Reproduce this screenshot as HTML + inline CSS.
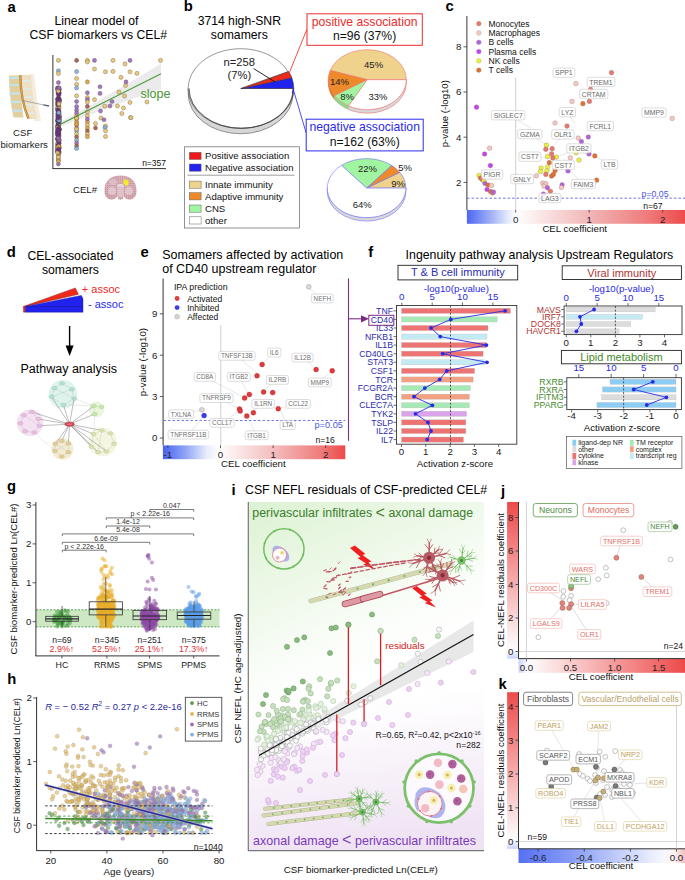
<!DOCTYPE html>
<html><head><meta charset="utf-8"><style>
html,body{margin:0;padding:0;background:#fff;}
svg{display:block;font-family:"Liberation Sans", sans-serif;}
</style></head><body>
<svg width="685" height="880" viewBox="0 0 685 880">
<defs>
<pattern id="brainpat" width="2.1" height="2.1" patternUnits="userSpaceOnUse"><rect width="2.1" height="2.1" fill="#dbb4bd"/><circle cx="0.6" cy="0.6" r="0.6" fill="#b77d8a"/></pattern>
<linearGradient id="cbar" x1="0" y1="0" x2="1" y2="0">
 <stop offset="0" stop-color="#4d66f2"/><stop offset="0.1" stop-color="#98aaf6"/><stop offset="0.19" stop-color="#e6ebfc"/><stop offset="0.23" stop-color="#ffffff"/><stop offset="0.28" stop-color="#fdf3f3"/><stop offset="0.55" stop-color="#f2b8b8"/><stop offset="0.8" stop-color="#ef8282"/><stop offset="1" stop-color="#ee4c4c"/>
</linearGradient>
<linearGradient id="cbarE" x1="0" y1="0" x2="1" y2="0">
 <stop offset="0" stop-color="#4a62f0"/><stop offset="0.12" stop-color="#8ea2f5"/><stop offset="0.24" stop-color="#e8ecfc"/><stop offset="0.31" stop-color="#ffffff"/><stop offset="0.36" stop-color="#fdf2f2"/><stop offset="0.62" stop-color="#f3baba"/><stop offset="0.85" stop-color="#ef8080"/><stop offset="1" stop-color="#ee4a4a"/>
</linearGradient>
<linearGradient id="cbarJx" x1="0" y1="0" x2="1" y2="0">
 <stop offset="0" stop-color="#c8d2fa"/><stop offset="0.05" stop-color="#fafaff"/><stop offset="0.1" stop-color="#fdf6f6"/><stop offset="1" stop-color="#ee4a4a"/>
</linearGradient>
<linearGradient id="cbarJy" x1="0" y1="1" x2="0" y2="0">
 <stop offset="0" stop-color="#c8d2fa"/><stop offset="0.05" stop-color="#fafaff"/><stop offset="0.1" stop-color="#fdf6f6"/><stop offset="1" stop-color="#ee4a4a"/>
</linearGradient>
<linearGradient id="cbarKx" x1="0" y1="0" x2="1" y2="0">
 <stop offset="0" stop-color="#5670f4"/><stop offset="0.3" stop-color="#8499f6"/><stop offset="0.6" stop-color="#c2cdfa"/><stop offset="0.86" stop-color="#f4f6fe"/><stop offset="0.93" stop-color="#fdf5f5"/><stop offset="1" stop-color="#f4c0c0"/>
</linearGradient>
<linearGradient id="cbarKy" x1="0" y1="1" x2="0" y2="0">
 <stop offset="0" stop-color="#c8d2fa"/><stop offset="0.05" stop-color="#fafaff"/><stop offset="0.1" stop-color="#fdf6f6"/><stop offset="1" stop-color="#ee4a4a"/>
</linearGradient>
<linearGradient id="igreen" x1="0" y1="0" x2="0.55" y2="1">
 <stop offset="0" stop-color="#dcf2d2"/><stop offset="0.55" stop-color="#f4fbf1"/><stop offset="1" stop-color="#ffffff" stop-opacity="0"/>
</linearGradient>
<linearGradient id="ipurp" x1="0.5" y1="1" x2="0.3" y2="0">
 <stop offset="0" stop-color="#efe2f3"/><stop offset="0.6" stop-color="#faf5fb"/><stop offset="1" stop-color="#ffffff" stop-opacity="0"/>
</linearGradient>
</defs>
<text x="7.6" y="11.5" font-size="14.8" font-weight="bold">a</text>
<text x="96.5" y="25" font-size="12.2" text-anchor="middle">Linear model of</text>
<text x="98.2" y="39" font-size="12.2" text-anchor="middle">CSF biomarkers vs CEL#</text>
<g><path d="M30 74 L34 74 Q36 98 41 121 L34 121 Q30 98 30 74 Z" fill="#f4ecdd"/><path d="M20 75 L31 75 Q32 97 37 119 L27 119 Q23 97 20 75 Z" fill="#ede0c4"/><path d="M9 75.5 L19.5 75.5 Q20 96 23.5 117.5 L13.5 117.5 Q9 96 9 75.5 Z" fill="#e2cf9f"/><path d="M9.5 78 h10 M9 85.1 h10.5 M9.3 93.5 h11 M10.3 102 h11 M12.3 110.8 h10.5" stroke="#bfe5f2" stroke-width="1.9"/><path d="M23 81 h7 M23.5 89 h7.5 M24.5 97 h7.5 M25.5 105 h7.5 M27 113 h7" stroke="#dceef4" stroke-width="1.6"/><path d="M20.3 75 Q20.5 100 28.5 118.5" fill="none" stroke="#b88333" stroke-width="2.4"/><path d="M20.3 75 Q20.5 100 28.5 118.5" fill="none" stroke="#d9a553" stroke-width="1.1"/><path d="M21.7 100.3 L44 105" stroke="#8c9096" stroke-width="0.7"/><path d="M43.4 104.8 L49 106" stroke="#5f646a" stroke-width="1.3"/></g>
<text x="22.7" y="135.6" font-size="9.6" fill="#222" text-anchor="middle">CSF</text>
<text x="24.2" y="147.5" font-size="9.6" fill="#222" text-anchor="middle">biomarkers</text>
<text x="73" y="192.7" font-size="9.6" fill="#222">CEL#</text>
<g><path d="M104.5 191 C104 181 111 175.5 120.5 175.5 C130 175.5 137 181 136.5 191 C136.5 197 133 200 128.5 199.5 C125.5 199 124 197 123.5 195.5 L123 199 Q120.5 200.5 118 199 L117.5 195.5 C117 197 115.5 199 112.5 199.5 C108 200 104.5 197 104.5 191 Z" fill="url(#brainpat)"/><ellipse cx="112" cy="191" rx="4" ry="4" fill="#e6cdd2" opacity="0.8"/><ellipse cx="129" cy="191" rx="4" ry="4" fill="#e6cdd2" opacity="0.8"/><ellipse cx="113" cy="182" rx="4" ry="3" fill="#e6cdd2" opacity="0.6"/><path d="M117 185 Q120.5 183 124 185 L123.5 196 Q120.5 198 117.5 196 Z" fill="#e4c8ce" opacity="0.8"/><path d="M118 185.5 q2.5 -1.5 5 0" stroke="#fff" stroke-width="0.8" fill="none"/><path d="M123.6 178 l1.2 2.2 l1.3 -1.6 l0.6 2.1 l2.1 -1 l-0.6 2.3 l1.4 1 l-1.8 0.8 l0.6 2.4 l-1.8 -1.2 l-1.2 1.2 l-0.8 -2.2 l-1.6 0.2 l0.9 -1.8 l-1.2 -1.5 l1.4 -0.2 z" fill="#f2f020"/></g>
<path d="M59 122.5 Q110 95 161 63.5 L161 89 Q110 106 59 127.5 Z" fill="#e9e9e9" opacity="0.9"/>
<line x1="52.9" y1="55" x2="52.9" y2="168.6" stroke="#333" stroke-width="1"/>
<line x1="52.4" y1="168.6" x2="166" y2="168.6" stroke="#333" stroke-width="1"/>
<circle cx="58.4" cy="60.4" r="2.05" fill="#eac56f" stroke="#5a4a3a" stroke-width="0.35" fill-opacity="0.92"/>
<circle cx="58.4" cy="70.8" r="2.05" fill="#7fb3e6" stroke="#5a4a3a" stroke-width="0.35" fill-opacity="0.92"/>
<circle cx="58.4" cy="73.5" r="2.05" fill="#eac56f" stroke="#5a4a3a" stroke-width="0.35" fill-opacity="0.92"/>
<circle cx="58.4" cy="82.6" r="2.05" fill="#9a6cc0" stroke="#5a4a3a" stroke-width="0.35" fill-opacity="0.92"/>
<circle cx="58.4" cy="164" r="2.05" fill="#9a6cc0" stroke="#5a4a3a" stroke-width="0.35" fill-opacity="0.92"/>
<circle cx="58.4" cy="160" r="2.05" fill="#7fb3e6" stroke="#5a4a3a" stroke-width="0.35" fill-opacity="0.92"/>
<circle cx="58.4" cy="158" r="2.05" fill="#eac56f" stroke="#5a4a3a" stroke-width="0.35" fill-opacity="0.92"/>
<circle cx="58.4" cy="155" r="2.05" fill="#e3a23a" stroke="#5a4a3a" stroke-width="0.35" fill-opacity="0.92"/>
<circle cx="58.4" cy="157" r="2.05" fill="#eac56f" stroke="#5a4a3a" stroke-width="0.35" fill-opacity="0.92"/>
<circle cx="58.4" cy="161" r="2.05" fill="#e3a23a" stroke="#5a4a3a" stroke-width="0.35" fill-opacity="0.92"/>
<circle cx="58.4" cy="153.5" r="2.05" fill="#eac56f" stroke="#5a4a3a" stroke-width="0.35" fill-opacity="0.92"/>
<circle cx="59.2" cy="116.9" r="2.05" fill="#66308c" stroke="#5a4a3a" stroke-width="0.35" fill-opacity="0.92"/>
<circle cx="58.6" cy="117.7" r="2.05" fill="#66308c" stroke="#5a4a3a" stroke-width="0.35" fill-opacity="0.92"/>
<circle cx="58.7" cy="99.2" r="2.05" fill="#66308c" stroke="#5a4a3a" stroke-width="0.35" fill-opacity="0.92"/>
<circle cx="58" cy="139.3" r="2.05" fill="#66308c" stroke="#5a4a3a" stroke-width="0.35" fill-opacity="0.92"/>
<circle cx="58.8" cy="93" r="2.05" fill="#9a6cc0" stroke="#5a4a3a" stroke-width="0.35" fill-opacity="0.92"/>
<circle cx="59.3" cy="89.8" r="2.05" fill="#7fb3e6" stroke="#5a4a3a" stroke-width="0.35" fill-opacity="0.92"/>
<circle cx="57.7" cy="130.2" r="2.05" fill="#66308c" stroke="#5a4a3a" stroke-width="0.35" fill-opacity="0.92"/>
<circle cx="57.5" cy="88" r="2.05" fill="#66308c" stroke="#5a4a3a" stroke-width="0.35" fill-opacity="0.92"/>
<circle cx="57.5" cy="99.6" r="2.05" fill="#66308c" stroke="#5a4a3a" stroke-width="0.35" fill-opacity="0.92"/>
<circle cx="59.1" cy="117.6" r="2.05" fill="#66308c" stroke="#5a4a3a" stroke-width="0.35" fill-opacity="0.92"/>
<circle cx="58.4" cy="121.3" r="2.05" fill="#66308c" stroke="#5a4a3a" stroke-width="0.35" fill-opacity="0.92"/>
<circle cx="58" cy="130.7" r="2.05" fill="#66308c" stroke="#5a4a3a" stroke-width="0.35" fill-opacity="0.92"/>
<circle cx="59.1" cy="152.8" r="2.05" fill="#7fb3e6" stroke="#5a4a3a" stroke-width="0.35" fill-opacity="0.92"/>
<circle cx="57.9" cy="133.7" r="2.05" fill="#66308c" stroke="#5a4a3a" stroke-width="0.35" fill-opacity="0.92"/>
<circle cx="58.9" cy="106.1" r="2.05" fill="#66308c" stroke="#5a4a3a" stroke-width="0.35" fill-opacity="0.92"/>
<circle cx="58.2" cy="113.4" r="2.05" fill="#e3a23a" stroke="#5a4a3a" stroke-width="0.35" fill-opacity="0.92"/>
<circle cx="57.4" cy="150.2" r="2.05" fill="#e3a23a" stroke="#5a4a3a" stroke-width="0.35" fill-opacity="0.92"/>
<circle cx="58.3" cy="100.8" r="2.05" fill="#eac56f" stroke="#5a4a3a" stroke-width="0.35" fill-opacity="0.92"/>
<circle cx="57.5" cy="151.7" r="2.05" fill="#66308c" stroke="#5a4a3a" stroke-width="0.35" fill-opacity="0.92"/>
<circle cx="57.9" cy="128.5" r="2.05" fill="#9a6cc0" stroke="#5a4a3a" stroke-width="0.35" fill-opacity="0.92"/>
<circle cx="59.3" cy="92.8" r="2.05" fill="#66308c" stroke="#5a4a3a" stroke-width="0.35" fill-opacity="0.92"/>
<circle cx="57.9" cy="137" r="2.05" fill="#66308c" stroke="#5a4a3a" stroke-width="0.35" fill-opacity="0.92"/>
<circle cx="59" cy="93.7" r="2.05" fill="#66308c" stroke="#5a4a3a" stroke-width="0.35" fill-opacity="0.92"/>
<circle cx="58.3" cy="98.7" r="2.05" fill="#66308c" stroke="#5a4a3a" stroke-width="0.35" fill-opacity="0.92"/>
<circle cx="57.7" cy="99.6" r="2.05" fill="#9a6cc0" stroke="#5a4a3a" stroke-width="0.35" fill-opacity="0.92"/>
<circle cx="58.2" cy="129.5" r="2.05" fill="#66308c" stroke="#5a4a3a" stroke-width="0.35" fill-opacity="0.92"/>
<circle cx="59.3" cy="101" r="2.05" fill="#66308c" stroke="#5a4a3a" stroke-width="0.35" fill-opacity="0.92"/>
<circle cx="59.2" cy="140" r="2.05" fill="#66308c" stroke="#5a4a3a" stroke-width="0.35" fill-opacity="0.92"/>
<circle cx="59.1" cy="100.9" r="2.05" fill="#66308c" stroke="#5a4a3a" stroke-width="0.35" fill-opacity="0.92"/>
<circle cx="59.4" cy="129.4" r="2.05" fill="#66308c" stroke="#5a4a3a" stroke-width="0.35" fill-opacity="0.92"/>
<circle cx="58.9" cy="101.1" r="2.05" fill="#66308c" stroke="#5a4a3a" stroke-width="0.35" fill-opacity="0.92"/>
<circle cx="57.5" cy="108.7" r="2.05" fill="#66308c" stroke="#5a4a3a" stroke-width="0.35" fill-opacity="0.92"/>
<circle cx="57.9" cy="92.9" r="2.05" fill="#66308c" stroke="#5a4a3a" stroke-width="0.35" fill-opacity="0.92"/>
<circle cx="58.3" cy="126.7" r="2.05" fill="#66308c" stroke="#5a4a3a" stroke-width="0.35" fill-opacity="0.92"/>
<circle cx="58.5" cy="150.3" r="2.05" fill="#66308c" stroke="#5a4a3a" stroke-width="0.35" fill-opacity="0.92"/>
<circle cx="57.7" cy="144.2" r="2.05" fill="#66308c" stroke="#5a4a3a" stroke-width="0.35" fill-opacity="0.92"/>
<circle cx="57.9" cy="147" r="2.05" fill="#9a6cc0" stroke="#5a4a3a" stroke-width="0.35" fill-opacity="0.92"/>
<circle cx="59.3" cy="99.5" r="2.05" fill="#9a6cc0" stroke="#5a4a3a" stroke-width="0.35" fill-opacity="0.92"/>
<circle cx="59.2" cy="100" r="2.05" fill="#eac56f" stroke="#5a4a3a" stroke-width="0.35" fill-opacity="0.92"/>
<circle cx="57.6" cy="126.8" r="2.05" fill="#66308c" stroke="#5a4a3a" stroke-width="0.35" fill-opacity="0.92"/>
<circle cx="57.9" cy="89.6" r="2.05" fill="#eac56f" stroke="#5a4a3a" stroke-width="0.35" fill-opacity="0.92"/>
<circle cx="59" cy="133.5" r="2.05" fill="#66308c" stroke="#5a4a3a" stroke-width="0.35" fill-opacity="0.92"/>
<circle cx="57.8" cy="126.4" r="2.05" fill="#66308c" stroke="#5a4a3a" stroke-width="0.35" fill-opacity="0.92"/>
<circle cx="57.9" cy="134.5" r="2.05" fill="#66308c" stroke="#5a4a3a" stroke-width="0.35" fill-opacity="0.92"/>
<circle cx="58.6" cy="123.9" r="2.05" fill="#e3a23a" stroke="#5a4a3a" stroke-width="0.35" fill-opacity="0.92"/>
<circle cx="57.8" cy="105.5" r="2.05" fill="#eac56f" stroke="#5a4a3a" stroke-width="0.35" fill-opacity="0.92"/>
<circle cx="58.3" cy="88.1" r="2.05" fill="#66308c" stroke="#5a4a3a" stroke-width="0.35" fill-opacity="0.92"/>
<circle cx="58.1" cy="91" r="2.05" fill="#66308c" stroke="#5a4a3a" stroke-width="0.35" fill-opacity="0.92"/>
<circle cx="58.1" cy="124.8" r="2.05" fill="#66308c" stroke="#5a4a3a" stroke-width="0.35" fill-opacity="0.92"/>
<circle cx="58.7" cy="145.8" r="2.05" fill="#7fb3e6" stroke="#5a4a3a" stroke-width="0.35" fill-opacity="0.92"/>
<circle cx="57.7" cy="132.6" r="2.05" fill="#66308c" stroke="#5a4a3a" stroke-width="0.35" fill-opacity="0.92"/>
<circle cx="59.2" cy="89.3" r="2.05" fill="#66308c" stroke="#5a4a3a" stroke-width="0.35" fill-opacity="0.92"/>
<circle cx="57.4" cy="133.3" r="2.05" fill="#eac56f" stroke="#5a4a3a" stroke-width="0.35" fill-opacity="0.92"/>
<circle cx="58.9" cy="129" r="2.05" fill="#66308c" stroke="#5a4a3a" stroke-width="0.35" fill-opacity="0.92"/>
<circle cx="57.6" cy="108" r="2.05" fill="#7fb3e6" stroke="#5a4a3a" stroke-width="0.35" fill-opacity="0.92"/>
<circle cx="59.2" cy="123" r="2.05" fill="#9a6cc0" stroke="#5a4a3a" stroke-width="0.35" fill-opacity="0.92"/>
<circle cx="59" cy="135.6" r="2.05" fill="#9a6cc0" stroke="#5a4a3a" stroke-width="0.35" fill-opacity="0.92"/>
<circle cx="58.8" cy="147.4" r="2.05" fill="#66308c" stroke="#5a4a3a" stroke-width="0.35" fill-opacity="0.92"/>
<circle cx="58.2" cy="146.5" r="2.05" fill="#e3a23a" stroke="#5a4a3a" stroke-width="0.35" fill-opacity="0.92"/>
<circle cx="58.5" cy="139.2" r="2.05" fill="#e3a23a" stroke="#5a4a3a" stroke-width="0.35" fill-opacity="0.92"/>
<circle cx="58.6" cy="128.2" r="2.05" fill="#66308c" stroke="#5a4a3a" stroke-width="0.35" fill-opacity="0.92"/>
<circle cx="58.7" cy="127.2" r="2.05" fill="#66308c" stroke="#5a4a3a" stroke-width="0.35" fill-opacity="0.92"/>
<circle cx="58.9" cy="152.6" r="2.05" fill="#e3a23a" stroke="#5a4a3a" stroke-width="0.35" fill-opacity="0.92"/>
<circle cx="58.6" cy="112.6" r="2.05" fill="#9a6cc0" stroke="#5a4a3a" stroke-width="0.35" fill-opacity="0.92"/>
<circle cx="57.6" cy="116.1" r="2.05" fill="#9a6cc0" stroke="#5a4a3a" stroke-width="0.35" fill-opacity="0.92"/>
<circle cx="58.6" cy="136.5" r="2.05" fill="#66308c" stroke="#5a4a3a" stroke-width="0.35" fill-opacity="0.92"/>
<circle cx="58.8" cy="118.7" r="2.05" fill="#66308c" stroke="#5a4a3a" stroke-width="0.35" fill-opacity="0.92"/>
<circle cx="59.2" cy="119.8" r="2.05" fill="#66308c" stroke="#5a4a3a" stroke-width="0.35" fill-opacity="0.92"/>
<circle cx="58" cy="103.9" r="2.05" fill="#66308c" stroke="#5a4a3a" stroke-width="0.35" fill-opacity="0.92"/>
<circle cx="57.7" cy="131.8" r="2.05" fill="#66308c" stroke="#5a4a3a" stroke-width="0.35" fill-opacity="0.92"/>
<circle cx="58.3" cy="146.8" r="2.05" fill="#66308c" stroke="#5a4a3a" stroke-width="0.35" fill-opacity="0.92"/>
<circle cx="58.7" cy="145.9" r="2.05" fill="#66308c" stroke="#5a4a3a" stroke-width="0.35" fill-opacity="0.92"/>
<circle cx="59" cy="100.1" r="2.05" fill="#66308c" stroke="#5a4a3a" stroke-width="0.35" fill-opacity="0.92"/>
<circle cx="58.2" cy="147.3" r="2.05" fill="#e3a23a" stroke="#5a4a3a" stroke-width="0.35" fill-opacity="0.92"/>
<circle cx="57.7" cy="125.5" r="2.05" fill="#66308c" stroke="#5a4a3a" stroke-width="0.35" fill-opacity="0.92"/>
<circle cx="59.1" cy="119.8" r="2.05" fill="#9a6cc0" stroke="#5a4a3a" stroke-width="0.35" fill-opacity="0.92"/>
<circle cx="58" cy="133.9" r="2.05" fill="#eac56f" stroke="#5a4a3a" stroke-width="0.35" fill-opacity="0.92"/>
<circle cx="58" cy="98.2" r="2.05" fill="#66308c" stroke="#5a4a3a" stroke-width="0.35" fill-opacity="0.92"/>
<circle cx="58.7" cy="101.1" r="2.05" fill="#66308c" stroke="#5a4a3a" stroke-width="0.35" fill-opacity="0.92"/>
<circle cx="59.1" cy="119.6" r="2.05" fill="#66308c" stroke="#5a4a3a" stroke-width="0.35" fill-opacity="0.92"/>
<circle cx="57.5" cy="151.8" r="2.05" fill="#66308c" stroke="#5a4a3a" stroke-width="0.35" fill-opacity="0.92"/>
<circle cx="57.5" cy="89.1" r="2.05" fill="#e3a23a" stroke="#5a4a3a" stroke-width="0.35" fill-opacity="0.92"/>
<circle cx="58" cy="133.8" r="2.05" fill="#66308c" stroke="#5a4a3a" stroke-width="0.35" fill-opacity="0.92"/>
<circle cx="57.7" cy="139.2" r="2.05" fill="#66308c" stroke="#5a4a3a" stroke-width="0.35" fill-opacity="0.92"/>
<circle cx="59.1" cy="117" r="2.05" fill="#66308c" stroke="#5a4a3a" stroke-width="0.35" fill-opacity="0.92"/>
<circle cx="57.5" cy="102.7" r="2.05" fill="#66308c" stroke="#5a4a3a" stroke-width="0.35" fill-opacity="0.92"/>
<circle cx="58.7" cy="128.5" r="2.05" fill="#66308c" stroke="#5a4a3a" stroke-width="0.35" fill-opacity="0.92"/>
<circle cx="59.3" cy="130.2" r="2.05" fill="#9a6cc0" stroke="#5a4a3a" stroke-width="0.35" fill-opacity="0.92"/>
<circle cx="58.4" cy="132.2" r="2.05" fill="#66308c" stroke="#5a4a3a" stroke-width="0.35" fill-opacity="0.92"/>
<circle cx="58.3" cy="98.8" r="2.05" fill="#66308c" stroke="#5a4a3a" stroke-width="0.35" fill-opacity="0.92"/>
<circle cx="57.9" cy="134.1" r="2.05" fill="#66308c" stroke="#5a4a3a" stroke-width="0.35" fill-opacity="0.92"/>
<circle cx="58.4" cy="109.8" r="2.05" fill="#66308c" stroke="#5a4a3a" stroke-width="0.35" fill-opacity="0.92"/>
<circle cx="58.2" cy="127.6" r="2.05" fill="#9a6cc0" stroke="#5a4a3a" stroke-width="0.35" fill-opacity="0.92"/>
<circle cx="57.6" cy="139.3" r="2.05" fill="#e3a23a" stroke="#5a4a3a" stroke-width="0.35" fill-opacity="0.92"/>
<circle cx="57.7" cy="148.6" r="2.05" fill="#9a6cc0" stroke="#5a4a3a" stroke-width="0.35" fill-opacity="0.92"/>
<circle cx="59.2" cy="116.9" r="2.05" fill="#66308c" stroke="#5a4a3a" stroke-width="0.35" fill-opacity="0.92"/>
<circle cx="59.2" cy="111.9" r="2.05" fill="#66308c" stroke="#5a4a3a" stroke-width="0.35" fill-opacity="0.92"/>
<circle cx="58.3" cy="139.6" r="2.05" fill="#eac56f" stroke="#5a4a3a" stroke-width="0.35" fill-opacity="0.92"/>
<circle cx="58.8" cy="130" r="2.05" fill="#66308c" stroke="#5a4a3a" stroke-width="0.35" fill-opacity="0.92"/>
<circle cx="58.8" cy="141" r="2.05" fill="#66308c" stroke="#5a4a3a" stroke-width="0.35" fill-opacity="0.92"/>
<circle cx="59.4" cy="101.1" r="2.05" fill="#e3a23a" stroke="#5a4a3a" stroke-width="0.35" fill-opacity="0.92"/>
<circle cx="59" cy="151.5" r="2.05" fill="#66308c" stroke="#5a4a3a" stroke-width="0.35" fill-opacity="0.92"/>
<circle cx="59.1" cy="108.1" r="2.05" fill="#e3a23a" stroke="#5a4a3a" stroke-width="0.35" fill-opacity="0.92"/>
<circle cx="58.3" cy="110" r="2.05" fill="#66308c" stroke="#5a4a3a" stroke-width="0.35" fill-opacity="0.92"/>
<circle cx="58.4" cy="123.3" r="2.05" fill="#9a6cc0" stroke="#5a4a3a" stroke-width="0.35" fill-opacity="0.92"/>
<circle cx="57.5" cy="88.9" r="2.05" fill="#9a6cc0" stroke="#5a4a3a" stroke-width="0.35" fill-opacity="0.92"/>
<circle cx="58.1" cy="139.8" r="2.05" fill="#66308c" stroke="#5a4a3a" stroke-width="0.35" fill-opacity="0.92"/>
<circle cx="57.7" cy="139" r="2.05" fill="#66308c" stroke="#5a4a3a" stroke-width="0.35" fill-opacity="0.92"/>
<circle cx="59.1" cy="121.1" r="2.05" fill="#9a6cc0" stroke="#5a4a3a" stroke-width="0.35" fill-opacity="0.92"/>
<circle cx="58.4" cy="132.5" r="2.05" fill="#eac56f" stroke="#5a4a3a" stroke-width="0.35" fill-opacity="0.92"/>
<circle cx="57.8" cy="149.6" r="2.05" fill="#66308c" stroke="#5a4a3a" stroke-width="0.35" fill-opacity="0.92"/>
<circle cx="58.9" cy="121.8" r="2.05" fill="#66308c" stroke="#5a4a3a" stroke-width="0.35" fill-opacity="0.92"/>
<circle cx="59.1" cy="129.2" r="2.05" fill="#66308c" stroke="#5a4a3a" stroke-width="0.35" fill-opacity="0.92"/>
<circle cx="58.2" cy="124" r="2.05" fill="#66308c" stroke="#5a4a3a" stroke-width="0.35" fill-opacity="0.92"/>
<circle cx="57.8" cy="142.8" r="2.05" fill="#e3a23a" stroke="#5a4a3a" stroke-width="0.35" fill-opacity="0.92"/>
<circle cx="58.4" cy="143.2" r="2.05" fill="#eac56f" stroke="#5a4a3a" stroke-width="0.35" fill-opacity="0.92"/>
<circle cx="58.5" cy="124.8" r="2.05" fill="#66308c" stroke="#5a4a3a" stroke-width="0.35" fill-opacity="0.92"/>
<circle cx="57.5" cy="120.2" r="2.05" fill="#66308c" stroke="#5a4a3a" stroke-width="0.35" fill-opacity="0.92"/>
<circle cx="58.2" cy="151" r="2.05" fill="#66308c" stroke="#5a4a3a" stroke-width="0.35" fill-opacity="0.92"/>
<circle cx="58.4" cy="139.9" r="2.05" fill="#66308c" stroke="#5a4a3a" stroke-width="0.35" fill-opacity="0.92"/>
<circle cx="58.5" cy="132.6" r="2.05" fill="#66308c" stroke="#5a4a3a" stroke-width="0.35" fill-opacity="0.92"/>
<circle cx="59.2" cy="114.3" r="2.05" fill="#eac56f" stroke="#5a4a3a" stroke-width="0.35" fill-opacity="0.92"/>
<circle cx="57.7" cy="104.8" r="2.05" fill="#66308c" stroke="#5a4a3a" stroke-width="0.35" fill-opacity="0.92"/>
<circle cx="59.2" cy="115.6" r="2.05" fill="#9a6cc0" stroke="#5a4a3a" stroke-width="0.35" fill-opacity="0.92"/>
<circle cx="57.8" cy="118.5" r="2.05" fill="#66308c" stroke="#5a4a3a" stroke-width="0.35" fill-opacity="0.92"/>
<circle cx="57.7" cy="127.8" r="2.05" fill="#eac56f" stroke="#5a4a3a" stroke-width="0.35" fill-opacity="0.92"/>
<circle cx="57.8" cy="138.4" r="2.05" fill="#66308c" stroke="#5a4a3a" stroke-width="0.35" fill-opacity="0.92"/>
<circle cx="58" cy="102" r="2.05" fill="#66308c" stroke="#5a4a3a" stroke-width="0.35" fill-opacity="0.92"/>
<circle cx="57.6" cy="110.5" r="2.05" fill="#66308c" stroke="#5a4a3a" stroke-width="0.35" fill-opacity="0.92"/>
<circle cx="58.4" cy="135.2" r="2.05" fill="#66308c" stroke="#5a4a3a" stroke-width="0.35" fill-opacity="0.92"/>
<circle cx="58.5" cy="103.5" r="2.05" fill="#66308c" stroke="#5a4a3a" stroke-width="0.35" fill-opacity="0.92"/>
<circle cx="58.2" cy="115.8" r="2.05" fill="#66308c" stroke="#5a4a3a" stroke-width="0.35" fill-opacity="0.92"/>
<circle cx="57.8" cy="121.9" r="2.05" fill="#66308c" stroke="#5a4a3a" stroke-width="0.35" fill-opacity="0.92"/>
<circle cx="58.5" cy="128.7" r="2.05" fill="#66308c" stroke="#5a4a3a" stroke-width="0.35" fill-opacity="0.92"/>
<circle cx="59.1" cy="143.2" r="2.05" fill="#66308c" stroke="#5a4a3a" stroke-width="0.35" fill-opacity="0.92"/>
<circle cx="59" cy="102.4" r="2.05" fill="#9a6cc0" stroke="#5a4a3a" stroke-width="0.35" fill-opacity="0.92"/>
<circle cx="58" cy="146.6" r="2.05" fill="#66308c" stroke="#5a4a3a" stroke-width="0.35" fill-opacity="0.92"/>
<circle cx="59.4" cy="147.9" r="2.05" fill="#66308c" stroke="#5a4a3a" stroke-width="0.35" fill-opacity="0.92"/>
<circle cx="57.9" cy="145.6" r="2.05" fill="#66308c" stroke="#5a4a3a" stroke-width="0.35" fill-opacity="0.92"/>
<circle cx="57.6" cy="135" r="2.05" fill="#66308c" stroke="#5a4a3a" stroke-width="0.35" fill-opacity="0.92"/>
<circle cx="59" cy="141.9" r="2.05" fill="#66308c" stroke="#5a4a3a" stroke-width="0.35" fill-opacity="0.92"/>
<circle cx="58.8" cy="95.3" r="2.05" fill="#66308c" stroke="#5a4a3a" stroke-width="0.35" fill-opacity="0.92"/>
<circle cx="58.8" cy="88.2" r="2.05" fill="#66308c" stroke="#5a4a3a" stroke-width="0.35" fill-opacity="0.92"/>
<circle cx="57.6" cy="147.2" r="2.05" fill="#eac56f" stroke="#5a4a3a" stroke-width="0.35" fill-opacity="0.92"/>
<circle cx="58.4" cy="120.4" r="2.05" fill="#9a6cc0" stroke="#5a4a3a" stroke-width="0.35" fill-opacity="0.92"/>
<circle cx="57.5" cy="132.3" r="2.05" fill="#66308c" stroke="#5a4a3a" stroke-width="0.35" fill-opacity="0.92"/>
<circle cx="58.5" cy="94" r="2.05" fill="#66308c" stroke="#5a4a3a" stroke-width="0.35" fill-opacity="0.92"/>
<circle cx="57.7" cy="121" r="2.05" fill="#66308c" stroke="#5a4a3a" stroke-width="0.35" fill-opacity="0.92"/>
<circle cx="59.1" cy="99.2" r="2.05" fill="#66308c" stroke="#5a4a3a" stroke-width="0.35" fill-opacity="0.92"/>
<circle cx="57.6" cy="152.4" r="2.05" fill="#eac56f" stroke="#5a4a3a" stroke-width="0.35" fill-opacity="0.92"/>
<circle cx="58.3" cy="91.1" r="2.05" fill="#eac56f" stroke="#5a4a3a" stroke-width="0.35" fill-opacity="0.92"/>
<circle cx="58.3" cy="137.5" r="2.05" fill="#66308c" stroke="#5a4a3a" stroke-width="0.35" fill-opacity="0.92"/>
<circle cx="58.6" cy="121" r="2.05" fill="#66308c" stroke="#5a4a3a" stroke-width="0.35" fill-opacity="0.92"/>
<circle cx="59.1" cy="87.9" r="2.05" fill="#9a6cc0" stroke="#5a4a3a" stroke-width="0.35" fill-opacity="0.92"/>
<circle cx="58.9" cy="99" r="2.05" fill="#66308c" stroke="#5a4a3a" stroke-width="0.35" fill-opacity="0.92"/>
<circle cx="57.7" cy="113.7" r="2.05" fill="#66308c" stroke="#5a4a3a" stroke-width="0.35" fill-opacity="0.92"/>
<circle cx="59.2" cy="120.8" r="2.05" fill="#66308c" stroke="#5a4a3a" stroke-width="0.35" fill-opacity="0.92"/>
<circle cx="59.1" cy="139.9" r="2.05" fill="#9a6cc0" stroke="#5a4a3a" stroke-width="0.35" fill-opacity="0.92"/>
<circle cx="58.6" cy="128.5" r="2.05" fill="#66308c" stroke="#5a4a3a" stroke-width="0.35" fill-opacity="0.92"/>
<circle cx="59" cy="120.3" r="2.05" fill="#7fb3e6" stroke="#5a4a3a" stroke-width="0.35" fill-opacity="0.92"/>
<circle cx="58.9" cy="104" r="2.05" fill="#eac56f" stroke="#5a4a3a" stroke-width="0.35" fill-opacity="0.92"/>
<circle cx="58.2" cy="138.3" r="2.05" fill="#9a6cc0" stroke="#5a4a3a" stroke-width="0.35" fill-opacity="0.92"/>
<circle cx="58.8" cy="146.2" r="2.05" fill="#e3a23a" stroke="#5a4a3a" stroke-width="0.35" fill-opacity="0.92"/>
<circle cx="58.2" cy="137.6" r="2.05" fill="#9a6cc0" stroke="#5a4a3a" stroke-width="0.35" fill-opacity="0.92"/>
<circle cx="58.1" cy="134.7" r="2.05" fill="#66308c" stroke="#5a4a3a" stroke-width="0.35" fill-opacity="0.92"/>
<circle cx="58.1" cy="117.9" r="2.05" fill="#66308c" stroke="#5a4a3a" stroke-width="0.35" fill-opacity="0.92"/>
<circle cx="57.9" cy="129.2" r="2.05" fill="#66308c" stroke="#5a4a3a" stroke-width="0.35" fill-opacity="0.92"/>
<circle cx="58.1" cy="149.3" r="2.05" fill="#66308c" stroke="#5a4a3a" stroke-width="0.35" fill-opacity="0.92"/>
<circle cx="58.5" cy="130.5" r="2.05" fill="#66308c" stroke="#5a4a3a" stroke-width="0.35" fill-opacity="0.92"/>
<circle cx="58.7" cy="112.7" r="2.05" fill="#7fb3e6" stroke="#5a4a3a" stroke-width="0.35" fill-opacity="0.92"/>
<circle cx="76.6" cy="60.4" r="2.05" fill="#a8594a" stroke="#5a4a3a" stroke-width="0.35" fill-opacity="0.92"/>
<circle cx="76.6" cy="71.6" r="2.05" fill="#7fb3e6" stroke="#5a4a3a" stroke-width="0.35" fill-opacity="0.92"/>
<circle cx="76.6" cy="78.5" r="2.05" fill="#eac56f" stroke="#5a4a3a" stroke-width="0.35" fill-opacity="0.92"/>
<circle cx="76.6" cy="84.2" r="2.05" fill="#eac56f" stroke="#5a4a3a" stroke-width="0.35" fill-opacity="0.92"/>
<circle cx="76.6" cy="88" r="2.05" fill="#7fb3e6" stroke="#5a4a3a" stroke-width="0.35" fill-opacity="0.92"/>
<circle cx="76.6" cy="95.8" r="2.05" fill="#eac56f" stroke="#5a4a3a" stroke-width="0.35" fill-opacity="0.92"/>
<circle cx="76.6" cy="101.6" r="2.05" fill="#9a6cc0" stroke="#5a4a3a" stroke-width="0.35" fill-opacity="0.92"/>
<circle cx="76.6" cy="106.6" r="2.05" fill="#9a6cc0" stroke="#5a4a3a" stroke-width="0.35" fill-opacity="0.92"/>
<circle cx="76.6" cy="110" r="2.05" fill="#9a6cc0" stroke="#5a4a3a" stroke-width="0.35" fill-opacity="0.92"/>
<circle cx="76.6" cy="113" r="2.05" fill="#9a6cc0" stroke="#5a4a3a" stroke-width="0.35" fill-opacity="0.92"/>
<circle cx="76.6" cy="116" r="2.05" fill="#e3a23a" stroke="#5a4a3a" stroke-width="0.35" fill-opacity="0.92"/>
<circle cx="76.6" cy="119" r="2.05" fill="#eac56f" stroke="#5a4a3a" stroke-width="0.35" fill-opacity="0.92"/>
<circle cx="76.6" cy="122" r="2.05" fill="#e3a23a" stroke="#5a4a3a" stroke-width="0.35" fill-opacity="0.92"/>
<circle cx="76.6" cy="125" r="2.05" fill="#eac56f" stroke="#5a4a3a" stroke-width="0.35" fill-opacity="0.92"/>
<circle cx="76.6" cy="128" r="2.05" fill="#9a6cc0" stroke="#5a4a3a" stroke-width="0.35" fill-opacity="0.92"/>
<circle cx="76.6" cy="131" r="2.05" fill="#7fb3e6" stroke="#5a4a3a" stroke-width="0.35" fill-opacity="0.92"/>
<circle cx="76.6" cy="134" r="2.05" fill="#eac56f" stroke="#5a4a3a" stroke-width="0.35" fill-opacity="0.92"/>
<circle cx="76.6" cy="137" r="2.05" fill="#a8594a" stroke="#5a4a3a" stroke-width="0.35" fill-opacity="0.92"/>
<circle cx="76.6" cy="140" r="2.05" fill="#7fb3e6" stroke="#5a4a3a" stroke-width="0.35" fill-opacity="0.92"/>
<circle cx="76.6" cy="143" r="2.05" fill="#9a6cc0" stroke="#5a4a3a" stroke-width="0.35" fill-opacity="0.92"/>
<circle cx="76.6" cy="146" r="2.05" fill="#a8594a" stroke="#5a4a3a" stroke-width="0.35" fill-opacity="0.92"/>
<circle cx="76.6" cy="148.5" r="2.05" fill="#7fb3e6" stroke="#5a4a3a" stroke-width="0.35" fill-opacity="0.92"/>
<circle cx="76.6" cy="118" r="2.05" fill="#eac56f" stroke="#5a4a3a" stroke-width="0.35" fill-opacity="0.92"/>
<circle cx="76.6" cy="124" r="2.05" fill="#e3a23a" stroke="#5a4a3a" stroke-width="0.35" fill-opacity="0.92"/>
<circle cx="76.6" cy="129" r="2.05" fill="#eac56f" stroke="#5a4a3a" stroke-width="0.35" fill-opacity="0.92"/>
<circle cx="87.4" cy="60.4" r="2.05" fill="#eac56f" stroke="#5a4a3a" stroke-width="0.35" fill-opacity="0.92"/>
<circle cx="87.4" cy="62" r="2.05" fill="#eac56f" stroke="#5a4a3a" stroke-width="0.35" fill-opacity="0.92"/>
<circle cx="87.4" cy="81.9" r="2.05" fill="#e3a23a" stroke="#5a4a3a" stroke-width="0.35" fill-opacity="0.92"/>
<circle cx="87.4" cy="92.7" r="2.05" fill="#9a6cc0" stroke="#5a4a3a" stroke-width="0.35" fill-opacity="0.92"/>
<circle cx="87.4" cy="97.5" r="2.05" fill="#eac56f" stroke="#5a4a3a" stroke-width="0.35" fill-opacity="0.92"/>
<circle cx="87.4" cy="99.5" r="2.05" fill="#9a6cc0" stroke="#5a4a3a" stroke-width="0.35" fill-opacity="0.92"/>
<circle cx="87.4" cy="106.4" r="2.05" fill="#a8594a" stroke="#5a4a3a" stroke-width="0.35" fill-opacity="0.92"/>
<circle cx="87.4" cy="111.7" r="2.05" fill="#eac56f" stroke="#5a4a3a" stroke-width="0.35" fill-opacity="0.92"/>
<circle cx="87.4" cy="116" r="2.05" fill="#eac56f" stroke="#5a4a3a" stroke-width="0.35" fill-opacity="0.92"/>
<circle cx="87.4" cy="122" r="2.05" fill="#e3a23a" stroke="#5a4a3a" stroke-width="0.35" fill-opacity="0.92"/>
<circle cx="87.4" cy="125" r="2.05" fill="#eac56f" stroke="#5a4a3a" stroke-width="0.35" fill-opacity="0.92"/>
<circle cx="87.4" cy="128" r="2.05" fill="#e3a23a" stroke="#5a4a3a" stroke-width="0.35" fill-opacity="0.92"/>
<circle cx="87.4" cy="131" r="2.05" fill="#a8594a" stroke="#5a4a3a" stroke-width="0.35" fill-opacity="0.92"/>
<circle cx="87.4" cy="134" r="2.05" fill="#eac56f" stroke="#5a4a3a" stroke-width="0.35" fill-opacity="0.92"/>
<circle cx="87.4" cy="136.7" r="2.05" fill="#e3a23a" stroke="#5a4a3a" stroke-width="0.35" fill-opacity="0.92"/>
<circle cx="87.4" cy="102" r="2.05" fill="#eac56f" stroke="#5a4a3a" stroke-width="0.35" fill-opacity="0.92"/>
<circle cx="87.4" cy="119" r="2.05" fill="#9a6cc0" stroke="#5a4a3a" stroke-width="0.35" fill-opacity="0.92"/>
<circle cx="94.5" cy="60.4" r="2.05" fill="#9a6cc0" stroke="#5a4a3a" stroke-width="0.35" fill-opacity="0.92"/>
<circle cx="94.5" cy="69" r="2.05" fill="#eac56f" stroke="#5a4a3a" stroke-width="0.35" fill-opacity="0.92"/>
<circle cx="94.5" cy="99.6" r="2.05" fill="#eac56f" stroke="#5a4a3a" stroke-width="0.35" fill-opacity="0.92"/>
<circle cx="95.5" cy="123.5" r="2.05" fill="#eac56f" stroke="#5a4a3a" stroke-width="0.35" fill-opacity="0.92"/>
<circle cx="95.5" cy="128" r="2.05" fill="#a8594a" stroke="#5a4a3a" stroke-width="0.35" fill-opacity="0.92"/>
<circle cx="100" cy="86.8" r="2.05" fill="#9a6cc0" stroke="#5a4a3a" stroke-width="0.35" fill-opacity="0.92"/>
<circle cx="100" cy="93.4" r="2.05" fill="#9a6cc0" stroke="#5a4a3a" stroke-width="0.35" fill-opacity="0.92"/>
<circle cx="100.5" cy="111" r="2.05" fill="#9a6cc0" stroke="#5a4a3a" stroke-width="0.35" fill-opacity="0.92"/>
<circle cx="101" cy="118" r="2.05" fill="#eac56f" stroke="#5a4a3a" stroke-width="0.35" fill-opacity="0.92"/>
<circle cx="104.8" cy="106.2" r="2.05" fill="#eac56f" stroke="#5a4a3a" stroke-width="0.35" fill-opacity="0.92"/>
<circle cx="105.4" cy="71.8" r="2.05" fill="#eac56f" stroke="#5a4a3a" stroke-width="0.35" fill-opacity="0.92"/>
<circle cx="105.5" cy="126" r="2.05" fill="#eac56f" stroke="#5a4a3a" stroke-width="0.35" fill-opacity="0.92"/>
<circle cx="105" cy="127.6" r="2.05" fill="#7fb3e6" stroke="#5a4a3a" stroke-width="0.35" fill-opacity="0.92"/>
<circle cx="105.5" cy="130.8" r="2.05" fill="#eac56f" stroke="#5a4a3a" stroke-width="0.35" fill-opacity="0.92"/>
<circle cx="105.5" cy="136.5" r="2.05" fill="#eac56f" stroke="#5a4a3a" stroke-width="0.35" fill-opacity="0.92"/>
<circle cx="104" cy="119.7" r="2.05" fill="#9a6cc0" stroke="#5a4a3a" stroke-width="0.35" fill-opacity="0.92"/>
<circle cx="110" cy="106" r="2.05" fill="#9a6cc0" stroke="#5a4a3a" stroke-width="0.35" fill-opacity="0.92"/>
<circle cx="113" cy="60.4" r="2.05" fill="#eac56f" stroke="#5a4a3a" stroke-width="0.35" fill-opacity="0.92"/>
<circle cx="113" cy="71.4" r="2.05" fill="#eac56f" stroke="#5a4a3a" stroke-width="0.35" fill-opacity="0.92"/>
<circle cx="117.5" cy="106" r="2.05" fill="#eac56f" stroke="#5a4a3a" stroke-width="0.35" fill-opacity="0.92"/>
<circle cx="121" cy="77.4" r="2.05" fill="#eac56f" stroke="#5a4a3a" stroke-width="0.35" fill-opacity="0.92"/>
<circle cx="121.8" cy="113.5" r="2.05" fill="#eac56f" stroke="#5a4a3a" stroke-width="0.35" fill-opacity="0.92"/>
<circle cx="125" cy="63.9" r="2.05" fill="#eac56f" stroke="#5a4a3a" stroke-width="0.35" fill-opacity="0.92"/>
<circle cx="125.5" cy="85.5" r="2.05" fill="#eac56f" stroke="#5a4a3a" stroke-width="0.35" fill-opacity="0.92"/>
<circle cx="126" cy="81.9" r="2.05" fill="#9a6cc0" stroke="#5a4a3a" stroke-width="0.35" fill-opacity="0.92"/>
<circle cx="130" cy="60.4" r="2.05" fill="#9a6cc0" stroke="#5a4a3a" stroke-width="0.35" fill-opacity="0.92"/>
<circle cx="130" cy="71.8" r="2.05" fill="#eac56f" stroke="#5a4a3a" stroke-width="0.35" fill-opacity="0.92"/>
<circle cx="130" cy="102.5" r="2.05" fill="#eac56f" stroke="#5a4a3a" stroke-width="0.35" fill-opacity="0.92"/>
<circle cx="137" cy="73.4" r="2.05" fill="#eac56f" stroke="#5a4a3a" stroke-width="0.35" fill-opacity="0.92"/>
<circle cx="130.5" cy="117.5" r="2.05" fill="#eac56f" stroke="#5a4a3a" stroke-width="0.35" fill-opacity="0.92"/>
<circle cx="131" cy="117.7" r="2.05" fill="#eac56f" stroke="#5a4a3a" stroke-width="0.35" fill-opacity="0.92"/>
<circle cx="147" cy="102" r="2.05" fill="#eac56f" stroke="#5a4a3a" stroke-width="0.35" fill-opacity="0.92"/>
<circle cx="160.5" cy="60.4" r="2.05" fill="#eac56f" stroke="#5a4a3a" stroke-width="0.35" fill-opacity="0.92"/>
<circle cx="124.5" cy="96" r="2.05" fill="#eac56f" stroke="#5a4a3a" stroke-width="0.35" fill-opacity="0.92"/>
<circle cx="119" cy="92" r="2.05" fill="#eac56f" stroke="#5a4a3a" stroke-width="0.35" fill-opacity="0.92"/>
<circle cx="112" cy="101.5" r="2.05" fill="#9a6cc0" stroke="#5a4a3a" stroke-width="0.35" fill-opacity="0.92"/>
<circle cx="123.5" cy="108" r="2.05" fill="#eac56f" stroke="#5a4a3a" stroke-width="0.35" fill-opacity="0.92"/>
<line x1="59" y1="125" x2="161" y2="73.7" stroke="#4d9a3c" stroke-width="1.1"/>
<text x="140.5" y="98" font-size="12.5" fill="#4a9233">slope</text>
<text x="166" y="166" font-size="8.5" fill="#111" text-anchor="end">n=357</text>
<text x="183.8" y="11" font-size="14.8" font-weight="bold">b</text>
<text x="239.3" y="24.7" font-size="12.2" text-anchor="middle">3714 high-SNR</text>
<text x="239.3" y="38.9" font-size="12.2" text-anchor="middle">somamers</text>
<path d="M188.2 88.5 L188.2 94.0 A52.4 39.8 0 0 0 293.0 94.0 L293.0 88.5 A52.4 39.8 0 0 1 188.2 88.5 Z" fill="#d6d6d6" stroke="#555" stroke-width="0.6"/>
<path d="M240.60 88.50 L288.01 71.55 A52.4 39.8 0 1 0 293.00 88.50 Z" fill="#ffffff" stroke="#555" stroke-width="0.6"/>
<g transform="translate(0.8 0)">
<path d="M188.2 88.5 L188.2 88.5 A52.4 39.8 0 0 0 293.0 88.5 L293.0 88.5 A52.4 39.8 0 0 1 188.2 88.5 Z" fill="#2222ee" stroke="#333" stroke-width="0.5"/>
<path d="M240.60 88.50 L293.00 88.50 A52.4 39.8 0 0 0 291.05 77.73 Z" fill="#2222ee" stroke="#333" stroke-width="0.5"/>
<path d="M240.60 88.50 L291.05 77.73 A52.4 39.8 0 0 0 288.01 71.55 Z" fill="#ee2a1a" stroke="#333" stroke-width="0.5"/>
</g>
<path d="M293 88.5 L293 94 L291.8 93.5 Z" fill="#2222ee"/>
<text x="239.3" y="66.2" font-size="11.2" fill="#222" text-anchor="middle">n=258</text>
<text x="239.3" y="78.8" font-size="11.2" fill="#222" text-anchor="middle">(7%)</text>
<line x1="253.6" y1="68.6" x2="275" y2="81.9" stroke="#111" stroke-width="0.9"/>
<line x1="289.5" y1="72.3" x2="307" y2="29" stroke="#ee2222" stroke-width="0.8"/>
<line x1="293" y1="88.5" x2="306.2" y2="133" stroke="#2222ee" stroke-width="0.8"/>
<rect x="307" y="13.8" width="115.3" height="31.5" fill="#fff" stroke="#ee2a2a" stroke-width="1"/>
<text x="364.6" y="25.6" font-size="12.2" fill="#ee2a2a" text-anchor="middle">positive association</text>
<text x="364.6" y="40.2" font-size="12.2" fill="#111" text-anchor="middle">n=96 (37%)</text>
<rect x="306.2" y="119.2" width="117" height="31.7" fill="#fff" stroke="#2a2aee" stroke-width="1"/>
<text x="364.7" y="130.6" font-size="12.2" fill="#2a2aee" text-anchor="middle">negative association</text>
<text x="364.7" y="145.8" font-size="12.2" fill="#111" text-anchor="middle">n=162 (63%)</text>
<path d="M328.3 79.7 L328.3 83.2 A39 30 0 0 0 406.3 83.2 L406.3 79.7 A39 30 0 0 1 328.3 79.7 Z" fill="#d8d8d8" stroke="#f07070" stroke-width="0.6"/>
<path d="M328.30 79.70 L328.32 80.76 L328.40 81.82 L328.52 82.87 L328.69 83.93 L328.91 84.97 L329.17 86.01 L329.49 87.05 L329.85 88.07 L330.26 89.08 L330.71 90.08 L331.21 91.07 L331.76 92.05 L332.34 93.00 L332.98 93.95 L333.65 94.87 L334.37 95.77 L334.37 99.27 L333.65 98.37 L332.98 97.45 L332.34 96.50 L331.76 95.55 L331.21 94.57 L330.71 93.58 L330.26 92.58 L329.85 91.57 L329.49 90.55 L329.17 89.51 L328.91 88.47 L328.69 87.43 L328.52 86.37 L328.40 85.32 L328.32 84.26 L328.30 83.20 Z" fill="#d87a22"/>
<path d="M334.37 95.77 L335.04 96.56 L335.75 97.33 L336.48 98.09 L337.25 98.82 L338.05 99.54 L338.87 100.24 L339.72 100.91 L340.60 101.57 L341.51 102.20 L342.44 102.82 L343.40 103.40 L344.38 103.97 L345.38 104.51 L346.40 105.03 L347.45 105.52 L348.51 105.99 L348.51 109.49 L347.45 109.02 L346.40 108.53 L345.38 108.01 L344.38 107.47 L343.40 106.90 L342.44 106.32 L341.51 105.70 L340.60 105.07 L339.72 104.41 L338.87 103.74 L338.05 103.04 L337.25 102.32 L336.48 101.59 L335.75 100.83 L335.04 100.06 L334.37 99.27 Z" fill="#8cd88a"/>
<path d="M367.30 79.70 L406.30 79.70 A39 30 0 0 0 330.21 70.43 Z" fill="#efd38d" stroke="#f07070" stroke-width="0.6"/>
<path d="M367.30 79.70 L330.21 70.43 A39 30 0 0 0 334.37 95.77 Z" fill="#ee8a2a" stroke="#f07070" stroke-width="0.6"/>
<path d="M367.30 79.70 L334.37 95.77 A39 30 0 0 0 348.51 105.99 Z" fill="#a2f5a0" stroke="#f07070" stroke-width="0.6"/>
<path d="M367.30 79.70 L348.51 105.99 A39 30 0 0 0 406.30 79.70 Z" fill="#ffffff" stroke="#f07070" stroke-width="0.6"/>
<text x="373.6" y="68.2" font-size="9.5" fill="#222" text-anchor="middle">45%</text>
<text x="339.4" y="84.8" font-size="9.5" fill="#222" text-anchor="middle">14%</text>
<text x="347.2" y="99.6" font-size="9.5" fill="#222" text-anchor="middle">8%</text>
<text x="378" y="99.6" font-size="9.5" fill="#222" text-anchor="middle">33%</text>
<path d="M327.3 188.1 L327.3 191.6 A39.3 29.5 0 0 0 405.90000000000003 191.6 L405.90000000000003 188.1 A39.3 29.5 0 0 1 327.3 188.1 Z" fill="#d8d8d8" stroke="#7070f0" stroke-width="0.6"/>
<path d="M366.60 188.10 L405.90 188.10 A39.3 29.5 0 0 0 399.78 172.29 Z" fill="#efd38d" stroke="#7070f0" stroke-width="0.6"/>
<path d="M366.60 188.10 L399.78 172.29 A39.3 29.5 0 0 0 391.65 165.37 Z" fill="#ee8a2a" stroke="#7070f0" stroke-width="0.6"/>
<path d="M366.60 188.10 L391.65 165.37 A39.3 29.5 0 0 0 341.55 165.37 Z" fill="#a2f5a0" stroke="#7070f0" stroke-width="0.6"/>
<path d="M366.60 188.10 L341.55 165.37 A39.3 29.5 0 1 0 405.90 188.10 Z" fill="#ffffff" stroke="#7070f0" stroke-width="0.6"/>
<text x="367.4" y="171.5" font-size="9.5" fill="#222" text-anchor="middle">22%</text>
<text x="405" y="171.2" font-size="9.5" fill="#222" text-anchor="middle">5%</text>
<text x="398.2" y="187" font-size="9.5" fill="#222" text-anchor="middle">9%</text>
<text x="362.3" y="207.7" font-size="9.5" fill="#222" text-anchor="middle">64%</text>
<rect x="184.4" y="146.8" width="115.2" height="81.2" fill="#fff" stroke="#777" stroke-width="0.8"/>
<rect x="189.3" y="152.3" width="11.8" height="7.2" fill="#ee1a1a" stroke="#666" stroke-width="0.5"/>
<text x="205" y="159.3" font-size="9.6" fill="#111">Positive association</text>
<rect x="189.3" y="164" width="11.8" height="7.2" fill="#2222ee" stroke="#666" stroke-width="0.5"/>
<text x="205" y="171" font-size="9.6" fill="#111">Negative association</text>
<rect x="189.3" y="181.1" width="11.8" height="7.2" fill="#efd38d" stroke="#666" stroke-width="0.5"/>
<text x="205" y="188.1" font-size="9.6" fill="#111">Innate immunity</text>
<rect x="189.3" y="192.7" width="11.8" height="7.2" fill="#ee8a2a" stroke="#666" stroke-width="0.5"/>
<text x="205" y="199.7" font-size="9.6" fill="#111">Adaptive immunity</text>
<rect x="189.3" y="205" width="11.8" height="7.2" fill="#a2f5a0" stroke="#666" stroke-width="0.5"/>
<text x="205" y="212" font-size="9.6" fill="#111">CNS</text>
<rect x="189.3" y="216.8" width="11.8" height="7.2" fill="#ffffff" stroke="#666" stroke-width="0.5"/>
<text x="205" y="223.8" font-size="9.6" fill="#111">other</text>
<line x1="187.4" y1="175.2" x2="294.6" y2="175.2" stroke="#777" stroke-width="0.7"/>
<text x="445.6" y="11.2" font-size="14.8" font-weight="bold">c</text>
<line x1="466.9" y1="16" x2="466.9" y2="210" stroke="#333" stroke-width="1"/>
<line x1="463.5" y1="182.4" x2="466.9" y2="182.4" stroke="#333" stroke-width="0.8"/>
<text x="461.3" y="185.8" font-size="9.7" fill="#222" text-anchor="end">2</text>
<line x1="463.5" y1="137.2" x2="466.9" y2="137.2" stroke="#333" stroke-width="0.8"/>
<text x="461.3" y="140.6" font-size="9.7" fill="#222" text-anchor="end">4</text>
<line x1="463.5" y1="92" x2="466.9" y2="92" stroke="#333" stroke-width="0.8"/>
<text x="461.3" y="95.4" font-size="9.7" fill="#222" text-anchor="end">6</text>
<line x1="463.5" y1="46.8" x2="466.9" y2="46.8" stroke="#333" stroke-width="0.8"/>
<text x="461.3" y="50.2" font-size="9.7" fill="#222" text-anchor="end">8</text>
<text x="447.6" y="113.7" font-size="9.6" fill="#111" text-anchor="middle" transform="rotate(-90 447.6 113.7)">p-value (-log10)</text>
<line x1="515.7" y1="77.4" x2="515.7" y2="213" stroke="#cfcfcf" stroke-width="1"/>
<rect x="466.9" y="210" width="218.1" height="13.8" fill="url(#cbar)"/>
<line x1="515.7" y1="210" x2="515.7" y2="212.5" stroke="#333" stroke-width="0.8"/>
<text x="515.7" y="222.8" font-size="9.7" fill="#222" text-anchor="middle">0</text>
<line x1="589.2" y1="210" x2="589.2" y2="212.5" stroke="#333" stroke-width="0.8"/>
<text x="589.2" y="222.8" font-size="9.7" fill="#222" text-anchor="middle">1</text>
<line x1="662.7" y1="210" x2="662.7" y2="212.5" stroke="#333" stroke-width="0.8"/>
<text x="662.7" y="222.8" font-size="9.7" fill="#222" text-anchor="middle">2</text>
<text x="574.7" y="232.2" font-size="9.7" fill="#111" text-anchor="middle">CEL coefficient</text>
<line x1="467" y1="198.2" x2="685" y2="198.2" stroke="#4a55e0" stroke-width="0.8" stroke-dasharray="2.5,2"/>
<text x="641.5" y="196.6" font-size="8.8" fill="#4a55e0">p=0.05</text>
<text x="643.2" y="209" font-size="8.6" fill="#111">n=67</text>
<circle cx="478.8" cy="23.7" r="2.4" fill="#e8776c" stroke="#999" stroke-width="0.3"/>
<text x="488.5" y="26.8" font-size="8.5" fill="#111">Monocytes</text>
<circle cx="478.8" cy="33" r="2.4" fill="#f3c8c2" stroke="#999" stroke-width="0.3"/>
<text x="488.5" y="36.1" font-size="8.5" fill="#111">Macrophages</text>
<circle cx="478.8" cy="42.3" r="2.4" fill="#b163dc" stroke="#999" stroke-width="0.3"/>
<text x="488.5" y="45.4" font-size="8.5" fill="#111">B cells</text>
<circle cx="478.8" cy="51.6" r="2.4" fill="#c344ee" stroke="#999" stroke-width="0.3"/>
<text x="488.5" y="54.7" font-size="8.5" fill="#111">Plasma cells</text>
<circle cx="478.8" cy="60.9" r="2.4" fill="#e9f23a" stroke="#999" stroke-width="0.3"/>
<text x="488.5" y="64" font-size="8.5" fill="#111">NK cells</text>
<circle cx="478.8" cy="70.2" r="2.4" fill="#e0702e" stroke="#999" stroke-width="0.3"/>
<text x="488.5" y="73.3" font-size="8.5" fill="#111">T cells</text>
<line x1="508.2" y1="115.3" x2="531" y2="128" stroke="#d0d0d0" stroke-width="0.5"/>
<line x1="529.9" y1="134.2" x2="545" y2="144" stroke="#d0d0d0" stroke-width="0.5"/>
<line x1="563" y1="134.4" x2="552" y2="148" stroke="#d0d0d0" stroke-width="0.5"/>
<line x1="579" y1="148.5" x2="556" y2="157" stroke="#d0d0d0" stroke-width="0.5"/>
<line x1="563.3" y1="165" x2="556" y2="168" stroke="#d0d0d0" stroke-width="0.5"/>
<line x1="529.9" y1="156.7" x2="546" y2="158" stroke="#d0d0d0" stroke-width="0.5"/>
<line x1="522.1" y1="179.1" x2="536" y2="176" stroke="#d0d0d0" stroke-width="0.5"/>
<line x1="583.4" y1="184.1" x2="570" y2="171" stroke="#d0d0d0" stroke-width="0.5"/>
<line x1="549.9" y1="198.1" x2="551" y2="191" stroke="#d0d0d0" stroke-width="0.5"/>
<line x1="609.6" y1="164.4" x2="595" y2="156" stroke="#d0d0d0" stroke-width="0.5"/>
<line x1="492" y1="174.5" x2="486" y2="170" stroke="#d0d0d0" stroke-width="0.5"/>
<line x1="567.4" y1="112.2" x2="575" y2="124" stroke="#d0d0d0" stroke-width="0.5"/>
<circle cx="611.5" cy="72.7" r="2.35" fill="#e8776c" stroke="#8a6a6a" stroke-width="0.3"/>
<circle cx="575.9" cy="83.6" r="2.35" fill="#f3c8c2" stroke="#8a6a6a" stroke-width="0.3"/>
<circle cx="590.6" cy="89.4" r="2.35" fill="#e8776c" stroke="#8a6a6a" stroke-width="0.3"/>
<circle cx="589.4" cy="101.4" r="2.35" fill="#e8776c" stroke="#8a6a6a" stroke-width="0.3"/>
<circle cx="582.9" cy="103.7" r="2.35" fill="#e0702e" stroke="#8a6a6a" stroke-width="0.3"/>
<circle cx="572" cy="101.4" r="2.35" fill="#f3c8c2" stroke="#8a6a6a" stroke-width="0.3"/>
<circle cx="672.2" cy="118.4" r="2.35" fill="#f3c8c2" stroke="#8a6a6a" stroke-width="0.3"/>
<circle cx="555" cy="123" r="2.35" fill="#f3c8c2" stroke="#8a6a6a" stroke-width="0.3"/>
<circle cx="567" cy="126.1" r="2.35" fill="#e8776c" stroke="#8a6a6a" stroke-width="0.3"/>
<circle cx="588.3" cy="137" r="2.35" fill="#b163dc" stroke="#8a6a6a" stroke-width="0.3"/>
<circle cx="578.2" cy="138.1" r="2.35" fill="#f3c8c2" stroke="#8a6a6a" stroke-width="0.3"/>
<circle cx="476.5" cy="107.2" r="2.35" fill="#c344ee" stroke="#8a6a6a" stroke-width="0.3"/>
<circle cx="489.6" cy="148.2" r="2.35" fill="#f3c8c2" stroke="#8a6a6a" stroke-width="0.3"/>
<circle cx="484.6" cy="154" r="2.35" fill="#c344ee" stroke="#8a6a6a" stroke-width="0.3"/>
<circle cx="490.4" cy="165.6" r="2.35" fill="#c344ee" stroke="#8a6a6a" stroke-width="0.3"/>
<circle cx="581.4" cy="141.7" r="2.35" fill="#b163dc" stroke="#8a6a6a" stroke-width="0.3"/>
<circle cx="546.4" cy="145.2" r="2.35" fill="#e9f23a" stroke="#8a6a6a" stroke-width="0.3"/>
<circle cx="545.8" cy="149.3" r="2.35" fill="#e8776c" stroke="#8a6a6a" stroke-width="0.3"/>
<circle cx="552.2" cy="148.7" r="2.35" fill="#e8776c" stroke="#8a6a6a" stroke-width="0.3"/>
<circle cx="551.6" cy="153.9" r="2.35" fill="#e8776c" stroke="#8a6a6a" stroke-width="0.3"/>
<circle cx="547.5" cy="156.6" r="2.35" fill="#e9f23a" stroke="#8a6a6a" stroke-width="0.3"/>
<circle cx="556.3" cy="157.1" r="2.35" fill="#e9f23a" stroke="#8a6a6a" stroke-width="0.3"/>
<circle cx="552.8" cy="158" r="2.35" fill="#e8776c" stroke="#8a6a6a" stroke-width="0.3"/>
<circle cx="576.1" cy="152.8" r="2.35" fill="#e9f23a" stroke="#8a6a6a" stroke-width="0.3"/>
<circle cx="589" cy="153.9" r="2.35" fill="#b163dc" stroke="#8a6a6a" stroke-width="0.3"/>
<circle cx="594.8" cy="155.9" r="2.35" fill="#e0702e" stroke="#8a6a6a" stroke-width="0.3"/>
<circle cx="570.3" cy="157.8" r="2.35" fill="#f3c8c2" stroke="#8a6a6a" stroke-width="0.3"/>
<circle cx="579" cy="160.1" r="2.35" fill="#e9f23a" stroke="#8a6a6a" stroke-width="0.3"/>
<circle cx="549.3" cy="162.7" r="2.35" fill="#e0702e" stroke="#8a6a6a" stroke-width="0.3"/>
<circle cx="541.1" cy="168" r="2.35" fill="#e9f23a" stroke="#8a6a6a" stroke-width="0.3"/>
<circle cx="547.5" cy="167.1" r="2.35" fill="#e9f23a" stroke="#8a6a6a" stroke-width="0.3"/>
<circle cx="540.5" cy="171.5" r="2.35" fill="#e9f23a" stroke="#8a6a6a" stroke-width="0.3"/>
<circle cx="546.9" cy="170.9" r="2.35" fill="#e9f23a" stroke="#8a6a6a" stroke-width="0.3"/>
<circle cx="555.1" cy="170.6" r="2.35" fill="#e0702e" stroke="#8a6a6a" stroke-width="0.3"/>
<circle cx="568" cy="170.9" r="2.35" fill="#b163dc" stroke="#8a6a6a" stroke-width="0.3"/>
<circle cx="545.8" cy="174.4" r="2.35" fill="#e8776c" stroke="#8a6a6a" stroke-width="0.3"/>
<circle cx="551.6" cy="176.1" r="2.35" fill="#e0702e" stroke="#8a6a6a" stroke-width="0.3"/>
<circle cx="553.4" cy="174.4" r="2.35" fill="#e0702e" stroke="#8a6a6a" stroke-width="0.3"/>
<circle cx="536.4" cy="175.8" r="2.35" fill="#f3c8c2" stroke="#8a6a6a" stroke-width="0.3"/>
<circle cx="542.8" cy="183.1" r="2.35" fill="#f3c8c2" stroke="#8a6a6a" stroke-width="0.3"/>
<circle cx="545.8" cy="183.7" r="2.35" fill="#f3c8c2" stroke="#8a6a6a" stroke-width="0.3"/>
<circle cx="544" cy="186.1" r="2.35" fill="#f3c8c2" stroke="#8a6a6a" stroke-width="0.3"/>
<circle cx="547.5" cy="187.8" r="2.35" fill="#b163dc" stroke="#8a6a6a" stroke-width="0.3"/>
<circle cx="550.4" cy="191.3" r="2.35" fill="#e8776c" stroke="#8a6a6a" stroke-width="0.3"/>
<circle cx="562.1" cy="184.9" r="2.35" fill="#b163dc" stroke="#8a6a6a" stroke-width="0.3"/>
<circle cx="561.5" cy="187.5" r="2.35" fill="#f3c8c2" stroke="#8a6a6a" stroke-width="0.3"/>
<circle cx="596.6" cy="180.2" r="2.35" fill="#e0702e" stroke="#8a6a6a" stroke-width="0.3"/>
<circle cx="543.4" cy="194" r="2.35" fill="#b163dc" stroke="#8a6a6a" stroke-width="0.3"/>
<circle cx="479" cy="175.5" r="2.35" fill="#e9f23a" stroke="#8a6a6a" stroke-width="0.3"/>
<circle cx="480.5" cy="178" r="2.35" fill="#e0702e" stroke="#8a6a6a" stroke-width="0.3"/>
<circle cx="482" cy="179.5" r="2.35" fill="#e8776c" stroke="#8a6a6a" stroke-width="0.3"/>
<circle cx="484" cy="181" r="2.35" fill="#e9f23a" stroke="#8a6a6a" stroke-width="0.3"/>
<circle cx="485" cy="183.5" r="2.35" fill="#b163dc" stroke="#8a6a6a" stroke-width="0.3"/>
<circle cx="488" cy="185" r="2.35" fill="#e0702e" stroke="#8a6a6a" stroke-width="0.3"/>
<circle cx="491.5" cy="185.5" r="2.35" fill="#f3c8c2" stroke="#8a6a6a" stroke-width="0.3"/>
<circle cx="487" cy="189.5" r="2.35" fill="#c344ee" stroke="#8a6a6a" stroke-width="0.3"/>
<circle cx="490.5" cy="191.5" r="2.35" fill="#e0702e" stroke="#8a6a6a" stroke-width="0.3"/>
<circle cx="492.5" cy="193" r="2.35" fill="#e8776c" stroke="#8a6a6a" stroke-width="0.3"/>
<circle cx="493.5" cy="192" r="2.35" fill="#b163dc" stroke="#8a6a6a" stroke-width="0.3"/>
<rect x="552.9" y="68" width="22" height="9.3" fill="#fff" stroke="#c4c4c4" stroke-width="0.6" rx="2" fill-opacity="0.8"/>
<text x="563.9" y="75.2" font-size="6.9" fill="#6a6a6a" text-anchor="middle">SPP1</text>
<rect x="587.1" y="77.3" width="27.8" height="9.3" fill="#fff" stroke="#c4c4c4" stroke-width="0.6" rx="2" fill-opacity="0.8"/>
<text x="601" y="84.5" font-size="6.9" fill="#6a6a6a" text-anchor="middle">TREM1</text>
<rect x="579.6" y="89.3" width="28.3" height="9.3" fill="#fff" stroke="#c4c4c4" stroke-width="0.6" rx="2" fill-opacity="0.8"/>
<text x="593.7" y="96.5" font-size="6.9" fill="#6a6a6a" text-anchor="middle">CRTAM</text>
<rect x="641.8" y="107.9" width="24.3" height="9.3" fill="#fff" stroke="#c4c4c4" stroke-width="0.6" rx="2" fill-opacity="0.8"/>
<text x="654" y="115.1" font-size="6.9" fill="#6a6a6a" text-anchor="middle">MMP9</text>
<rect x="491.4" y="110.6" width="33.5" height="9.3" fill="#fff" stroke="#c4c4c4" stroke-width="0.6" rx="2" fill-opacity="0.8"/>
<text x="508.2" y="117.8" font-size="6.9" fill="#6a6a6a" text-anchor="middle">SIGLEC7</text>
<rect x="559.1" y="107.5" width="16.5" height="9.3" fill="#fff" stroke="#c4c4c4" stroke-width="0.6" rx="2" fill-opacity="0.8"/>
<text x="567.4" y="114.7" font-size="6.9" fill="#6a6a6a" text-anchor="middle">LYZ</text>
<rect x="587.2" y="121.4" width="26.3" height="9.3" fill="#fff" stroke="#c4c4c4" stroke-width="0.6" rx="2" fill-opacity="0.8"/>
<text x="600.3" y="128.6" font-size="6.9" fill="#6a6a6a" text-anchor="middle">FCRL1</text>
<rect x="517.7" y="129.5" width="24.3" height="9.3" fill="#fff" stroke="#c4c4c4" stroke-width="0.6" rx="2" fill-opacity="0.8"/>
<text x="529.9" y="136.7" font-size="6.9" fill="#6a6a6a" text-anchor="middle">GZMA</text>
<rect x="551.7" y="129.8" width="22.4" height="9.3" fill="#fff" stroke="#c4c4c4" stroke-width="0.6" rx="2" fill-opacity="0.8"/>
<text x="562.9" y="136.9" font-size="6.9" fill="#6a6a6a" text-anchor="middle">OLR1</text>
<rect x="566.8" y="143.8" width="24.3" height="9.3" fill="#fff" stroke="#c4c4c4" stroke-width="0.6" rx="2" fill-opacity="0.8"/>
<text x="579" y="151" font-size="6.9" fill="#6a6a6a" text-anchor="middle">ITGB2</text>
<rect x="518.9" y="152" width="22" height="9.3" fill="#fff" stroke="#c4c4c4" stroke-width="0.6" rx="2" fill-opacity="0.8"/>
<text x="529.9" y="159.2" font-size="6.9" fill="#6a6a6a" text-anchor="middle">CST7</text>
<rect x="552.3" y="160.3" width="22" height="9.3" fill="#fff" stroke="#c4c4c4" stroke-width="0.6" rx="2" fill-opacity="0.8"/>
<text x="563.3" y="167.5" font-size="6.9" fill="#6a6a6a" text-anchor="middle">CST7</text>
<rect x="601.3" y="159.8" width="16.5" height="9.3" fill="#fff" stroke="#c4c4c4" stroke-width="0.6" rx="2" fill-opacity="0.8"/>
<text x="609.6" y="166.9" font-size="6.9" fill="#6a6a6a" text-anchor="middle">LTB</text>
<rect x="481.4" y="169.8" width="21.3" height="9.3" fill="#fff" stroke="#c4c4c4" stroke-width="0.6" rx="2" fill-opacity="0.8"/>
<text x="492" y="177" font-size="6.9" fill="#6a6a6a" text-anchor="middle">PIGR</text>
<rect x="510.8" y="174.4" width="22.7" height="9.3" fill="#fff" stroke="#c4c4c4" stroke-width="0.6" rx="2" fill-opacity="0.8"/>
<text x="522.1" y="181.6" font-size="6.9" fill="#6a6a6a" text-anchor="middle">GNLY</text>
<rect x="571.2" y="179.4" width="24.3" height="9.3" fill="#fff" stroke="#c4c4c4" stroke-width="0.6" rx="2" fill-opacity="0.8"/>
<text x="583.4" y="186.6" font-size="6.9" fill="#6a6a6a" text-anchor="middle">FAIM3</text>
<rect x="538.9" y="193.4" width="22" height="9.3" fill="#fff" stroke="#c4c4c4" stroke-width="0.6" rx="2" fill-opacity="0.8"/>
<text x="549.9" y="200.6" font-size="6.9" fill="#6a6a6a" text-anchor="middle">LAG3</text>
<text x="6.8" y="257.4" font-size="14.8" font-weight="bold">d</text>
<text x="70.4" y="259.5" font-size="12.2" text-anchor="middle">CEL-associated</text>
<text x="70.4" y="273.8" font-size="12.2" text-anchor="middle">somamers</text>
<path d="M23.4 306.4 L75.4 287.9 L78.5 294.3 L25.4 306.4 Z" fill="#ee2a1a" stroke="#7a1a1a" stroke-width="0.4"/>
<path d="M23.4 306.4 L25.4 306.4 L25.4 312.2 L23.4 312.2 Z" fill="#ee2a1a" stroke="#7a1a1a" stroke-width="0.3"/>
<path d="M25.4 306.4 L81.3 295.4 Q83 297.5 83 300.1 L83 312.2 L25.4 312.2 Z" fill="#2222ee" stroke="#14147a" stroke-width="0.4"/>
<line x1="25.4" y1="306.6" x2="83" y2="306.6" stroke="#1a1a9a" stroke-width="0.6"/>
<text x="81.8" y="292.6" font-size="11" fill="#ee2a2a">+ assoc</text>
<text x="88" y="308.3" font-size="11" fill="#2a2aee">- assoc</text>
<line x1="69.6" y1="326" x2="69.6" y2="348" stroke="#000" stroke-width="1.4"/>
<path d="M65.6 345.5 L73.6 345.5 L69.6 356 Z" fill="#000"/>
<text x="68.8" y="373.3" font-size="12.5" text-anchor="middle">Pathway analysis</text>
<circle cx="62.9" cy="394.3" r="14.3" fill="#def3ec"/>
<circle cx="96.5" cy="409.4" r="7.8" fill="#e9f5dd"/>
<circle cx="30.1" cy="422.8" r="13.4" fill="#f4e1f1"/>
<circle cx="62.4" cy="448.9" r="10.9" fill="#f3ecd5"/>
<circle cx="102.7" cy="441.8" r="14.3" fill="#f4f6e1"/>
<line x1="62" y1="383.4" x2="54.5" y2="388.1" stroke="#8e8e8e" stroke-width="0.35" stroke-dasharray="0.9,0.7"/>
<line x1="62" y1="383.4" x2="71.8" y2="389.3" stroke="#8e8e8e" stroke-width="0.35" stroke-dasharray="0.9,0.7"/>
<line x1="54.5" y1="388.1" x2="51.6" y2="396.8" stroke="#8e8e8e" stroke-width="0.35" stroke-dasharray="0.9,0.7"/>
<line x1="71.8" y1="389.3" x2="74.1" y2="398.5" stroke="#8e8e8e" stroke-width="0.35" stroke-dasharray="0.9,0.7"/>
<line x1="54.5" y1="388.1" x2="74.1" y2="398.5" stroke="#8e8e8e" stroke-width="0.35" stroke-dasharray="0.9,0.7"/>
<line x1="51.6" y1="396.8" x2="63.4" y2="404.9" stroke="#8e8e8e" stroke-width="0.35" stroke-dasharray="0.9,0.7"/>
<line x1="74.1" y1="398.5" x2="63.4" y2="404.9" stroke="#8e8e8e" stroke-width="0.35" stroke-dasharray="0.9,0.7"/>
<line x1="71.8" y1="389.3" x2="51.6" y2="396.8" stroke="#8e8e8e" stroke-width="0.35" stroke-dasharray="0.9,0.7"/>
<line x1="93.9" y1="406" x2="101.5" y2="406.9" stroke="#8e8e8e" stroke-width="0.35" stroke-dasharray="0.9,0.7"/>
<line x1="93.9" y1="406" x2="94.8" y2="414" stroke="#8e8e8e" stroke-width="0.35" stroke-dasharray="0.9,0.7"/>
<line x1="31.8" y1="411.9" x2="23.8" y2="415.3" stroke="#8e8e8e" stroke-width="0.35" stroke-dasharray="0.9,0.7"/>
<line x1="31.8" y1="411.9" x2="38.2" y2="419" stroke="#8e8e8e" stroke-width="0.35" stroke-dasharray="0.9,0.7"/>
<line x1="23.8" y1="415.3" x2="20.4" y2="423.3" stroke="#8e8e8e" stroke-width="0.35" stroke-dasharray="0.9,0.7"/>
<line x1="38.2" y1="419" x2="39.4" y2="425.7" stroke="#8e8e8e" stroke-width="0.35" stroke-dasharray="0.9,0.7"/>
<line x1="20.4" y1="423.3" x2="25.1" y2="431.2" stroke="#8e8e8e" stroke-width="0.35" stroke-dasharray="0.9,0.7"/>
<line x1="25.1" y1="431.2" x2="34.3" y2="432.4" stroke="#8e8e8e" stroke-width="0.35" stroke-dasharray="0.9,0.7"/>
<line x1="39.4" y1="425.7" x2="34.3" y2="432.4" stroke="#8e8e8e" stroke-width="0.35" stroke-dasharray="0.9,0.7"/>
<line x1="23.8" y1="415.3" x2="39.4" y2="425.7" stroke="#8e8e8e" stroke-width="0.35" stroke-dasharray="0.9,0.7"/>
<line x1="55.3" y1="443.8" x2="61.7" y2="441" stroke="#8e8e8e" stroke-width="0.35" stroke-dasharray="0.9,0.7"/>
<line x1="61.7" y1="441" x2="68.4" y2="443.5" stroke="#8e8e8e" stroke-width="0.35" stroke-dasharray="0.9,0.7"/>
<line x1="55.3" y1="443.8" x2="55" y2="450.9" stroke="#8e8e8e" stroke-width="0.35" stroke-dasharray="0.9,0.7"/>
<line x1="68.4" y1="443.5" x2="68.4" y2="452.2" stroke="#8e8e8e" stroke-width="0.35" stroke-dasharray="0.9,0.7"/>
<line x1="55" y1="450.9" x2="61.7" y2="456.4" stroke="#8e8e8e" stroke-width="0.35" stroke-dasharray="0.9,0.7"/>
<line x1="68.4" y1="452.2" x2="61.7" y2="456.4" stroke="#8e8e8e" stroke-width="0.35" stroke-dasharray="0.9,0.7"/>
<line x1="55.3" y1="443.8" x2="68.4" y2="452.2" stroke="#8e8e8e" stroke-width="0.35" stroke-dasharray="0.9,0.7"/>
<line x1="68.4" y1="443.5" x2="55" y2="450.9" stroke="#8e8e8e" stroke-width="0.35" stroke-dasharray="0.9,0.7"/>
<line x1="102" y1="430.4" x2="93.6" y2="434.1" stroke="#8e8e8e" stroke-width="0.35" stroke-dasharray="0.9,0.7"/>
<line x1="102" y1="430.4" x2="110.4" y2="433.4" stroke="#8e8e8e" stroke-width="0.35" stroke-dasharray="0.9,0.7"/>
<line x1="110.4" y1="433.4" x2="114.1" y2="443.8" stroke="#8e8e8e" stroke-width="0.35" stroke-dasharray="0.9,0.7"/>
<line x1="93.6" y1="434.1" x2="91.4" y2="446.8" stroke="#8e8e8e" stroke-width="0.35" stroke-dasharray="0.9,0.7"/>
<line x1="91.4" y1="446.8" x2="98.1" y2="452.2" stroke="#8e8e8e" stroke-width="0.35" stroke-dasharray="0.9,0.7"/>
<line x1="98.1" y1="452.2" x2="106.5" y2="451.4" stroke="#8e8e8e" stroke-width="0.35" stroke-dasharray="0.9,0.7"/>
<line x1="114.1" y1="443.8" x2="106.5" y2="451.4" stroke="#8e8e8e" stroke-width="0.35" stroke-dasharray="0.9,0.7"/>
<line x1="93.6" y1="434.1" x2="106.5" y2="451.4" stroke="#8e8e8e" stroke-width="0.35" stroke-dasharray="0.9,0.7"/>
<line x1="102" y1="430.4" x2="98.1" y2="452.2" stroke="#8e8e8e" stroke-width="0.35" stroke-dasharray="0.9,0.7"/>
<line x1="74.1" y1="398.5" x2="93.9" y2="406" stroke="#9a9a9a" stroke-width="0.35" stroke-dasharray="0.9,0.7"/>
<line x1="63.4" y1="404.9" x2="93.9" y2="406" stroke="#9a9a9a" stroke-width="0.35" stroke-dasharray="0.9,0.7"/>
<line x1="94.8" y1="414" x2="93.6" y2="434.1" stroke="#9a9a9a" stroke-width="0.35" stroke-dasharray="0.9,0.7"/>
<line x1="34.3" y1="432.4" x2="55" y2="450.9" stroke="#9a9a9a" stroke-width="0.35" stroke-dasharray="0.9,0.7"/>
<line x1="69.6" y1="424.2" x2="51.6" y2="396.8" stroke="#6e6e6e" stroke-width="0.45"/>
<line x1="69.6" y1="424.2" x2="63.4" y2="404.9" stroke="#6e6e6e" stroke-width="0.45"/>
<line x1="69.6" y1="424.2" x2="74.1" y2="398.5" stroke="#6e6e6e" stroke-width="0.45"/>
<line x1="69.6" y1="424.2" x2="93.9" y2="406" stroke="#6e6e6e" stroke-width="0.45"/>
<line x1="69.6" y1="424.2" x2="94.8" y2="414" stroke="#6e6e6e" stroke-width="0.45"/>
<line x1="69.6" y1="424.2" x2="31.8" y2="411.9" stroke="#6e6e6e" stroke-width="0.45"/>
<line x1="69.6" y1="424.2" x2="38.2" y2="419" stroke="#6e6e6e" stroke-width="0.45"/>
<line x1="69.6" y1="424.2" x2="39.4" y2="425.7" stroke="#6e6e6e" stroke-width="0.45"/>
<line x1="69.6" y1="424.2" x2="55.3" y2="443.8" stroke="#6e6e6e" stroke-width="0.45"/>
<line x1="69.6" y1="424.2" x2="61.7" y2="441" stroke="#6e6e6e" stroke-width="0.45"/>
<line x1="69.6" y1="424.2" x2="68.4" y2="443.5" stroke="#6e6e6e" stroke-width="0.45"/>
<line x1="69.6" y1="424.2" x2="93.6" y2="434.1" stroke="#6e6e6e" stroke-width="0.45"/>
<line x1="69.6" y1="424.2" x2="91.4" y2="446.8" stroke="#6e6e6e" stroke-width="0.45"/>
<line x1="69.6" y1="424.2" x2="98.1" y2="452.2" stroke="#6e6e6e" stroke-width="0.45"/>
<line x1="69.6" y1="424.2" x2="106.5" y2="451.4" stroke="#6e6e6e" stroke-width="0.45"/>
<line x1="69.6" y1="424.2" x2="102" y2="430.4" stroke="#6e6e6e" stroke-width="0.45"/>
<ellipse cx="62.0" cy="383.4" rx="2.5" ry="1.7" fill="#bfe6d8" stroke="#86c2ad" stroke-width="0.5"/>
<line x1="60.7" y1="383.4" x2="63.3" y2="383.4" stroke="#86c2ad" stroke-width="0.35"/>
<ellipse cx="54.5" cy="388.1" rx="2.5" ry="1.7" fill="#bfe6d8" stroke="#86c2ad" stroke-width="0.5"/>
<line x1="53.2" y1="388.1" x2="55.8" y2="388.1" stroke="#86c2ad" stroke-width="0.35"/>
<ellipse cx="71.8" cy="389.3" rx="2.5" ry="1.7" fill="#bfe6d8" stroke="#86c2ad" stroke-width="0.5"/>
<line x1="70.5" y1="389.3" x2="73.1" y2="389.3" stroke="#86c2ad" stroke-width="0.35"/>
<ellipse cx="51.6" cy="396.8" rx="2.5" ry="1.7" fill="#bfe6d8" stroke="#86c2ad" stroke-width="0.5"/>
<line x1="50.3" y1="396.8" x2="52.9" y2="396.8" stroke="#86c2ad" stroke-width="0.35"/>
<ellipse cx="74.1" cy="398.5" rx="2.5" ry="1.7" fill="#bfe6d8" stroke="#86c2ad" stroke-width="0.5"/>
<line x1="72.8" y1="398.5" x2="75.4" y2="398.5" stroke="#86c2ad" stroke-width="0.35"/>
<ellipse cx="63.4" cy="404.9" rx="2.5" ry="1.7" fill="#bfe6d8" stroke="#86c2ad" stroke-width="0.5"/>
<line x1="62.1" y1="404.9" x2="64.7" y2="404.9" stroke="#86c2ad" stroke-width="0.35"/>
<ellipse cx="93.9" cy="406.0" rx="2.5" ry="1.7" fill="#d2ebbf" stroke="#9ccb80" stroke-width="0.5"/>
<line x1="92.6" y1="406" x2="95.2" y2="406" stroke="#9ccb80" stroke-width="0.35"/>
<ellipse cx="101.5" cy="406.9" rx="2.5" ry="1.7" fill="#d2ebbf" stroke="#9ccb80" stroke-width="0.5"/>
<line x1="100.2" y1="406.9" x2="102.8" y2="406.9" stroke="#9ccb80" stroke-width="0.35"/>
<ellipse cx="94.8" cy="414.0" rx="2.5" ry="1.7" fill="#d2ebbf" stroke="#9ccb80" stroke-width="0.5"/>
<line x1="93.5" y1="414" x2="96.1" y2="414" stroke="#9ccb80" stroke-width="0.35"/>
<ellipse cx="31.8" cy="411.9" rx="2.5" ry="1.7" fill="#ecc9e6" stroke="#c996c0" stroke-width="0.5"/>
<line x1="30.5" y1="411.9" x2="33.1" y2="411.9" stroke="#c996c0" stroke-width="0.35"/>
<ellipse cx="23.8" cy="415.3" rx="2.5" ry="1.7" fill="#ecc9e6" stroke="#c996c0" stroke-width="0.5"/>
<line x1="22.5" y1="415.3" x2="25.1" y2="415.3" stroke="#c996c0" stroke-width="0.35"/>
<ellipse cx="38.2" cy="419.0" rx="2.5" ry="1.7" fill="#ecc9e6" stroke="#c996c0" stroke-width="0.5"/>
<line x1="36.9" y1="419" x2="39.5" y2="419" stroke="#c996c0" stroke-width="0.35"/>
<ellipse cx="20.4" cy="423.3" rx="2.5" ry="1.7" fill="#ecc9e6" stroke="#c996c0" stroke-width="0.5"/>
<line x1="19.1" y1="423.3" x2="21.7" y2="423.3" stroke="#c996c0" stroke-width="0.35"/>
<ellipse cx="39.4" cy="425.7" rx="2.5" ry="1.7" fill="#ecc9e6" stroke="#c996c0" stroke-width="0.5"/>
<line x1="38.1" y1="425.7" x2="40.7" y2="425.7" stroke="#c996c0" stroke-width="0.35"/>
<ellipse cx="25.1" cy="431.2" rx="2.5" ry="1.7" fill="#ecc9e6" stroke="#c996c0" stroke-width="0.5"/>
<line x1="23.8" y1="431.2" x2="26.4" y2="431.2" stroke="#c996c0" stroke-width="0.35"/>
<ellipse cx="34.3" cy="432.4" rx="2.5" ry="1.7" fill="#ecc9e6" stroke="#c996c0" stroke-width="0.5"/>
<line x1="33" y1="432.4" x2="35.6" y2="432.4" stroke="#c996c0" stroke-width="0.35"/>
<ellipse cx="55.3" cy="443.8" rx="2.5" ry="1.7" fill="#e6d7a8" stroke="#c4ad6a" stroke-width="0.5"/>
<line x1="54" y1="443.8" x2="56.6" y2="443.8" stroke="#c4ad6a" stroke-width="0.35"/>
<ellipse cx="61.7" cy="441.0" rx="2.5" ry="1.7" fill="#e6d7a8" stroke="#c4ad6a" stroke-width="0.5"/>
<line x1="60.4" y1="441" x2="63" y2="441" stroke="#c4ad6a" stroke-width="0.35"/>
<ellipse cx="68.4" cy="443.5" rx="2.5" ry="1.7" fill="#e6d7a8" stroke="#c4ad6a" stroke-width="0.5"/>
<line x1="67.1" y1="443.5" x2="69.7" y2="443.5" stroke="#c4ad6a" stroke-width="0.35"/>
<ellipse cx="55.0" cy="450.9" rx="2.5" ry="1.7" fill="#e6d7a8" stroke="#c4ad6a" stroke-width="0.5"/>
<line x1="53.7" y1="450.9" x2="56.3" y2="450.9" stroke="#c4ad6a" stroke-width="0.35"/>
<ellipse cx="68.4" cy="452.2" rx="2.5" ry="1.7" fill="#e6d7a8" stroke="#c4ad6a" stroke-width="0.5"/>
<line x1="67.1" y1="452.2" x2="69.7" y2="452.2" stroke="#c4ad6a" stroke-width="0.35"/>
<ellipse cx="61.7" cy="456.4" rx="2.5" ry="1.7" fill="#e6d7a8" stroke="#c4ad6a" stroke-width="0.5"/>
<line x1="60.4" y1="456.4" x2="63" y2="456.4" stroke="#c4ad6a" stroke-width="0.35"/>
<ellipse cx="102.0" cy="430.4" rx="2.5" ry="1.7" fill="#e3e8bd" stroke="#b9c07e" stroke-width="0.5"/>
<line x1="100.7" y1="430.4" x2="103.3" y2="430.4" stroke="#b9c07e" stroke-width="0.35"/>
<ellipse cx="93.6" cy="434.1" rx="2.5" ry="1.7" fill="#e3e8bd" stroke="#b9c07e" stroke-width="0.5"/>
<line x1="92.3" y1="434.1" x2="94.9" y2="434.1" stroke="#b9c07e" stroke-width="0.35"/>
<ellipse cx="110.4" cy="433.4" rx="2.5" ry="1.7" fill="#e3e8bd" stroke="#b9c07e" stroke-width="0.5"/>
<line x1="109.1" y1="433.4" x2="111.7" y2="433.4" stroke="#b9c07e" stroke-width="0.35"/>
<ellipse cx="114.1" cy="443.8" rx="2.5" ry="1.7" fill="#e3e8bd" stroke="#b9c07e" stroke-width="0.5"/>
<line x1="112.8" y1="443.8" x2="115.4" y2="443.8" stroke="#b9c07e" stroke-width="0.35"/>
<ellipse cx="91.4" cy="446.8" rx="2.5" ry="1.7" fill="#e3e8bd" stroke="#b9c07e" stroke-width="0.5"/>
<line x1="90.1" y1="446.8" x2="92.7" y2="446.8" stroke="#b9c07e" stroke-width="0.35"/>
<ellipse cx="98.1" cy="452.2" rx="2.5" ry="1.7" fill="#e3e8bd" stroke="#b9c07e" stroke-width="0.5"/>
<line x1="96.8" y1="452.2" x2="99.4" y2="452.2" stroke="#b9c07e" stroke-width="0.35"/>
<ellipse cx="106.5" cy="451.4" rx="2.5" ry="1.7" fill="#e3e8bd" stroke="#b9c07e" stroke-width="0.5"/>
<line x1="105.2" y1="451.4" x2="107.8" y2="451.4" stroke="#b9c07e" stroke-width="0.35"/>
<ellipse cx="69.6" cy="424.2" rx="4.7" ry="2.1" fill="#d24a58" stroke="#b03040" stroke-width="0.4"/>
<line x1="67.1" y1="424.2" x2="72.1" y2="424.2" stroke="#f3c0c6" stroke-width="0.5"/>
<text x="140.6" y="257.4" font-size="14.8" font-weight="bold">e</text>
<text x="162.2" y="258.7" font-size="12.5">Somamers affected by activation</text>
<text x="162.2" y="272.5" font-size="12.5">of CD40 upstream regulator</text>
<line x1="163.1" y1="278.5" x2="163.1" y2="445.4" stroke="#333" stroke-width="1"/>
<line x1="159.8" y1="438" x2="163.1" y2="438" stroke="#333" stroke-width="0.8"/>
<text x="157.4" y="441.4" font-size="9.7" fill="#222" text-anchor="end">0</text>
<line x1="159.8" y1="396.6" x2="163.1" y2="396.6" stroke="#333" stroke-width="0.8"/>
<text x="157.4" y="400" font-size="9.7" fill="#222" text-anchor="end">3</text>
<line x1="159.8" y1="355.2" x2="163.1" y2="355.2" stroke="#333" stroke-width="0.8"/>
<text x="157.4" y="358.6" font-size="9.7" fill="#222" text-anchor="end">6</text>
<line x1="159.8" y1="313.8" x2="163.1" y2="313.8" stroke="#333" stroke-width="0.8"/>
<text x="157.4" y="317.2" font-size="9.7" fill="#222" text-anchor="end">9</text>
<text x="145.6" y="362" font-size="9.75" fill="#111" text-anchor="middle" transform="rotate(-90 145.6 362)">p-value (-log10)</text>
<line x1="220.8" y1="325" x2="220.8" y2="446" stroke="#cfcfcf" stroke-width="1"/>
<rect x="162.9" y="445.4" width="182.4" height="13.8" fill="url(#cbarE)"/>
<line x1="167.9" y1="445.4" x2="167.9" y2="448" stroke="#333" stroke-width="0.8"/>
<text x="167.9" y="457.8" font-size="9.7" fill="#222" text-anchor="middle">-1</text>
<line x1="220.5" y1="445.4" x2="220.5" y2="448" stroke="#333" stroke-width="0.8"/>
<text x="220.5" y="457.8" font-size="9.7" fill="#222" text-anchor="middle">0</text>
<line x1="273.1" y1="445.4" x2="273.1" y2="448" stroke="#333" stroke-width="0.8"/>
<text x="273.1" y="457.8" font-size="9.7" fill="#222" text-anchor="middle">1</text>
<line x1="325.7" y1="445.4" x2="325.7" y2="448" stroke="#333" stroke-width="0.8"/>
<text x="325.7" y="457.8" font-size="9.7" fill="#222" text-anchor="middle">2</text>
<text x="253.3" y="467.4" font-size="9.7" fill="#111" text-anchor="middle">CEL coefficient</text>
<line x1="163.5" y1="420.5" x2="345" y2="420.5" stroke="#4a55e0" stroke-width="0.8" stroke-dasharray="2.5,2"/>
<text x="314.5" y="428.2" font-size="9.2" fill="#4a55e0">p=0.05</text>
<text x="315.5" y="443" font-size="8.6" fill="#111">n=16</text>
<text x="173.9" y="289.5" font-size="8.8" fill="#111">IPA prediction</text>
<circle cx="177.1" cy="298.5" r="2.4" fill="#e23b3b"/>
<text x="187.2" y="301.6" font-size="8.5" fill="#111">Activated</text>
<circle cx="177.1" cy="307.6" r="2.4" fill="#3b3bee"/>
<text x="187.2" y="310.7" font-size="8.5" fill="#111">Inhibited</text>
<circle cx="177.1" cy="316.7" r="2.4" fill="#d4d4d4" stroke="#999" stroke-width="0.4"/>
<text x="187.2" y="319.8" font-size="8.5" fill="#111">Affected</text>
<line x1="322.3" y1="298.5" x2="310" y2="289" stroke="#d0d0d0" stroke-width="0.5"/>
<line x1="274.2" y1="352.5" x2="263" y2="363" stroke="#d0d0d0" stroke-width="0.5"/>
<line x1="236.9" y1="355.8" x2="257" y2="373" stroke="#d0d0d0" stroke-width="0.5"/>
<line x1="302.6" y1="357.6" x2="315" y2="368" stroke="#d0d0d0" stroke-width="0.5"/>
<line x1="204.8" y1="376.9" x2="243" y2="397" stroke="#d0d0d0" stroke-width="0.5"/>
<line x1="238.8" y1="376.9" x2="248" y2="393" stroke="#d0d0d0" stroke-width="0.5"/>
<line x1="277.4" y1="379.9" x2="264" y2="390" stroke="#d0d0d0" stroke-width="0.5"/>
<line x1="216.5" y1="398.1" x2="238" y2="408" stroke="#d0d0d0" stroke-width="0.5"/>
<line x1="263.2" y1="403.9" x2="253" y2="411" stroke="#d0d0d0" stroke-width="0.5"/>
<line x1="298.2" y1="403.9" x2="280" y2="408" stroke="#d0d0d0" stroke-width="0.5"/>
<line x1="181.1" y1="414.2" x2="201" y2="410" stroke="#d0d0d0" stroke-width="0.5"/>
<line x1="222" y1="422.9" x2="239" y2="411" stroke="#d0d0d0" stroke-width="0.5"/>
<line x1="287.7" y1="425.1" x2="280" y2="410" stroke="#d0d0d0" stroke-width="0.5"/>
<line x1="188.4" y1="434.6" x2="203" y2="417" stroke="#d0d0d0" stroke-width="0.5"/>
<line x1="256.6" y1="435.3" x2="247" y2="417" stroke="#d0d0d0" stroke-width="0.5"/>
<line x1="319.8" y1="382.4" x2="330" y2="372" stroke="#d0d0d0" stroke-width="0.5"/>
<circle cx="262.1" cy="364.5" r="2.5" fill="#e03a3a" stroke="#a02a2a" stroke-width="0.3"/>
<circle cx="316.1" cy="369.6" r="2.5" fill="#e03a3a" stroke="#a02a2a" stroke-width="0.3"/>
<circle cx="332.2" cy="370.7" r="2.5" fill="#e03a3a" stroke="#a02a2a" stroke-width="0.3"/>
<circle cx="257" cy="375.8" r="2.5" fill="#e03a3a" stroke="#a02a2a" stroke-width="0.3"/>
<circle cx="263.6" cy="391.9" r="2.5" fill="#e03a3a" stroke="#a02a2a" stroke-width="0.3"/>
<circle cx="272.7" cy="392.6" r="2.5" fill="#e03a3a" stroke="#a02a2a" stroke-width="0.3"/>
<circle cx="249.3" cy="394.5" r="2.5" fill="#e03a3a" stroke="#a02a2a" stroke-width="0.3"/>
<circle cx="244.6" cy="398.1" r="2.5" fill="#e03a3a" stroke="#a02a2a" stroke-width="0.3"/>
<circle cx="278.2" cy="408.7" r="2.5" fill="#e03a3a" stroke="#a02a2a" stroke-width="0.3"/>
<circle cx="239.5" cy="409.1" r="2.5" fill="#e03a3a" stroke="#a02a2a" stroke-width="0.3"/>
<circle cx="240.2" cy="410.9" r="2.5" fill="#e03a3a" stroke="#a02a2a" stroke-width="0.3"/>
<circle cx="253.4" cy="412.7" r="2.5" fill="#e03a3a" stroke="#a02a2a" stroke-width="0.3"/>
<circle cx="246.8" cy="416" r="2.5" fill="#e03a3a" stroke="#a02a2a" stroke-width="0.3"/>
<circle cx="308.8" cy="286.8" r="2.4" fill="#d8d8d8" stroke="#888" stroke-width="0.4"/>
<circle cx="201.9" cy="409.8" r="2.4" fill="#d8d8d8" stroke="#888" stroke-width="0.4"/>
<circle cx="204.1" cy="415.6" r="2.5" fill="#3a3aee" stroke="#2a2aa0" stroke-width="0.3"/>
<rect x="311.4" y="294.1" width="21.8" height="8.8" fill="#fff" stroke="#c4c4c4" stroke-width="0.6" rx="2" fill-opacity="0.8"/>
<text x="322.3" y="300.8" font-size="6.4" fill="#707070" text-anchor="middle">NEFH</text>
<rect x="267.6" y="348.1" width="13.3" height="8.8" fill="#fff" stroke="#c4c4c4" stroke-width="0.6" rx="2" fill-opacity="0.8"/>
<text x="274.2" y="354.8" font-size="6.4" fill="#707070" text-anchor="middle">IL6</text>
<rect x="218.7" y="351.4" width="36.4" height="8.8" fill="#fff" stroke="#c4c4c4" stroke-width="0.6" rx="2" fill-opacity="0.8"/>
<text x="236.9" y="358.1" font-size="6.4" fill="#707070" text-anchor="middle">TNFSF13B</text>
<rect x="292" y="353.2" width="21.1" height="8.8" fill="#fff" stroke="#c4c4c4" stroke-width="0.6" rx="2" fill-opacity="0.8"/>
<text x="302.6" y="359.9" font-size="6.4" fill="#707070" text-anchor="middle">IL12B</text>
<rect x="308.4" y="378" width="22.9" height="8.8" fill="#fff" stroke="#c4c4c4" stroke-width="0.6" rx="2" fill-opacity="0.8"/>
<text x="319.8" y="384.7" font-size="6.4" fill="#707070" text-anchor="middle">MMP9</text>
<rect x="194.1" y="372.5" width="21.5" height="8.8" fill="#fff" stroke="#c4c4c4" stroke-width="0.6" rx="2" fill-opacity="0.8"/>
<text x="204.8" y="379.2" font-size="6.4" fill="#707070" text-anchor="middle">CD8A</text>
<rect x="227.4" y="372.5" width="22.9" height="8.8" fill="#fff" stroke="#c4c4c4" stroke-width="0.6" rx="2" fill-opacity="0.8"/>
<text x="238.8" y="379.2" font-size="6.4" fill="#707070" text-anchor="middle">ITGB2</text>
<rect x="266.3" y="375.5" width="22.2" height="8.8" fill="#fff" stroke="#c4c4c4" stroke-width="0.6" rx="2" fill-opacity="0.8"/>
<text x="277.4" y="382.2" font-size="6.4" fill="#707070" text-anchor="middle">IL2RB</text>
<rect x="199.9" y="393.7" width="33.2" height="8.8" fill="#fff" stroke="#c4c4c4" stroke-width="0.6" rx="2" fill-opacity="0.8"/>
<text x="216.5" y="400.4" font-size="6.4" fill="#707070" text-anchor="middle">TNFRSF9</text>
<rect x="251.9" y="399.5" width="22.5" height="8.8" fill="#fff" stroke="#c4c4c4" stroke-width="0.6" rx="2" fill-opacity="0.8"/>
<text x="263.2" y="406.2" font-size="6.4" fill="#707070" text-anchor="middle">IL1RN</text>
<rect x="286" y="399.5" width="24.3" height="8.8" fill="#fff" stroke="#c4c4c4" stroke-width="0.6" rx="2" fill-opacity="0.8"/>
<text x="298.2" y="406.2" font-size="6.4" fill="#707070" text-anchor="middle">CCL22</text>
<rect x="168.6" y="409.8" width="25" height="8.8" fill="#fff" stroke="#c4c4c4" stroke-width="0.6" rx="2" fill-opacity="0.8"/>
<text x="181.1" y="416.5" font-size="6.4" fill="#707070" text-anchor="middle">TXLNA</text>
<rect x="209.8" y="418.5" width="24.3" height="8.8" fill="#fff" stroke="#c4c4c4" stroke-width="0.6" rx="2" fill-opacity="0.8"/>
<text x="222" y="425.2" font-size="6.4" fill="#707070" text-anchor="middle">CCL17</text>
<rect x="280.1" y="420.7" width="15.2" height="8.8" fill="#fff" stroke="#c4c4c4" stroke-width="0.6" rx="2" fill-opacity="0.8"/>
<text x="287.7" y="427.4" font-size="6.4" fill="#707070" text-anchor="middle">LTA</text>
<rect x="168.1" y="430.2" width="40.6" height="8.8" fill="#fff" stroke="#c4c4c4" stroke-width="0.6" rx="2" fill-opacity="0.8"/>
<text x="188.4" y="436.9" font-size="6.4" fill="#707070" text-anchor="middle">TNFRSF11B</text>
<rect x="245.2" y="430.9" width="22.9" height="8.8" fill="#fff" stroke="#c4c4c4" stroke-width="0.6" rx="2" fill-opacity="0.8"/>
<text x="256.6" y="437.6" font-size="6.4" fill="#707070" text-anchor="middle">ITGB1</text>
<line x1="348.5" y1="278.4" x2="348.5" y2="440.8" stroke="#7c2c84" stroke-width="1.1"/>
<line x1="348.5" y1="318.8" x2="362" y2="318.8" stroke="#7c2c84" stroke-width="1.1"/>
<path d="M361 315.2 L369 318.8 L361 322.4 Z" fill="#7c2c84"/>
<text x="368.2" y="257.3" font-size="14.8" font-weight="bold">f</text>
<text x="405.6" y="259.4" font-size="12.35">Ingenuity pathway analysis Upstream Regulators</text>
<rect x="398" y="265.3" width="119.7" height="14.6" fill="#fff" stroke="#222" stroke-width="0.9"/>
<text x="457.9" y="276.3" font-size="11" fill="#2b2bb0" text-anchor="middle">T &amp; B cell immunity</text>
<text x="456.4" y="291.5" font-size="9.7" fill="#2a2ae6" text-anchor="middle">-log10(p-value)</text>
<text x="401.8" y="300.3" font-size="9.7" fill="#2a2ae6" text-anchor="middle">0</text>
<line x1="401.8" y1="302.5" x2="401.8" y2="305.5" stroke="#333" stroke-width="0.7"/>
<text x="432.2" y="300.3" font-size="9.7" fill="#2a2ae6" text-anchor="middle">5</text>
<line x1="432.2" y1="302.5" x2="432.2" y2="305.5" stroke="#333" stroke-width="0.7"/>
<text x="462.5" y="300.3" font-size="9.7" fill="#2a2ae6" text-anchor="middle">10</text>
<line x1="462.5" y1="302.5" x2="462.5" y2="305.5" stroke="#333" stroke-width="0.7"/>
<text x="492.9" y="300.3" font-size="9.7" fill="#2a2ae6" text-anchor="middle">15</text>
<line x1="492.9" y1="302.5" x2="492.9" y2="305.5" stroke="#333" stroke-width="0.7"/>
<rect x="396.5" y="305.5" width="120.3" height="138.7" fill="none" stroke="#333" stroke-width="0.9"/>
<rect x="401.5" y="308.2" width="108.9" height="5.2" fill="#ee7474" stroke="#bbb" stroke-width="0.3"/>
<line x1="393.5" y1="310.8" x2="396.5" y2="310.8" stroke="#333" stroke-width="0.7"/>
<text x="393" y="313.9" font-size="8.7" fill="#2b2bb0" text-anchor="end">TNF</text>
<rect x="401.5" y="316.8" width="95.7" height="5.2" fill="#a7e9b5" stroke="#bbb" stroke-width="0.3"/>
<line x1="393.5" y1="319.4" x2="396.5" y2="319.4" stroke="#333" stroke-width="0.7"/>
<text x="393" y="322.5" font-size="8.7" fill="#2b2bb0" text-anchor="end">CD40</text>
<rect x="401.5" y="325.4" width="86.5" height="5.2" fill="#ee7474" stroke="#bbb" stroke-width="0.3"/>
<line x1="393.5" y1="328" x2="396.5" y2="328" stroke="#333" stroke-width="0.7"/>
<text x="393" y="331.1" font-size="8.7" fill="#2b2bb0" text-anchor="end">IL33</text>
<rect x="401.5" y="334" width="85.5" height="5.2" fill="#c4eaf3" stroke="#bbb" stroke-width="0.3"/>
<line x1="393.5" y1="336.6" x2="396.5" y2="336.6" stroke="#333" stroke-width="0.7"/>
<text x="393" y="339.7" font-size="8.7" fill="#2b2bb0" text-anchor="end">NFKB1</text>
<rect x="401.5" y="342.5" width="84.8" height="5.2" fill="#ee7474" stroke="#bbb" stroke-width="0.3"/>
<line x1="393.5" y1="345.1" x2="396.5" y2="345.1" stroke="#333" stroke-width="0.7"/>
<text x="393" y="348.2" font-size="8.7" fill="#2b2bb0" text-anchor="end">IL1B</text>
<rect x="401.5" y="351.1" width="81.6" height="5.2" fill="#ee7474" stroke="#bbb" stroke-width="0.3"/>
<line x1="393.5" y1="353.7" x2="396.5" y2="353.7" stroke="#333" stroke-width="0.7"/>
<text x="393" y="356.8" font-size="8.7" fill="#2b2bb0" text-anchor="end">CD40LG</text>
<rect x="401.5" y="359.7" width="82.6" height="5.2" fill="#c4eaf3" stroke="#bbb" stroke-width="0.3"/>
<line x1="393.5" y1="362.3" x2="396.5" y2="362.3" stroke="#333" stroke-width="0.7"/>
<text x="393" y="365.4" font-size="8.7" fill="#2b2bb0" text-anchor="end">STAT3</text>
<rect x="401.5" y="368.3" width="73.1" height="5.2" fill="#ee7474" stroke="#bbb" stroke-width="0.3"/>
<line x1="393.5" y1="370.9" x2="396.5" y2="370.9" stroke="#333" stroke-width="0.7"/>
<text x="393" y="374" font-size="8.7" fill="#2b2bb0" text-anchor="end">CSF1</text>
<rect x="401.5" y="376.9" width="71.7" height="5.2" fill="#f2a283" stroke="#bbb" stroke-width="0.3"/>
<line x1="393.5" y1="379.5" x2="396.5" y2="379.5" stroke="#333" stroke-width="0.7"/>
<text x="393" y="382.6" font-size="8.7" fill="#2b2bb0" text-anchor="end">TCR</text>
<rect x="401.5" y="385.5" width="69" height="5.2" fill="#a7e9b5" stroke="#bbb" stroke-width="0.3"/>
<line x1="393.5" y1="388.1" x2="396.5" y2="388.1" stroke="#333" stroke-width="0.7"/>
<text x="393" y="391.2" font-size="8.7" fill="#2b2bb0" text-anchor="end">FCGR2A</text>
<rect x="401.5" y="394.1" width="68" height="5.2" fill="#f2a283" stroke="#bbb" stroke-width="0.3"/>
<line x1="393.5" y1="396.7" x2="396.5" y2="396.7" stroke="#333" stroke-width="0.7"/>
<text x="393" y="399.8" font-size="8.7" fill="#2b2bb0" text-anchor="end">BCR</text>
<rect x="401.5" y="402.7" width="67.8" height="5.2" fill="#a7e9b5" stroke="#bbb" stroke-width="0.3"/>
<line x1="393.5" y1="405.3" x2="396.5" y2="405.3" stroke="#333" stroke-width="0.7"/>
<text x="393" y="408.4" font-size="8.7" fill="#2b2bb0" text-anchor="end">CLEC7A</text>
<rect x="401.5" y="411.2" width="65.1" height="5.2" fill="#dba4ea" stroke="#bbb" stroke-width="0.3"/>
<line x1="393.5" y1="413.8" x2="396.5" y2="413.8" stroke="#333" stroke-width="0.7"/>
<text x="393" y="416.9" font-size="8.7" fill="#2b2bb0" text-anchor="end">TYK2</text>
<rect x="401.5" y="419.8" width="64.4" height="5.2" fill="#ee7474" stroke="#bbb" stroke-width="0.3"/>
<line x1="393.5" y1="422.4" x2="396.5" y2="422.4" stroke="#333" stroke-width="0.7"/>
<text x="393" y="425.5" font-size="8.7" fill="#2b2bb0" text-anchor="end">TSLP</text>
<rect x="401.5" y="428.4" width="64.4" height="5.2" fill="#ee7474" stroke="#bbb" stroke-width="0.3"/>
<line x1="393.5" y1="431" x2="396.5" y2="431" stroke="#333" stroke-width="0.7"/>
<text x="393" y="434.1" font-size="8.7" fill="#2b2bb0" text-anchor="end">IL22</text>
<rect x="401.5" y="437" width="62" height="5.2" fill="#ee7474" stroke="#bbb" stroke-width="0.3"/>
<line x1="393.5" y1="439.6" x2="396.5" y2="439.6" stroke="#333" stroke-width="0.7"/>
<text x="393" y="442.7" font-size="8.7" fill="#2b2bb0" text-anchor="end">IL7</text>
<line x1="450.5" y1="305.5" x2="450.5" y2="444.2" stroke="#333" stroke-width="0.8" stroke-dasharray="2,1.6"/>
<path d="M505.1 310.8 L450.8 319.4 L431.0 328.0 L440.3 336.6 L486.4 345.1 L442.6 353.7 L487.0 362.3 L446.7 370.9 L439.7 379.5 L424.8 388.1 L414.0 396.7 L432.4 405.3 L415.5 413.8 L428.0 422.4 L431.0 431.0 L427.2 439.6" fill="none" stroke="#2a2ae6" stroke-width="0.9"/>
<circle cx="505.1" cy="310.8" r="1.9" fill="#2a2ae6"/>
<circle cx="450.8" cy="319.4" r="1.9" fill="#2a2ae6"/>
<circle cx="431" cy="328" r="1.9" fill="#2a2ae6"/>
<circle cx="440.3" cy="336.6" r="1.9" fill="#2a2ae6"/>
<circle cx="486.4" cy="345.1" r="1.9" fill="#2a2ae6"/>
<circle cx="442.6" cy="353.7" r="1.9" fill="#2a2ae6"/>
<circle cx="487" cy="362.3" r="1.9" fill="#2a2ae6"/>
<circle cx="446.7" cy="370.9" r="1.9" fill="#2a2ae6"/>
<circle cx="439.7" cy="379.5" r="1.9" fill="#2a2ae6"/>
<circle cx="424.8" cy="388.1" r="1.9" fill="#2a2ae6"/>
<circle cx="414" cy="396.7" r="1.9" fill="#2a2ae6"/>
<circle cx="432.4" cy="405.3" r="1.9" fill="#2a2ae6"/>
<circle cx="415.5" cy="413.8" r="1.9" fill="#2a2ae6"/>
<circle cx="428" cy="422.4" r="1.9" fill="#2a2ae6"/>
<circle cx="431" cy="431" r="1.9" fill="#2a2ae6"/>
<circle cx="427.2" cy="439.6" r="1.9" fill="#2a2ae6"/>
<line x1="401.5" y1="444.2" x2="401.5" y2="447" stroke="#333" stroke-width="0.7"/>
<text x="401.5" y="455.2" font-size="9.7" fill="#222" text-anchor="middle">0</text>
<line x1="425.8" y1="444.2" x2="425.8" y2="447" stroke="#333" stroke-width="0.7"/>
<text x="425.8" y="455.2" font-size="9.7" fill="#222" text-anchor="middle">1</text>
<line x1="450.1" y1="444.2" x2="450.1" y2="447" stroke="#333" stroke-width="0.7"/>
<text x="450.1" y="455.2" font-size="9.7" fill="#222" text-anchor="middle">2</text>
<line x1="474.4" y1="444.2" x2="474.4" y2="447" stroke="#333" stroke-width="0.7"/>
<text x="474.4" y="455.2" font-size="9.7" fill="#222" text-anchor="middle">3</text>
<line x1="498.7" y1="444.2" x2="498.7" y2="447" stroke="#333" stroke-width="0.7"/>
<text x="498.7" y="455.2" font-size="9.7" fill="#222" text-anchor="middle">4</text>
<text x="454.9" y="467.4" font-size="9.7" fill="#111" text-anchor="middle">Activation z-score</text>
<rect x="368.8" y="315.3" width="25" height="10" fill="none" stroke="#7c2c84" stroke-width="1"/>
<rect x="562.2" y="265.8" width="119.2" height="13.7" fill="#fff" stroke="#222" stroke-width="0.9"/>
<text x="621.8" y="276.6" font-size="11" fill="#b03434" text-anchor="middle">Viral immunity</text>
<text x="621.4" y="291.5" font-size="9.7" fill="#2a2ae6" text-anchor="middle">-log10(p-value)</text>
<text x="566.3" y="300.5" font-size="9.7" fill="#2a2ae6" text-anchor="middle">0</text>
<line x1="566.3" y1="303" x2="566.3" y2="306" stroke="#333" stroke-width="0.7"/>
<text x="597.1" y="300.5" font-size="9.7" fill="#2a2ae6" text-anchor="middle">5</text>
<line x1="597.1" y1="303" x2="597.1" y2="306" stroke="#333" stroke-width="0.7"/>
<text x="628" y="300.5" font-size="9.7" fill="#2a2ae6" text-anchor="middle">10</text>
<line x1="628" y1="303" x2="628" y2="306" stroke="#333" stroke-width="0.7"/>
<text x="658.8" y="300.5" font-size="9.7" fill="#2a2ae6" text-anchor="middle">15</text>
<line x1="658.8" y1="303" x2="658.8" y2="306" stroke="#333" stroke-width="0.7"/>
<rect x="564.1" y="306" width="117.9" height="28.6" fill="none" stroke="#333" stroke-width="0.9"/>
<rect x="566.3" y="307.1" width="88.9" height="4.8" fill="#dcdcdc" stroke="#bbb" stroke-width="0.3"/>
<line x1="561.2" y1="309.5" x2="564.1" y2="309.5" stroke="#333" stroke-width="0.7"/>
<text x="560.8" y="312.5" font-size="8.7" fill="#b03434" text-anchor="end">MAVS</text>
<rect x="566.3" y="314.4" width="76.1" height="4.8" fill="#c4eaf3" stroke="#bbb" stroke-width="0.3"/>
<line x1="561.2" y1="316.8" x2="564.1" y2="316.8" stroke="#333" stroke-width="0.7"/>
<text x="560.8" y="319.8" font-size="8.7" fill="#b03434" text-anchor="end">IRF7</text>
<rect x="566.3" y="321.6" width="64.6" height="4.8" fill="#dcdcdc" stroke="#bbb" stroke-width="0.3"/>
<line x1="561.2" y1="324" x2="564.1" y2="324" stroke="#333" stroke-width="0.7"/>
<text x="560.8" y="327" font-size="8.7" fill="#b03434" text-anchor="end">DOCK8</text>
<rect x="566.3" y="328.9" width="52.8" height="4.8" fill="#dcdcdc" stroke="#bbb" stroke-width="0.3"/>
<line x1="561.2" y1="331.3" x2="564.1" y2="331.3" stroke="#333" stroke-width="0.7"/>
<text x="560.8" y="334.3" font-size="8.7" fill="#b03434" text-anchor="end">HAVCR1</text>
<line x1="615.4" y1="306" x2="615.4" y2="334.6" stroke="#333" stroke-width="0.8" stroke-dasharray="2,1.6"/>
<path d="M594.1 309.5 L580.0 316.8 L581.3 324.0 L576.4 331.3" fill="none" stroke="#2a2ae6" stroke-width="0.9"/>
<circle cx="594.1" cy="309.5" r="1.9" fill="#2a2ae6"/>
<circle cx="580" cy="316.8" r="1.9" fill="#2a2ae6"/>
<circle cx="581.3" cy="324" r="1.9" fill="#2a2ae6"/>
<circle cx="576.4" cy="331.3" r="1.9" fill="#2a2ae6"/>
<line x1="566.3" y1="334.6" x2="566.3" y2="337.4" stroke="#333" stroke-width="0.7"/>
<text x="566.3" y="346" font-size="9.7" fill="#222" text-anchor="middle">0</text>
<line x1="590.8" y1="334.6" x2="590.8" y2="337.4" stroke="#333" stroke-width="0.7"/>
<text x="590.8" y="346" font-size="9.7" fill="#222" text-anchor="middle">1</text>
<line x1="615.4" y1="334.6" x2="615.4" y2="337.4" stroke="#333" stroke-width="0.7"/>
<text x="615.4" y="346" font-size="9.7" fill="#222" text-anchor="middle">2</text>
<line x1="639.9" y1="334.6" x2="639.9" y2="337.4" stroke="#333" stroke-width="0.7"/>
<text x="639.9" y="346" font-size="9.7" fill="#222" text-anchor="middle">3</text>
<line x1="664.5" y1="334.6" x2="664.5" y2="337.4" stroke="#333" stroke-width="0.7"/>
<text x="664.5" y="346" font-size="9.7" fill="#222" text-anchor="middle">4</text>
<rect x="561.4" y="350.4" width="120" height="13.4" fill="#fff" stroke="#222" stroke-width="0.9"/>
<text x="621.4" y="361.1" font-size="11" fill="#3f8a2a" text-anchor="middle">Lipid metabolism</text>
<text x="676" y="371.4" font-size="9.7" fill="#2a2ae6" text-anchor="middle">0</text>
<line x1="676" y1="374" x2="676" y2="377.7" stroke="#333" stroke-width="0.7"/>
<text x="643.6" y="371.4" font-size="9.7" fill="#2a2ae6" text-anchor="middle">5</text>
<line x1="643.6" y1="374" x2="643.6" y2="377.7" stroke="#333" stroke-width="0.7"/>
<text x="611.2" y="371.4" font-size="9.7" fill="#2a2ae6" text-anchor="middle">10</text>
<line x1="611.2" y1="374" x2="611.2" y2="377.7" stroke="#333" stroke-width="0.7"/>
<text x="578.8" y="371.4" font-size="9.7" fill="#2a2ae6" text-anchor="middle">15</text>
<line x1="578.8" y1="374" x2="578.8" y2="377.7" stroke="#333" stroke-width="0.7"/>
<rect x="566.8" y="377.7" width="114.6" height="31.9" fill="none" stroke="#333" stroke-width="0.9"/>
<rect x="610" y="379.2" width="66" height="5.2" fill="#8ecdf3" stroke="#bbb" stroke-width="0.3"/>
<line x1="563.9" y1="381.8" x2="566.8" y2="381.8" stroke="#333" stroke-width="0.7"/>
<text x="563.5" y="384.8" font-size="8.7" fill="#3f8a2a" text-anchor="end">RXRB</text>
<rect x="602.4" y="386.9" width="73.6" height="5.2" fill="#8ecdf3" stroke="#bbb" stroke-width="0.3"/>
<line x1="563.9" y1="389.5" x2="566.8" y2="389.5" stroke="#333" stroke-width="0.7"/>
<text x="563.5" y="392.5" font-size="8.7" fill="#3f8a2a" text-anchor="end">RXRA</text>
<rect x="601.6" y="394.7" width="74.4" height="5.2" fill="#dcdcdc" stroke="#bbb" stroke-width="0.3"/>
<line x1="563.9" y1="397.3" x2="566.8" y2="397.3" stroke="#333" stroke-width="0.7"/>
<text x="563.5" y="400.3" font-size="8.7" fill="#3f8a2a" text-anchor="end">IFITM3</text>
<rect x="596.9" y="402.4" width="79.1" height="5.2" fill="#8ecdf3" stroke="#bbb" stroke-width="0.3"/>
<line x1="563.9" y1="405" x2="566.8" y2="405" stroke="#333" stroke-width="0.7"/>
<text x="563.5" y="408" font-size="8.7" fill="#3f8a2a" text-anchor="end">PPARG</text>
<line x1="623.6" y1="377.7" x2="623.6" y2="409.6" stroke="#333" stroke-width="0.8" stroke-dasharray="2,1.6"/>
<path d="M652.8 381.8 L633.7 389.5 L666.4 397.3 L646.8 405.0" fill="none" stroke="#2a2ae6" stroke-width="0.9"/>
<circle cx="652.8" cy="381.8" r="1.9" fill="#2a2ae6"/>
<circle cx="633.7" cy="389.5" r="1.9" fill="#2a2ae6"/>
<circle cx="666.4" cy="397.3" r="1.9" fill="#2a2ae6"/>
<circle cx="646.8" cy="405" r="1.9" fill="#2a2ae6"/>
<line x1="571.6" y1="409.6" x2="571.6" y2="412.4" stroke="#333" stroke-width="0.7"/>
<text x="571.6" y="419.4" font-size="9.7" fill="#222" text-anchor="middle">-4</text>
<line x1="597.7" y1="409.6" x2="597.7" y2="412.4" stroke="#333" stroke-width="0.7"/>
<text x="597.7" y="419.4" font-size="9.7" fill="#222" text-anchor="middle">-3</text>
<line x1="623.8" y1="409.6" x2="623.8" y2="412.4" stroke="#333" stroke-width="0.7"/>
<text x="623.8" y="419.4" font-size="9.7" fill="#222" text-anchor="middle">-2</text>
<line x1="649.9" y1="409.6" x2="649.9" y2="412.4" stroke="#333" stroke-width="0.7"/>
<text x="649.9" y="419.4" font-size="9.7" fill="#222" text-anchor="middle">-1</text>
<line x1="676" y1="409.6" x2="676" y2="412.4" stroke="#333" stroke-width="0.7"/>
<text x="676" y="419.4" font-size="9.7" fill="#222" text-anchor="middle">0</text>
<text x="622" y="431.3" font-size="9.7" fill="#111" text-anchor="middle">Activation z-score</text>
<rect x="566.4" y="436.4" width="115.5" height="32" fill="#fff" stroke="#555" stroke-width="0.7"/>
<rect x="572.4" y="439.8" width="3.8" height="6" fill="#8ecdf3"/>
<text x="578.2" y="445.2" font-size="7" fill="#222">ligand-dep NR</text>
<rect x="572.4" y="446.2" width="3.8" height="6" fill="#dcdcdc"/>
<text x="578.2" y="451.6" font-size="7" fill="#222">other</text>
<rect x="572.4" y="453" width="3.8" height="6" fill="#ee7474"/>
<text x="578.2" y="458.4" font-size="7" fill="#222">cytokine</text>
<rect x="572.4" y="459.3" width="3.8" height="6" fill="#dba4ea"/>
<text x="578.2" y="464.7" font-size="7" fill="#222">kinase</text>
<rect x="629.9" y="439.8" width="3.8" height="6" fill="#a7e9b5"/>
<text x="635.7" y="445.2" font-size="7" fill="#222">TM receptor</text>
<rect x="629.9" y="446.2" width="3.8" height="6" fill="#f2a283"/>
<text x="635.7" y="451.6" font-size="7" fill="#222">complex</text>
<rect x="629.9" y="453" width="3.8" height="6" fill="#c4eaf3"/>
<text x="635.7" y="458.4" font-size="7" fill="#222">transcript reg</text>
<text x="7" y="490.6" font-size="14.8" font-weight="bold">g</text>
<rect x="36" y="609.8" width="183.5" height="17.1" fill="#cde8c2"/>
<line x1="36" y1="609.8" x2="219.5" y2="609.8" stroke="#3a8a3a" stroke-width="0.8" stroke-dasharray="2,1.5"/>
<line x1="36" y1="626.9" x2="219.5" y2="626.9" stroke="#3a8a3a" stroke-width="0.8" stroke-dasharray="2,1.5"/>
<line x1="35.9" y1="502" x2="35.9" y2="656" stroke="#333" stroke-width="1"/>
<line x1="35.4" y1="655.9" x2="219.5" y2="655.9" stroke="#333" stroke-width="1"/>
<line x1="32.5" y1="621.7" x2="35.9" y2="621.7" stroke="#333" stroke-width="0.8"/>
<text x="31.3" y="625.1" font-size="9.7" fill="#222" text-anchor="end">0</text>
<line x1="32.5" y1="582.8" x2="35.9" y2="582.8" stroke="#333" stroke-width="0.8"/>
<text x="31.3" y="586.2" font-size="9.7" fill="#222" text-anchor="end">1</text>
<line x1="32.5" y1="543.9" x2="35.9" y2="543.9" stroke="#333" stroke-width="0.8"/>
<text x="31.3" y="547.3" font-size="9.7" fill="#222" text-anchor="end">2</text>
<line x1="32.5" y1="505" x2="35.9" y2="505" stroke="#333" stroke-width="0.8"/>
<text x="31.3" y="508.4" font-size="9.7" fill="#222" text-anchor="end">3</text>
<text x="16.7" y="579" font-size="9.6" fill="#111" text-anchor="middle" transform="rotate(-90 16.7 579)">CSF biomarker-predicted Ln(CEL#)</text>
<circle cx="67.5" cy="623.1" r="2.0" fill="#3f9a3a" fill-opacity="0.5"/>
<circle cx="70" cy="623" r="2.0" fill="#3f9a3a" fill-opacity="0.5"/>
<circle cx="54.5" cy="619.5" r="2.0" fill="#3f9a3a" fill-opacity="0.5"/>
<circle cx="62.1" cy="626.4" r="2.0" fill="#3f9a3a" fill-opacity="0.5"/>
<circle cx="67.3" cy="614.2" r="2.0" fill="#3f9a3a" fill-opacity="0.5"/>
<circle cx="55.9" cy="620.7" r="2.0" fill="#3f9a3a" fill-opacity="0.5"/>
<circle cx="63.2" cy="621.6" r="2.0" fill="#3f9a3a" fill-opacity="0.5"/>
<circle cx="63.8" cy="618.5" r="2.0" fill="#3f9a3a" fill-opacity="0.5"/>
<circle cx="58.8" cy="616.5" r="2.0" fill="#3f9a3a" fill-opacity="0.5"/>
<circle cx="69.6" cy="618.8" r="2.0" fill="#3f9a3a" fill-opacity="0.5"/>
<circle cx="67.6" cy="618.8" r="2.0" fill="#3f9a3a" fill-opacity="0.5"/>
<circle cx="56.4" cy="621" r="2.0" fill="#3f9a3a" fill-opacity="0.5"/>
<circle cx="54" cy="620.3" r="2.0" fill="#3f9a3a" fill-opacity="0.5"/>
<circle cx="68.8" cy="620.2" r="2.0" fill="#3f9a3a" fill-opacity="0.5"/>
<circle cx="70.7" cy="618.4" r="2.0" fill="#3f9a3a" fill-opacity="0.5"/>
<circle cx="68.8" cy="616.6" r="2.0" fill="#3f9a3a" fill-opacity="0.5"/>
<circle cx="63.2" cy="621.2" r="2.0" fill="#3f9a3a" fill-opacity="0.5"/>
<circle cx="64.6" cy="610.3" r="2.0" fill="#3f9a3a" fill-opacity="0.5"/>
<circle cx="65.7" cy="616.6" r="2.0" fill="#3f9a3a" fill-opacity="0.5"/>
<circle cx="68.1" cy="611" r="2.0" fill="#3f9a3a" fill-opacity="0.5"/>
<circle cx="60.1" cy="616.7" r="2.0" fill="#3f9a3a" fill-opacity="0.5"/>
<circle cx="56.8" cy="620.8" r="2.0" fill="#3f9a3a" fill-opacity="0.5"/>
<circle cx="59.1" cy="618.2" r="2.0" fill="#3f9a3a" fill-opacity="0.5"/>
<circle cx="64.3" cy="618" r="2.0" fill="#3f9a3a" fill-opacity="0.5"/>
<circle cx="60.6" cy="613.7" r="2.0" fill="#3f9a3a" fill-opacity="0.5"/>
<circle cx="59.3" cy="618.9" r="2.0" fill="#3f9a3a" fill-opacity="0.5"/>
<circle cx="59.4" cy="617.3" r="2.0" fill="#3f9a3a" fill-opacity="0.5"/>
<circle cx="62.2" cy="622.6" r="2.0" fill="#3f9a3a" fill-opacity="0.5"/>
<circle cx="70.6" cy="619.3" r="2.0" fill="#3f9a3a" fill-opacity="0.5"/>
<circle cx="54.4" cy="620.1" r="2.0" fill="#3f9a3a" fill-opacity="0.5"/>
<circle cx="54.3" cy="619" r="2.0" fill="#3f9a3a" fill-opacity="0.5"/>
<circle cx="66" cy="625.7" r="2.0" fill="#3f9a3a" fill-opacity="0.5"/>
<circle cx="54.2" cy="622" r="2.0" fill="#3f9a3a" fill-opacity="0.5"/>
<circle cx="54.8" cy="615.5" r="2.0" fill="#3f9a3a" fill-opacity="0.5"/>
<circle cx="57.3" cy="615.3" r="2.0" fill="#3f9a3a" fill-opacity="0.5"/>
<circle cx="65.6" cy="611.1" r="2.0" fill="#3f9a3a" fill-opacity="0.5"/>
<circle cx="60.6" cy="611.4" r="2.0" fill="#3f9a3a" fill-opacity="0.5"/>
<circle cx="60" cy="622.6" r="2.0" fill="#3f9a3a" fill-opacity="0.5"/>
<circle cx="57.8" cy="625" r="2.0" fill="#3f9a3a" fill-opacity="0.5"/>
<circle cx="66.7" cy="619.9" r="2.0" fill="#3f9a3a" fill-opacity="0.5"/>
<circle cx="54.6" cy="616.9" r="2.0" fill="#3f9a3a" fill-opacity="0.5"/>
<circle cx="67.8" cy="625.6" r="2.0" fill="#3f9a3a" fill-opacity="0.5"/>
<circle cx="64.4" cy="616.3" r="2.0" fill="#3f9a3a" fill-opacity="0.5"/>
<circle cx="69.6" cy="617.2" r="2.0" fill="#3f9a3a" fill-opacity="0.5"/>
<circle cx="63" cy="623.2" r="2.0" fill="#3f9a3a" fill-opacity="0.5"/>
<circle cx="60.2" cy="612.3" r="2.0" fill="#3f9a3a" fill-opacity="0.5"/>
<circle cx="55.3" cy="619.9" r="2.0" fill="#3f9a3a" fill-opacity="0.5"/>
<circle cx="56.5" cy="617" r="2.0" fill="#3f9a3a" fill-opacity="0.5"/>
<circle cx="58.4" cy="623.4" r="2.0" fill="#3f9a3a" fill-opacity="0.5"/>
<circle cx="57.1" cy="626.4" r="2.0" fill="#3f9a3a" fill-opacity="0.5"/>
<circle cx="61.4" cy="614.7" r="2.0" fill="#3f9a3a" fill-opacity="0.5"/>
<circle cx="58" cy="619.3" r="2.0" fill="#3f9a3a" fill-opacity="0.5"/>
<circle cx="62" cy="624.4" r="2.0" fill="#3f9a3a" fill-opacity="0.5"/>
<circle cx="61.2" cy="622.6" r="2.0" fill="#3f9a3a" fill-opacity="0.5"/>
<circle cx="56.9" cy="611.7" r="2.0" fill="#3f9a3a" fill-opacity="0.5"/>
<circle cx="62.4" cy="616.3" r="2.0" fill="#3f9a3a" fill-opacity="0.5"/>
<circle cx="66.4" cy="618" r="2.0" fill="#3f9a3a" fill-opacity="0.5"/>
<circle cx="70.1" cy="620.6" r="2.0" fill="#3f9a3a" fill-opacity="0.5"/>
<circle cx="57.8" cy="623.2" r="2.0" fill="#3f9a3a" fill-opacity="0.5"/>
<circle cx="61.7" cy="623.5" r="2.0" fill="#3f9a3a" fill-opacity="0.5"/>
<circle cx="59" cy="615" r="2.0" fill="#3f9a3a" fill-opacity="0.5"/>
<circle cx="61.9" cy="613.5" r="2.0" fill="#3f9a3a" fill-opacity="0.5"/>
<circle cx="105.6" cy="590.6" r="2.0" fill="#e8ad2a" fill-opacity="0.5"/>
<circle cx="110.1" cy="608.9" r="2.0" fill="#e8ad2a" fill-opacity="0.5"/>
<circle cx="100.2" cy="616.5" r="2.0" fill="#e8ad2a" fill-opacity="0.5"/>
<circle cx="114.5" cy="607.8" r="2.0" fill="#e8ad2a" fill-opacity="0.5"/>
<circle cx="104.3" cy="596.2" r="2.0" fill="#e8ad2a" fill-opacity="0.5"/>
<circle cx="102.3" cy="612.1" r="2.0" fill="#e8ad2a" fill-opacity="0.5"/>
<circle cx="111.1" cy="605.1" r="2.0" fill="#e8ad2a" fill-opacity="0.5"/>
<circle cx="108.5" cy="626.4" r="2.0" fill="#e8ad2a" fill-opacity="0.5"/>
<circle cx="109.7" cy="617" r="2.0" fill="#e8ad2a" fill-opacity="0.5"/>
<circle cx="106" cy="622.4" r="2.0" fill="#e8ad2a" fill-opacity="0.5"/>
<circle cx="113.8" cy="607.1" r="2.0" fill="#e8ad2a" fill-opacity="0.5"/>
<circle cx="107.2" cy="623.1" r="2.0" fill="#e8ad2a" fill-opacity="0.5"/>
<circle cx="108.3" cy="597.1" r="2.0" fill="#e8ad2a" fill-opacity="0.5"/>
<circle cx="111.6" cy="608" r="2.0" fill="#e8ad2a" fill-opacity="0.5"/>
<circle cx="108.6" cy="618.9" r="2.0" fill="#e8ad2a" fill-opacity="0.5"/>
<circle cx="110.1" cy="622.2" r="2.0" fill="#e8ad2a" fill-opacity="0.5"/>
<circle cx="109.4" cy="619.4" r="2.0" fill="#e8ad2a" fill-opacity="0.5"/>
<circle cx="111.7" cy="594.3" r="2.0" fill="#e8ad2a" fill-opacity="0.5"/>
<circle cx="110.2" cy="620.3" r="2.0" fill="#e8ad2a" fill-opacity="0.5"/>
<circle cx="105.8" cy="610.2" r="2.0" fill="#e8ad2a" fill-opacity="0.5"/>
<circle cx="100.6" cy="614.2" r="2.0" fill="#e8ad2a" fill-opacity="0.5"/>
<circle cx="107.2" cy="622.8" r="2.0" fill="#e8ad2a" fill-opacity="0.5"/>
<circle cx="110.9" cy="613.8" r="2.0" fill="#e8ad2a" fill-opacity="0.5"/>
<circle cx="109.9" cy="617.3" r="2.0" fill="#e8ad2a" fill-opacity="0.5"/>
<circle cx="108.8" cy="603.4" r="2.0" fill="#e8ad2a" fill-opacity="0.5"/>
<circle cx="109.4" cy="607.9" r="2.0" fill="#e8ad2a" fill-opacity="0.5"/>
<circle cx="101.5" cy="610.7" r="2.0" fill="#e8ad2a" fill-opacity="0.5"/>
<circle cx="104" cy="589.5" r="2.0" fill="#e8ad2a" fill-opacity="0.5"/>
<circle cx="104.8" cy="577.3" r="2.0" fill="#e8ad2a" fill-opacity="0.5"/>
<circle cx="107.7" cy="603.3" r="2.0" fill="#e8ad2a" fill-opacity="0.5"/>
<circle cx="103.5" cy="579.5" r="2.0" fill="#e8ad2a" fill-opacity="0.5"/>
<circle cx="101.6" cy="588.7" r="2.0" fill="#e8ad2a" fill-opacity="0.5"/>
<circle cx="101.3" cy="571.8" r="2.0" fill="#e8ad2a" fill-opacity="0.5"/>
<circle cx="103.5" cy="616.7" r="2.0" fill="#e8ad2a" fill-opacity="0.5"/>
<circle cx="105.2" cy="626.4" r="2.0" fill="#e8ad2a" fill-opacity="0.5"/>
<circle cx="107.9" cy="620.3" r="2.0" fill="#e8ad2a" fill-opacity="0.5"/>
<circle cx="107.3" cy="612.4" r="2.0" fill="#e8ad2a" fill-opacity="0.5"/>
<circle cx="114.2" cy="605.1" r="2.0" fill="#e8ad2a" fill-opacity="0.5"/>
<circle cx="97.7" cy="615.6" r="2.0" fill="#e8ad2a" fill-opacity="0.5"/>
<circle cx="107.3" cy="614.3" r="2.0" fill="#e8ad2a" fill-opacity="0.5"/>
<circle cx="112.9" cy="612.7" r="2.0" fill="#e8ad2a" fill-opacity="0.5"/>
<circle cx="105" cy="612.3" r="2.0" fill="#e8ad2a" fill-opacity="0.5"/>
<circle cx="104.2" cy="607.7" r="2.0" fill="#e8ad2a" fill-opacity="0.5"/>
<circle cx="113.2" cy="601.2" r="2.0" fill="#e8ad2a" fill-opacity="0.5"/>
<circle cx="106.1" cy="614.8" r="2.0" fill="#e8ad2a" fill-opacity="0.5"/>
<circle cx="103.1" cy="613" r="2.0" fill="#e8ad2a" fill-opacity="0.5"/>
<circle cx="105.8" cy="598.1" r="2.0" fill="#e8ad2a" fill-opacity="0.5"/>
<circle cx="108.3" cy="609.9" r="2.0" fill="#e8ad2a" fill-opacity="0.5"/>
<circle cx="111.8" cy="616.2" r="2.0" fill="#e8ad2a" fill-opacity="0.5"/>
<circle cx="103.5" cy="574.8" r="2.0" fill="#e8ad2a" fill-opacity="0.5"/>
<circle cx="103.4" cy="593.9" r="2.0" fill="#e8ad2a" fill-opacity="0.5"/>
<circle cx="114.5" cy="615.3" r="2.0" fill="#e8ad2a" fill-opacity="0.5"/>
<circle cx="108.7" cy="612.3" r="2.0" fill="#e8ad2a" fill-opacity="0.5"/>
<circle cx="109.1" cy="596.6" r="2.0" fill="#e8ad2a" fill-opacity="0.5"/>
<circle cx="106.6" cy="597.2" r="2.0" fill="#e8ad2a" fill-opacity="0.5"/>
<circle cx="102.7" cy="598.2" r="2.0" fill="#e8ad2a" fill-opacity="0.5"/>
<circle cx="110.4" cy="619.1" r="2.0" fill="#e8ad2a" fill-opacity="0.5"/>
<circle cx="98.3" cy="610.8" r="2.0" fill="#e8ad2a" fill-opacity="0.5"/>
<circle cx="112.8" cy="609" r="2.0" fill="#e8ad2a" fill-opacity="0.5"/>
<circle cx="97.9" cy="598.6" r="2.0" fill="#e8ad2a" fill-opacity="0.5"/>
<circle cx="109.7" cy="607.1" r="2.0" fill="#e8ad2a" fill-opacity="0.5"/>
<circle cx="105.9" cy="618.6" r="2.0" fill="#e8ad2a" fill-opacity="0.5"/>
<circle cx="112.2" cy="601" r="2.0" fill="#e8ad2a" fill-opacity="0.5"/>
<circle cx="102.7" cy="613.7" r="2.0" fill="#e8ad2a" fill-opacity="0.5"/>
<circle cx="109.5" cy="607.2" r="2.0" fill="#e8ad2a" fill-opacity="0.5"/>
<circle cx="102.6" cy="611.9" r="2.0" fill="#e8ad2a" fill-opacity="0.5"/>
<circle cx="105.8" cy="604.9" r="2.0" fill="#e8ad2a" fill-opacity="0.5"/>
<circle cx="106.2" cy="626.4" r="2.0" fill="#e8ad2a" fill-opacity="0.5"/>
<circle cx="111.5" cy="611.5" r="2.0" fill="#e8ad2a" fill-opacity="0.5"/>
<circle cx="110" cy="586" r="2.0" fill="#e8ad2a" fill-opacity="0.5"/>
<circle cx="111.9" cy="567.8" r="2.0" fill="#e8ad2a" fill-opacity="0.5"/>
<circle cx="108.6" cy="622.2" r="2.0" fill="#e8ad2a" fill-opacity="0.5"/>
<circle cx="107.9" cy="591.8" r="2.0" fill="#e8ad2a" fill-opacity="0.5"/>
<circle cx="109.8" cy="603.4" r="2.0" fill="#e8ad2a" fill-opacity="0.5"/>
<circle cx="100.2" cy="603.7" r="2.0" fill="#e8ad2a" fill-opacity="0.5"/>
<circle cx="104.7" cy="603" r="2.0" fill="#e8ad2a" fill-opacity="0.5"/>
<circle cx="104.8" cy="590.5" r="2.0" fill="#e8ad2a" fill-opacity="0.5"/>
<circle cx="98.7" cy="597.8" r="2.0" fill="#e8ad2a" fill-opacity="0.5"/>
<circle cx="101.8" cy="622.6" r="2.0" fill="#e8ad2a" fill-opacity="0.5"/>
<circle cx="103" cy="615.9" r="2.0" fill="#e8ad2a" fill-opacity="0.5"/>
<circle cx="104.1" cy="617.6" r="2.0" fill="#e8ad2a" fill-opacity="0.5"/>
<circle cx="102" cy="568.7" r="2.0" fill="#e8ad2a" fill-opacity="0.5"/>
<circle cx="107.1" cy="616.4" r="2.0" fill="#e8ad2a" fill-opacity="0.5"/>
<circle cx="102.2" cy="617" r="2.0" fill="#e8ad2a" fill-opacity="0.5"/>
<circle cx="106.5" cy="615.6" r="2.0" fill="#e8ad2a" fill-opacity="0.5"/>
<circle cx="101.7" cy="611.1" r="2.0" fill="#e8ad2a" fill-opacity="0.5"/>
<circle cx="109.8" cy="619.4" r="2.0" fill="#e8ad2a" fill-opacity="0.5"/>
<circle cx="99.1" cy="597.8" r="2.0" fill="#e8ad2a" fill-opacity="0.5"/>
<circle cx="107.8" cy="610.9" r="2.0" fill="#e8ad2a" fill-opacity="0.5"/>
<circle cx="112.6" cy="612.4" r="2.0" fill="#e8ad2a" fill-opacity="0.5"/>
<circle cx="98.2" cy="617.1" r="2.0" fill="#e8ad2a" fill-opacity="0.5"/>
<circle cx="98.6" cy="607.9" r="2.0" fill="#e8ad2a" fill-opacity="0.5"/>
<circle cx="102.9" cy="595.4" r="2.0" fill="#e8ad2a" fill-opacity="0.5"/>
<circle cx="111.9" cy="590.2" r="2.0" fill="#e8ad2a" fill-opacity="0.5"/>
<circle cx="108.3" cy="617.7" r="2.0" fill="#e8ad2a" fill-opacity="0.5"/>
<circle cx="103" cy="623.8" r="2.0" fill="#e8ad2a" fill-opacity="0.5"/>
<circle cx="104.3" cy="615.3" r="2.0" fill="#e8ad2a" fill-opacity="0.5"/>
<circle cx="111.8" cy="597.7" r="2.0" fill="#e8ad2a" fill-opacity="0.5"/>
<circle cx="112.2" cy="619" r="2.0" fill="#e8ad2a" fill-opacity="0.5"/>
<circle cx="107.3" cy="622.4" r="2.0" fill="#e8ad2a" fill-opacity="0.5"/>
<circle cx="101.4" cy="622.6" r="2.0" fill="#e8ad2a" fill-opacity="0.5"/>
<circle cx="100.7" cy="587" r="2.0" fill="#e8ad2a" fill-opacity="0.5"/>
<circle cx="97.7" cy="600.7" r="2.0" fill="#e8ad2a" fill-opacity="0.5"/>
<circle cx="112.8" cy="615.7" r="2.0" fill="#e8ad2a" fill-opacity="0.5"/>
<circle cx="99.4" cy="616.1" r="2.0" fill="#e8ad2a" fill-opacity="0.5"/>
<circle cx="100.4" cy="615.6" r="2.0" fill="#e8ad2a" fill-opacity="0.5"/>
<circle cx="100.3" cy="615.4" r="2.0" fill="#e8ad2a" fill-opacity="0.5"/>
<circle cx="102.4" cy="602.3" r="2.0" fill="#e8ad2a" fill-opacity="0.5"/>
<circle cx="105.9" cy="604.8" r="2.0" fill="#e8ad2a" fill-opacity="0.5"/>
<circle cx="104.6" cy="560.3" r="2.0" fill="#e8ad2a" fill-opacity="0.5"/>
<circle cx="105.9" cy="595.7" r="2.0" fill="#e8ad2a" fill-opacity="0.5"/>
<circle cx="99.7" cy="614.3" r="2.0" fill="#e8ad2a" fill-opacity="0.5"/>
<circle cx="110.1" cy="612.7" r="2.0" fill="#e8ad2a" fill-opacity="0.5"/>
<circle cx="101.1" cy="615.6" r="2.0" fill="#e8ad2a" fill-opacity="0.5"/>
<circle cx="104.5" cy="602.2" r="2.0" fill="#e8ad2a" fill-opacity="0.5"/>
<circle cx="103.9" cy="607.8" r="2.0" fill="#e8ad2a" fill-opacity="0.5"/>
<circle cx="110.1" cy="612.8" r="2.0" fill="#e8ad2a" fill-opacity="0.5"/>
<circle cx="100.5" cy="599.2" r="2.0" fill="#e8ad2a" fill-opacity="0.5"/>
<circle cx="108.7" cy="608" r="2.0" fill="#e8ad2a" fill-opacity="0.5"/>
<circle cx="111.9" cy="594.9" r="2.0" fill="#e8ad2a" fill-opacity="0.5"/>
<circle cx="104.7" cy="605.6" r="2.0" fill="#e8ad2a" fill-opacity="0.5"/>
<circle cx="112.1" cy="574.2" r="2.0" fill="#e8ad2a" fill-opacity="0.5"/>
<circle cx="98.9" cy="617.5" r="2.0" fill="#e8ad2a" fill-opacity="0.5"/>
<circle cx="106" cy="609.9" r="2.0" fill="#e8ad2a" fill-opacity="0.5"/>
<circle cx="98.6" cy="606" r="2.0" fill="#e8ad2a" fill-opacity="0.5"/>
<circle cx="98.7" cy="610.1" r="2.0" fill="#e8ad2a" fill-opacity="0.5"/>
<circle cx="98.6" cy="609.2" r="2.0" fill="#e8ad2a" fill-opacity="0.5"/>
<circle cx="102.4" cy="558.6" r="2.0" fill="#e8ad2a" fill-opacity="0.5"/>
<circle cx="99.1" cy="618.3" r="2.0" fill="#e8ad2a" fill-opacity="0.5"/>
<circle cx="99.5" cy="609.4" r="2.0" fill="#e8ad2a" fill-opacity="0.5"/>
<circle cx="110.5" cy="626.4" r="2.0" fill="#e8ad2a" fill-opacity="0.5"/>
<circle cx="98" cy="614.3" r="2.0" fill="#e8ad2a" fill-opacity="0.5"/>
<circle cx="104.1" cy="619.3" r="2.0" fill="#e8ad2a" fill-opacity="0.5"/>
<circle cx="110" cy="611.5" r="2.0" fill="#e8ad2a" fill-opacity="0.5"/>
<circle cx="111.7" cy="602" r="2.0" fill="#e8ad2a" fill-opacity="0.5"/>
<circle cx="99.7" cy="613" r="2.0" fill="#e8ad2a" fill-opacity="0.5"/>
<circle cx="111.6" cy="610.4" r="2.0" fill="#e8ad2a" fill-opacity="0.5"/>
<circle cx="99.9" cy="605.2" r="2.0" fill="#e8ad2a" fill-opacity="0.5"/>
<circle cx="105" cy="602.8" r="2.0" fill="#e8ad2a" fill-opacity="0.5"/>
<circle cx="101.9" cy="605.4" r="2.0" fill="#e8ad2a" fill-opacity="0.5"/>
<circle cx="103.6" cy="587.1" r="2.0" fill="#e8ad2a" fill-opacity="0.5"/>
<circle cx="99.4" cy="603.4" r="2.0" fill="#e8ad2a" fill-opacity="0.5"/>
<circle cx="107.2" cy="616" r="2.0" fill="#e8ad2a" fill-opacity="0.5"/>
<circle cx="108.8" cy="605" r="2.0" fill="#e8ad2a" fill-opacity="0.5"/>
<circle cx="111.6" cy="608.1" r="2.0" fill="#e8ad2a" fill-opacity="0.5"/>
<circle cx="111.7" cy="621" r="2.0" fill="#e8ad2a" fill-opacity="0.5"/>
<circle cx="111.5" cy="610.9" r="2.0" fill="#e8ad2a" fill-opacity="0.5"/>
<circle cx="101.8" cy="623.2" r="2.0" fill="#e8ad2a" fill-opacity="0.5"/>
<circle cx="109.2" cy="603.7" r="2.0" fill="#e8ad2a" fill-opacity="0.5"/>
<circle cx="98.8" cy="606.6" r="2.0" fill="#e8ad2a" fill-opacity="0.5"/>
<circle cx="101.8" cy="592.6" r="2.0" fill="#e8ad2a" fill-opacity="0.5"/>
<circle cx="110.5" cy="620.7" r="2.0" fill="#e8ad2a" fill-opacity="0.5"/>
<circle cx="105.3" cy="596.7" r="2.0" fill="#e8ad2a" fill-opacity="0.5"/>
<circle cx="103.3" cy="612.9" r="2.0" fill="#e8ad2a" fill-opacity="0.5"/>
<circle cx="108.9" cy="596.5" r="2.0" fill="#e8ad2a" fill-opacity="0.5"/>
<circle cx="106.7" cy="607.9" r="2.0" fill="#e8ad2a" fill-opacity="0.5"/>
<circle cx="113.7" cy="601.9" r="2.0" fill="#e8ad2a" fill-opacity="0.5"/>
<circle cx="101.6" cy="595.9" r="2.0" fill="#e8ad2a" fill-opacity="0.5"/>
<circle cx="105.1" cy="617.3" r="2.0" fill="#e8ad2a" fill-opacity="0.5"/>
<circle cx="109.4" cy="589.9" r="2.0" fill="#e8ad2a" fill-opacity="0.5"/>
<circle cx="107.8" cy="598.3" r="2.0" fill="#e8ad2a" fill-opacity="0.5"/>
<circle cx="111.5" cy="613.3" r="2.0" fill="#e8ad2a" fill-opacity="0.5"/>
<circle cx="98.3" cy="611.5" r="2.0" fill="#e8ad2a" fill-opacity="0.5"/>
<circle cx="105.9" cy="607.4" r="2.0" fill="#e8ad2a" fill-opacity="0.5"/>
<circle cx="102.4" cy="602" r="2.0" fill="#e8ad2a" fill-opacity="0.5"/>
<circle cx="107.3" cy="615.2" r="2.0" fill="#e8ad2a" fill-opacity="0.5"/>
<circle cx="103.7" cy="618.6" r="2.0" fill="#e8ad2a" fill-opacity="0.5"/>
<circle cx="112" cy="596.7" r="2.0" fill="#e8ad2a" fill-opacity="0.5"/>
<circle cx="104.5" cy="599.1" r="2.0" fill="#e8ad2a" fill-opacity="0.5"/>
<circle cx="110.2" cy="624.2" r="2.0" fill="#e8ad2a" fill-opacity="0.5"/>
<circle cx="99.4" cy="611.4" r="2.0" fill="#e8ad2a" fill-opacity="0.5"/>
<circle cx="113" cy="608.7" r="2.0" fill="#e8ad2a" fill-opacity="0.5"/>
<circle cx="109.3" cy="603.6" r="2.0" fill="#e8ad2a" fill-opacity="0.5"/>
<circle cx="107.7" cy="593" r="2.0" fill="#e8ad2a" fill-opacity="0.5"/>
<circle cx="107.2" cy="575.6" r="2.0" fill="#e8ad2a" fill-opacity="0.5"/>
<circle cx="104.3" cy="617.5" r="2.0" fill="#e8ad2a" fill-opacity="0.5"/>
<circle cx="104.2" cy="609.8" r="2.0" fill="#e8ad2a" fill-opacity="0.5"/>
<circle cx="109.7" cy="606.9" r="2.0" fill="#e8ad2a" fill-opacity="0.5"/>
<circle cx="111.3" cy="626.4" r="2.0" fill="#e8ad2a" fill-opacity="0.5"/>
<circle cx="108.2" cy="593.1" r="2.0" fill="#e8ad2a" fill-opacity="0.5"/>
<circle cx="107.3" cy="625.1" r="2.0" fill="#e8ad2a" fill-opacity="0.5"/>
<circle cx="106.6" cy="612.7" r="2.0" fill="#e8ad2a" fill-opacity="0.5"/>
<circle cx="103.7" cy="609.7" r="2.0" fill="#e8ad2a" fill-opacity="0.5"/>
<circle cx="110.6" cy="605.2" r="2.0" fill="#e8ad2a" fill-opacity="0.5"/>
<circle cx="102.4" cy="610.6" r="2.0" fill="#e8ad2a" fill-opacity="0.5"/>
<circle cx="98.9" cy="616.7" r="2.0" fill="#e8ad2a" fill-opacity="0.5"/>
<circle cx="113" cy="608.6" r="2.0" fill="#e8ad2a" fill-opacity="0.5"/>
<circle cx="110.3" cy="622.8" r="2.0" fill="#e8ad2a" fill-opacity="0.5"/>
<circle cx="106.5" cy="609.8" r="2.0" fill="#e8ad2a" fill-opacity="0.5"/>
<circle cx="103.1" cy="621.7" r="2.0" fill="#e8ad2a" fill-opacity="0.5"/>
<circle cx="100.2" cy="597.3" r="2.0" fill="#e8ad2a" fill-opacity="0.5"/>
<circle cx="100.7" cy="610.7" r="2.0" fill="#e8ad2a" fill-opacity="0.5"/>
<circle cx="107.6" cy="620.3" r="2.0" fill="#e8ad2a" fill-opacity="0.5"/>
<circle cx="101.5" cy="625.3" r="2.0" fill="#e8ad2a" fill-opacity="0.5"/>
<circle cx="104.1" cy="613.3" r="2.0" fill="#e8ad2a" fill-opacity="0.5"/>
<circle cx="101.3" cy="619.9" r="2.0" fill="#e8ad2a" fill-opacity="0.5"/>
<circle cx="113" cy="611.4" r="2.0" fill="#e8ad2a" fill-opacity="0.5"/>
<circle cx="108.5" cy="601.9" r="2.0" fill="#e8ad2a" fill-opacity="0.5"/>
<circle cx="110.2" cy="573.6" r="2.0" fill="#e8ad2a" fill-opacity="0.5"/>
<circle cx="110.1" cy="615.5" r="2.0" fill="#e8ad2a" fill-opacity="0.5"/>
<circle cx="113.1" cy="617.4" r="2.0" fill="#e8ad2a" fill-opacity="0.5"/>
<circle cx="102.5" cy="604" r="2.0" fill="#e8ad2a" fill-opacity="0.5"/>
<circle cx="100.6" cy="626.4" r="2.0" fill="#e8ad2a" fill-opacity="0.5"/>
<circle cx="107" cy="623.8" r="2.0" fill="#e8ad2a" fill-opacity="0.5"/>
<circle cx="107.8" cy="613.6" r="2.0" fill="#e8ad2a" fill-opacity="0.5"/>
<circle cx="109.4" cy="612.5" r="2.0" fill="#e8ad2a" fill-opacity="0.5"/>
<circle cx="111.9" cy="609.3" r="2.0" fill="#e8ad2a" fill-opacity="0.5"/>
<circle cx="103.1" cy="612.2" r="2.0" fill="#e8ad2a" fill-opacity="0.5"/>
<circle cx="101.6" cy="600.9" r="2.0" fill="#e8ad2a" fill-opacity="0.5"/>
<circle cx="112" cy="619.7" r="2.0" fill="#e8ad2a" fill-opacity="0.5"/>
<circle cx="100.4" cy="613.1" r="2.0" fill="#e8ad2a" fill-opacity="0.5"/>
<circle cx="100.3" cy="608.2" r="2.0" fill="#e8ad2a" fill-opacity="0.5"/>
<circle cx="110.2" cy="612.1" r="2.0" fill="#e8ad2a" fill-opacity="0.5"/>
<circle cx="111.4" cy="611.8" r="2.0" fill="#e8ad2a" fill-opacity="0.5"/>
<circle cx="108.3" cy="613.7" r="2.0" fill="#e8ad2a" fill-opacity="0.5"/>
<circle cx="101.4" cy="626.4" r="2.0" fill="#e8ad2a" fill-opacity="0.5"/>
<circle cx="104.1" cy="606.1" r="2.0" fill="#e8ad2a" fill-opacity="0.5"/>
<circle cx="109.3" cy="606.8" r="2.0" fill="#e8ad2a" fill-opacity="0.5"/>
<circle cx="106.9" cy="609" r="2.0" fill="#e8ad2a" fill-opacity="0.5"/>
<circle cx="99.7" cy="612.8" r="2.0" fill="#e8ad2a" fill-opacity="0.5"/>
<circle cx="106.1" cy="616.3" r="2.0" fill="#e8ad2a" fill-opacity="0.5"/>
<circle cx="113.8" cy="614" r="2.0" fill="#e8ad2a" fill-opacity="0.5"/>
<circle cx="103.8" cy="594.7" r="2.0" fill="#e8ad2a" fill-opacity="0.5"/>
<circle cx="105.8" cy="602" r="2.0" fill="#e8ad2a" fill-opacity="0.5"/>
<circle cx="104.2" cy="618.2" r="2.0" fill="#e8ad2a" fill-opacity="0.5"/>
<circle cx="106.2" cy="596.8" r="2.0" fill="#e8ad2a" fill-opacity="0.5"/>
<circle cx="102.7" cy="614.3" r="2.0" fill="#e8ad2a" fill-opacity="0.5"/>
<circle cx="110.4" cy="624.4" r="2.0" fill="#e8ad2a" fill-opacity="0.5"/>
<circle cx="101.7" cy="611.8" r="2.0" fill="#e8ad2a" fill-opacity="0.5"/>
<circle cx="98.9" cy="609.2" r="2.0" fill="#e8ad2a" fill-opacity="0.5"/>
<circle cx="114.4" cy="609.4" r="2.0" fill="#e8ad2a" fill-opacity="0.5"/>
<circle cx="104.3" cy="604.7" r="2.0" fill="#e8ad2a" fill-opacity="0.5"/>
<circle cx="111.5" cy="605.1" r="2.0" fill="#e8ad2a" fill-opacity="0.5"/>
<circle cx="104.5" cy="566.2" r="2.0" fill="#e8ad2a" fill-opacity="0.5"/>
<circle cx="104.2" cy="601.8" r="2.0" fill="#e8ad2a" fill-opacity="0.5"/>
<circle cx="98.6" cy="608.1" r="2.0" fill="#e8ad2a" fill-opacity="0.5"/>
<circle cx="105.7" cy="603.9" r="2.0" fill="#e8ad2a" fill-opacity="0.5"/>
<circle cx="103.5" cy="584.1" r="2.0" fill="#e8ad2a" fill-opacity="0.5"/>
<circle cx="100.8" cy="595.2" r="2.0" fill="#e8ad2a" fill-opacity="0.5"/>
<circle cx="110.9" cy="612.9" r="2.0" fill="#e8ad2a" fill-opacity="0.5"/>
<circle cx="107.9" cy="620.4" r="2.0" fill="#e8ad2a" fill-opacity="0.5"/>
<circle cx="98.3" cy="603.9" r="2.0" fill="#e8ad2a" fill-opacity="0.5"/>
<circle cx="110.7" cy="593" r="2.0" fill="#e8ad2a" fill-opacity="0.5"/>
<circle cx="113.3" cy="606.5" r="2.0" fill="#e8ad2a" fill-opacity="0.5"/>
<circle cx="110.9" cy="626.4" r="2.0" fill="#e8ad2a" fill-opacity="0.5"/>
<circle cx="109.6" cy="584.8" r="2.0" fill="#e8ad2a" fill-opacity="0.5"/>
<circle cx="102.8" cy="626.4" r="2.0" fill="#e8ad2a" fill-opacity="0.5"/>
<circle cx="103.5" cy="597.1" r="2.0" fill="#e8ad2a" fill-opacity="0.5"/>
<circle cx="99.8" cy="616.4" r="2.0" fill="#e8ad2a" fill-opacity="0.5"/>
<circle cx="105.5" cy="607.4" r="2.0" fill="#e8ad2a" fill-opacity="0.5"/>
<circle cx="112.8" cy="600.7" r="2.0" fill="#e8ad2a" fill-opacity="0.5"/>
<circle cx="98" cy="604.8" r="2.0" fill="#e8ad2a" fill-opacity="0.5"/>
<circle cx="101.8" cy="597.6" r="2.0" fill="#e8ad2a" fill-opacity="0.5"/>
<circle cx="111.2" cy="626.4" r="2.0" fill="#e8ad2a" fill-opacity="0.5"/>
<circle cx="105" cy="606.7" r="2.0" fill="#e8ad2a" fill-opacity="0.5"/>
<circle cx="110.5" cy="609.8" r="2.0" fill="#e8ad2a" fill-opacity="0.5"/>
<circle cx="106.4" cy="620.1" r="2.0" fill="#e8ad2a" fill-opacity="0.5"/>
<circle cx="108.6" cy="597.3" r="2.0" fill="#e8ad2a" fill-opacity="0.5"/>
<circle cx="104.1" cy="605" r="2.0" fill="#e8ad2a" fill-opacity="0.5"/>
<circle cx="105.8" cy="606.4" r="2.0" fill="#e8ad2a" fill-opacity="0.5"/>
<circle cx="107" cy="626.4" r="2.0" fill="#e8ad2a" fill-opacity="0.5"/>
<circle cx="106.7" cy="620.8" r="2.0" fill="#e8ad2a" fill-opacity="0.5"/>
<circle cx="109.7" cy="609.4" r="2.0" fill="#e8ad2a" fill-opacity="0.5"/>
<circle cx="105.2" cy="566" r="2.0" fill="#e8ad2a" fill-opacity="0.5"/>
<circle cx="100.9" cy="621.7" r="2.0" fill="#e8ad2a" fill-opacity="0.5"/>
<circle cx="98.4" cy="609.2" r="2.0" fill="#e8ad2a" fill-opacity="0.5"/>
<circle cx="105.6" cy="583.5" r="2.0" fill="#e8ad2a" fill-opacity="0.5"/>
<circle cx="113.4" cy="603.2" r="2.0" fill="#e8ad2a" fill-opacity="0.5"/>
<circle cx="113.6" cy="616.7" r="2.0" fill="#e8ad2a" fill-opacity="0.5"/>
<circle cx="114.5" cy="600.5" r="2.0" fill="#e8ad2a" fill-opacity="0.5"/>
<circle cx="99" cy="610.7" r="2.0" fill="#e8ad2a" fill-opacity="0.5"/>
<circle cx="110.2" cy="603.5" r="2.0" fill="#e8ad2a" fill-opacity="0.5"/>
<circle cx="102.8" cy="618" r="2.0" fill="#e8ad2a" fill-opacity="0.5"/>
<circle cx="111.8" cy="610.5" r="2.0" fill="#e8ad2a" fill-opacity="0.5"/>
<circle cx="107.3" cy="603.2" r="2.0" fill="#e8ad2a" fill-opacity="0.5"/>
<circle cx="105.4" cy="602.2" r="2.0" fill="#e8ad2a" fill-opacity="0.5"/>
<circle cx="100.1" cy="605.1" r="2.0" fill="#e8ad2a" fill-opacity="0.5"/>
<circle cx="102.2" cy="607.4" r="2.0" fill="#e8ad2a" fill-opacity="0.5"/>
<circle cx="102.2" cy="611.5" r="2.0" fill="#e8ad2a" fill-opacity="0.5"/>
<circle cx="107.7" cy="592.7" r="2.0" fill="#e8ad2a" fill-opacity="0.5"/>
<circle cx="102.2" cy="618.9" r="2.0" fill="#e8ad2a" fill-opacity="0.5"/>
<circle cx="105.2" cy="600.4" r="2.0" fill="#e8ad2a" fill-opacity="0.5"/>
<circle cx="98.6" cy="604.2" r="2.0" fill="#e8ad2a" fill-opacity="0.5"/>
<circle cx="107.2" cy="612.4" r="2.0" fill="#e8ad2a" fill-opacity="0.5"/>
<circle cx="106.1" cy="606.1" r="2.0" fill="#e8ad2a" fill-opacity="0.5"/>
<circle cx="98.4" cy="608.7" r="2.0" fill="#e8ad2a" fill-opacity="0.5"/>
<circle cx="108.1" cy="612.8" r="2.0" fill="#e8ad2a" fill-opacity="0.5"/>
<circle cx="101.5" cy="611.3" r="2.0" fill="#e8ad2a" fill-opacity="0.5"/>
<circle cx="101.3" cy="569.2" r="2.0" fill="#e8ad2a" fill-opacity="0.5"/>
<circle cx="108" cy="577.5" r="2.0" fill="#e8ad2a" fill-opacity="0.5"/>
<circle cx="110.3" cy="570.7" r="2.0" fill="#e8ad2a" fill-opacity="0.5"/>
<circle cx="110.5" cy="618.2" r="2.0" fill="#e8ad2a" fill-opacity="0.5"/>
<circle cx="106.4" cy="566.5" r="2.0" fill="#e8ad2a" fill-opacity="0.5"/>
<circle cx="105.6" cy="601" r="2.0" fill="#e8ad2a" fill-opacity="0.5"/>
<circle cx="113.8" cy="605.2" r="2.0" fill="#e8ad2a" fill-opacity="0.5"/>
<circle cx="99.2" cy="603.5" r="2.0" fill="#e8ad2a" fill-opacity="0.5"/>
<circle cx="108.3" cy="611.1" r="2.0" fill="#e8ad2a" fill-opacity="0.5"/>
<circle cx="100.7" cy="605.8" r="2.0" fill="#e8ad2a" fill-opacity="0.5"/>
<circle cx="105.3" cy="601.9" r="2.0" fill="#e8ad2a" fill-opacity="0.5"/>
<circle cx="113.2" cy="600.6" r="2.0" fill="#e8ad2a" fill-opacity="0.5"/>
<circle cx="150.6" cy="612.9" r="2.0" fill="#8d4aa6" fill-opacity="0.5"/>
<circle cx="150.9" cy="611.9" r="2.0" fill="#8d4aa6" fill-opacity="0.5"/>
<circle cx="155.7" cy="620.1" r="2.0" fill="#8d4aa6" fill-opacity="0.5"/>
<circle cx="143.3" cy="622.5" r="2.0" fill="#8d4aa6" fill-opacity="0.5"/>
<circle cx="146" cy="616.6" r="2.0" fill="#8d4aa6" fill-opacity="0.5"/>
<circle cx="152.4" cy="609.7" r="2.0" fill="#8d4aa6" fill-opacity="0.5"/>
<circle cx="147.2" cy="612.9" r="2.0" fill="#8d4aa6" fill-opacity="0.5"/>
<circle cx="152.2" cy="617.2" r="2.0" fill="#8d4aa6" fill-opacity="0.5"/>
<circle cx="148.6" cy="555" r="2.0" fill="#8d4aa6" fill-opacity="0.5"/>
<circle cx="153.8" cy="623.9" r="2.0" fill="#8d4aa6" fill-opacity="0.5"/>
<circle cx="143.1" cy="616.7" r="2.0" fill="#8d4aa6" fill-opacity="0.5"/>
<circle cx="153.7" cy="609.1" r="2.0" fill="#8d4aa6" fill-opacity="0.5"/>
<circle cx="147.6" cy="628.2" r="2.0" fill="#8d4aa6" fill-opacity="0.5"/>
<circle cx="157.5" cy="608.7" r="2.0" fill="#8d4aa6" fill-opacity="0.5"/>
<circle cx="143.3" cy="612.5" r="2.0" fill="#8d4aa6" fill-opacity="0.5"/>
<circle cx="146.7" cy="630.7" r="2.0" fill="#8d4aa6" fill-opacity="0.5"/>
<circle cx="145.3" cy="607.3" r="2.0" fill="#8d4aa6" fill-opacity="0.5"/>
<circle cx="157.4" cy="614.7" r="2.0" fill="#8d4aa6" fill-opacity="0.5"/>
<circle cx="154.6" cy="608.9" r="2.0" fill="#8d4aa6" fill-opacity="0.5"/>
<circle cx="150.6" cy="618.9" r="2.0" fill="#8d4aa6" fill-opacity="0.5"/>
<circle cx="149.2" cy="598.4" r="2.0" fill="#8d4aa6" fill-opacity="0.5"/>
<circle cx="150.6" cy="605.9" r="2.0" fill="#8d4aa6" fill-opacity="0.5"/>
<circle cx="150.2" cy="609" r="2.0" fill="#8d4aa6" fill-opacity="0.5"/>
<circle cx="148" cy="617.5" r="2.0" fill="#8d4aa6" fill-opacity="0.5"/>
<circle cx="153.7" cy="626.7" r="2.0" fill="#8d4aa6" fill-opacity="0.5"/>
<circle cx="145.7" cy="627.9" r="2.0" fill="#8d4aa6" fill-opacity="0.5"/>
<circle cx="149.3" cy="600.6" r="2.0" fill="#8d4aa6" fill-opacity="0.5"/>
<circle cx="151.3" cy="610.8" r="2.0" fill="#8d4aa6" fill-opacity="0.5"/>
<circle cx="145.9" cy="622" r="2.0" fill="#8d4aa6" fill-opacity="0.5"/>
<circle cx="154.4" cy="616.3" r="2.0" fill="#8d4aa6" fill-opacity="0.5"/>
<circle cx="153.3" cy="619.2" r="2.0" fill="#8d4aa6" fill-opacity="0.5"/>
<circle cx="143.2" cy="618.6" r="2.0" fill="#8d4aa6" fill-opacity="0.5"/>
<circle cx="143" cy="612.5" r="2.0" fill="#8d4aa6" fill-opacity="0.5"/>
<circle cx="152" cy="616.3" r="2.0" fill="#8d4aa6" fill-opacity="0.5"/>
<circle cx="143.3" cy="613.6" r="2.0" fill="#8d4aa6" fill-opacity="0.5"/>
<circle cx="145.8" cy="619.5" r="2.0" fill="#8d4aa6" fill-opacity="0.5"/>
<circle cx="143.6" cy="617.7" r="2.0" fill="#8d4aa6" fill-opacity="0.5"/>
<circle cx="147.2" cy="614.4" r="2.0" fill="#8d4aa6" fill-opacity="0.5"/>
<circle cx="156.4" cy="624.6" r="2.0" fill="#8d4aa6" fill-opacity="0.5"/>
<circle cx="146.3" cy="621.7" r="2.0" fill="#8d4aa6" fill-opacity="0.5"/>
<circle cx="148.6" cy="623.5" r="2.0" fill="#8d4aa6" fill-opacity="0.5"/>
<circle cx="155.7" cy="603.9" r="2.0" fill="#8d4aa6" fill-opacity="0.5"/>
<circle cx="153.9" cy="609.2" r="2.0" fill="#8d4aa6" fill-opacity="0.5"/>
<circle cx="147.7" cy="556.4" r="2.0" fill="#8d4aa6" fill-opacity="0.5"/>
<circle cx="155.7" cy="610" r="2.0" fill="#8d4aa6" fill-opacity="0.5"/>
<circle cx="147.3" cy="624.5" r="2.0" fill="#8d4aa6" fill-opacity="0.5"/>
<circle cx="151.9" cy="617.2" r="2.0" fill="#8d4aa6" fill-opacity="0.5"/>
<circle cx="144.2" cy="624.5" r="2.0" fill="#8d4aa6" fill-opacity="0.5"/>
<circle cx="154.6" cy="616.6" r="2.0" fill="#8d4aa6" fill-opacity="0.5"/>
<circle cx="142.2" cy="616.2" r="2.0" fill="#8d4aa6" fill-opacity="0.5"/>
<circle cx="144.9" cy="624.1" r="2.0" fill="#8d4aa6" fill-opacity="0.5"/>
<circle cx="156" cy="618" r="2.0" fill="#8d4aa6" fill-opacity="0.5"/>
<circle cx="148" cy="615.3" r="2.0" fill="#8d4aa6" fill-opacity="0.5"/>
<circle cx="146.7" cy="603.1" r="2.0" fill="#8d4aa6" fill-opacity="0.5"/>
<circle cx="151.4" cy="616.4" r="2.0" fill="#8d4aa6" fill-opacity="0.5"/>
<circle cx="150.1" cy="615.3" r="2.0" fill="#8d4aa6" fill-opacity="0.5"/>
<circle cx="147.8" cy="621.7" r="2.0" fill="#8d4aa6" fill-opacity="0.5"/>
<circle cx="154.4" cy="613.9" r="2.0" fill="#8d4aa6" fill-opacity="0.5"/>
<circle cx="147.1" cy="626.3" r="2.0" fill="#8d4aa6" fill-opacity="0.5"/>
<circle cx="144" cy="612.6" r="2.0" fill="#8d4aa6" fill-opacity="0.5"/>
<circle cx="143.3" cy="615.1" r="2.0" fill="#8d4aa6" fill-opacity="0.5"/>
<circle cx="149" cy="615.8" r="2.0" fill="#8d4aa6" fill-opacity="0.5"/>
<circle cx="141.9" cy="613.7" r="2.0" fill="#8d4aa6" fill-opacity="0.5"/>
<circle cx="154.5" cy="623.8" r="2.0" fill="#8d4aa6" fill-opacity="0.5"/>
<circle cx="152.6" cy="625.7" r="2.0" fill="#8d4aa6" fill-opacity="0.5"/>
<circle cx="151.4" cy="625.6" r="2.0" fill="#8d4aa6" fill-opacity="0.5"/>
<circle cx="146.4" cy="601.8" r="2.0" fill="#8d4aa6" fill-opacity="0.5"/>
<circle cx="147.3" cy="614.4" r="2.0" fill="#8d4aa6" fill-opacity="0.5"/>
<circle cx="145.2" cy="610.8" r="2.0" fill="#8d4aa6" fill-opacity="0.5"/>
<circle cx="147.6" cy="581.4" r="2.0" fill="#8d4aa6" fill-opacity="0.5"/>
<circle cx="157.7" cy="617.2" r="2.0" fill="#8d4aa6" fill-opacity="0.5"/>
<circle cx="153.2" cy="623.1" r="2.0" fill="#8d4aa6" fill-opacity="0.5"/>
<circle cx="148.4" cy="614.8" r="2.0" fill="#8d4aa6" fill-opacity="0.5"/>
<circle cx="153.2" cy="580.1" r="2.0" fill="#8d4aa6" fill-opacity="0.5"/>
<circle cx="154.5" cy="621.1" r="2.0" fill="#8d4aa6" fill-opacity="0.5"/>
<circle cx="155" cy="629.3" r="2.0" fill="#8d4aa6" fill-opacity="0.5"/>
<circle cx="152.7" cy="614.3" r="2.0" fill="#8d4aa6" fill-opacity="0.5"/>
<circle cx="153.6" cy="623.3" r="2.0" fill="#8d4aa6" fill-opacity="0.5"/>
<circle cx="145.8" cy="620.5" r="2.0" fill="#8d4aa6" fill-opacity="0.5"/>
<circle cx="154.6" cy="614.7" r="2.0" fill="#8d4aa6" fill-opacity="0.5"/>
<circle cx="147.7" cy="613.2" r="2.0" fill="#8d4aa6" fill-opacity="0.5"/>
<circle cx="151.8" cy="608.2" r="2.0" fill="#8d4aa6" fill-opacity="0.5"/>
<circle cx="141.6" cy="618.8" r="2.0" fill="#8d4aa6" fill-opacity="0.5"/>
<circle cx="148.7" cy="613.3" r="2.0" fill="#8d4aa6" fill-opacity="0.5"/>
<circle cx="157.8" cy="615.6" r="2.0" fill="#8d4aa6" fill-opacity="0.5"/>
<circle cx="147" cy="615.8" r="2.0" fill="#8d4aa6" fill-opacity="0.5"/>
<circle cx="141.6" cy="613.7" r="2.0" fill="#8d4aa6" fill-opacity="0.5"/>
<circle cx="151.7" cy="617.6" r="2.0" fill="#8d4aa6" fill-opacity="0.5"/>
<circle cx="149.2" cy="615.9" r="2.0" fill="#8d4aa6" fill-opacity="0.5"/>
<circle cx="151.8" cy="624.2" r="2.0" fill="#8d4aa6" fill-opacity="0.5"/>
<circle cx="149" cy="620.4" r="2.0" fill="#8d4aa6" fill-opacity="0.5"/>
<circle cx="145.4" cy="617.2" r="2.0" fill="#8d4aa6" fill-opacity="0.5"/>
<circle cx="150.6" cy="619.8" r="2.0" fill="#8d4aa6" fill-opacity="0.5"/>
<circle cx="152" cy="603.9" r="2.0" fill="#8d4aa6" fill-opacity="0.5"/>
<circle cx="148.4" cy="618.8" r="2.0" fill="#8d4aa6" fill-opacity="0.5"/>
<circle cx="156.1" cy="618" r="2.0" fill="#8d4aa6" fill-opacity="0.5"/>
<circle cx="143.6" cy="615.2" r="2.0" fill="#8d4aa6" fill-opacity="0.5"/>
<circle cx="142.9" cy="622.2" r="2.0" fill="#8d4aa6" fill-opacity="0.5"/>
<circle cx="144.5" cy="626.1" r="2.0" fill="#8d4aa6" fill-opacity="0.5"/>
<circle cx="149.6" cy="628.3" r="2.0" fill="#8d4aa6" fill-opacity="0.5"/>
<circle cx="149.1" cy="620" r="2.0" fill="#8d4aa6" fill-opacity="0.5"/>
<circle cx="153" cy="614.9" r="2.0" fill="#8d4aa6" fill-opacity="0.5"/>
<circle cx="146.6" cy="616" r="2.0" fill="#8d4aa6" fill-opacity="0.5"/>
<circle cx="146.5" cy="610.5" r="2.0" fill="#8d4aa6" fill-opacity="0.5"/>
<circle cx="143" cy="610.9" r="2.0" fill="#8d4aa6" fill-opacity="0.5"/>
<circle cx="145.1" cy="612.6" r="2.0" fill="#8d4aa6" fill-opacity="0.5"/>
<circle cx="156.2" cy="619.5" r="2.0" fill="#8d4aa6" fill-opacity="0.5"/>
<circle cx="153.2" cy="623.3" r="2.0" fill="#8d4aa6" fill-opacity="0.5"/>
<circle cx="146.7" cy="629.8" r="2.0" fill="#8d4aa6" fill-opacity="0.5"/>
<circle cx="146" cy="612.1" r="2.0" fill="#8d4aa6" fill-opacity="0.5"/>
<circle cx="150.1" cy="612.6" r="2.0" fill="#8d4aa6" fill-opacity="0.5"/>
<circle cx="151.2" cy="623.7" r="2.0" fill="#8d4aa6" fill-opacity="0.5"/>
<circle cx="148.9" cy="626" r="2.0" fill="#8d4aa6" fill-opacity="0.5"/>
<circle cx="143.7" cy="613.2" r="2.0" fill="#8d4aa6" fill-opacity="0.5"/>
<circle cx="148.4" cy="629.6" r="2.0" fill="#8d4aa6" fill-opacity="0.5"/>
<circle cx="151.5" cy="610.9" r="2.0" fill="#8d4aa6" fill-opacity="0.5"/>
<circle cx="142.2" cy="612.8" r="2.0" fill="#8d4aa6" fill-opacity="0.5"/>
<circle cx="154.3" cy="609.5" r="2.0" fill="#8d4aa6" fill-opacity="0.5"/>
<circle cx="152.2" cy="614.1" r="2.0" fill="#8d4aa6" fill-opacity="0.5"/>
<circle cx="152.7" cy="617.7" r="2.0" fill="#8d4aa6" fill-opacity="0.5"/>
<circle cx="147.1" cy="608.7" r="2.0" fill="#8d4aa6" fill-opacity="0.5"/>
<circle cx="150.2" cy="614.6" r="2.0" fill="#8d4aa6" fill-opacity="0.5"/>
<circle cx="155.9" cy="608.1" r="2.0" fill="#8d4aa6" fill-opacity="0.5"/>
<circle cx="149.7" cy="627" r="2.0" fill="#8d4aa6" fill-opacity="0.5"/>
<circle cx="156.5" cy="620.4" r="2.0" fill="#8d4aa6" fill-opacity="0.5"/>
<circle cx="153.4" cy="607.4" r="2.0" fill="#8d4aa6" fill-opacity="0.5"/>
<circle cx="154.3" cy="600.7" r="2.0" fill="#8d4aa6" fill-opacity="0.5"/>
<circle cx="143.7" cy="622.1" r="2.0" fill="#8d4aa6" fill-opacity="0.5"/>
<circle cx="146.2" cy="616.4" r="2.0" fill="#8d4aa6" fill-opacity="0.5"/>
<circle cx="148.9" cy="627.5" r="2.0" fill="#8d4aa6" fill-opacity="0.5"/>
<circle cx="152" cy="609.8" r="2.0" fill="#8d4aa6" fill-opacity="0.5"/>
<circle cx="151.9" cy="619.2" r="2.0" fill="#8d4aa6" fill-opacity="0.5"/>
<circle cx="151.9" cy="562.5" r="2.0" fill="#8d4aa6" fill-opacity="0.5"/>
<circle cx="150" cy="614.6" r="2.0" fill="#8d4aa6" fill-opacity="0.5"/>
<circle cx="154.7" cy="623.5" r="2.0" fill="#8d4aa6" fill-opacity="0.5"/>
<circle cx="147.3" cy="620.3" r="2.0" fill="#8d4aa6" fill-opacity="0.5"/>
<circle cx="142.3" cy="619.4" r="2.0" fill="#8d4aa6" fill-opacity="0.5"/>
<circle cx="146.1" cy="618.9" r="2.0" fill="#8d4aa6" fill-opacity="0.5"/>
<circle cx="158.3" cy="618.4" r="2.0" fill="#8d4aa6" fill-opacity="0.5"/>
<circle cx="145.3" cy="616.6" r="2.0" fill="#8d4aa6" fill-opacity="0.5"/>
<circle cx="144.8" cy="618" r="2.0" fill="#8d4aa6" fill-opacity="0.5"/>
<circle cx="146.8" cy="615.8" r="2.0" fill="#8d4aa6" fill-opacity="0.5"/>
<circle cx="158.4" cy="616.2" r="2.0" fill="#8d4aa6" fill-opacity="0.5"/>
<circle cx="157.1" cy="613.7" r="2.0" fill="#8d4aa6" fill-opacity="0.5"/>
<circle cx="144.4" cy="610" r="2.0" fill="#8d4aa6" fill-opacity="0.5"/>
<circle cx="144.8" cy="626.8" r="2.0" fill="#8d4aa6" fill-opacity="0.5"/>
<circle cx="141.7" cy="611.2" r="2.0" fill="#8d4aa6" fill-opacity="0.5"/>
<circle cx="154.2" cy="606.3" r="2.0" fill="#8d4aa6" fill-opacity="0.5"/>
<circle cx="157" cy="609.5" r="2.0" fill="#8d4aa6" fill-opacity="0.5"/>
<circle cx="148.6" cy="625.4" r="2.0" fill="#8d4aa6" fill-opacity="0.5"/>
<circle cx="149.5" cy="589.6" r="2.0" fill="#8d4aa6" fill-opacity="0.5"/>
<circle cx="142.9" cy="618.8" r="2.0" fill="#8d4aa6" fill-opacity="0.5"/>
<circle cx="149.8" cy="616.1" r="2.0" fill="#8d4aa6" fill-opacity="0.5"/>
<circle cx="154.2" cy="609.5" r="2.0" fill="#8d4aa6" fill-opacity="0.5"/>
<circle cx="146.9" cy="621.4" r="2.0" fill="#8d4aa6" fill-opacity="0.5"/>
<circle cx="156" cy="619.6" r="2.0" fill="#8d4aa6" fill-opacity="0.5"/>
<circle cx="141.7" cy="614.8" r="2.0" fill="#8d4aa6" fill-opacity="0.5"/>
<circle cx="145.4" cy="621.9" r="2.0" fill="#8d4aa6" fill-opacity="0.5"/>
<circle cx="145" cy="610.3" r="2.0" fill="#8d4aa6" fill-opacity="0.5"/>
<circle cx="151.4" cy="616" r="2.0" fill="#8d4aa6" fill-opacity="0.5"/>
<circle cx="157.2" cy="618.5" r="2.0" fill="#8d4aa6" fill-opacity="0.5"/>
<circle cx="151.1" cy="605.1" r="2.0" fill="#8d4aa6" fill-opacity="0.5"/>
<circle cx="156.3" cy="619.4" r="2.0" fill="#8d4aa6" fill-opacity="0.5"/>
<circle cx="152.3" cy="627.2" r="2.0" fill="#8d4aa6" fill-opacity="0.5"/>
<circle cx="150.8" cy="612.3" r="2.0" fill="#8d4aa6" fill-opacity="0.5"/>
<circle cx="154.1" cy="614.1" r="2.0" fill="#8d4aa6" fill-opacity="0.5"/>
<circle cx="155.8" cy="620.8" r="2.0" fill="#8d4aa6" fill-opacity="0.5"/>
<circle cx="151" cy="609.7" r="2.0" fill="#8d4aa6" fill-opacity="0.5"/>
<circle cx="146.2" cy="624.3" r="2.0" fill="#8d4aa6" fill-opacity="0.5"/>
<circle cx="151.7" cy="622.5" r="2.0" fill="#8d4aa6" fill-opacity="0.5"/>
<circle cx="151" cy="618.6" r="2.0" fill="#8d4aa6" fill-opacity="0.5"/>
<circle cx="143.2" cy="619.2" r="2.0" fill="#8d4aa6" fill-opacity="0.5"/>
<circle cx="146.5" cy="615" r="2.0" fill="#8d4aa6" fill-opacity="0.5"/>
<circle cx="145.9" cy="589.1" r="2.0" fill="#8d4aa6" fill-opacity="0.5"/>
<circle cx="148.2" cy="628.7" r="2.0" fill="#8d4aa6" fill-opacity="0.5"/>
<circle cx="151.5" cy="607.2" r="2.0" fill="#8d4aa6" fill-opacity="0.5"/>
<circle cx="156.7" cy="611.3" r="2.0" fill="#8d4aa6" fill-opacity="0.5"/>
<circle cx="145.9" cy="615.6" r="2.0" fill="#8d4aa6" fill-opacity="0.5"/>
<circle cx="152.8" cy="624.3" r="2.0" fill="#8d4aa6" fill-opacity="0.5"/>
<circle cx="149.6" cy="615.3" r="2.0" fill="#8d4aa6" fill-opacity="0.5"/>
<circle cx="151.4" cy="627.9" r="2.0" fill="#8d4aa6" fill-opacity="0.5"/>
<circle cx="151.9" cy="577.7" r="2.0" fill="#8d4aa6" fill-opacity="0.5"/>
<circle cx="152" cy="621.4" r="2.0" fill="#8d4aa6" fill-opacity="0.5"/>
<circle cx="152" cy="607" r="2.0" fill="#8d4aa6" fill-opacity="0.5"/>
<circle cx="152.5" cy="606.5" r="2.0" fill="#8d4aa6" fill-opacity="0.5"/>
<circle cx="151.9" cy="621.2" r="2.0" fill="#8d4aa6" fill-opacity="0.5"/>
<circle cx="145.4" cy="618.1" r="2.0" fill="#8d4aa6" fill-opacity="0.5"/>
<circle cx="150.4" cy="618" r="2.0" fill="#8d4aa6" fill-opacity="0.5"/>
<circle cx="157.5" cy="618.3" r="2.0" fill="#8d4aa6" fill-opacity="0.5"/>
<circle cx="150.8" cy="628" r="2.0" fill="#8d4aa6" fill-opacity="0.5"/>
<circle cx="157.8" cy="610.1" r="2.0" fill="#8d4aa6" fill-opacity="0.5"/>
<circle cx="154.7" cy="616.6" r="2.0" fill="#8d4aa6" fill-opacity="0.5"/>
<circle cx="156.1" cy="621.3" r="2.0" fill="#8d4aa6" fill-opacity="0.5"/>
<circle cx="149.8" cy="623.4" r="2.0" fill="#8d4aa6" fill-opacity="0.5"/>
<circle cx="155.1" cy="624.4" r="2.0" fill="#8d4aa6" fill-opacity="0.5"/>
<circle cx="142.6" cy="623.5" r="2.0" fill="#8d4aa6" fill-opacity="0.5"/>
<circle cx="153.1" cy="630.1" r="2.0" fill="#8d4aa6" fill-opacity="0.5"/>
<circle cx="154.6" cy="609.3" r="2.0" fill="#8d4aa6" fill-opacity="0.5"/>
<circle cx="154.4" cy="626.4" r="2.0" fill="#8d4aa6" fill-opacity="0.5"/>
<circle cx="158" cy="618.3" r="2.0" fill="#8d4aa6" fill-opacity="0.5"/>
<circle cx="151.1" cy="624.4" r="2.0" fill="#8d4aa6" fill-opacity="0.5"/>
<circle cx="147.8" cy="555.6" r="2.0" fill="#8d4aa6" fill-opacity="0.5"/>
<circle cx="157.3" cy="618.3" r="2.0" fill="#8d4aa6" fill-opacity="0.5"/>
<circle cx="146.6" cy="616.2" r="2.0" fill="#8d4aa6" fill-opacity="0.5"/>
<circle cx="151.2" cy="614.3" r="2.0" fill="#8d4aa6" fill-opacity="0.5"/>
<circle cx="149.6" cy="621.1" r="2.0" fill="#8d4aa6" fill-opacity="0.5"/>
<circle cx="141.5" cy="618.8" r="2.0" fill="#8d4aa6" fill-opacity="0.5"/>
<circle cx="144" cy="611.5" r="2.0" fill="#8d4aa6" fill-opacity="0.5"/>
<circle cx="147.5" cy="621" r="2.0" fill="#8d4aa6" fill-opacity="0.5"/>
<circle cx="147.5" cy="605.3" r="2.0" fill="#8d4aa6" fill-opacity="0.5"/>
<circle cx="150.4" cy="621.8" r="2.0" fill="#8d4aa6" fill-opacity="0.5"/>
<circle cx="143.9" cy="622" r="2.0" fill="#8d4aa6" fill-opacity="0.5"/>
<circle cx="154.5" cy="615.5" r="2.0" fill="#8d4aa6" fill-opacity="0.5"/>
<circle cx="156.4" cy="619.5" r="2.0" fill="#8d4aa6" fill-opacity="0.5"/>
<circle cx="149.1" cy="558.7" r="2.0" fill="#8d4aa6" fill-opacity="0.5"/>
<circle cx="155.9" cy="589.6" r="2.0" fill="#8d4aa6" fill-opacity="0.5"/>
<circle cx="141.6" cy="618.7" r="2.0" fill="#8d4aa6" fill-opacity="0.5"/>
<circle cx="149.6" cy="627.4" r="2.0" fill="#8d4aa6" fill-opacity="0.5"/>
<circle cx="155.8" cy="603.4" r="2.0" fill="#8d4aa6" fill-opacity="0.5"/>
<circle cx="146.7" cy="624.5" r="2.0" fill="#8d4aa6" fill-opacity="0.5"/>
<circle cx="193" cy="610.5" r="2.0" fill="#5b9ee8" fill-opacity="0.5"/>
<circle cx="201.4" cy="612.8" r="2.0" fill="#5b9ee8" fill-opacity="0.5"/>
<circle cx="189.5" cy="620.8" r="2.0" fill="#5b9ee8" fill-opacity="0.5"/>
<circle cx="187.1" cy="615.1" r="2.0" fill="#5b9ee8" fill-opacity="0.5"/>
<circle cx="194.2" cy="614.4" r="2.0" fill="#5b9ee8" fill-opacity="0.5"/>
<circle cx="195.9" cy="596" r="2.0" fill="#5b9ee8" fill-opacity="0.5"/>
<circle cx="185.8" cy="621.4" r="2.0" fill="#5b9ee8" fill-opacity="0.5"/>
<circle cx="192.2" cy="616.6" r="2.0" fill="#5b9ee8" fill-opacity="0.5"/>
<circle cx="190.6" cy="607.1" r="2.0" fill="#5b9ee8" fill-opacity="0.5"/>
<circle cx="193.7" cy="615.3" r="2.0" fill="#5b9ee8" fill-opacity="0.5"/>
<circle cx="186.5" cy="613" r="2.0" fill="#5b9ee8" fill-opacity="0.5"/>
<circle cx="198.5" cy="604.8" r="2.0" fill="#5b9ee8" fill-opacity="0.5"/>
<circle cx="186.1" cy="620.1" r="2.0" fill="#5b9ee8" fill-opacity="0.5"/>
<circle cx="201.2" cy="618.1" r="2.0" fill="#5b9ee8" fill-opacity="0.5"/>
<circle cx="199.5" cy="616.8" r="2.0" fill="#5b9ee8" fill-opacity="0.5"/>
<circle cx="188.9" cy="617.5" r="2.0" fill="#5b9ee8" fill-opacity="0.5"/>
<circle cx="188.4" cy="615.7" r="2.0" fill="#5b9ee8" fill-opacity="0.5"/>
<circle cx="200.5" cy="613.8" r="2.0" fill="#5b9ee8" fill-opacity="0.5"/>
<circle cx="187.6" cy="610.4" r="2.0" fill="#5b9ee8" fill-opacity="0.5"/>
<circle cx="200" cy="619.8" r="2.0" fill="#5b9ee8" fill-opacity="0.5"/>
<circle cx="199.6" cy="625.6" r="2.0" fill="#5b9ee8" fill-opacity="0.5"/>
<circle cx="201" cy="614.5" r="2.0" fill="#5b9ee8" fill-opacity="0.5"/>
<circle cx="188.7" cy="608.8" r="2.0" fill="#5b9ee8" fill-opacity="0.5"/>
<circle cx="195.7" cy="625.6" r="2.0" fill="#5b9ee8" fill-opacity="0.5"/>
<circle cx="192" cy="608.5" r="2.0" fill="#5b9ee8" fill-opacity="0.5"/>
<circle cx="188.2" cy="620.7" r="2.0" fill="#5b9ee8" fill-opacity="0.5"/>
<circle cx="189.8" cy="614.8" r="2.0" fill="#5b9ee8" fill-opacity="0.5"/>
<circle cx="201.4" cy="608.9" r="2.0" fill="#5b9ee8" fill-opacity="0.5"/>
<circle cx="188.2" cy="623.9" r="2.0" fill="#5b9ee8" fill-opacity="0.5"/>
<circle cx="186.9" cy="621.4" r="2.0" fill="#5b9ee8" fill-opacity="0.5"/>
<circle cx="195.8" cy="612.7" r="2.0" fill="#5b9ee8" fill-opacity="0.5"/>
<circle cx="196.5" cy="606.8" r="2.0" fill="#5b9ee8" fill-opacity="0.5"/>
<circle cx="187.2" cy="619.3" r="2.0" fill="#5b9ee8" fill-opacity="0.5"/>
<circle cx="201.5" cy="614.2" r="2.0" fill="#5b9ee8" fill-opacity="0.5"/>
<circle cx="190" cy="610.7" r="2.0" fill="#5b9ee8" fill-opacity="0.5"/>
<circle cx="193.7" cy="617.5" r="2.0" fill="#5b9ee8" fill-opacity="0.5"/>
<circle cx="186.1" cy="610.1" r="2.0" fill="#5b9ee8" fill-opacity="0.5"/>
<circle cx="190.5" cy="605.2" r="2.0" fill="#5b9ee8" fill-opacity="0.5"/>
<circle cx="190.4" cy="619.4" r="2.0" fill="#5b9ee8" fill-opacity="0.5"/>
<circle cx="193.9" cy="620.1" r="2.0" fill="#5b9ee8" fill-opacity="0.5"/>
<circle cx="199.2" cy="624.7" r="2.0" fill="#5b9ee8" fill-opacity="0.5"/>
<circle cx="198.8" cy="615.2" r="2.0" fill="#5b9ee8" fill-opacity="0.5"/>
<circle cx="197.3" cy="608.5" r="2.0" fill="#5b9ee8" fill-opacity="0.5"/>
<circle cx="188.6" cy="619.3" r="2.0" fill="#5b9ee8" fill-opacity="0.5"/>
<circle cx="191.7" cy="591.6" r="2.0" fill="#5b9ee8" fill-opacity="0.5"/>
<circle cx="185.7" cy="614.2" r="2.0" fill="#5b9ee8" fill-opacity="0.5"/>
<circle cx="193" cy="607.2" r="2.0" fill="#5b9ee8" fill-opacity="0.5"/>
<circle cx="200.7" cy="614.6" r="2.0" fill="#5b9ee8" fill-opacity="0.5"/>
<circle cx="188.4" cy="617.1" r="2.0" fill="#5b9ee8" fill-opacity="0.5"/>
<circle cx="196.2" cy="619.8" r="2.0" fill="#5b9ee8" fill-opacity="0.5"/>
<circle cx="197.4" cy="618.7" r="2.0" fill="#5b9ee8" fill-opacity="0.5"/>
<circle cx="197.8" cy="604" r="2.0" fill="#5b9ee8" fill-opacity="0.5"/>
<circle cx="190.8" cy="617.7" r="2.0" fill="#5b9ee8" fill-opacity="0.5"/>
<circle cx="191.8" cy="608" r="2.0" fill="#5b9ee8" fill-opacity="0.5"/>
<circle cx="194.5" cy="607.4" r="2.0" fill="#5b9ee8" fill-opacity="0.5"/>
<circle cx="189.8" cy="617" r="2.0" fill="#5b9ee8" fill-opacity="0.5"/>
<circle cx="195.5" cy="613.4" r="2.0" fill="#5b9ee8" fill-opacity="0.5"/>
<circle cx="195.9" cy="614.6" r="2.0" fill="#5b9ee8" fill-opacity="0.5"/>
<circle cx="192.9" cy="605.5" r="2.0" fill="#5b9ee8" fill-opacity="0.5"/>
<circle cx="192.3" cy="625.6" r="2.0" fill="#5b9ee8" fill-opacity="0.5"/>
<circle cx="201.5" cy="615.4" r="2.0" fill="#5b9ee8" fill-opacity="0.5"/>
<circle cx="196.8" cy="623.5" r="2.0" fill="#5b9ee8" fill-opacity="0.5"/>
<circle cx="189.2" cy="623.3" r="2.0" fill="#5b9ee8" fill-opacity="0.5"/>
<circle cx="197.7" cy="618.1" r="2.0" fill="#5b9ee8" fill-opacity="0.5"/>
<circle cx="198" cy="617.7" r="2.0" fill="#5b9ee8" fill-opacity="0.5"/>
<circle cx="191.9" cy="613.4" r="2.0" fill="#5b9ee8" fill-opacity="0.5"/>
<circle cx="196.7" cy="609.2" r="2.0" fill="#5b9ee8" fill-opacity="0.5"/>
<circle cx="191.1" cy="608.6" r="2.0" fill="#5b9ee8" fill-opacity="0.5"/>
<circle cx="194.9" cy="608.1" r="2.0" fill="#5b9ee8" fill-opacity="0.5"/>
<circle cx="189.2" cy="615.8" r="2.0" fill="#5b9ee8" fill-opacity="0.5"/>
<circle cx="190.4" cy="616.6" r="2.0" fill="#5b9ee8" fill-opacity="0.5"/>
<circle cx="194.6" cy="622.1" r="2.0" fill="#5b9ee8" fill-opacity="0.5"/>
<circle cx="193.8" cy="625.6" r="2.0" fill="#5b9ee8" fill-opacity="0.5"/>
<circle cx="195.3" cy="623.9" r="2.0" fill="#5b9ee8" fill-opacity="0.5"/>
<circle cx="191.9" cy="619.7" r="2.0" fill="#5b9ee8" fill-opacity="0.5"/>
<circle cx="188.2" cy="613.4" r="2.0" fill="#5b9ee8" fill-opacity="0.5"/>
<circle cx="193.6" cy="621.5" r="2.0" fill="#5b9ee8" fill-opacity="0.5"/>
<circle cx="190.9" cy="609" r="2.0" fill="#5b9ee8" fill-opacity="0.5"/>
<circle cx="192.5" cy="621.6" r="2.0" fill="#5b9ee8" fill-opacity="0.5"/>
<circle cx="188.1" cy="608" r="2.0" fill="#5b9ee8" fill-opacity="0.5"/>
<circle cx="190.1" cy="625.6" r="2.0" fill="#5b9ee8" fill-opacity="0.5"/>
<circle cx="194.4" cy="618.5" r="2.0" fill="#5b9ee8" fill-opacity="0.5"/>
<circle cx="196.2" cy="611.1" r="2.0" fill="#5b9ee8" fill-opacity="0.5"/>
<circle cx="191.1" cy="617.9" r="2.0" fill="#5b9ee8" fill-opacity="0.5"/>
<circle cx="186.5" cy="618.2" r="2.0" fill="#5b9ee8" fill-opacity="0.5"/>
<circle cx="187.8" cy="613.9" r="2.0" fill="#5b9ee8" fill-opacity="0.5"/>
<circle cx="198.1" cy="610.7" r="2.0" fill="#5b9ee8" fill-opacity="0.5"/>
<circle cx="190.7" cy="602.6" r="2.0" fill="#5b9ee8" fill-opacity="0.5"/>
<circle cx="198.7" cy="625.6" r="2.0" fill="#5b9ee8" fill-opacity="0.5"/>
<circle cx="196" cy="603.6" r="2.0" fill="#5b9ee8" fill-opacity="0.5"/>
<circle cx="195.4" cy="616.8" r="2.0" fill="#5b9ee8" fill-opacity="0.5"/>
<circle cx="195.1" cy="606.5" r="2.0" fill="#5b9ee8" fill-opacity="0.5"/>
<circle cx="190.2" cy="608.4" r="2.0" fill="#5b9ee8" fill-opacity="0.5"/>
<circle cx="186.1" cy="618" r="2.0" fill="#5b9ee8" fill-opacity="0.5"/>
<circle cx="193.7" cy="610.2" r="2.0" fill="#5b9ee8" fill-opacity="0.5"/>
<circle cx="194.8" cy="615.8" r="2.0" fill="#5b9ee8" fill-opacity="0.5"/>
<circle cx="194.3" cy="618.2" r="2.0" fill="#5b9ee8" fill-opacity="0.5"/>
<circle cx="195.1" cy="620.4" r="2.0" fill="#5b9ee8" fill-opacity="0.5"/>
<circle cx="186.9" cy="620.7" r="2.0" fill="#5b9ee8" fill-opacity="0.5"/>
<circle cx="200" cy="621.6" r="2.0" fill="#5b9ee8" fill-opacity="0.5"/>
<circle cx="195.7" cy="615.5" r="2.0" fill="#5b9ee8" fill-opacity="0.5"/>
<circle cx="197.2" cy="616.5" r="2.0" fill="#5b9ee8" fill-opacity="0.5"/>
<circle cx="197.4" cy="617.9" r="2.0" fill="#5b9ee8" fill-opacity="0.5"/>
<circle cx="189.9" cy="613.9" r="2.0" fill="#5b9ee8" fill-opacity="0.5"/>
<circle cx="190.3" cy="624.9" r="2.0" fill="#5b9ee8" fill-opacity="0.5"/>
<circle cx="199.5" cy="605.6" r="2.0" fill="#5b9ee8" fill-opacity="0.5"/>
<circle cx="191.9" cy="614.1" r="2.0" fill="#5b9ee8" fill-opacity="0.5"/>
<circle cx="196.9" cy="612.4" r="2.0" fill="#5b9ee8" fill-opacity="0.5"/>
<circle cx="189.1" cy="617" r="2.0" fill="#5b9ee8" fill-opacity="0.5"/>
<circle cx="192.9" cy="608.1" r="2.0" fill="#5b9ee8" fill-opacity="0.5"/>
<circle cx="189.8" cy="613.3" r="2.0" fill="#5b9ee8" fill-opacity="0.5"/>
<circle cx="187.1" cy="617.9" r="2.0" fill="#5b9ee8" fill-opacity="0.5"/>
<circle cx="199.5" cy="622.5" r="2.0" fill="#5b9ee8" fill-opacity="0.5"/>
<circle cx="196.1" cy="600.9" r="2.0" fill="#5b9ee8" fill-opacity="0.5"/>
<circle cx="189.5" cy="613.4" r="2.0" fill="#5b9ee8" fill-opacity="0.5"/>
<circle cx="188.1" cy="610.2" r="2.0" fill="#5b9ee8" fill-opacity="0.5"/>
<circle cx="189.6" cy="618.9" r="2.0" fill="#5b9ee8" fill-opacity="0.5"/>
<circle cx="187.2" cy="622.3" r="2.0" fill="#5b9ee8" fill-opacity="0.5"/>
<circle cx="189.6" cy="618" r="2.0" fill="#5b9ee8" fill-opacity="0.5"/>
<circle cx="189.8" cy="615" r="2.0" fill="#5b9ee8" fill-opacity="0.5"/>
<circle cx="190.5" cy="607.2" r="2.0" fill="#5b9ee8" fill-opacity="0.5"/>
<circle cx="193.5" cy="625.6" r="2.0" fill="#5b9ee8" fill-opacity="0.5"/>
<circle cx="189.7" cy="611" r="2.0" fill="#5b9ee8" fill-opacity="0.5"/>
<circle cx="191.6" cy="620.2" r="2.0" fill="#5b9ee8" fill-opacity="0.5"/>
<circle cx="185.8" cy="609" r="2.0" fill="#5b9ee8" fill-opacity="0.5"/>
<circle cx="192.4" cy="622" r="2.0" fill="#5b9ee8" fill-opacity="0.5"/>
<circle cx="198.5" cy="595" r="2.0" fill="#5b9ee8" fill-opacity="0.5"/>
<circle cx="197" cy="610.3" r="2.0" fill="#5b9ee8" fill-opacity="0.5"/>
<circle cx="198.7" cy="618.9" r="2.0" fill="#5b9ee8" fill-opacity="0.5"/>
<circle cx="193.7" cy="623.2" r="2.0" fill="#5b9ee8" fill-opacity="0.5"/>
<circle cx="190.5" cy="609" r="2.0" fill="#5b9ee8" fill-opacity="0.5"/>
<circle cx="193.6" cy="618.6" r="2.0" fill="#5b9ee8" fill-opacity="0.5"/>
<circle cx="199.2" cy="593.8" r="2.0" fill="#5b9ee8" fill-opacity="0.5"/>
<circle cx="188.7" cy="624" r="2.0" fill="#5b9ee8" fill-opacity="0.5"/>
<circle cx="189.7" cy="621.7" r="2.0" fill="#5b9ee8" fill-opacity="0.5"/>
<circle cx="190.8" cy="606.6" r="2.0" fill="#5b9ee8" fill-opacity="0.5"/>
<circle cx="188.6" cy="613.6" r="2.0" fill="#5b9ee8" fill-opacity="0.5"/>
<circle cx="195.8" cy="613.5" r="2.0" fill="#5b9ee8" fill-opacity="0.5"/>
<circle cx="198.3" cy="608.3" r="2.0" fill="#5b9ee8" fill-opacity="0.5"/>
<circle cx="196.6" cy="607.8" r="2.0" fill="#5b9ee8" fill-opacity="0.5"/>
<circle cx="192" cy="616.5" r="2.0" fill="#5b9ee8" fill-opacity="0.5"/>
<circle cx="192.7" cy="609.8" r="2.0" fill="#5b9ee8" fill-opacity="0.5"/>
<circle cx="188.9" cy="613.4" r="2.0" fill="#5b9ee8" fill-opacity="0.5"/>
<circle cx="197.3" cy="623.7" r="2.0" fill="#5b9ee8" fill-opacity="0.5"/>
<circle cx="193.1" cy="615.4" r="2.0" fill="#5b9ee8" fill-opacity="0.5"/>
<circle cx="201" cy="611.5" r="2.0" fill="#5b9ee8" fill-opacity="0.5"/>
<circle cx="193.9" cy="619.5" r="2.0" fill="#5b9ee8" fill-opacity="0.5"/>
<circle cx="192" cy="618.8" r="2.0" fill="#5b9ee8" fill-opacity="0.5"/>
<circle cx="198.6" cy="608" r="2.0" fill="#5b9ee8" fill-opacity="0.5"/>
<circle cx="191.8" cy="612.5" r="2.0" fill="#5b9ee8" fill-opacity="0.5"/>
<circle cx="194.5" cy="622.8" r="2.0" fill="#5b9ee8" fill-opacity="0.5"/>
<circle cx="188.7" cy="618.6" r="2.0" fill="#5b9ee8" fill-opacity="0.5"/>
<circle cx="191.7" cy="625.6" r="2.0" fill="#5b9ee8" fill-opacity="0.5"/>
<circle cx="196" cy="612" r="2.0" fill="#5b9ee8" fill-opacity="0.5"/>
<circle cx="192.2" cy="620.5" r="2.0" fill="#5b9ee8" fill-opacity="0.5"/>
<circle cx="200.2" cy="617.5" r="2.0" fill="#5b9ee8" fill-opacity="0.5"/>
<circle cx="196.6" cy="620.9" r="2.0" fill="#5b9ee8" fill-opacity="0.5"/>
<circle cx="189.5" cy="610.7" r="2.0" fill="#5b9ee8" fill-opacity="0.5"/>
<circle cx="189.7" cy="613" r="2.0" fill="#5b9ee8" fill-opacity="0.5"/>
<circle cx="193" cy="617.4" r="2.0" fill="#5b9ee8" fill-opacity="0.5"/>
<circle cx="186" cy="615.6" r="2.0" fill="#5b9ee8" fill-opacity="0.5"/>
<circle cx="197.9" cy="612.2" r="2.0" fill="#5b9ee8" fill-opacity="0.5"/>
<circle cx="202" cy="618.5" r="2.0" fill="#5b9ee8" fill-opacity="0.5"/>
<circle cx="197.3" cy="613.1" r="2.0" fill="#5b9ee8" fill-opacity="0.5"/>
<circle cx="198.5" cy="625.6" r="2.0" fill="#5b9ee8" fill-opacity="0.5"/>
<circle cx="189.4" cy="603.5" r="2.0" fill="#5b9ee8" fill-opacity="0.5"/>
<circle cx="188.9" cy="624.4" r="2.0" fill="#5b9ee8" fill-opacity="0.5"/>
<circle cx="201" cy="612.6" r="2.0" fill="#5b9ee8" fill-opacity="0.5"/>
<circle cx="202.1" cy="617.1" r="2.0" fill="#5b9ee8" fill-opacity="0.5"/>
<circle cx="197.5" cy="617.6" r="2.0" fill="#5b9ee8" fill-opacity="0.5"/>
<circle cx="193.8" cy="623.5" r="2.0" fill="#5b9ee8" fill-opacity="0.5"/>
<circle cx="187.8" cy="612.8" r="2.0" fill="#5b9ee8" fill-opacity="0.5"/>
<circle cx="189.6" cy="607.1" r="2.0" fill="#5b9ee8" fill-opacity="0.5"/>
<circle cx="196.9" cy="618.6" r="2.0" fill="#5b9ee8" fill-opacity="0.5"/>
<circle cx="198.3" cy="621.7" r="2.0" fill="#5b9ee8" fill-opacity="0.5"/>
<circle cx="197.6" cy="613" r="2.0" fill="#5b9ee8" fill-opacity="0.5"/>
<circle cx="193.2" cy="622" r="2.0" fill="#5b9ee8" fill-opacity="0.5"/>
<circle cx="193.3" cy="613" r="2.0" fill="#5b9ee8" fill-opacity="0.5"/>
<circle cx="195.8" cy="605.7" r="2.0" fill="#5b9ee8" fill-opacity="0.5"/>
<circle cx="191.2" cy="618.3" r="2.0" fill="#5b9ee8" fill-opacity="0.5"/>
<circle cx="195.3" cy="605.2" r="2.0" fill="#5b9ee8" fill-opacity="0.5"/>
<circle cx="193.4" cy="624.8" r="2.0" fill="#5b9ee8" fill-opacity="0.5"/>
<circle cx="198.5" cy="625.6" r="2.0" fill="#5b9ee8" fill-opacity="0.5"/>
<circle cx="198.8" cy="619.3" r="2.0" fill="#5b9ee8" fill-opacity="0.5"/>
<circle cx="195.1" cy="618.7" r="2.0" fill="#5b9ee8" fill-opacity="0.5"/>
<circle cx="200.5" cy="613.5" r="2.0" fill="#5b9ee8" fill-opacity="0.5"/>
<circle cx="191.7" cy="624.6" r="2.0" fill="#5b9ee8" fill-opacity="0.5"/>
<circle cx="194.6" cy="615.4" r="2.0" fill="#5b9ee8" fill-opacity="0.5"/>
<circle cx="197.2" cy="617.5" r="2.0" fill="#5b9ee8" fill-opacity="0.5"/>
<circle cx="196" cy="608.8" r="2.0" fill="#5b9ee8" fill-opacity="0.5"/>
<circle cx="191.7" cy="620.1" r="2.0" fill="#5b9ee8" fill-opacity="0.5"/>
<circle cx="191.9" cy="619.6" r="2.0" fill="#5b9ee8" fill-opacity="0.5"/>
<circle cx="190.9" cy="613.7" r="2.0" fill="#5b9ee8" fill-opacity="0.5"/>
<circle cx="200.2" cy="620.2" r="2.0" fill="#5b9ee8" fill-opacity="0.5"/>
<circle cx="200.3" cy="609.8" r="2.0" fill="#5b9ee8" fill-opacity="0.5"/>
<circle cx="189.5" cy="616" r="2.0" fill="#5b9ee8" fill-opacity="0.5"/>
<circle cx="188.9" cy="618.2" r="2.0" fill="#5b9ee8" fill-opacity="0.5"/>
<circle cx="187.3" cy="609.4" r="2.0" fill="#5b9ee8" fill-opacity="0.5"/>
<circle cx="200.9" cy="611" r="2.0" fill="#5b9ee8" fill-opacity="0.5"/>
<circle cx="196.7" cy="609.6" r="2.0" fill="#5b9ee8" fill-opacity="0.5"/>
<circle cx="200.1" cy="617.4" r="2.0" fill="#5b9ee8" fill-opacity="0.5"/>
<circle cx="196.1" cy="606.1" r="2.0" fill="#5b9ee8" fill-opacity="0.5"/>
<circle cx="191.1" cy="615.8" r="2.0" fill="#5b9ee8" fill-opacity="0.5"/>
<circle cx="192.2" cy="625" r="2.0" fill="#5b9ee8" fill-opacity="0.5"/>
<circle cx="190.6" cy="614.3" r="2.0" fill="#5b9ee8" fill-opacity="0.5"/>
<circle cx="200.1" cy="616.3" r="2.0" fill="#5b9ee8" fill-opacity="0.5"/>
<circle cx="196.5" cy="597" r="2.0" fill="#5b9ee8" fill-opacity="0.5"/>
<circle cx="196.3" cy="613.5" r="2.0" fill="#5b9ee8" fill-opacity="0.5"/>
<circle cx="186" cy="621.4" r="2.0" fill="#5b9ee8" fill-opacity="0.5"/>
<circle cx="197.8" cy="616.3" r="2.0" fill="#5b9ee8" fill-opacity="0.5"/>
<circle cx="193.9" cy="612.7" r="2.0" fill="#5b9ee8" fill-opacity="0.5"/>
<circle cx="198.1" cy="613.6" r="2.0" fill="#5b9ee8" fill-opacity="0.5"/>
<circle cx="187.7" cy="609.2" r="2.0" fill="#5b9ee8" fill-opacity="0.5"/>
<circle cx="197.6" cy="607.3" r="2.0" fill="#5b9ee8" fill-opacity="0.5"/>
<circle cx="190.3" cy="617.7" r="2.0" fill="#5b9ee8" fill-opacity="0.5"/>
<circle cx="202.2" cy="610.4" r="2.0" fill="#5b9ee8" fill-opacity="0.5"/>
<circle cx="199.8" cy="606.3" r="2.0" fill="#5b9ee8" fill-opacity="0.5"/>
<circle cx="190.2" cy="605.7" r="2.0" fill="#5b9ee8" fill-opacity="0.5"/>
<circle cx="195" cy="619.2" r="2.0" fill="#5b9ee8" fill-opacity="0.5"/>
<circle cx="193.7" cy="614.5" r="2.0" fill="#5b9ee8" fill-opacity="0.5"/>
<circle cx="190.5" cy="625.6" r="2.0" fill="#5b9ee8" fill-opacity="0.5"/>
<circle cx="195.3" cy="615.7" r="2.0" fill="#5b9ee8" fill-opacity="0.5"/>
<circle cx="195.7" cy="612.1" r="2.0" fill="#5b9ee8" fill-opacity="0.5"/>
<circle cx="194.2" cy="625.6" r="2.0" fill="#5b9ee8" fill-opacity="0.5"/>
<circle cx="194.3" cy="614.9" r="2.0" fill="#5b9ee8" fill-opacity="0.5"/>
<circle cx="196.2" cy="610.8" r="2.0" fill="#5b9ee8" fill-opacity="0.5"/>
<circle cx="193.3" cy="607.7" r="2.0" fill="#5b9ee8" fill-opacity="0.5"/>
<circle cx="195.8" cy="616.2" r="2.0" fill="#5b9ee8" fill-opacity="0.5"/>
<circle cx="197.2" cy="625.6" r="2.0" fill="#5b9ee8" fill-opacity="0.5"/>
<circle cx="197.5" cy="614.9" r="2.0" fill="#5b9ee8" fill-opacity="0.5"/>
<circle cx="188.8" cy="613.7" r="2.0" fill="#5b9ee8" fill-opacity="0.5"/>
<circle cx="189.2" cy="609.5" r="2.0" fill="#5b9ee8" fill-opacity="0.5"/>
<circle cx="185.7" cy="611.5" r="2.0" fill="#5b9ee8" fill-opacity="0.5"/>
<circle cx="195.5" cy="625.6" r="2.0" fill="#5b9ee8" fill-opacity="0.5"/>
<circle cx="188.1" cy="617.2" r="2.0" fill="#5b9ee8" fill-opacity="0.5"/>
<circle cx="198.6" cy="621.2" r="2.0" fill="#5b9ee8" fill-opacity="0.5"/>
<circle cx="185.3" cy="614.3" r="2.0" fill="#5b9ee8" fill-opacity="0.5"/>
<circle cx="192.7" cy="623.2" r="2.0" fill="#5b9ee8" fill-opacity="0.5"/>
<circle cx="196.9" cy="613.8" r="2.0" fill="#5b9ee8" fill-opacity="0.5"/>
<circle cx="197" cy="614.9" r="2.0" fill="#5b9ee8" fill-opacity="0.5"/>
<circle cx="192" cy="610.2" r="2.0" fill="#5b9ee8" fill-opacity="0.5"/>
<circle cx="201.5" cy="621.9" r="2.0" fill="#5b9ee8" fill-opacity="0.5"/>
<circle cx="191.1" cy="609.6" r="2.0" fill="#5b9ee8" fill-opacity="0.5"/>
<circle cx="191.1" cy="607.1" r="2.0" fill="#5b9ee8" fill-opacity="0.5"/>
<circle cx="186.3" cy="616.1" r="2.0" fill="#5b9ee8" fill-opacity="0.5"/>
<circle cx="199.3" cy="623.3" r="2.0" fill="#5b9ee8" fill-opacity="0.5"/>
<circle cx="187.3" cy="615.5" r="2.0" fill="#5b9ee8" fill-opacity="0.5"/>
<circle cx="191.2" cy="620.7" r="2.0" fill="#5b9ee8" fill-opacity="0.5"/>
<circle cx="192.7" cy="620.6" r="2.0" fill="#5b9ee8" fill-opacity="0.5"/>
<circle cx="188.3" cy="615" r="2.0" fill="#5b9ee8" fill-opacity="0.5"/>
<circle cx="188.5" cy="587.1" r="2.0" fill="#5b9ee8" fill-opacity="0.5"/>
<circle cx="192.4" cy="613.2" r="2.0" fill="#5b9ee8" fill-opacity="0.5"/>
<circle cx="186.2" cy="611.4" r="2.0" fill="#5b9ee8" fill-opacity="0.5"/>
<circle cx="185.4" cy="611.6" r="2.0" fill="#5b9ee8" fill-opacity="0.5"/>
<circle cx="188.3" cy="618.6" r="2.0" fill="#5b9ee8" fill-opacity="0.5"/>
<circle cx="199.2" cy="607.1" r="2.0" fill="#5b9ee8" fill-opacity="0.5"/>
<circle cx="200" cy="617" r="2.0" fill="#5b9ee8" fill-opacity="0.5"/>
<circle cx="196.6" cy="613.2" r="2.0" fill="#5b9ee8" fill-opacity="0.5"/>
<circle cx="193.6" cy="608.3" r="2.0" fill="#5b9ee8" fill-opacity="0.5"/>
<circle cx="193.4" cy="619" r="2.0" fill="#5b9ee8" fill-opacity="0.5"/>
<circle cx="193.9" cy="625.6" r="2.0" fill="#5b9ee8" fill-opacity="0.5"/>
<circle cx="193.9" cy="625.6" r="2.0" fill="#5b9ee8" fill-opacity="0.5"/>
<circle cx="188.9" cy="612.8" r="2.0" fill="#5b9ee8" fill-opacity="0.5"/>
<circle cx="193.6" cy="607.7" r="2.0" fill="#5b9ee8" fill-opacity="0.5"/>
<circle cx="194" cy="610.5" r="2.0" fill="#5b9ee8" fill-opacity="0.5"/>
<circle cx="193.1" cy="614.8" r="2.0" fill="#5b9ee8" fill-opacity="0.5"/>
<circle cx="195.2" cy="618.1" r="2.0" fill="#5b9ee8" fill-opacity="0.5"/>
<circle cx="196.9" cy="622.4" r="2.0" fill="#5b9ee8" fill-opacity="0.5"/>
<circle cx="195.5" cy="624" r="2.0" fill="#5b9ee8" fill-opacity="0.5"/>
<circle cx="193.5" cy="611.7" r="2.0" fill="#5b9ee8" fill-opacity="0.5"/>
<circle cx="193.1" cy="616.9" r="2.0" fill="#5b9ee8" fill-opacity="0.5"/>
<circle cx="199.1" cy="615.8" r="2.0" fill="#5b9ee8" fill-opacity="0.5"/>
<circle cx="188.6" cy="610" r="2.0" fill="#5b9ee8" fill-opacity="0.5"/>
<circle cx="189.5" cy="624.6" r="2.0" fill="#5b9ee8" fill-opacity="0.5"/>
<circle cx="187.7" cy="614.9" r="2.0" fill="#5b9ee8" fill-opacity="0.5"/>
<circle cx="188.9" cy="619.5" r="2.0" fill="#5b9ee8" fill-opacity="0.5"/>
<circle cx="186" cy="615.2" r="2.0" fill="#5b9ee8" fill-opacity="0.5"/>
<circle cx="194.2" cy="608.1" r="2.0" fill="#5b9ee8" fill-opacity="0.5"/>
<circle cx="199.3" cy="622.5" r="2.0" fill="#5b9ee8" fill-opacity="0.5"/>
<circle cx="190.9" cy="618.2" r="2.0" fill="#5b9ee8" fill-opacity="0.5"/>
<circle cx="193.6" cy="592.3" r="2.0" fill="#5b9ee8" fill-opacity="0.5"/>
<circle cx="199.5" cy="614.2" r="2.0" fill="#5b9ee8" fill-opacity="0.5"/>
<circle cx="197.6" cy="616.8" r="2.0" fill="#5b9ee8" fill-opacity="0.5"/>
<circle cx="190.4" cy="624.8" r="2.0" fill="#5b9ee8" fill-opacity="0.5"/>
<circle cx="188.7" cy="611.4" r="2.0" fill="#5b9ee8" fill-opacity="0.5"/>
<circle cx="193.4" cy="620.7" r="2.0" fill="#5b9ee8" fill-opacity="0.5"/>
<circle cx="195.2" cy="616.4" r="2.0" fill="#5b9ee8" fill-opacity="0.5"/>
<circle cx="190.7" cy="625.6" r="2.0" fill="#5b9ee8" fill-opacity="0.5"/>
<circle cx="185.9" cy="611.9" r="2.0" fill="#5b9ee8" fill-opacity="0.5"/>
<circle cx="188.8" cy="625.6" r="2.0" fill="#5b9ee8" fill-opacity="0.5"/>
<circle cx="198.5" cy="620.8" r="2.0" fill="#5b9ee8" fill-opacity="0.5"/>
<circle cx="201" cy="613.9" r="2.0" fill="#5b9ee8" fill-opacity="0.5"/>
<circle cx="198.4" cy="613.9" r="2.0" fill="#5b9ee8" fill-opacity="0.5"/>
<circle cx="188.5" cy="610.5" r="2.0" fill="#5b9ee8" fill-opacity="0.5"/>
<circle cx="196.4" cy="621.6" r="2.0" fill="#5b9ee8" fill-opacity="0.5"/>
<circle cx="199.5" cy="610.9" r="2.0" fill="#5b9ee8" fill-opacity="0.5"/>
<circle cx="197.6" cy="622.1" r="2.0" fill="#5b9ee8" fill-opacity="0.5"/>
<circle cx="188.5" cy="612.9" r="2.0" fill="#5b9ee8" fill-opacity="0.5"/>
<circle cx="189.6" cy="616.4" r="2.0" fill="#5b9ee8" fill-opacity="0.5"/>
<circle cx="196.3" cy="620.7" r="2.0" fill="#5b9ee8" fill-opacity="0.5"/>
<line x1="62.1" y1="606" x2="62.1" y2="616.3" stroke="#333" stroke-width="0.7"/>
<line x1="62.1" y1="621.2" x2="62.1" y2="627" stroke="#333" stroke-width="0.7"/>
<rect x="45.7" y="616.3" width="32.7" height="4.9" fill="none" stroke="#333" stroke-width="0.8"/>
<line x1="45.7" y1="618.9" x2="78.4" y2="618.9" stroke="#222" stroke-width="1.2"/>
<line x1="105.8" y1="577" x2="105.8" y2="601.8" stroke="#333" stroke-width="0.7"/>
<line x1="105.8" y1="614.9" x2="105.8" y2="627" stroke="#333" stroke-width="0.7"/>
<rect x="89.2" y="601.8" width="33.3" height="13.1" fill="none" stroke="#333" stroke-width="0.8"/>
<line x1="89.2" y1="609.2" x2="122.5" y2="609.2" stroke="#222" stroke-width="1.2"/>
<line x1="149.8" y1="596" x2="149.8" y2="610.3" stroke="#333" stroke-width="0.7"/>
<line x1="149.8" y1="619.7" x2="149.8" y2="631" stroke="#333" stroke-width="0.7"/>
<rect x="133" y="610.3" width="33.6" height="9.4" fill="none" stroke="#333" stroke-width="0.8"/>
<line x1="133" y1="616" x2="166.6" y2="616" stroke="#222" stroke-width="1.2"/>
<line x1="194" y1="601" x2="194" y2="612" stroke="#333" stroke-width="0.7"/>
<line x1="194" y1="619.2" x2="194" y2="627" stroke="#333" stroke-width="0.7"/>
<rect x="177.2" y="612" width="33.6" height="7.2" fill="none" stroke="#333" stroke-width="0.8"/>
<line x1="177.2" y1="615.5" x2="210.8" y2="615.5" stroke="#222" stroke-width="1.2"/>
<text x="61.9" y="642.5" font-size="8.6" fill="#222" text-anchor="middle">n=69</text>
<text x="61.9" y="651.9" font-size="8.9" fill="#e03030" text-anchor="middle">2.9%↑</text>
<line x1="61.9" y1="655.9" x2="61.9" y2="658.5" stroke="#333" stroke-width="0.8"/>
<text x="61.9" y="668.1" font-size="8.8" fill="#222" text-anchor="middle">HC</text>
<text x="106.9" y="642.5" font-size="8.6" fill="#222" text-anchor="middle">n=345</text>
<text x="106.9" y="651.9" font-size="8.9" fill="#e03030" text-anchor="middle">52.5%↑</text>
<line x1="106.9" y1="655.9" x2="106.9" y2="658.5" stroke="#333" stroke-width="0.8"/>
<text x="106.9" y="668.1" font-size="8.8" fill="#222" text-anchor="middle">RRMS</text>
<text x="149.6" y="642.5" font-size="8.6" fill="#222" text-anchor="middle">n=251</text>
<text x="149.6" y="651.9" font-size="8.9" fill="#e03030" text-anchor="middle">25.1%↑</text>
<line x1="149.6" y1="655.9" x2="149.6" y2="658.5" stroke="#333" stroke-width="0.8"/>
<text x="149.6" y="668.1" font-size="8.8" fill="#222" text-anchor="middle">SPMS</text>
<text x="193.7" y="642.5" font-size="8.6" fill="#222" text-anchor="middle">n=375</text>
<text x="193.7" y="651.9" font-size="8.9" fill="#e03030" text-anchor="middle">17.3%↑</text>
<line x1="193.7" y1="655.9" x2="193.7" y2="658.5" stroke="#333" stroke-width="0.8"/>
<text x="193.7" y="668.1" font-size="8.8" fill="#222" text-anchor="middle">PPMS</text>
<path d="M149.8 511.7 L149.8 509.5 L193.7 509.5 L193.7 511.7" fill="none" stroke="#444" stroke-width="0.7"/>
<text x="171.7" y="507.9" font-size="7" fill="#333" text-anchor="middle">0.047</text>
<path d="M106.2 520.1 L106.2 517.9 L193.7 517.9 L193.7 520.1" fill="none" stroke="#444" stroke-width="0.7"/>
<text x="150.2" y="516.3" font-size="7" fill="#333" text-anchor="middle">p &lt; 2.22e-16</text>
<path d="M106.2 528.2 L106.2 526 L149.8 526 L149.8 528.2" fill="none" stroke="#444" stroke-width="0.7"/>
<text x="128" y="524.4" font-size="7" fill="#333" text-anchor="middle">1.4e-12</text>
<path d="M62.3 536.1 L62.3 533.9 L193.7 533.9 L193.7 536.1" fill="none" stroke="#444" stroke-width="0.7"/>
<text x="128" y="532.3" font-size="7" fill="#333" text-anchor="middle">5.4e-08</text>
<path d="M62.3 544.5 L62.3 542.3 L149.8 542.3 L149.8 544.5" fill="none" stroke="#444" stroke-width="0.7"/>
<text x="106" y="540.7" font-size="7" fill="#333" text-anchor="middle">6.6e-09</text>
<path d="M62.3 552.4000000000001 L62.3 550.2 L106.2 550.2 L106.2 552.4000000000001" fill="none" stroke="#444" stroke-width="0.7"/>
<text x="84.2" y="548.6" font-size="7" fill="#333" text-anchor="middle">p &lt; 2.22e-16</text>
<text x="7.2" y="684.2" font-size="14.8" font-weight="bold">h</text>
<line x1="36.6" y1="697" x2="36.6" y2="850.6" stroke="#333" stroke-width="1"/>
<line x1="36.1" y1="850.6" x2="222.7" y2="850.6" stroke="#333" stroke-width="1"/>
<line x1="33.2" y1="825.2" x2="36.6" y2="825.2" stroke="#333" stroke-width="0.8"/>
<text x="32" y="828.6" font-size="9.7" fill="#222" text-anchor="end">0</text>
<line x1="33.2" y1="761.6" x2="36.6" y2="761.6" stroke="#333" stroke-width="0.8"/>
<text x="32" y="765" font-size="9.7" fill="#222" text-anchor="end">1</text>
<line x1="33.2" y1="698" x2="36.6" y2="698" stroke="#333" stroke-width="0.8"/>
<text x="32" y="701.4" font-size="9.7" fill="#222" text-anchor="end">2</text>
<line x1="50.8" y1="850.6" x2="50.8" y2="853.5" stroke="#333" stroke-width="0.8"/>
<text x="50.8" y="863.8" font-size="9.7" fill="#222" text-anchor="middle">20</text>
<line x1="106.9" y1="850.6" x2="106.9" y2="853.5" stroke="#333" stroke-width="0.8"/>
<text x="106.9" y="863.8" font-size="9.7" fill="#222" text-anchor="middle">40</text>
<line x1="163" y1="850.6" x2="163" y2="853.5" stroke="#333" stroke-width="0.8"/>
<text x="163" y="863.8" font-size="9.7" fill="#222" text-anchor="middle">60</text>
<line x1="219.1" y1="850.6" x2="219.1" y2="853.5" stroke="#333" stroke-width="0.8"/>
<text x="219.1" y="863.8" font-size="9.7" fill="#222" text-anchor="middle">80</text>
<text x="128.9" y="875" font-size="9.8" fill="#111" text-anchor="middle">Age (years)</text>
<text x="20.4" y="765.8" font-size="8.6" fill="#111" text-anchor="middle" transform="rotate(-90 20.4 765.8)">CSF biomarker-predicted Ln(CEL#)</text>
<circle cx="120.4" cy="824.6" r="1.95" fill="#4f9d45" stroke="#8a8a8a" stroke-width="0.25" fill-opacity="0.62"/>
<circle cx="190.7" cy="818.1" r="1.95" fill="#7fb2ea" stroke="#8a8a8a" stroke-width="0.25" fill-opacity="0.62"/>
<circle cx="120.3" cy="815.3" r="1.95" fill="#e3b551" stroke="#8a8a8a" stroke-width="0.25" fill-opacity="0.62"/>
<circle cx="126.8" cy="804.2" r="1.95" fill="#e3b551" stroke="#8a8a8a" stroke-width="0.25" fill-opacity="0.62"/>
<circle cx="156.5" cy="821.7" r="1.95" fill="#7fb2ea" stroke="#8a8a8a" stroke-width="0.25" fill-opacity="0.62"/>
<circle cx="108.1" cy="816.7" r="1.95" fill="#a070b8" stroke="#8a8a8a" stroke-width="0.25" fill-opacity="0.62"/>
<circle cx="118.5" cy="769.6" r="1.95" fill="#e3b551" stroke="#8a8a8a" stroke-width="0.25" fill-opacity="0.62"/>
<circle cx="57.2" cy="736.2" r="1.95" fill="#e3b551" stroke="#8a8a8a" stroke-width="0.25" fill-opacity="0.62"/>
<circle cx="144.6" cy="829.1" r="1.95" fill="#a070b8" stroke="#8a8a8a" stroke-width="0.25" fill-opacity="0.62"/>
<circle cx="119.7" cy="811.2" r="1.95" fill="#7fb2ea" stroke="#8a8a8a" stroke-width="0.25" fill-opacity="0.62"/>
<circle cx="202" cy="808.1" r="1.95" fill="#a070b8" stroke="#8a8a8a" stroke-width="0.25" fill-opacity="0.62"/>
<circle cx="125.8" cy="818.6" r="1.95" fill="#a070b8" stroke="#8a8a8a" stroke-width="0.25" fill-opacity="0.62"/>
<circle cx="86.8" cy="795.8" r="1.95" fill="#a070b8" stroke="#8a8a8a" stroke-width="0.25" fill-opacity="0.62"/>
<circle cx="141.6" cy="820.4" r="1.95" fill="#7fb2ea" stroke="#8a8a8a" stroke-width="0.25" fill-opacity="0.62"/>
<circle cx="73.2" cy="794.7" r="1.95" fill="#e3b551" stroke="#8a8a8a" stroke-width="0.25" fill-opacity="0.62"/>
<circle cx="127.1" cy="806.9" r="1.95" fill="#e3b551" stroke="#8a8a8a" stroke-width="0.25" fill-opacity="0.62"/>
<circle cx="106" cy="814.6" r="1.95" fill="#7fb2ea" stroke="#8a8a8a" stroke-width="0.25" fill-opacity="0.62"/>
<circle cx="193.1" cy="832.8" r="1.95" fill="#7fb2ea" stroke="#8a8a8a" stroke-width="0.25" fill-opacity="0.62"/>
<circle cx="158.1" cy="798.4" r="1.95" fill="#e3b551" stroke="#8a8a8a" stroke-width="0.25" fill-opacity="0.62"/>
<circle cx="177.1" cy="818.3" r="1.95" fill="#a070b8" stroke="#8a8a8a" stroke-width="0.25" fill-opacity="0.62"/>
<circle cx="127.6" cy="811" r="1.95" fill="#7fb2ea" stroke="#8a8a8a" stroke-width="0.25" fill-opacity="0.62"/>
<circle cx="96.1" cy="826.1" r="1.95" fill="#e3b551" stroke="#8a8a8a" stroke-width="0.25" fill-opacity="0.62"/>
<circle cx="139.4" cy="832.8" r="1.95" fill="#7fb2ea" stroke="#8a8a8a" stroke-width="0.25" fill-opacity="0.62"/>
<circle cx="138.7" cy="808.1" r="1.95" fill="#a070b8" stroke="#8a8a8a" stroke-width="0.25" fill-opacity="0.62"/>
<circle cx="180.1" cy="813.2" r="1.95" fill="#7fb2ea" stroke="#8a8a8a" stroke-width="0.25" fill-opacity="0.62"/>
<circle cx="85.5" cy="818.7" r="1.95" fill="#4f9d45" stroke="#8a8a8a" stroke-width="0.25" fill-opacity="0.62"/>
<circle cx="53" cy="796.3" r="1.95" fill="#e3b551" stroke="#8a8a8a" stroke-width="0.25" fill-opacity="0.62"/>
<circle cx="83.4" cy="775.1" r="1.95" fill="#e3b551" stroke="#8a8a8a" stroke-width="0.25" fill-opacity="0.62"/>
<circle cx="118.2" cy="793.2" r="1.95" fill="#a070b8" stroke="#8a8a8a" stroke-width="0.25" fill-opacity="0.62"/>
<circle cx="170.1" cy="808.9" r="1.95" fill="#a070b8" stroke="#8a8a8a" stroke-width="0.25" fill-opacity="0.62"/>
<circle cx="179.3" cy="819" r="1.95" fill="#7fb2ea" stroke="#8a8a8a" stroke-width="0.25" fill-opacity="0.62"/>
<circle cx="122" cy="795.3" r="1.95" fill="#e3b551" stroke="#8a8a8a" stroke-width="0.25" fill-opacity="0.62"/>
<circle cx="148.4" cy="800.7" r="1.95" fill="#a070b8" stroke="#8a8a8a" stroke-width="0.25" fill-opacity="0.62"/>
<circle cx="97.8" cy="799.9" r="1.95" fill="#e3b551" stroke="#8a8a8a" stroke-width="0.25" fill-opacity="0.62"/>
<circle cx="130.1" cy="807.2" r="1.95" fill="#a070b8" stroke="#8a8a8a" stroke-width="0.25" fill-opacity="0.62"/>
<circle cx="168.5" cy="820.1" r="1.95" fill="#a070b8" stroke="#8a8a8a" stroke-width="0.25" fill-opacity="0.62"/>
<circle cx="159.6" cy="822.4" r="1.95" fill="#7fb2ea" stroke="#8a8a8a" stroke-width="0.25" fill-opacity="0.62"/>
<circle cx="136.9" cy="784.2" r="1.95" fill="#a070b8" stroke="#8a8a8a" stroke-width="0.25" fill-opacity="0.62"/>
<circle cx="72" cy="801.4" r="1.95" fill="#e3b551" stroke="#8a8a8a" stroke-width="0.25" fill-opacity="0.62"/>
<circle cx="174.4" cy="802.3" r="1.95" fill="#7fb2ea" stroke="#8a8a8a" stroke-width="0.25" fill-opacity="0.62"/>
<circle cx="115.7" cy="804" r="1.95" fill="#a070b8" stroke="#8a8a8a" stroke-width="0.25" fill-opacity="0.62"/>
<circle cx="167.6" cy="821.3" r="1.95" fill="#a070b8" stroke="#8a8a8a" stroke-width="0.25" fill-opacity="0.62"/>
<circle cx="157.4" cy="806.8" r="1.95" fill="#a070b8" stroke="#8a8a8a" stroke-width="0.25" fill-opacity="0.62"/>
<circle cx="103.7" cy="775.5" r="1.95" fill="#e3b551" stroke="#8a8a8a" stroke-width="0.25" fill-opacity="0.62"/>
<circle cx="193.4" cy="814" r="1.95" fill="#e3b551" stroke="#8a8a8a" stroke-width="0.25" fill-opacity="0.62"/>
<circle cx="154.9" cy="811" r="1.95" fill="#7fb2ea" stroke="#8a8a8a" stroke-width="0.25" fill-opacity="0.62"/>
<circle cx="137.3" cy="825.6" r="1.95" fill="#7fb2ea" stroke="#8a8a8a" stroke-width="0.25" fill-opacity="0.62"/>
<circle cx="185.4" cy="823.4" r="1.95" fill="#a070b8" stroke="#8a8a8a" stroke-width="0.25" fill-opacity="0.62"/>
<circle cx="110.2" cy="771.9" r="1.95" fill="#e3b551" stroke="#8a8a8a" stroke-width="0.25" fill-opacity="0.62"/>
<circle cx="173" cy="820" r="1.95" fill="#a070b8" stroke="#8a8a8a" stroke-width="0.25" fill-opacity="0.62"/>
<circle cx="158.6" cy="809.1" r="1.95" fill="#7fb2ea" stroke="#8a8a8a" stroke-width="0.25" fill-opacity="0.62"/>
<circle cx="136.5" cy="802.5" r="1.95" fill="#a070b8" stroke="#8a8a8a" stroke-width="0.25" fill-opacity="0.62"/>
<circle cx="103.1" cy="806.7" r="1.95" fill="#e3b551" stroke="#8a8a8a" stroke-width="0.25" fill-opacity="0.62"/>
<circle cx="128.9" cy="802.6" r="1.95" fill="#7fb2ea" stroke="#8a8a8a" stroke-width="0.25" fill-opacity="0.62"/>
<circle cx="151" cy="806.2" r="1.95" fill="#a070b8" stroke="#8a8a8a" stroke-width="0.25" fill-opacity="0.62"/>
<circle cx="133" cy="816.8" r="1.95" fill="#7fb2ea" stroke="#8a8a8a" stroke-width="0.25" fill-opacity="0.62"/>
<circle cx="126.2" cy="815.5" r="1.95" fill="#e3b551" stroke="#8a8a8a" stroke-width="0.25" fill-opacity="0.62"/>
<circle cx="120.5" cy="832.8" r="1.95" fill="#7fb2ea" stroke="#8a8a8a" stroke-width="0.25" fill-opacity="0.62"/>
<circle cx="178.1" cy="808" r="1.95" fill="#7fb2ea" stroke="#8a8a8a" stroke-width="0.25" fill-opacity="0.62"/>
<circle cx="78.1" cy="756" r="1.95" fill="#e3b551" stroke="#8a8a8a" stroke-width="0.25" fill-opacity="0.62"/>
<circle cx="155" cy="822.8" r="1.95" fill="#7fb2ea" stroke="#8a8a8a" stroke-width="0.25" fill-opacity="0.62"/>
<circle cx="194.3" cy="815" r="1.95" fill="#7fb2ea" stroke="#8a8a8a" stroke-width="0.25" fill-opacity="0.62"/>
<circle cx="188.8" cy="827.2" r="1.95" fill="#7fb2ea" stroke="#8a8a8a" stroke-width="0.25" fill-opacity="0.62"/>
<circle cx="160" cy="807.7" r="1.95" fill="#a070b8" stroke="#8a8a8a" stroke-width="0.25" fill-opacity="0.62"/>
<circle cx="175.8" cy="828.3" r="1.95" fill="#a070b8" stroke="#8a8a8a" stroke-width="0.25" fill-opacity="0.62"/>
<circle cx="99.5" cy="797.6" r="1.95" fill="#e3b551" stroke="#8a8a8a" stroke-width="0.25" fill-opacity="0.62"/>
<circle cx="134.4" cy="782.9" r="1.95" fill="#a070b8" stroke="#8a8a8a" stroke-width="0.25" fill-opacity="0.62"/>
<circle cx="147.1" cy="809.8" r="1.95" fill="#e3b551" stroke="#8a8a8a" stroke-width="0.25" fill-opacity="0.62"/>
<circle cx="118.1" cy="820.1" r="1.95" fill="#a070b8" stroke="#8a8a8a" stroke-width="0.25" fill-opacity="0.62"/>
<circle cx="131" cy="800.1" r="1.95" fill="#a070b8" stroke="#8a8a8a" stroke-width="0.25" fill-opacity="0.62"/>
<circle cx="120" cy="808.6" r="1.95" fill="#7fb2ea" stroke="#8a8a8a" stroke-width="0.25" fill-opacity="0.62"/>
<circle cx="146" cy="800.8" r="1.95" fill="#7fb2ea" stroke="#8a8a8a" stroke-width="0.25" fill-opacity="0.62"/>
<circle cx="136.9" cy="743.7" r="1.95" fill="#a070b8" stroke="#8a8a8a" stroke-width="0.25" fill-opacity="0.62"/>
<circle cx="75.8" cy="798.6" r="1.95" fill="#e3b551" stroke="#8a8a8a" stroke-width="0.25" fill-opacity="0.62"/>
<circle cx="196.3" cy="791.6" r="1.95" fill="#a070b8" stroke="#8a8a8a" stroke-width="0.25" fill-opacity="0.62"/>
<circle cx="95.5" cy="786.1" r="1.95" fill="#e3b551" stroke="#8a8a8a" stroke-width="0.25" fill-opacity="0.62"/>
<circle cx="104.7" cy="782.3" r="1.95" fill="#e3b551" stroke="#8a8a8a" stroke-width="0.25" fill-opacity="0.62"/>
<circle cx="167.2" cy="808.1" r="1.95" fill="#7fb2ea" stroke="#8a8a8a" stroke-width="0.25" fill-opacity="0.62"/>
<circle cx="110.3" cy="794.1" r="1.95" fill="#e3b551" stroke="#8a8a8a" stroke-width="0.25" fill-opacity="0.62"/>
<circle cx="157.3" cy="825" r="1.95" fill="#4f9d45" stroke="#8a8a8a" stroke-width="0.25" fill-opacity="0.62"/>
<circle cx="94.1" cy="747.3" r="1.95" fill="#e3b551" stroke="#8a8a8a" stroke-width="0.25" fill-opacity="0.62"/>
<circle cx="72.8" cy="793.2" r="1.95" fill="#a070b8" stroke="#8a8a8a" stroke-width="0.25" fill-opacity="0.62"/>
<circle cx="197.9" cy="817.7" r="1.95" fill="#7fb2ea" stroke="#8a8a8a" stroke-width="0.25" fill-opacity="0.62"/>
<circle cx="91.2" cy="806.7" r="1.95" fill="#e3b551" stroke="#8a8a8a" stroke-width="0.25" fill-opacity="0.62"/>
<circle cx="135.5" cy="799.6" r="1.95" fill="#7fb2ea" stroke="#8a8a8a" stroke-width="0.25" fill-opacity="0.62"/>
<circle cx="140.4" cy="832.8" r="1.95" fill="#7fb2ea" stroke="#8a8a8a" stroke-width="0.25" fill-opacity="0.62"/>
<circle cx="119.1" cy="793.5" r="1.95" fill="#e3b551" stroke="#8a8a8a" stroke-width="0.25" fill-opacity="0.62"/>
<circle cx="149.8" cy="804.3" r="1.95" fill="#e3b551" stroke="#8a8a8a" stroke-width="0.25" fill-opacity="0.62"/>
<circle cx="160.1" cy="804.2" r="1.95" fill="#7fb2ea" stroke="#8a8a8a" stroke-width="0.25" fill-opacity="0.62"/>
<circle cx="196.2" cy="817.1" r="1.95" fill="#4f9d45" stroke="#8a8a8a" stroke-width="0.25" fill-opacity="0.62"/>
<circle cx="119.4" cy="814.1" r="1.95" fill="#e3b551" stroke="#8a8a8a" stroke-width="0.25" fill-opacity="0.62"/>
<circle cx="157.7" cy="819.7" r="1.95" fill="#a070b8" stroke="#8a8a8a" stroke-width="0.25" fill-opacity="0.62"/>
<circle cx="197.6" cy="820.8" r="1.95" fill="#7fb2ea" stroke="#8a8a8a" stroke-width="0.25" fill-opacity="0.62"/>
<circle cx="102.7" cy="829.3" r="1.95" fill="#7fb2ea" stroke="#8a8a8a" stroke-width="0.25" fill-opacity="0.62"/>
<circle cx="163.2" cy="832.8" r="1.95" fill="#7fb2ea" stroke="#8a8a8a" stroke-width="0.25" fill-opacity="0.62"/>
<circle cx="161.1" cy="798.4" r="1.95" fill="#7fb2ea" stroke="#8a8a8a" stroke-width="0.25" fill-opacity="0.62"/>
<circle cx="141" cy="808.3" r="1.95" fill="#e3b551" stroke="#8a8a8a" stroke-width="0.25" fill-opacity="0.62"/>
<circle cx="114.6" cy="801.8" r="1.95" fill="#e3b551" stroke="#8a8a8a" stroke-width="0.25" fill-opacity="0.62"/>
<circle cx="170.3" cy="827.7" r="1.95" fill="#a070b8" stroke="#8a8a8a" stroke-width="0.25" fill-opacity="0.62"/>
<circle cx="165.9" cy="819.4" r="1.95" fill="#7fb2ea" stroke="#8a8a8a" stroke-width="0.25" fill-opacity="0.62"/>
<circle cx="109.8" cy="811.2" r="1.95" fill="#4f9d45" stroke="#8a8a8a" stroke-width="0.25" fill-opacity="0.62"/>
<circle cx="167.6" cy="820.4" r="1.95" fill="#4f9d45" stroke="#8a8a8a" stroke-width="0.25" fill-opacity="0.62"/>
<circle cx="93.3" cy="804.9" r="1.95" fill="#e3b551" stroke="#8a8a8a" stroke-width="0.25" fill-opacity="0.62"/>
<circle cx="178.9" cy="824.5" r="1.95" fill="#7fb2ea" stroke="#8a8a8a" stroke-width="0.25" fill-opacity="0.62"/>
<circle cx="149.4" cy="816.6" r="1.95" fill="#7fb2ea" stroke="#8a8a8a" stroke-width="0.25" fill-opacity="0.62"/>
<circle cx="82.9" cy="737.3" r="1.95" fill="#e3b551" stroke="#8a8a8a" stroke-width="0.25" fill-opacity="0.62"/>
<circle cx="186.9" cy="811.2" r="1.95" fill="#7fb2ea" stroke="#8a8a8a" stroke-width="0.25" fill-opacity="0.62"/>
<circle cx="188.3" cy="788.3" r="1.95" fill="#a070b8" stroke="#8a8a8a" stroke-width="0.25" fill-opacity="0.62"/>
<circle cx="141.9" cy="786.7" r="1.95" fill="#e3b551" stroke="#8a8a8a" stroke-width="0.25" fill-opacity="0.62"/>
<circle cx="189.2" cy="825.1" r="1.95" fill="#4f9d45" stroke="#8a8a8a" stroke-width="0.25" fill-opacity="0.62"/>
<circle cx="116.6" cy="787.7" r="1.95" fill="#e3b551" stroke="#8a8a8a" stroke-width="0.25" fill-opacity="0.62"/>
<circle cx="144.1" cy="804.2" r="1.95" fill="#e3b551" stroke="#8a8a8a" stroke-width="0.25" fill-opacity="0.62"/>
<circle cx="202.2" cy="821.1" r="1.95" fill="#7fb2ea" stroke="#8a8a8a" stroke-width="0.25" fill-opacity="0.62"/>
<circle cx="155" cy="803.6" r="1.95" fill="#a070b8" stroke="#8a8a8a" stroke-width="0.25" fill-opacity="0.62"/>
<circle cx="178.5" cy="812.9" r="1.95" fill="#7fb2ea" stroke="#8a8a8a" stroke-width="0.25" fill-opacity="0.62"/>
<circle cx="153.7" cy="815" r="1.95" fill="#7fb2ea" stroke="#8a8a8a" stroke-width="0.25" fill-opacity="0.62"/>
<circle cx="174.2" cy="809.9" r="1.95" fill="#7fb2ea" stroke="#8a8a8a" stroke-width="0.25" fill-opacity="0.62"/>
<circle cx="177" cy="804.1" r="1.95" fill="#7fb2ea" stroke="#8a8a8a" stroke-width="0.25" fill-opacity="0.62"/>
<circle cx="164.7" cy="826.6" r="1.95" fill="#4f9d45" stroke="#8a8a8a" stroke-width="0.25" fill-opacity="0.62"/>
<circle cx="165.5" cy="831.3" r="1.95" fill="#a070b8" stroke="#8a8a8a" stroke-width="0.25" fill-opacity="0.62"/>
<circle cx="182" cy="818.2" r="1.95" fill="#4f9d45" stroke="#8a8a8a" stroke-width="0.25" fill-opacity="0.62"/>
<circle cx="102.3" cy="809.1" r="1.95" fill="#e3b551" stroke="#8a8a8a" stroke-width="0.25" fill-opacity="0.62"/>
<circle cx="76.9" cy="818.8" r="1.95" fill="#4f9d45" stroke="#8a8a8a" stroke-width="0.25" fill-opacity="0.62"/>
<circle cx="95.8" cy="810.2" r="1.95" fill="#a070b8" stroke="#8a8a8a" stroke-width="0.25" fill-opacity="0.62"/>
<circle cx="102.6" cy="823" r="1.95" fill="#a070b8" stroke="#8a8a8a" stroke-width="0.25" fill-opacity="0.62"/>
<circle cx="141.7" cy="817.9" r="1.95" fill="#7fb2ea" stroke="#8a8a8a" stroke-width="0.25" fill-opacity="0.62"/>
<circle cx="103.4" cy="823.9" r="1.95" fill="#4f9d45" stroke="#8a8a8a" stroke-width="0.25" fill-opacity="0.62"/>
<circle cx="205.1" cy="801" r="1.95" fill="#7fb2ea" stroke="#8a8a8a" stroke-width="0.25" fill-opacity="0.62"/>
<circle cx="107.3" cy="820.4" r="1.95" fill="#4f9d45" stroke="#8a8a8a" stroke-width="0.25" fill-opacity="0.62"/>
<circle cx="108" cy="791.6" r="1.95" fill="#e3b551" stroke="#8a8a8a" stroke-width="0.25" fill-opacity="0.62"/>
<circle cx="151.4" cy="810.6" r="1.95" fill="#7fb2ea" stroke="#8a8a8a" stroke-width="0.25" fill-opacity="0.62"/>
<circle cx="138.6" cy="813.9" r="1.95" fill="#e3b551" stroke="#8a8a8a" stroke-width="0.25" fill-opacity="0.62"/>
<circle cx="87.2" cy="738.3" r="1.95" fill="#a070b8" stroke="#8a8a8a" stroke-width="0.25" fill-opacity="0.62"/>
<circle cx="127.2" cy="832.8" r="1.95" fill="#e3b551" stroke="#8a8a8a" stroke-width="0.25" fill-opacity="0.62"/>
<circle cx="183.6" cy="809.4" r="1.95" fill="#7fb2ea" stroke="#8a8a8a" stroke-width="0.25" fill-opacity="0.62"/>
<circle cx="162.1" cy="825.7" r="1.95" fill="#a070b8" stroke="#8a8a8a" stroke-width="0.25" fill-opacity="0.62"/>
<circle cx="103.8" cy="797.9" r="1.95" fill="#e3b551" stroke="#8a8a8a" stroke-width="0.25" fill-opacity="0.62"/>
<circle cx="125.5" cy="822.1" r="1.95" fill="#4f9d45" stroke="#8a8a8a" stroke-width="0.25" fill-opacity="0.62"/>
<circle cx="91" cy="782.3" r="1.95" fill="#e3b551" stroke="#8a8a8a" stroke-width="0.25" fill-opacity="0.62"/>
<circle cx="180" cy="798.1" r="1.95" fill="#e3b551" stroke="#8a8a8a" stroke-width="0.25" fill-opacity="0.62"/>
<circle cx="112.6" cy="818.2" r="1.95" fill="#7fb2ea" stroke="#8a8a8a" stroke-width="0.25" fill-opacity="0.62"/>
<circle cx="154.9" cy="808.9" r="1.95" fill="#a070b8" stroke="#8a8a8a" stroke-width="0.25" fill-opacity="0.62"/>
<circle cx="87.2" cy="802.7" r="1.95" fill="#e3b551" stroke="#8a8a8a" stroke-width="0.25" fill-opacity="0.62"/>
<circle cx="82.6" cy="807.4" r="1.95" fill="#e3b551" stroke="#8a8a8a" stroke-width="0.25" fill-opacity="0.62"/>
<circle cx="159.2" cy="796.5" r="1.95" fill="#7fb2ea" stroke="#8a8a8a" stroke-width="0.25" fill-opacity="0.62"/>
<circle cx="161.9" cy="807.1" r="1.95" fill="#a070b8" stroke="#8a8a8a" stroke-width="0.25" fill-opacity="0.62"/>
<circle cx="127.3" cy="802.2" r="1.95" fill="#e3b551" stroke="#8a8a8a" stroke-width="0.25" fill-opacity="0.62"/>
<circle cx="140.5" cy="828.3" r="1.95" fill="#7fb2ea" stroke="#8a8a8a" stroke-width="0.25" fill-opacity="0.62"/>
<circle cx="184.5" cy="792.5" r="1.95" fill="#a070b8" stroke="#8a8a8a" stroke-width="0.25" fill-opacity="0.62"/>
<circle cx="160.8" cy="814.4" r="1.95" fill="#7fb2ea" stroke="#8a8a8a" stroke-width="0.25" fill-opacity="0.62"/>
<circle cx="164.8" cy="819.9" r="1.95" fill="#a070b8" stroke="#8a8a8a" stroke-width="0.25" fill-opacity="0.62"/>
<circle cx="155.3" cy="808.3" r="1.95" fill="#a070b8" stroke="#8a8a8a" stroke-width="0.25" fill-opacity="0.62"/>
<circle cx="167.4" cy="811.3" r="1.95" fill="#7fb2ea" stroke="#8a8a8a" stroke-width="0.25" fill-opacity="0.62"/>
<circle cx="176.5" cy="809.3" r="1.95" fill="#a070b8" stroke="#8a8a8a" stroke-width="0.25" fill-opacity="0.62"/>
<circle cx="123.2" cy="822.4" r="1.95" fill="#e3b551" stroke="#8a8a8a" stroke-width="0.25" fill-opacity="0.62"/>
<circle cx="140" cy="825.8" r="1.95" fill="#e3b551" stroke="#8a8a8a" stroke-width="0.25" fill-opacity="0.62"/>
<circle cx="103.3" cy="814" r="1.95" fill="#7fb2ea" stroke="#8a8a8a" stroke-width="0.25" fill-opacity="0.62"/>
<circle cx="193" cy="807.6" r="1.95" fill="#7fb2ea" stroke="#8a8a8a" stroke-width="0.25" fill-opacity="0.62"/>
<circle cx="156.4" cy="827.1" r="1.95" fill="#7fb2ea" stroke="#8a8a8a" stroke-width="0.25" fill-opacity="0.62"/>
<circle cx="129.2" cy="832.8" r="1.95" fill="#e3b551" stroke="#8a8a8a" stroke-width="0.25" fill-opacity="0.62"/>
<circle cx="59.1" cy="825.8" r="1.95" fill="#4f9d45" stroke="#8a8a8a" stroke-width="0.25" fill-opacity="0.62"/>
<circle cx="52.1" cy="799.3" r="1.95" fill="#e3b551" stroke="#8a8a8a" stroke-width="0.25" fill-opacity="0.62"/>
<circle cx="134.5" cy="805.9" r="1.95" fill="#a070b8" stroke="#8a8a8a" stroke-width="0.25" fill-opacity="0.62"/>
<circle cx="198.1" cy="806.3" r="1.95" fill="#7fb2ea" stroke="#8a8a8a" stroke-width="0.25" fill-opacity="0.62"/>
<circle cx="175.6" cy="817.9" r="1.95" fill="#7fb2ea" stroke="#8a8a8a" stroke-width="0.25" fill-opacity="0.62"/>
<circle cx="85.2" cy="805.8" r="1.95" fill="#4f9d45" stroke="#8a8a8a" stroke-width="0.25" fill-opacity="0.62"/>
<circle cx="138.4" cy="830.3" r="1.95" fill="#7fb2ea" stroke="#8a8a8a" stroke-width="0.25" fill-opacity="0.62"/>
<circle cx="180.6" cy="821.8" r="1.95" fill="#7fb2ea" stroke="#8a8a8a" stroke-width="0.25" fill-opacity="0.62"/>
<circle cx="165.3" cy="812.9" r="1.95" fill="#7fb2ea" stroke="#8a8a8a" stroke-width="0.25" fill-opacity="0.62"/>
<circle cx="150.9" cy="802.9" r="1.95" fill="#a070b8" stroke="#8a8a8a" stroke-width="0.25" fill-opacity="0.62"/>
<circle cx="151.6" cy="825" r="1.95" fill="#7fb2ea" stroke="#8a8a8a" stroke-width="0.25" fill-opacity="0.62"/>
<circle cx="147.6" cy="813.9" r="1.95" fill="#7fb2ea" stroke="#8a8a8a" stroke-width="0.25" fill-opacity="0.62"/>
<circle cx="164.4" cy="807.1" r="1.95" fill="#7fb2ea" stroke="#8a8a8a" stroke-width="0.25" fill-opacity="0.62"/>
<circle cx="185.2" cy="820.9" r="1.95" fill="#7fb2ea" stroke="#8a8a8a" stroke-width="0.25" fill-opacity="0.62"/>
<circle cx="191.6" cy="823.2" r="1.95" fill="#7fb2ea" stroke="#8a8a8a" stroke-width="0.25" fill-opacity="0.62"/>
<circle cx="75.3" cy="816.2" r="1.95" fill="#4f9d45" stroke="#8a8a8a" stroke-width="0.25" fill-opacity="0.62"/>
<circle cx="199.9" cy="821.4" r="1.95" fill="#7fb2ea" stroke="#8a8a8a" stroke-width="0.25" fill-opacity="0.62"/>
<circle cx="73.8" cy="784.3" r="1.95" fill="#e3b551" stroke="#8a8a8a" stroke-width="0.25" fill-opacity="0.62"/>
<circle cx="97.8" cy="807.7" r="1.95" fill="#e3b551" stroke="#8a8a8a" stroke-width="0.25" fill-opacity="0.62"/>
<circle cx="118" cy="799.4" r="1.95" fill="#7fb2ea" stroke="#8a8a8a" stroke-width="0.25" fill-opacity="0.62"/>
<circle cx="74.4" cy="788.4" r="1.95" fill="#e3b551" stroke="#8a8a8a" stroke-width="0.25" fill-opacity="0.62"/>
<circle cx="100.8" cy="774.9" r="1.95" fill="#e3b551" stroke="#8a8a8a" stroke-width="0.25" fill-opacity="0.62"/>
<circle cx="173.3" cy="790.6" r="1.95" fill="#a070b8" stroke="#8a8a8a" stroke-width="0.25" fill-opacity="0.62"/>
<circle cx="129.6" cy="816.9" r="1.95" fill="#7fb2ea" stroke="#8a8a8a" stroke-width="0.25" fill-opacity="0.62"/>
<circle cx="46" cy="783.9" r="1.95" fill="#e3b551" stroke="#8a8a8a" stroke-width="0.25" fill-opacity="0.62"/>
<circle cx="137.1" cy="810.1" r="1.95" fill="#7fb2ea" stroke="#8a8a8a" stroke-width="0.25" fill-opacity="0.62"/>
<circle cx="138.2" cy="816.4" r="1.95" fill="#7fb2ea" stroke="#8a8a8a" stroke-width="0.25" fill-opacity="0.62"/>
<circle cx="166.7" cy="793" r="1.95" fill="#a070b8" stroke="#8a8a8a" stroke-width="0.25" fill-opacity="0.62"/>
<circle cx="93" cy="784.7" r="1.95" fill="#e3b551" stroke="#8a8a8a" stroke-width="0.25" fill-opacity="0.62"/>
<circle cx="83.7" cy="799.2" r="1.95" fill="#e3b551" stroke="#8a8a8a" stroke-width="0.25" fill-opacity="0.62"/>
<circle cx="72.7" cy="819.8" r="1.95" fill="#4f9d45" stroke="#8a8a8a" stroke-width="0.25" fill-opacity="0.62"/>
<circle cx="161.6" cy="815.4" r="1.95" fill="#e3b551" stroke="#8a8a8a" stroke-width="0.25" fill-opacity="0.62"/>
<circle cx="121.5" cy="801.7" r="1.95" fill="#a070b8" stroke="#8a8a8a" stroke-width="0.25" fill-opacity="0.62"/>
<circle cx="136" cy="821.2" r="1.95" fill="#7fb2ea" stroke="#8a8a8a" stroke-width="0.25" fill-opacity="0.62"/>
<circle cx="137.9" cy="821.5" r="1.95" fill="#7fb2ea" stroke="#8a8a8a" stroke-width="0.25" fill-opacity="0.62"/>
<circle cx="119.4" cy="826.8" r="1.95" fill="#a070b8" stroke="#8a8a8a" stroke-width="0.25" fill-opacity="0.62"/>
<circle cx="153.7" cy="817" r="1.95" fill="#7fb2ea" stroke="#8a8a8a" stroke-width="0.25" fill-opacity="0.62"/>
<circle cx="172.6" cy="821.7" r="1.95" fill="#7fb2ea" stroke="#8a8a8a" stroke-width="0.25" fill-opacity="0.62"/>
<circle cx="87.4" cy="798.8" r="1.95" fill="#a070b8" stroke="#8a8a8a" stroke-width="0.25" fill-opacity="0.62"/>
<circle cx="118.7" cy="765.5" r="1.95" fill="#e3b551" stroke="#8a8a8a" stroke-width="0.25" fill-opacity="0.62"/>
<circle cx="180.3" cy="804" r="1.95" fill="#7fb2ea" stroke="#8a8a8a" stroke-width="0.25" fill-opacity="0.62"/>
<circle cx="167.2" cy="809.1" r="1.95" fill="#a070b8" stroke="#8a8a8a" stroke-width="0.25" fill-opacity="0.62"/>
<circle cx="205.4" cy="832.8" r="1.95" fill="#7fb2ea" stroke="#8a8a8a" stroke-width="0.25" fill-opacity="0.62"/>
<circle cx="76.9" cy="822" r="1.95" fill="#e3b551" stroke="#8a8a8a" stroke-width="0.25" fill-opacity="0.62"/>
<circle cx="106.4" cy="823.7" r="1.95" fill="#4f9d45" stroke="#8a8a8a" stroke-width="0.25" fill-opacity="0.62"/>
<circle cx="119.7" cy="823.3" r="1.95" fill="#a070b8" stroke="#8a8a8a" stroke-width="0.25" fill-opacity="0.62"/>
<circle cx="168" cy="794.7" r="1.95" fill="#a070b8" stroke="#8a8a8a" stroke-width="0.25" fill-opacity="0.62"/>
<circle cx="134.1" cy="819.2" r="1.95" fill="#7fb2ea" stroke="#8a8a8a" stroke-width="0.25" fill-opacity="0.62"/>
<circle cx="154.8" cy="827.2" r="1.95" fill="#7fb2ea" stroke="#8a8a8a" stroke-width="0.25" fill-opacity="0.62"/>
<circle cx="95.4" cy="815.9" r="1.95" fill="#7fb2ea" stroke="#8a8a8a" stroke-width="0.25" fill-opacity="0.62"/>
<circle cx="164.6" cy="814.7" r="1.95" fill="#7fb2ea" stroke="#8a8a8a" stroke-width="0.25" fill-opacity="0.62"/>
<circle cx="102.4" cy="806.9" r="1.95" fill="#7fb2ea" stroke="#8a8a8a" stroke-width="0.25" fill-opacity="0.62"/>
<circle cx="162.8" cy="801.2" r="1.95" fill="#a070b8" stroke="#8a8a8a" stroke-width="0.25" fill-opacity="0.62"/>
<circle cx="172.8" cy="788.5" r="1.95" fill="#a070b8" stroke="#8a8a8a" stroke-width="0.25" fill-opacity="0.62"/>
<circle cx="144.8" cy="823.7" r="1.95" fill="#7fb2ea" stroke="#8a8a8a" stroke-width="0.25" fill-opacity="0.62"/>
<circle cx="159.8" cy="788.2" r="1.95" fill="#a070b8" stroke="#8a8a8a" stroke-width="0.25" fill-opacity="0.62"/>
<circle cx="166.1" cy="816.7" r="1.95" fill="#4f9d45" stroke="#8a8a8a" stroke-width="0.25" fill-opacity="0.62"/>
<circle cx="86.1" cy="791.1" r="1.95" fill="#e3b551" stroke="#8a8a8a" stroke-width="0.25" fill-opacity="0.62"/>
<circle cx="106.2" cy="831.6" r="1.95" fill="#a070b8" stroke="#8a8a8a" stroke-width="0.25" fill-opacity="0.62"/>
<circle cx="148.7" cy="795" r="1.95" fill="#a070b8" stroke="#8a8a8a" stroke-width="0.25" fill-opacity="0.62"/>
<circle cx="125" cy="815.8" r="1.95" fill="#a070b8" stroke="#8a8a8a" stroke-width="0.25" fill-opacity="0.62"/>
<circle cx="144.1" cy="829.6" r="1.95" fill="#4f9d45" stroke="#8a8a8a" stroke-width="0.25" fill-opacity="0.62"/>
<circle cx="81.9" cy="821.8" r="1.95" fill="#4f9d45" stroke="#8a8a8a" stroke-width="0.25" fill-opacity="0.62"/>
<circle cx="147" cy="806.2" r="1.95" fill="#7fb2ea" stroke="#8a8a8a" stroke-width="0.25" fill-opacity="0.62"/>
<circle cx="135.7" cy="797.6" r="1.95" fill="#7fb2ea" stroke="#8a8a8a" stroke-width="0.25" fill-opacity="0.62"/>
<circle cx="85.8" cy="811.2" r="1.95" fill="#e3b551" stroke="#8a8a8a" stroke-width="0.25" fill-opacity="0.62"/>
<circle cx="152.4" cy="835.2" r="1.95" fill="#a070b8" stroke="#8a8a8a" stroke-width="0.25" fill-opacity="0.62"/>
<circle cx="153.6" cy="825.6" r="1.95" fill="#a070b8" stroke="#8a8a8a" stroke-width="0.25" fill-opacity="0.62"/>
<circle cx="103.7" cy="795.8" r="1.95" fill="#e3b551" stroke="#8a8a8a" stroke-width="0.25" fill-opacity="0.62"/>
<circle cx="89.9" cy="761.8" r="1.95" fill="#e3b551" stroke="#8a8a8a" stroke-width="0.25" fill-opacity="0.62"/>
<circle cx="198.1" cy="818.1" r="1.95" fill="#7fb2ea" stroke="#8a8a8a" stroke-width="0.25" fill-opacity="0.62"/>
<circle cx="118.1" cy="809.1" r="1.95" fill="#e3b551" stroke="#8a8a8a" stroke-width="0.25" fill-opacity="0.62"/>
<circle cx="159.6" cy="810.9" r="1.95" fill="#7fb2ea" stroke="#8a8a8a" stroke-width="0.25" fill-opacity="0.62"/>
<circle cx="167.9" cy="790.9" r="1.95" fill="#e3b551" stroke="#8a8a8a" stroke-width="0.25" fill-opacity="0.62"/>
<circle cx="75.9" cy="793.4" r="1.95" fill="#e3b551" stroke="#8a8a8a" stroke-width="0.25" fill-opacity="0.62"/>
<circle cx="124.6" cy="826.6" r="1.95" fill="#4f9d45" stroke="#8a8a8a" stroke-width="0.25" fill-opacity="0.62"/>
<circle cx="105.8" cy="769.3" r="1.95" fill="#e3b551" stroke="#8a8a8a" stroke-width="0.25" fill-opacity="0.62"/>
<circle cx="205.4" cy="819.8" r="1.95" fill="#7fb2ea" stroke="#8a8a8a" stroke-width="0.25" fill-opacity="0.62"/>
<circle cx="107.9" cy="806.8" r="1.95" fill="#e3b551" stroke="#8a8a8a" stroke-width="0.25" fill-opacity="0.62"/>
<circle cx="169.4" cy="797.3" r="1.95" fill="#7fb2ea" stroke="#8a8a8a" stroke-width="0.25" fill-opacity="0.62"/>
<circle cx="132" cy="832.8" r="1.95" fill="#e3b551" stroke="#8a8a8a" stroke-width="0.25" fill-opacity="0.62"/>
<circle cx="157.6" cy="820.5" r="1.95" fill="#7fb2ea" stroke="#8a8a8a" stroke-width="0.25" fill-opacity="0.62"/>
<circle cx="106" cy="818.7" r="1.95" fill="#e3b551" stroke="#8a8a8a" stroke-width="0.25" fill-opacity="0.62"/>
<circle cx="119.3" cy="823.6" r="1.95" fill="#7fb2ea" stroke="#8a8a8a" stroke-width="0.25" fill-opacity="0.62"/>
<circle cx="147.2" cy="821.3" r="1.95" fill="#7fb2ea" stroke="#8a8a8a" stroke-width="0.25" fill-opacity="0.62"/>
<circle cx="146.9" cy="811.5" r="1.95" fill="#7fb2ea" stroke="#8a8a8a" stroke-width="0.25" fill-opacity="0.62"/>
<circle cx="155.7" cy="808.3" r="1.95" fill="#7fb2ea" stroke="#8a8a8a" stroke-width="0.25" fill-opacity="0.62"/>
<circle cx="86.9" cy="799.1" r="1.95" fill="#e3b551" stroke="#8a8a8a" stroke-width="0.25" fill-opacity="0.62"/>
<circle cx="71.6" cy="801.1" r="1.95" fill="#e3b551" stroke="#8a8a8a" stroke-width="0.25" fill-opacity="0.62"/>
<circle cx="83.7" cy="793.1" r="1.95" fill="#e3b551" stroke="#8a8a8a" stroke-width="0.25" fill-opacity="0.62"/>
<circle cx="177.4" cy="823.7" r="1.95" fill="#7fb2ea" stroke="#8a8a8a" stroke-width="0.25" fill-opacity="0.62"/>
<circle cx="161.7" cy="827.6" r="1.95" fill="#7fb2ea" stroke="#8a8a8a" stroke-width="0.25" fill-opacity="0.62"/>
<circle cx="144.9" cy="811.1" r="1.95" fill="#e3b551" stroke="#8a8a8a" stroke-width="0.25" fill-opacity="0.62"/>
<circle cx="69.7" cy="792.7" r="1.95" fill="#e3b551" stroke="#8a8a8a" stroke-width="0.25" fill-opacity="0.62"/>
<circle cx="167.7" cy="827.6" r="1.95" fill="#e3b551" stroke="#8a8a8a" stroke-width="0.25" fill-opacity="0.62"/>
<circle cx="136.2" cy="808.3" r="1.95" fill="#7fb2ea" stroke="#8a8a8a" stroke-width="0.25" fill-opacity="0.62"/>
<circle cx="51.7" cy="788.8" r="1.95" fill="#e3b551" stroke="#8a8a8a" stroke-width="0.25" fill-opacity="0.62"/>
<circle cx="119.3" cy="803.8" r="1.95" fill="#e3b551" stroke="#8a8a8a" stroke-width="0.25" fill-opacity="0.62"/>
<circle cx="143.9" cy="822.4" r="1.95" fill="#7fb2ea" stroke="#8a8a8a" stroke-width="0.25" fill-opacity="0.62"/>
<circle cx="110.6" cy="787" r="1.95" fill="#a070b8" stroke="#8a8a8a" stroke-width="0.25" fill-opacity="0.62"/>
<circle cx="189.7" cy="806.4" r="1.95" fill="#7fb2ea" stroke="#8a8a8a" stroke-width="0.25" fill-opacity="0.62"/>
<circle cx="139.2" cy="787.7" r="1.95" fill="#e3b551" stroke="#8a8a8a" stroke-width="0.25" fill-opacity="0.62"/>
<circle cx="183.3" cy="791.5" r="1.95" fill="#a070b8" stroke="#8a8a8a" stroke-width="0.25" fill-opacity="0.62"/>
<circle cx="175.5" cy="832.8" r="1.95" fill="#7fb2ea" stroke="#8a8a8a" stroke-width="0.25" fill-opacity="0.62"/>
<circle cx="181.8" cy="812.4" r="1.95" fill="#7fb2ea" stroke="#8a8a8a" stroke-width="0.25" fill-opacity="0.62"/>
<circle cx="55" cy="748.6" r="1.95" fill="#e3b551" stroke="#8a8a8a" stroke-width="0.25" fill-opacity="0.62"/>
<circle cx="98.8" cy="780.8" r="1.95" fill="#e3b551" stroke="#8a8a8a" stroke-width="0.25" fill-opacity="0.62"/>
<circle cx="162.4" cy="807.7" r="1.95" fill="#a070b8" stroke="#8a8a8a" stroke-width="0.25" fill-opacity="0.62"/>
<circle cx="49.8" cy="772" r="1.95" fill="#e3b551" stroke="#8a8a8a" stroke-width="0.25" fill-opacity="0.62"/>
<circle cx="154.9" cy="815.1" r="1.95" fill="#a070b8" stroke="#8a8a8a" stroke-width="0.25" fill-opacity="0.62"/>
<circle cx="182.5" cy="822.7" r="1.95" fill="#7fb2ea" stroke="#8a8a8a" stroke-width="0.25" fill-opacity="0.62"/>
<circle cx="96.3" cy="790.5" r="1.95" fill="#e3b551" stroke="#8a8a8a" stroke-width="0.25" fill-opacity="0.62"/>
<circle cx="59" cy="776.3" r="1.95" fill="#e3b551" stroke="#8a8a8a" stroke-width="0.25" fill-opacity="0.62"/>
<circle cx="175.1" cy="808.4" r="1.95" fill="#a070b8" stroke="#8a8a8a" stroke-width="0.25" fill-opacity="0.62"/>
<circle cx="121.1" cy="807.8" r="1.95" fill="#a070b8" stroke="#8a8a8a" stroke-width="0.25" fill-opacity="0.62"/>
<circle cx="122.3" cy="814.2" r="1.95" fill="#7fb2ea" stroke="#8a8a8a" stroke-width="0.25" fill-opacity="0.62"/>
<circle cx="162.8" cy="818.4" r="1.95" fill="#7fb2ea" stroke="#8a8a8a" stroke-width="0.25" fill-opacity="0.62"/>
<circle cx="149.8" cy="747.5" r="1.95" fill="#a070b8" stroke="#8a8a8a" stroke-width="0.25" fill-opacity="0.62"/>
<circle cx="180.6" cy="807" r="1.95" fill="#7fb2ea" stroke="#8a8a8a" stroke-width="0.25" fill-opacity="0.62"/>
<circle cx="149.2" cy="807.6" r="1.95" fill="#a070b8" stroke="#8a8a8a" stroke-width="0.25" fill-opacity="0.62"/>
<circle cx="111.5" cy="810.7" r="1.95" fill="#7fb2ea" stroke="#8a8a8a" stroke-width="0.25" fill-opacity="0.62"/>
<circle cx="100.1" cy="795.1" r="1.95" fill="#e3b551" stroke="#8a8a8a" stroke-width="0.25" fill-opacity="0.62"/>
<circle cx="89.4" cy="793.7" r="1.95" fill="#e3b551" stroke="#8a8a8a" stroke-width="0.25" fill-opacity="0.62"/>
<circle cx="147.4" cy="815.1" r="1.95" fill="#7fb2ea" stroke="#8a8a8a" stroke-width="0.25" fill-opacity="0.62"/>
<circle cx="163.5" cy="824.4" r="1.95" fill="#7fb2ea" stroke="#8a8a8a" stroke-width="0.25" fill-opacity="0.62"/>
<circle cx="178.9" cy="815.5" r="1.95" fill="#7fb2ea" stroke="#8a8a8a" stroke-width="0.25" fill-opacity="0.62"/>
<circle cx="75.7" cy="809.6" r="1.95" fill="#e3b551" stroke="#8a8a8a" stroke-width="0.25" fill-opacity="0.62"/>
<circle cx="154.5" cy="820.7" r="1.95" fill="#a070b8" stroke="#8a8a8a" stroke-width="0.25" fill-opacity="0.62"/>
<circle cx="77.9" cy="812.1" r="1.95" fill="#4f9d45" stroke="#8a8a8a" stroke-width="0.25" fill-opacity="0.62"/>
<circle cx="101.6" cy="750.3" r="1.95" fill="#a070b8" stroke="#8a8a8a" stroke-width="0.25" fill-opacity="0.62"/>
<circle cx="163.2" cy="805.1" r="1.95" fill="#a070b8" stroke="#8a8a8a" stroke-width="0.25" fill-opacity="0.62"/>
<circle cx="128.4" cy="810.6" r="1.95" fill="#7fb2ea" stroke="#8a8a8a" stroke-width="0.25" fill-opacity="0.62"/>
<circle cx="104.6" cy="805.9" r="1.95" fill="#a070b8" stroke="#8a8a8a" stroke-width="0.25" fill-opacity="0.62"/>
<circle cx="207.3" cy="831" r="1.95" fill="#7fb2ea" stroke="#8a8a8a" stroke-width="0.25" fill-opacity="0.62"/>
<circle cx="67.8" cy="789.4" r="1.95" fill="#e3b551" stroke="#8a8a8a" stroke-width="0.25" fill-opacity="0.62"/>
<circle cx="143.4" cy="802.9" r="1.95" fill="#a070b8" stroke="#8a8a8a" stroke-width="0.25" fill-opacity="0.62"/>
<circle cx="153.5" cy="801.1" r="1.95" fill="#a070b8" stroke="#8a8a8a" stroke-width="0.25" fill-opacity="0.62"/>
<circle cx="165.9" cy="802.9" r="1.95" fill="#7fb2ea" stroke="#8a8a8a" stroke-width="0.25" fill-opacity="0.62"/>
<circle cx="178.8" cy="805.8" r="1.95" fill="#7fb2ea" stroke="#8a8a8a" stroke-width="0.25" fill-opacity="0.62"/>
<circle cx="129" cy="798.1" r="1.95" fill="#e3b551" stroke="#8a8a8a" stroke-width="0.25" fill-opacity="0.62"/>
<circle cx="98.2" cy="794" r="1.95" fill="#7fb2ea" stroke="#8a8a8a" stroke-width="0.25" fill-opacity="0.62"/>
<circle cx="153" cy="807.7" r="1.95" fill="#7fb2ea" stroke="#8a8a8a" stroke-width="0.25" fill-opacity="0.62"/>
<circle cx="176.2" cy="807.7" r="1.95" fill="#e3b551" stroke="#8a8a8a" stroke-width="0.25" fill-opacity="0.62"/>
<circle cx="167.8" cy="825.4" r="1.95" fill="#7fb2ea" stroke="#8a8a8a" stroke-width="0.25" fill-opacity="0.62"/>
<circle cx="190.3" cy="798.6" r="1.95" fill="#7fb2ea" stroke="#8a8a8a" stroke-width="0.25" fill-opacity="0.62"/>
<circle cx="121.5" cy="814.7" r="1.95" fill="#a070b8" stroke="#8a8a8a" stroke-width="0.25" fill-opacity="0.62"/>
<circle cx="128.8" cy="820.7" r="1.95" fill="#4f9d45" stroke="#8a8a8a" stroke-width="0.25" fill-opacity="0.62"/>
<circle cx="178.3" cy="821.5" r="1.95" fill="#a070b8" stroke="#8a8a8a" stroke-width="0.25" fill-opacity="0.62"/>
<circle cx="82.3" cy="749.4" r="1.95" fill="#e3b551" stroke="#8a8a8a" stroke-width="0.25" fill-opacity="0.62"/>
<circle cx="66.4" cy="753.8" r="1.95" fill="#e3b551" stroke="#8a8a8a" stroke-width="0.25" fill-opacity="0.62"/>
<circle cx="126.1" cy="780.3" r="1.95" fill="#e3b551" stroke="#8a8a8a" stroke-width="0.25" fill-opacity="0.62"/>
<circle cx="86.7" cy="802.4" r="1.95" fill="#e3b551" stroke="#8a8a8a" stroke-width="0.25" fill-opacity="0.62"/>
<circle cx="137" cy="804.7" r="1.95" fill="#7fb2ea" stroke="#8a8a8a" stroke-width="0.25" fill-opacity="0.62"/>
<circle cx="169.4" cy="825.7" r="1.95" fill="#7fb2ea" stroke="#8a8a8a" stroke-width="0.25" fill-opacity="0.62"/>
<circle cx="128.5" cy="818.6" r="1.95" fill="#a070b8" stroke="#8a8a8a" stroke-width="0.25" fill-opacity="0.62"/>
<circle cx="174.7" cy="803.7" r="1.95" fill="#7fb2ea" stroke="#8a8a8a" stroke-width="0.25" fill-opacity="0.62"/>
<circle cx="81.9" cy="792.3" r="1.95" fill="#e3b551" stroke="#8a8a8a" stroke-width="0.25" fill-opacity="0.62"/>
<circle cx="171.9" cy="826.6" r="1.95" fill="#e3b551" stroke="#8a8a8a" stroke-width="0.25" fill-opacity="0.62"/>
<circle cx="169.6" cy="815.1" r="1.95" fill="#7fb2ea" stroke="#8a8a8a" stroke-width="0.25" fill-opacity="0.62"/>
<circle cx="78.6" cy="798.1" r="1.95" fill="#e3b551" stroke="#8a8a8a" stroke-width="0.25" fill-opacity="0.62"/>
<circle cx="142.6" cy="812.4" r="1.95" fill="#7fb2ea" stroke="#8a8a8a" stroke-width="0.25" fill-opacity="0.62"/>
<circle cx="198.2" cy="816.4" r="1.95" fill="#e3b551" stroke="#8a8a8a" stroke-width="0.25" fill-opacity="0.62"/>
<circle cx="113.8" cy="807.3" r="1.95" fill="#a070b8" stroke="#8a8a8a" stroke-width="0.25" fill-opacity="0.62"/>
<circle cx="130.3" cy="828.2" r="1.95" fill="#7fb2ea" stroke="#8a8a8a" stroke-width="0.25" fill-opacity="0.62"/>
<circle cx="102" cy="809.6" r="1.95" fill="#e3b551" stroke="#8a8a8a" stroke-width="0.25" fill-opacity="0.62"/>
<circle cx="88.8" cy="779.6" r="1.95" fill="#e3b551" stroke="#8a8a8a" stroke-width="0.25" fill-opacity="0.62"/>
<circle cx="160.6" cy="816.9" r="1.95" fill="#7fb2ea" stroke="#8a8a8a" stroke-width="0.25" fill-opacity="0.62"/>
<circle cx="137.6" cy="798" r="1.95" fill="#e3b551" stroke="#8a8a8a" stroke-width="0.25" fill-opacity="0.62"/>
<circle cx="152.5" cy="819.6" r="1.95" fill="#7fb2ea" stroke="#8a8a8a" stroke-width="0.25" fill-opacity="0.62"/>
<circle cx="169.6" cy="823.8" r="1.95" fill="#7fb2ea" stroke="#8a8a8a" stroke-width="0.25" fill-opacity="0.62"/>
<circle cx="119.3" cy="809.5" r="1.95" fill="#a070b8" stroke="#8a8a8a" stroke-width="0.25" fill-opacity="0.62"/>
<circle cx="128.9" cy="809.2" r="1.95" fill="#e3b551" stroke="#8a8a8a" stroke-width="0.25" fill-opacity="0.62"/>
<circle cx="165.6" cy="798.7" r="1.95" fill="#a070b8" stroke="#8a8a8a" stroke-width="0.25" fill-opacity="0.62"/>
<circle cx="142.9" cy="821" r="1.95" fill="#4f9d45" stroke="#8a8a8a" stroke-width="0.25" fill-opacity="0.62"/>
<circle cx="186.1" cy="812.6" r="1.95" fill="#7fb2ea" stroke="#8a8a8a" stroke-width="0.25" fill-opacity="0.62"/>
<circle cx="144.4" cy="805.5" r="1.95" fill="#a070b8" stroke="#8a8a8a" stroke-width="0.25" fill-opacity="0.62"/>
<circle cx="158.5" cy="827.5" r="1.95" fill="#7fb2ea" stroke="#8a8a8a" stroke-width="0.25" fill-opacity="0.62"/>
<circle cx="162.1" cy="819.7" r="1.95" fill="#7fb2ea" stroke="#8a8a8a" stroke-width="0.25" fill-opacity="0.62"/>
<circle cx="98.5" cy="823.1" r="1.95" fill="#a070b8" stroke="#8a8a8a" stroke-width="0.25" fill-opacity="0.62"/>
<circle cx="103.1" cy="815.4" r="1.95" fill="#a070b8" stroke="#8a8a8a" stroke-width="0.25" fill-opacity="0.62"/>
<circle cx="79.1" cy="729.7" r="1.95" fill="#e3b551" stroke="#8a8a8a" stroke-width="0.25" fill-opacity="0.62"/>
<circle cx="66.5" cy="800.9" r="1.95" fill="#e3b551" stroke="#8a8a8a" stroke-width="0.25" fill-opacity="0.62"/>
<circle cx="180.5" cy="807.9" r="1.95" fill="#7fb2ea" stroke="#8a8a8a" stroke-width="0.25" fill-opacity="0.62"/>
<circle cx="150.1" cy="825.4" r="1.95" fill="#a070b8" stroke="#8a8a8a" stroke-width="0.25" fill-opacity="0.62"/>
<circle cx="109.7" cy="816.3" r="1.95" fill="#a070b8" stroke="#8a8a8a" stroke-width="0.25" fill-opacity="0.62"/>
<circle cx="154.7" cy="797.4" r="1.95" fill="#e3b551" stroke="#8a8a8a" stroke-width="0.25" fill-opacity="0.62"/>
<circle cx="153.5" cy="814.3" r="1.95" fill="#a070b8" stroke="#8a8a8a" stroke-width="0.25" fill-opacity="0.62"/>
<circle cx="150.9" cy="817.2" r="1.95" fill="#4f9d45" stroke="#8a8a8a" stroke-width="0.25" fill-opacity="0.62"/>
<circle cx="147.5" cy="824.3" r="1.95" fill="#4f9d45" stroke="#8a8a8a" stroke-width="0.25" fill-opacity="0.62"/>
<circle cx="156.8" cy="801.3" r="1.95" fill="#a070b8" stroke="#8a8a8a" stroke-width="0.25" fill-opacity="0.62"/>
<circle cx="139.9" cy="783.7" r="1.95" fill="#e3b551" stroke="#8a8a8a" stroke-width="0.25" fill-opacity="0.62"/>
<circle cx="109.3" cy="806.3" r="1.95" fill="#a070b8" stroke="#8a8a8a" stroke-width="0.25" fill-opacity="0.62"/>
<circle cx="101.8" cy="828.3" r="1.95" fill="#a070b8" stroke="#8a8a8a" stroke-width="0.25" fill-opacity="0.62"/>
<circle cx="67.6" cy="829" r="1.95" fill="#4f9d45" stroke="#8a8a8a" stroke-width="0.25" fill-opacity="0.62"/>
<circle cx="141.6" cy="813.6" r="1.95" fill="#4f9d45" stroke="#8a8a8a" stroke-width="0.25" fill-opacity="0.62"/>
<circle cx="67.7" cy="746.6" r="1.95" fill="#e3b551" stroke="#8a8a8a" stroke-width="0.25" fill-opacity="0.62"/>
<circle cx="162.4" cy="795.8" r="1.95" fill="#a070b8" stroke="#8a8a8a" stroke-width="0.25" fill-opacity="0.62"/>
<circle cx="130.7" cy="809.5" r="1.95" fill="#7fb2ea" stroke="#8a8a8a" stroke-width="0.25" fill-opacity="0.62"/>
<circle cx="156.7" cy="804.5" r="1.95" fill="#7fb2ea" stroke="#8a8a8a" stroke-width="0.25" fill-opacity="0.62"/>
<circle cx="137.2" cy="808.5" r="1.95" fill="#a070b8" stroke="#8a8a8a" stroke-width="0.25" fill-opacity="0.62"/>
<circle cx="156.8" cy="812.9" r="1.95" fill="#7fb2ea" stroke="#8a8a8a" stroke-width="0.25" fill-opacity="0.62"/>
<circle cx="174.7" cy="811.1" r="1.95" fill="#7fb2ea" stroke="#8a8a8a" stroke-width="0.25" fill-opacity="0.62"/>
<circle cx="121.9" cy="807.7" r="1.95" fill="#7fb2ea" stroke="#8a8a8a" stroke-width="0.25" fill-opacity="0.62"/>
<circle cx="126.8" cy="795.8" r="1.95" fill="#a070b8" stroke="#8a8a8a" stroke-width="0.25" fill-opacity="0.62"/>
<circle cx="206.7" cy="816.8" r="1.95" fill="#4f9d45" stroke="#8a8a8a" stroke-width="0.25" fill-opacity="0.62"/>
<circle cx="172.3" cy="802.8" r="1.95" fill="#7fb2ea" stroke="#8a8a8a" stroke-width="0.25" fill-opacity="0.62"/>
<circle cx="73.2" cy="782.7" r="1.95" fill="#e3b551" stroke="#8a8a8a" stroke-width="0.25" fill-opacity="0.62"/>
<circle cx="116.5" cy="823.4" r="1.95" fill="#7fb2ea" stroke="#8a8a8a" stroke-width="0.25" fill-opacity="0.62"/>
<circle cx="83.5" cy="825.1" r="1.95" fill="#4f9d45" stroke="#8a8a8a" stroke-width="0.25" fill-opacity="0.62"/>
<circle cx="157.9" cy="826.9" r="1.95" fill="#7fb2ea" stroke="#8a8a8a" stroke-width="0.25" fill-opacity="0.62"/>
<circle cx="89.9" cy="788" r="1.95" fill="#e3b551" stroke="#8a8a8a" stroke-width="0.25" fill-opacity="0.62"/>
<circle cx="110.9" cy="772.4" r="1.95" fill="#e3b551" stroke="#8a8a8a" stroke-width="0.25" fill-opacity="0.62"/>
<circle cx="76.8" cy="788.7" r="1.95" fill="#e3b551" stroke="#8a8a8a" stroke-width="0.25" fill-opacity="0.62"/>
<circle cx="59.7" cy="788.3" r="1.95" fill="#e3b551" stroke="#8a8a8a" stroke-width="0.25" fill-opacity="0.62"/>
<circle cx="170.9" cy="816" r="1.95" fill="#7fb2ea" stroke="#8a8a8a" stroke-width="0.25" fill-opacity="0.62"/>
<circle cx="145.7" cy="829.1" r="1.95" fill="#7fb2ea" stroke="#8a8a8a" stroke-width="0.25" fill-opacity="0.62"/>
<circle cx="149.5" cy="828.9" r="1.95" fill="#e3b551" stroke="#8a8a8a" stroke-width="0.25" fill-opacity="0.62"/>
<circle cx="122.7" cy="788.2" r="1.95" fill="#e3b551" stroke="#8a8a8a" stroke-width="0.25" fill-opacity="0.62"/>
<circle cx="91.6" cy="818.1" r="1.95" fill="#e3b551" stroke="#8a8a8a" stroke-width="0.25" fill-opacity="0.62"/>
<circle cx="150.1" cy="829.2" r="1.95" fill="#7fb2ea" stroke="#8a8a8a" stroke-width="0.25" fill-opacity="0.62"/>
<circle cx="96.5" cy="812.8" r="1.95" fill="#a070b8" stroke="#8a8a8a" stroke-width="0.25" fill-opacity="0.62"/>
<circle cx="138.1" cy="793.2" r="1.95" fill="#e3b551" stroke="#8a8a8a" stroke-width="0.25" fill-opacity="0.62"/>
<circle cx="142" cy="811.4" r="1.95" fill="#7fb2ea" stroke="#8a8a8a" stroke-width="0.25" fill-opacity="0.62"/>
<circle cx="120.2" cy="831.6" r="1.95" fill="#4f9d45" stroke="#8a8a8a" stroke-width="0.25" fill-opacity="0.62"/>
<circle cx="182.8" cy="821" r="1.95" fill="#7fb2ea" stroke="#8a8a8a" stroke-width="0.25" fill-opacity="0.62"/>
<circle cx="172.6" cy="819.5" r="1.95" fill="#7fb2ea" stroke="#8a8a8a" stroke-width="0.25" fill-opacity="0.62"/>
<circle cx="100" cy="824" r="1.95" fill="#e3b551" stroke="#8a8a8a" stroke-width="0.25" fill-opacity="0.62"/>
<circle cx="169.6" cy="826.4" r="1.95" fill="#7fb2ea" stroke="#8a8a8a" stroke-width="0.25" fill-opacity="0.62"/>
<circle cx="118.2" cy="801.8" r="1.95" fill="#e3b551" stroke="#8a8a8a" stroke-width="0.25" fill-opacity="0.62"/>
<circle cx="136.5" cy="790" r="1.95" fill="#e3b551" stroke="#8a8a8a" stroke-width="0.25" fill-opacity="0.62"/>
<circle cx="125.1" cy="803.4" r="1.95" fill="#a070b8" stroke="#8a8a8a" stroke-width="0.25" fill-opacity="0.62"/>
<circle cx="110" cy="795" r="1.95" fill="#e3b551" stroke="#8a8a8a" stroke-width="0.25" fill-opacity="0.62"/>
<circle cx="169.8" cy="802" r="1.95" fill="#a070b8" stroke="#8a8a8a" stroke-width="0.25" fill-opacity="0.62"/>
<circle cx="85.8" cy="781.6" r="1.95" fill="#e3b551" stroke="#8a8a8a" stroke-width="0.25" fill-opacity="0.62"/>
<circle cx="89.6" cy="813" r="1.95" fill="#a070b8" stroke="#8a8a8a" stroke-width="0.25" fill-opacity="0.62"/>
<circle cx="145.2" cy="802.7" r="1.95" fill="#a070b8" stroke="#8a8a8a" stroke-width="0.25" fill-opacity="0.62"/>
<circle cx="152.6" cy="825.5" r="1.95" fill="#7fb2ea" stroke="#8a8a8a" stroke-width="0.25" fill-opacity="0.62"/>
<circle cx="79.4" cy="799.5" r="1.95" fill="#e3b551" stroke="#8a8a8a" stroke-width="0.25" fill-opacity="0.62"/>
<circle cx="109.8" cy="774.9" r="1.95" fill="#e3b551" stroke="#8a8a8a" stroke-width="0.25" fill-opacity="0.62"/>
<circle cx="148.4" cy="821.5" r="1.95" fill="#7fb2ea" stroke="#8a8a8a" stroke-width="0.25" fill-opacity="0.62"/>
<circle cx="171.5" cy="820.4" r="1.95" fill="#7fb2ea" stroke="#8a8a8a" stroke-width="0.25" fill-opacity="0.62"/>
<circle cx="166.9" cy="832.8" r="1.95" fill="#e3b551" stroke="#8a8a8a" stroke-width="0.25" fill-opacity="0.62"/>
<circle cx="78" cy="757.7" r="1.95" fill="#e3b551" stroke="#8a8a8a" stroke-width="0.25" fill-opacity="0.62"/>
<circle cx="192.5" cy="832.8" r="1.95" fill="#e3b551" stroke="#8a8a8a" stroke-width="0.25" fill-opacity="0.62"/>
<circle cx="164.6" cy="816.9" r="1.95" fill="#7fb2ea" stroke="#8a8a8a" stroke-width="0.25" fill-opacity="0.62"/>
<circle cx="184.5" cy="829" r="1.95" fill="#7fb2ea" stroke="#8a8a8a" stroke-width="0.25" fill-opacity="0.62"/>
<circle cx="164" cy="800.6" r="1.95" fill="#7fb2ea" stroke="#8a8a8a" stroke-width="0.25" fill-opacity="0.62"/>
<circle cx="113.2" cy="788.1" r="1.95" fill="#e3b551" stroke="#8a8a8a" stroke-width="0.25" fill-opacity="0.62"/>
<circle cx="150.5" cy="822.4" r="1.95" fill="#7fb2ea" stroke="#8a8a8a" stroke-width="0.25" fill-opacity="0.62"/>
<circle cx="179.7" cy="822.5" r="1.95" fill="#7fb2ea" stroke="#8a8a8a" stroke-width="0.25" fill-opacity="0.62"/>
<circle cx="113.1" cy="821.9" r="1.95" fill="#e3b551" stroke="#8a8a8a" stroke-width="0.25" fill-opacity="0.62"/>
<circle cx="173.3" cy="799.7" r="1.95" fill="#a070b8" stroke="#8a8a8a" stroke-width="0.25" fill-opacity="0.62"/>
<circle cx="136.6" cy="784.5" r="1.95" fill="#a070b8" stroke="#8a8a8a" stroke-width="0.25" fill-opacity="0.62"/>
<circle cx="65.7" cy="751.2" r="1.95" fill="#e3b551" stroke="#8a8a8a" stroke-width="0.25" fill-opacity="0.62"/>
<circle cx="180.5" cy="826.9" r="1.95" fill="#7fb2ea" stroke="#8a8a8a" stroke-width="0.25" fill-opacity="0.62"/>
<circle cx="109.8" cy="798.6" r="1.95" fill="#a070b8" stroke="#8a8a8a" stroke-width="0.25" fill-opacity="0.62"/>
<circle cx="112.1" cy="809.5" r="1.95" fill="#a070b8" stroke="#8a8a8a" stroke-width="0.25" fill-opacity="0.62"/>
<circle cx="93.9" cy="813.2" r="1.95" fill="#a070b8" stroke="#8a8a8a" stroke-width="0.25" fill-opacity="0.62"/>
<circle cx="66.6" cy="764.5" r="1.95" fill="#e3b551" stroke="#8a8a8a" stroke-width="0.25" fill-opacity="0.62"/>
<circle cx="97.9" cy="798.5" r="1.95" fill="#e3b551" stroke="#8a8a8a" stroke-width="0.25" fill-opacity="0.62"/>
<circle cx="180" cy="832.8" r="1.95" fill="#7fb2ea" stroke="#8a8a8a" stroke-width="0.25" fill-opacity="0.62"/>
<circle cx="64.3" cy="809.5" r="1.95" fill="#e3b551" stroke="#8a8a8a" stroke-width="0.25" fill-opacity="0.62"/>
<circle cx="163.5" cy="825.1" r="1.95" fill="#7fb2ea" stroke="#8a8a8a" stroke-width="0.25" fill-opacity="0.62"/>
<circle cx="102.6" cy="798.1" r="1.95" fill="#e3b551" stroke="#8a8a8a" stroke-width="0.25" fill-opacity="0.62"/>
<circle cx="180.8" cy="824" r="1.95" fill="#7fb2ea" stroke="#8a8a8a" stroke-width="0.25" fill-opacity="0.62"/>
<circle cx="159.6" cy="806.9" r="1.95" fill="#7fb2ea" stroke="#8a8a8a" stroke-width="0.25" fill-opacity="0.62"/>
<circle cx="49.6" cy="787.9" r="1.95" fill="#e3b551" stroke="#8a8a8a" stroke-width="0.25" fill-opacity="0.62"/>
<circle cx="176.9" cy="824" r="1.95" fill="#a070b8" stroke="#8a8a8a" stroke-width="0.25" fill-opacity="0.62"/>
<circle cx="132.2" cy="821.7" r="1.95" fill="#e3b551" stroke="#8a8a8a" stroke-width="0.25" fill-opacity="0.62"/>
<circle cx="143.6" cy="816.1" r="1.95" fill="#a070b8" stroke="#8a8a8a" stroke-width="0.25" fill-opacity="0.62"/>
<circle cx="70.1" cy="780.7" r="1.95" fill="#e3b551" stroke="#8a8a8a" stroke-width="0.25" fill-opacity="0.62"/>
<circle cx="158.5" cy="807.1" r="1.95" fill="#7fb2ea" stroke="#8a8a8a" stroke-width="0.25" fill-opacity="0.62"/>
<circle cx="144.8" cy="817.8" r="1.95" fill="#a070b8" stroke="#8a8a8a" stroke-width="0.25" fill-opacity="0.62"/>
<circle cx="160.2" cy="736.4" r="1.95" fill="#a070b8" stroke="#8a8a8a" stroke-width="0.25" fill-opacity="0.62"/>
<circle cx="158.1" cy="806" r="1.95" fill="#e3b551" stroke="#8a8a8a" stroke-width="0.25" fill-opacity="0.62"/>
<circle cx="143.8" cy="810.8" r="1.95" fill="#7fb2ea" stroke="#8a8a8a" stroke-width="0.25" fill-opacity="0.62"/>
<circle cx="121.5" cy="802.6" r="1.95" fill="#a070b8" stroke="#8a8a8a" stroke-width="0.25" fill-opacity="0.62"/>
<circle cx="171.1" cy="810.1" r="1.95" fill="#7fb2ea" stroke="#8a8a8a" stroke-width="0.25" fill-opacity="0.62"/>
<circle cx="169.4" cy="815.6" r="1.95" fill="#e3b551" stroke="#8a8a8a" stroke-width="0.25" fill-opacity="0.62"/>
<circle cx="97.9" cy="832.9" r="1.95" fill="#a070b8" stroke="#8a8a8a" stroke-width="0.25" fill-opacity="0.62"/>
<circle cx="97.2" cy="825" r="1.95" fill="#4f9d45" stroke="#8a8a8a" stroke-width="0.25" fill-opacity="0.62"/>
<circle cx="193.6" cy="736.3" r="1.95" fill="#e3b551" stroke="#8a8a8a" stroke-width="0.25" fill-opacity="0.62"/>
<circle cx="149.4" cy="828.6" r="1.95" fill="#7fb2ea" stroke="#8a8a8a" stroke-width="0.25" fill-opacity="0.62"/>
<circle cx="190.3" cy="812.8" r="1.95" fill="#a070b8" stroke="#8a8a8a" stroke-width="0.25" fill-opacity="0.62"/>
<circle cx="77.4" cy="786.5" r="1.95" fill="#e3b551" stroke="#8a8a8a" stroke-width="0.25" fill-opacity="0.62"/>
<circle cx="63.1" cy="785.2" r="1.95" fill="#e3b551" stroke="#8a8a8a" stroke-width="0.25" fill-opacity="0.62"/>
<circle cx="142.5" cy="787.9" r="1.95" fill="#a070b8" stroke="#8a8a8a" stroke-width="0.25" fill-opacity="0.62"/>
<circle cx="121.8" cy="789" r="1.95" fill="#e3b551" stroke="#8a8a8a" stroke-width="0.25" fill-opacity="0.62"/>
<circle cx="153.7" cy="827" r="1.95" fill="#7fb2ea" stroke="#8a8a8a" stroke-width="0.25" fill-opacity="0.62"/>
<circle cx="162.9" cy="808.9" r="1.95" fill="#7fb2ea" stroke="#8a8a8a" stroke-width="0.25" fill-opacity="0.62"/>
<circle cx="108.5" cy="785.3" r="1.95" fill="#e3b551" stroke="#8a8a8a" stroke-width="0.25" fill-opacity="0.62"/>
<circle cx="184.7" cy="797.3" r="1.95" fill="#e3b551" stroke="#8a8a8a" stroke-width="0.25" fill-opacity="0.62"/>
<circle cx="120.9" cy="777.9" r="1.95" fill="#e3b551" stroke="#8a8a8a" stroke-width="0.25" fill-opacity="0.62"/>
<circle cx="144.6" cy="822.4" r="1.95" fill="#7fb2ea" stroke="#8a8a8a" stroke-width="0.25" fill-opacity="0.62"/>
<circle cx="87.5" cy="820.5" r="1.95" fill="#4f9d45" stroke="#8a8a8a" stroke-width="0.25" fill-opacity="0.62"/>
<circle cx="160.5" cy="800.2" r="1.95" fill="#7fb2ea" stroke="#8a8a8a" stroke-width="0.25" fill-opacity="0.62"/>
<circle cx="158.1" cy="816" r="1.95" fill="#7fb2ea" stroke="#8a8a8a" stroke-width="0.25" fill-opacity="0.62"/>
<circle cx="175.5" cy="831.9" r="1.95" fill="#7fb2ea" stroke="#8a8a8a" stroke-width="0.25" fill-opacity="0.62"/>
<circle cx="79.3" cy="811.8" r="1.95" fill="#e3b551" stroke="#8a8a8a" stroke-width="0.25" fill-opacity="0.62"/>
<circle cx="82.1" cy="785.6" r="1.95" fill="#e3b551" stroke="#8a8a8a" stroke-width="0.25" fill-opacity="0.62"/>
<circle cx="114.8" cy="814.9" r="1.95" fill="#7fb2ea" stroke="#8a8a8a" stroke-width="0.25" fill-opacity="0.62"/>
<circle cx="137.2" cy="814.7" r="1.95" fill="#a070b8" stroke="#8a8a8a" stroke-width="0.25" fill-opacity="0.62"/>
<circle cx="132.4" cy="809.1" r="1.95" fill="#a070b8" stroke="#8a8a8a" stroke-width="0.25" fill-opacity="0.62"/>
<circle cx="56.8" cy="792.5" r="1.95" fill="#e3b551" stroke="#8a8a8a" stroke-width="0.25" fill-opacity="0.62"/>
<circle cx="172.9" cy="817.5" r="1.95" fill="#7fb2ea" stroke="#8a8a8a" stroke-width="0.25" fill-opacity="0.62"/>
<circle cx="159.2" cy="802.3" r="1.95" fill="#a070b8" stroke="#8a8a8a" stroke-width="0.25" fill-opacity="0.62"/>
<circle cx="88.7" cy="803.7" r="1.95" fill="#a070b8" stroke="#8a8a8a" stroke-width="0.25" fill-opacity="0.62"/>
<circle cx="59.3" cy="808.4" r="1.95" fill="#e3b551" stroke="#8a8a8a" stroke-width="0.25" fill-opacity="0.62"/>
<circle cx="100.6" cy="821.5" r="1.95" fill="#4f9d45" stroke="#8a8a8a" stroke-width="0.25" fill-opacity="0.62"/>
<circle cx="92.9" cy="765.6" r="1.95" fill="#e3b551" stroke="#8a8a8a" stroke-width="0.25" fill-opacity="0.62"/>
<circle cx="175.9" cy="820.1" r="1.95" fill="#7fb2ea" stroke="#8a8a8a" stroke-width="0.25" fill-opacity="0.62"/>
<circle cx="167.4" cy="805.8" r="1.95" fill="#e3b551" stroke="#8a8a8a" stroke-width="0.25" fill-opacity="0.62"/>
<circle cx="149.5" cy="816.5" r="1.95" fill="#e3b551" stroke="#8a8a8a" stroke-width="0.25" fill-opacity="0.62"/>
<circle cx="162.8" cy="832.8" r="1.95" fill="#e3b551" stroke="#8a8a8a" stroke-width="0.25" fill-opacity="0.62"/>
<circle cx="72.6" cy="776.9" r="1.95" fill="#e3b551" stroke="#8a8a8a" stroke-width="0.25" fill-opacity="0.62"/>
<circle cx="147.1" cy="825.3" r="1.95" fill="#7fb2ea" stroke="#8a8a8a" stroke-width="0.25" fill-opacity="0.62"/>
<circle cx="106.8" cy="832.2" r="1.95" fill="#a070b8" stroke="#8a8a8a" stroke-width="0.25" fill-opacity="0.62"/>
<circle cx="188.8" cy="832.8" r="1.95" fill="#7fb2ea" stroke="#8a8a8a" stroke-width="0.25" fill-opacity="0.62"/>
<circle cx="176.6" cy="816.2" r="1.95" fill="#7fb2ea" stroke="#8a8a8a" stroke-width="0.25" fill-opacity="0.62"/>
<circle cx="166.5" cy="787" r="1.95" fill="#a070b8" stroke="#8a8a8a" stroke-width="0.25" fill-opacity="0.62"/>
<circle cx="189.2" cy="815.5" r="1.95" fill="#7fb2ea" stroke="#8a8a8a" stroke-width="0.25" fill-opacity="0.62"/>
<circle cx="132.1" cy="818.1" r="1.95" fill="#e3b551" stroke="#8a8a8a" stroke-width="0.25" fill-opacity="0.62"/>
<circle cx="149.6" cy="806.5" r="1.95" fill="#e3b551" stroke="#8a8a8a" stroke-width="0.25" fill-opacity="0.62"/>
<circle cx="116.8" cy="828.1" r="1.95" fill="#a070b8" stroke="#8a8a8a" stroke-width="0.25" fill-opacity="0.62"/>
<circle cx="172.6" cy="818.9" r="1.95" fill="#a070b8" stroke="#8a8a8a" stroke-width="0.25" fill-opacity="0.62"/>
<circle cx="192.8" cy="807.5" r="1.95" fill="#a070b8" stroke="#8a8a8a" stroke-width="0.25" fill-opacity="0.62"/>
<circle cx="184" cy="821.5" r="1.95" fill="#a070b8" stroke="#8a8a8a" stroke-width="0.25" fill-opacity="0.62"/>
<circle cx="155.1" cy="820.1" r="1.95" fill="#7fb2ea" stroke="#8a8a8a" stroke-width="0.25" fill-opacity="0.62"/>
<circle cx="91.2" cy="812.6" r="1.95" fill="#e3b551" stroke="#8a8a8a" stroke-width="0.25" fill-opacity="0.62"/>
<circle cx="121.1" cy="781.4" r="1.95" fill="#e3b551" stroke="#8a8a8a" stroke-width="0.25" fill-opacity="0.62"/>
<circle cx="165.4" cy="809.3" r="1.95" fill="#7fb2ea" stroke="#8a8a8a" stroke-width="0.25" fill-opacity="0.62"/>
<circle cx="75.9" cy="788.2" r="1.95" fill="#e3b551" stroke="#8a8a8a" stroke-width="0.25" fill-opacity="0.62"/>
<circle cx="157.6" cy="818" r="1.95" fill="#7fb2ea" stroke="#8a8a8a" stroke-width="0.25" fill-opacity="0.62"/>
<circle cx="191" cy="806.9" r="1.95" fill="#7fb2ea" stroke="#8a8a8a" stroke-width="0.25" fill-opacity="0.62"/>
<circle cx="190.9" cy="809.4" r="1.95" fill="#4f9d45" stroke="#8a8a8a" stroke-width="0.25" fill-opacity="0.62"/>
<circle cx="138.8" cy="811.3" r="1.95" fill="#a070b8" stroke="#8a8a8a" stroke-width="0.25" fill-opacity="0.62"/>
<circle cx="166.8" cy="809.4" r="1.95" fill="#7fb2ea" stroke="#8a8a8a" stroke-width="0.25" fill-opacity="0.62"/>
<circle cx="181.3" cy="810.9" r="1.95" fill="#7fb2ea" stroke="#8a8a8a" stroke-width="0.25" fill-opacity="0.62"/>
<circle cx="204.3" cy="800.3" r="1.95" fill="#7fb2ea" stroke="#8a8a8a" stroke-width="0.25" fill-opacity="0.62"/>
<circle cx="137.7" cy="810" r="1.95" fill="#7fb2ea" stroke="#8a8a8a" stroke-width="0.25" fill-opacity="0.62"/>
<circle cx="94.6" cy="826.3" r="1.95" fill="#a070b8" stroke="#8a8a8a" stroke-width="0.25" fill-opacity="0.62"/>
<circle cx="90.9" cy="812.1" r="1.95" fill="#a070b8" stroke="#8a8a8a" stroke-width="0.25" fill-opacity="0.62"/>
<circle cx="145" cy="817.1" r="1.95" fill="#7fb2ea" stroke="#8a8a8a" stroke-width="0.25" fill-opacity="0.62"/>
<circle cx="128.5" cy="814.8" r="1.95" fill="#7fb2ea" stroke="#8a8a8a" stroke-width="0.25" fill-opacity="0.62"/>
<circle cx="121.1" cy="821" r="1.95" fill="#e3b551" stroke="#8a8a8a" stroke-width="0.25" fill-opacity="0.62"/>
<circle cx="205.2" cy="812.6" r="1.95" fill="#4f9d45" stroke="#8a8a8a" stroke-width="0.25" fill-opacity="0.62"/>
<circle cx="80.2" cy="794.6" r="1.95" fill="#e3b551" stroke="#8a8a8a" stroke-width="0.25" fill-opacity="0.62"/>
<circle cx="152.2" cy="817.6" r="1.95" fill="#7fb2ea" stroke="#8a8a8a" stroke-width="0.25" fill-opacity="0.62"/>
<circle cx="98.4" cy="799.6" r="1.95" fill="#e3b551" stroke="#8a8a8a" stroke-width="0.25" fill-opacity="0.62"/>
<circle cx="67.9" cy="820.4" r="1.95" fill="#e3b551" stroke="#8a8a8a" stroke-width="0.25" fill-opacity="0.62"/>
<circle cx="149.2" cy="808.4" r="1.95" fill="#a070b8" stroke="#8a8a8a" stroke-width="0.25" fill-opacity="0.62"/>
<circle cx="152.6" cy="827.5" r="1.95" fill="#7fb2ea" stroke="#8a8a8a" stroke-width="0.25" fill-opacity="0.62"/>
<circle cx="116.8" cy="828.5" r="1.95" fill="#7fb2ea" stroke="#8a8a8a" stroke-width="0.25" fill-opacity="0.62"/>
<circle cx="180.7" cy="808.7" r="1.95" fill="#7fb2ea" stroke="#8a8a8a" stroke-width="0.25" fill-opacity="0.62"/>
<circle cx="164.5" cy="820.6" r="1.95" fill="#7fb2ea" stroke="#8a8a8a" stroke-width="0.25" fill-opacity="0.62"/>
<circle cx="157" cy="799.8" r="1.95" fill="#a070b8" stroke="#8a8a8a" stroke-width="0.25" fill-opacity="0.62"/>
<circle cx="163.3" cy="810.5" r="1.95" fill="#e3b551" stroke="#8a8a8a" stroke-width="0.25" fill-opacity="0.62"/>
<circle cx="133.1" cy="801.7" r="1.95" fill="#7fb2ea" stroke="#8a8a8a" stroke-width="0.25" fill-opacity="0.62"/>
<circle cx="131" cy="807" r="1.95" fill="#e3b551" stroke="#8a8a8a" stroke-width="0.25" fill-opacity="0.62"/>
<circle cx="151" cy="798.3" r="1.95" fill="#a070b8" stroke="#8a8a8a" stroke-width="0.25" fill-opacity="0.62"/>
<circle cx="104" cy="794.7" r="1.95" fill="#e3b551" stroke="#8a8a8a" stroke-width="0.25" fill-opacity="0.62"/>
<circle cx="121.3" cy="822.9" r="1.95" fill="#7fb2ea" stroke="#8a8a8a" stroke-width="0.25" fill-opacity="0.62"/>
<circle cx="104.1" cy="815.4" r="1.95" fill="#7fb2ea" stroke="#8a8a8a" stroke-width="0.25" fill-opacity="0.62"/>
<circle cx="124.6" cy="788.1" r="1.95" fill="#e3b551" stroke="#8a8a8a" stroke-width="0.25" fill-opacity="0.62"/>
<circle cx="144.5" cy="800.7" r="1.95" fill="#e3b551" stroke="#8a8a8a" stroke-width="0.25" fill-opacity="0.62"/>
<circle cx="170.9" cy="809.8" r="1.95" fill="#7fb2ea" stroke="#8a8a8a" stroke-width="0.25" fill-opacity="0.62"/>
<circle cx="100.6" cy="818.8" r="1.95" fill="#a070b8" stroke="#8a8a8a" stroke-width="0.25" fill-opacity="0.62"/>
<circle cx="109.2" cy="804.3" r="1.95" fill="#a070b8" stroke="#8a8a8a" stroke-width="0.25" fill-opacity="0.62"/>
<circle cx="181.2" cy="815.7" r="1.95" fill="#a070b8" stroke="#8a8a8a" stroke-width="0.25" fill-opacity="0.62"/>
<circle cx="135" cy="807.6" r="1.95" fill="#e3b551" stroke="#8a8a8a" stroke-width="0.25" fill-opacity="0.62"/>
<circle cx="178.6" cy="805.5" r="1.95" fill="#a070b8" stroke="#8a8a8a" stroke-width="0.25" fill-opacity="0.62"/>
<circle cx="67.2" cy="771.1" r="1.95" fill="#e3b551" stroke="#8a8a8a" stroke-width="0.25" fill-opacity="0.62"/>
<circle cx="134" cy="766.8" r="1.95" fill="#a070b8" stroke="#8a8a8a" stroke-width="0.25" fill-opacity="0.62"/>
<circle cx="75.7" cy="806.8" r="1.95" fill="#e3b551" stroke="#8a8a8a" stroke-width="0.25" fill-opacity="0.62"/>
<circle cx="175.3" cy="817.1" r="1.95" fill="#7fb2ea" stroke="#8a8a8a" stroke-width="0.25" fill-opacity="0.62"/>
<circle cx="190.6" cy="820.6" r="1.95" fill="#7fb2ea" stroke="#8a8a8a" stroke-width="0.25" fill-opacity="0.62"/>
<circle cx="168.8" cy="810.6" r="1.95" fill="#a070b8" stroke="#8a8a8a" stroke-width="0.25" fill-opacity="0.62"/>
<circle cx="196.9" cy="794.4" r="1.95" fill="#a070b8" stroke="#8a8a8a" stroke-width="0.25" fill-opacity="0.62"/>
<circle cx="64.9" cy="796" r="1.95" fill="#e3b551" stroke="#8a8a8a" stroke-width="0.25" fill-opacity="0.62"/>
<circle cx="136.5" cy="790.3" r="1.95" fill="#a070b8" stroke="#8a8a8a" stroke-width="0.25" fill-opacity="0.62"/>
<circle cx="168.9" cy="801.4" r="1.95" fill="#7fb2ea" stroke="#8a8a8a" stroke-width="0.25" fill-opacity="0.62"/>
<circle cx="72.7" cy="773.7" r="1.95" fill="#e3b551" stroke="#8a8a8a" stroke-width="0.25" fill-opacity="0.62"/>
<circle cx="127.9" cy="823.4" r="1.95" fill="#7fb2ea" stroke="#8a8a8a" stroke-width="0.25" fill-opacity="0.62"/>
<circle cx="106.9" cy="819.1" r="1.95" fill="#7fb2ea" stroke="#8a8a8a" stroke-width="0.25" fill-opacity="0.62"/>
<circle cx="121.6" cy="814.5" r="1.95" fill="#7fb2ea" stroke="#8a8a8a" stroke-width="0.25" fill-opacity="0.62"/>
<circle cx="141.7" cy="794" r="1.95" fill="#e3b551" stroke="#8a8a8a" stroke-width="0.25" fill-opacity="0.62"/>
<circle cx="162.8" cy="822" r="1.95" fill="#e3b551" stroke="#8a8a8a" stroke-width="0.25" fill-opacity="0.62"/>
<circle cx="107.9" cy="827.9" r="1.95" fill="#4f9d45" stroke="#8a8a8a" stroke-width="0.25" fill-opacity="0.62"/>
<circle cx="134.4" cy="820.9" r="1.95" fill="#e3b551" stroke="#8a8a8a" stroke-width="0.25" fill-opacity="0.62"/>
<circle cx="183.7" cy="814.4" r="1.95" fill="#7fb2ea" stroke="#8a8a8a" stroke-width="0.25" fill-opacity="0.62"/>
<circle cx="175" cy="818.7" r="1.95" fill="#e3b551" stroke="#8a8a8a" stroke-width="0.25" fill-opacity="0.62"/>
<circle cx="85.6" cy="781.8" r="1.95" fill="#e3b551" stroke="#8a8a8a" stroke-width="0.25" fill-opacity="0.62"/>
<circle cx="115.1" cy="777.7" r="1.95" fill="#e3b551" stroke="#8a8a8a" stroke-width="0.25" fill-opacity="0.62"/>
<circle cx="110.5" cy="798.4" r="1.95" fill="#a070b8" stroke="#8a8a8a" stroke-width="0.25" fill-opacity="0.62"/>
<circle cx="102.4" cy="811.9" r="1.95" fill="#e3b551" stroke="#8a8a8a" stroke-width="0.25" fill-opacity="0.62"/>
<circle cx="142.1" cy="820.5" r="1.95" fill="#e3b551" stroke="#8a8a8a" stroke-width="0.25" fill-opacity="0.62"/>
<circle cx="136.4" cy="807.7" r="1.95" fill="#7fb2ea" stroke="#8a8a8a" stroke-width="0.25" fill-opacity="0.62"/>
<circle cx="196.3" cy="813.3" r="1.95" fill="#a070b8" stroke="#8a8a8a" stroke-width="0.25" fill-opacity="0.62"/>
<circle cx="157.9" cy="822.3" r="1.95" fill="#7fb2ea" stroke="#8a8a8a" stroke-width="0.25" fill-opacity="0.62"/>
<circle cx="106.9" cy="786.6" r="1.95" fill="#e3b551" stroke="#8a8a8a" stroke-width="0.25" fill-opacity="0.62"/>
<circle cx="173.8" cy="811.9" r="1.95" fill="#7fb2ea" stroke="#8a8a8a" stroke-width="0.25" fill-opacity="0.62"/>
<circle cx="119.7" cy="813.5" r="1.95" fill="#a070b8" stroke="#8a8a8a" stroke-width="0.25" fill-opacity="0.62"/>
<circle cx="126" cy="832.8" r="1.95" fill="#7fb2ea" stroke="#8a8a8a" stroke-width="0.25" fill-opacity="0.62"/>
<circle cx="173.3" cy="811.7" r="1.95" fill="#7fb2ea" stroke="#8a8a8a" stroke-width="0.25" fill-opacity="0.62"/>
<circle cx="161.3" cy="807.8" r="1.95" fill="#7fb2ea" stroke="#8a8a8a" stroke-width="0.25" fill-opacity="0.62"/>
<circle cx="84.4" cy="774.3" r="1.95" fill="#e3b551" stroke="#8a8a8a" stroke-width="0.25" fill-opacity="0.62"/>
<circle cx="140" cy="783" r="1.95" fill="#e3b551" stroke="#8a8a8a" stroke-width="0.25" fill-opacity="0.62"/>
<circle cx="134.4" cy="802.3" r="1.95" fill="#7fb2ea" stroke="#8a8a8a" stroke-width="0.25" fill-opacity="0.62"/>
<circle cx="181.8" cy="810.2" r="1.95" fill="#a070b8" stroke="#8a8a8a" stroke-width="0.25" fill-opacity="0.62"/>
<circle cx="172.6" cy="820.5" r="1.95" fill="#7fb2ea" stroke="#8a8a8a" stroke-width="0.25" fill-opacity="0.62"/>
<circle cx="62.4" cy="805.7" r="1.95" fill="#e3b551" stroke="#8a8a8a" stroke-width="0.25" fill-opacity="0.62"/>
<circle cx="109.1" cy="806.8" r="1.95" fill="#7fb2ea" stroke="#8a8a8a" stroke-width="0.25" fill-opacity="0.62"/>
<circle cx="141.3" cy="803.1" r="1.95" fill="#7fb2ea" stroke="#8a8a8a" stroke-width="0.25" fill-opacity="0.62"/>
<circle cx="171.1" cy="810.3" r="1.95" fill="#a070b8" stroke="#8a8a8a" stroke-width="0.25" fill-opacity="0.62"/>
<circle cx="163.3" cy="832.6" r="1.95" fill="#7fb2ea" stroke="#8a8a8a" stroke-width="0.25" fill-opacity="0.62"/>
<circle cx="170.4" cy="798.3" r="1.95" fill="#7fb2ea" stroke="#8a8a8a" stroke-width="0.25" fill-opacity="0.62"/>
<circle cx="149.7" cy="832.8" r="1.95" fill="#e3b551" stroke="#8a8a8a" stroke-width="0.25" fill-opacity="0.62"/>
<circle cx="127.3" cy="826.4" r="1.95" fill="#4f9d45" stroke="#8a8a8a" stroke-width="0.25" fill-opacity="0.62"/>
<circle cx="127.9" cy="806" r="1.95" fill="#7fb2ea" stroke="#8a8a8a" stroke-width="0.25" fill-opacity="0.62"/>
<circle cx="150.2" cy="825.3" r="1.95" fill="#e3b551" stroke="#8a8a8a" stroke-width="0.25" fill-opacity="0.62"/>
<circle cx="151.6" cy="831" r="1.95" fill="#a070b8" stroke="#8a8a8a" stroke-width="0.25" fill-opacity="0.62"/>
<circle cx="67.6" cy="801.8" r="1.95" fill="#e3b551" stroke="#8a8a8a" stroke-width="0.25" fill-opacity="0.62"/>
<circle cx="167.2" cy="824.1" r="1.95" fill="#4f9d45" stroke="#8a8a8a" stroke-width="0.25" fill-opacity="0.62"/>
<circle cx="141.7" cy="832.8" r="1.95" fill="#7fb2ea" stroke="#8a8a8a" stroke-width="0.25" fill-opacity="0.62"/>
<circle cx="158.1" cy="802.2" r="1.95" fill="#7fb2ea" stroke="#8a8a8a" stroke-width="0.25" fill-opacity="0.62"/>
<circle cx="68.2" cy="787.9" r="1.95" fill="#e3b551" stroke="#8a8a8a" stroke-width="0.25" fill-opacity="0.62"/>
<circle cx="143.5" cy="804.2" r="1.95" fill="#7fb2ea" stroke="#8a8a8a" stroke-width="0.25" fill-opacity="0.62"/>
<circle cx="146.1" cy="816.8" r="1.95" fill="#a070b8" stroke="#8a8a8a" stroke-width="0.25" fill-opacity="0.62"/>
<circle cx="152.6" cy="806.6" r="1.95" fill="#a070b8" stroke="#8a8a8a" stroke-width="0.25" fill-opacity="0.62"/>
<circle cx="118.9" cy="793.9" r="1.95" fill="#e3b551" stroke="#8a8a8a" stroke-width="0.25" fill-opacity="0.62"/>
<circle cx="146.2" cy="828.3" r="1.95" fill="#7fb2ea" stroke="#8a8a8a" stroke-width="0.25" fill-opacity="0.62"/>
<circle cx="91.7" cy="805.5" r="1.95" fill="#e3b551" stroke="#8a8a8a" stroke-width="0.25" fill-opacity="0.62"/>
<circle cx="177.7" cy="820.7" r="1.95" fill="#7fb2ea" stroke="#8a8a8a" stroke-width="0.25" fill-opacity="0.62"/>
<circle cx="79.7" cy="787.7" r="1.95" fill="#e3b551" stroke="#8a8a8a" stroke-width="0.25" fill-opacity="0.62"/>
<circle cx="70.9" cy="792.9" r="1.95" fill="#e3b551" stroke="#8a8a8a" stroke-width="0.25" fill-opacity="0.62"/>
<circle cx="78.6" cy="801.8" r="1.95" fill="#e3b551" stroke="#8a8a8a" stroke-width="0.25" fill-opacity="0.62"/>
<circle cx="137.9" cy="807.7" r="1.95" fill="#e3b551" stroke="#8a8a8a" stroke-width="0.25" fill-opacity="0.62"/>
<circle cx="94.9" cy="794.1" r="1.95" fill="#e3b551" stroke="#8a8a8a" stroke-width="0.25" fill-opacity="0.62"/>
<circle cx="167.7" cy="822.6" r="1.95" fill="#7fb2ea" stroke="#8a8a8a" stroke-width="0.25" fill-opacity="0.62"/>
<circle cx="145.2" cy="827.8" r="1.95" fill="#7fb2ea" stroke="#8a8a8a" stroke-width="0.25" fill-opacity="0.62"/>
<circle cx="107.8" cy="818.8" r="1.95" fill="#7fb2ea" stroke="#8a8a8a" stroke-width="0.25" fill-opacity="0.62"/>
<circle cx="137.1" cy="823.9" r="1.95" fill="#e3b551" stroke="#8a8a8a" stroke-width="0.25" fill-opacity="0.62"/>
<circle cx="120.1" cy="814.1" r="1.95" fill="#7fb2ea" stroke="#8a8a8a" stroke-width="0.25" fill-opacity="0.62"/>
<circle cx="163.7" cy="832.8" r="1.95" fill="#7fb2ea" stroke="#8a8a8a" stroke-width="0.25" fill-opacity="0.62"/>
<circle cx="201.5" cy="806.2" r="1.95" fill="#7fb2ea" stroke="#8a8a8a" stroke-width="0.25" fill-opacity="0.62"/>
<circle cx="108.6" cy="814.1" r="1.95" fill="#e3b551" stroke="#8a8a8a" stroke-width="0.25" fill-opacity="0.62"/>
<circle cx="98.2" cy="813.6" r="1.95" fill="#a070b8" stroke="#8a8a8a" stroke-width="0.25" fill-opacity="0.62"/>
<circle cx="183.1" cy="822.2" r="1.95" fill="#7fb2ea" stroke="#8a8a8a" stroke-width="0.25" fill-opacity="0.62"/>
<circle cx="106.5" cy="814.5" r="1.95" fill="#7fb2ea" stroke="#8a8a8a" stroke-width="0.25" fill-opacity="0.62"/>
<circle cx="199" cy="808.4" r="1.95" fill="#a070b8" stroke="#8a8a8a" stroke-width="0.25" fill-opacity="0.62"/>
<circle cx="164.4" cy="812.3" r="1.95" fill="#7fb2ea" stroke="#8a8a8a" stroke-width="0.25" fill-opacity="0.62"/>
<circle cx="183" cy="823.7" r="1.95" fill="#7fb2ea" stroke="#8a8a8a" stroke-width="0.25" fill-opacity="0.62"/>
<circle cx="112.2" cy="832.8" r="1.95" fill="#7fb2ea" stroke="#8a8a8a" stroke-width="0.25" fill-opacity="0.62"/>
<circle cx="93.6" cy="815.9" r="1.95" fill="#a070b8" stroke="#8a8a8a" stroke-width="0.25" fill-opacity="0.62"/>
<circle cx="134.5" cy="796.4" r="1.95" fill="#e3b551" stroke="#8a8a8a" stroke-width="0.25" fill-opacity="0.62"/>
<circle cx="134.9" cy="787.3" r="1.95" fill="#e3b551" stroke="#8a8a8a" stroke-width="0.25" fill-opacity="0.62"/>
<circle cx="154.2" cy="807.7" r="1.95" fill="#a070b8" stroke="#8a8a8a" stroke-width="0.25" fill-opacity="0.62"/>
<circle cx="171.9" cy="813.8" r="1.95" fill="#7fb2ea" stroke="#8a8a8a" stroke-width="0.25" fill-opacity="0.62"/>
<circle cx="144.4" cy="809.3" r="1.95" fill="#e3b551" stroke="#8a8a8a" stroke-width="0.25" fill-opacity="0.62"/>
<circle cx="89.2" cy="819.6" r="1.95" fill="#a070b8" stroke="#8a8a8a" stroke-width="0.25" fill-opacity="0.62"/>
<circle cx="161.4" cy="821.6" r="1.95" fill="#7fb2ea" stroke="#8a8a8a" stroke-width="0.25" fill-opacity="0.62"/>
<circle cx="85.9" cy="814.7" r="1.95" fill="#e3b551" stroke="#8a8a8a" stroke-width="0.25" fill-opacity="0.62"/>
<circle cx="157.7" cy="793.1" r="1.95" fill="#a070b8" stroke="#8a8a8a" stroke-width="0.25" fill-opacity="0.62"/>
<circle cx="134.9" cy="815.9" r="1.95" fill="#a070b8" stroke="#8a8a8a" stroke-width="0.25" fill-opacity="0.62"/>
<circle cx="122.8" cy="770.3" r="1.95" fill="#e3b551" stroke="#8a8a8a" stroke-width="0.25" fill-opacity="0.62"/>
<circle cx="172.9" cy="823.7" r="1.95" fill="#7fb2ea" stroke="#8a8a8a" stroke-width="0.25" fill-opacity="0.62"/>
<circle cx="198.3" cy="821" r="1.95" fill="#7fb2ea" stroke="#8a8a8a" stroke-width="0.25" fill-opacity="0.62"/>
<circle cx="129.1" cy="802.4" r="1.95" fill="#a070b8" stroke="#8a8a8a" stroke-width="0.25" fill-opacity="0.62"/>
<circle cx="87.5" cy="799.7" r="1.95" fill="#e3b551" stroke="#8a8a8a" stroke-width="0.25" fill-opacity="0.62"/>
<circle cx="92.7" cy="810.5" r="1.95" fill="#e3b551" stroke="#8a8a8a" stroke-width="0.25" fill-opacity="0.62"/>
<circle cx="105.7" cy="796.4" r="1.95" fill="#7fb2ea" stroke="#8a8a8a" stroke-width="0.25" fill-opacity="0.62"/>
<circle cx="118.5" cy="819.2" r="1.95" fill="#e3b551" stroke="#8a8a8a" stroke-width="0.25" fill-opacity="0.62"/>
<circle cx="113.3" cy="783.7" r="1.95" fill="#e3b551" stroke="#8a8a8a" stroke-width="0.25" fill-opacity="0.62"/>
<circle cx="164.8" cy="831.5" r="1.95" fill="#7fb2ea" stroke="#8a8a8a" stroke-width="0.25" fill-opacity="0.62"/>
<circle cx="179.5" cy="823.2" r="1.95" fill="#7fb2ea" stroke="#8a8a8a" stroke-width="0.25" fill-opacity="0.62"/>
<circle cx="129.9" cy="828.5" r="1.95" fill="#4f9d45" stroke="#8a8a8a" stroke-width="0.25" fill-opacity="0.62"/>
<circle cx="127.3" cy="806.1" r="1.95" fill="#a070b8" stroke="#8a8a8a" stroke-width="0.25" fill-opacity="0.62"/>
<circle cx="121.5" cy="830.7" r="1.95" fill="#7fb2ea" stroke="#8a8a8a" stroke-width="0.25" fill-opacity="0.62"/>
<circle cx="189.9" cy="805.4" r="1.95" fill="#7fb2ea" stroke="#8a8a8a" stroke-width="0.25" fill-opacity="0.62"/>
<circle cx="97.2" cy="806.6" r="1.95" fill="#e3b551" stroke="#8a8a8a" stroke-width="0.25" fill-opacity="0.62"/>
<circle cx="161.3" cy="814.4" r="1.95" fill="#a070b8" stroke="#8a8a8a" stroke-width="0.25" fill-opacity="0.62"/>
<circle cx="67.7" cy="785.6" r="1.95" fill="#e3b551" stroke="#8a8a8a" stroke-width="0.25" fill-opacity="0.62"/>
<circle cx="80.8" cy="785.3" r="1.95" fill="#e3b551" stroke="#8a8a8a" stroke-width="0.25" fill-opacity="0.62"/>
<circle cx="149.7" cy="810.4" r="1.95" fill="#a070b8" stroke="#8a8a8a" stroke-width="0.25" fill-opacity="0.62"/>
<circle cx="154.4" cy="790.8" r="1.95" fill="#a070b8" stroke="#8a8a8a" stroke-width="0.25" fill-opacity="0.62"/>
<circle cx="103.7" cy="800.8" r="1.95" fill="#e3b551" stroke="#8a8a8a" stroke-width="0.25" fill-opacity="0.62"/>
<circle cx="93.1" cy="777.8" r="1.95" fill="#e3b551" stroke="#8a8a8a" stroke-width="0.25" fill-opacity="0.62"/>
<circle cx="138.1" cy="806.6" r="1.95" fill="#7fb2ea" stroke="#8a8a8a" stroke-width="0.25" fill-opacity="0.62"/>
<circle cx="160.5" cy="811.5" r="1.95" fill="#7fb2ea" stroke="#8a8a8a" stroke-width="0.25" fill-opacity="0.62"/>
<circle cx="181.1" cy="796.2" r="1.95" fill="#a070b8" stroke="#8a8a8a" stroke-width="0.25" fill-opacity="0.62"/>
<circle cx="178.1" cy="811.2" r="1.95" fill="#7fb2ea" stroke="#8a8a8a" stroke-width="0.25" fill-opacity="0.62"/>
<circle cx="171" cy="819.2" r="1.95" fill="#7fb2ea" stroke="#8a8a8a" stroke-width="0.25" fill-opacity="0.62"/>
<circle cx="114.6" cy="801.8" r="1.95" fill="#e3b551" stroke="#8a8a8a" stroke-width="0.25" fill-opacity="0.62"/>
<circle cx="161.9" cy="808.1" r="1.95" fill="#a070b8" stroke="#8a8a8a" stroke-width="0.25" fill-opacity="0.62"/>
<circle cx="132" cy="820.9" r="1.95" fill="#4f9d45" stroke="#8a8a8a" stroke-width="0.25" fill-opacity="0.62"/>
<circle cx="110.1" cy="806.6" r="1.95" fill="#7fb2ea" stroke="#8a8a8a" stroke-width="0.25" fill-opacity="0.62"/>
<circle cx="160.9" cy="809.2" r="1.95" fill="#7fb2ea" stroke="#8a8a8a" stroke-width="0.25" fill-opacity="0.62"/>
<circle cx="103.6" cy="752.2" r="1.95" fill="#a070b8" stroke="#8a8a8a" stroke-width="0.25" fill-opacity="0.62"/>
<circle cx="94.8" cy="796.9" r="1.95" fill="#e3b551" stroke="#8a8a8a" stroke-width="0.25" fill-opacity="0.62"/>
<circle cx="171.3" cy="815.3" r="1.95" fill="#e3b551" stroke="#8a8a8a" stroke-width="0.25" fill-opacity="0.62"/>
<circle cx="142.4" cy="821.5" r="1.95" fill="#4f9d45" stroke="#8a8a8a" stroke-width="0.25" fill-opacity="0.62"/>
<circle cx="171.7" cy="811.6" r="1.95" fill="#7fb2ea" stroke="#8a8a8a" stroke-width="0.25" fill-opacity="0.62"/>
<circle cx="171.3" cy="796.2" r="1.95" fill="#7fb2ea" stroke="#8a8a8a" stroke-width="0.25" fill-opacity="0.62"/>
<circle cx="78.9" cy="780.9" r="1.95" fill="#e3b551" stroke="#8a8a8a" stroke-width="0.25" fill-opacity="0.62"/>
<circle cx="195.6" cy="817.3" r="1.95" fill="#4f9d45" stroke="#8a8a8a" stroke-width="0.25" fill-opacity="0.62"/>
<circle cx="171.7" cy="829.2" r="1.95" fill="#4f9d45" stroke="#8a8a8a" stroke-width="0.25" fill-opacity="0.62"/>
<circle cx="81.3" cy="788.9" r="1.95" fill="#e3b551" stroke="#8a8a8a" stroke-width="0.25" fill-opacity="0.62"/>
<circle cx="104.8" cy="790.3" r="1.95" fill="#a070b8" stroke="#8a8a8a" stroke-width="0.25" fill-opacity="0.62"/>
<circle cx="153" cy="804.8" r="1.95" fill="#a070b8" stroke="#8a8a8a" stroke-width="0.25" fill-opacity="0.62"/>
<circle cx="146.5" cy="800.1" r="1.95" fill="#a070b8" stroke="#8a8a8a" stroke-width="0.25" fill-opacity="0.62"/>
<circle cx="105.2" cy="813.9" r="1.95" fill="#7fb2ea" stroke="#8a8a8a" stroke-width="0.25" fill-opacity="0.62"/>
<circle cx="176.9" cy="729.3" r="1.95" fill="#e3b551" stroke="#8a8a8a" stroke-width="0.25" fill-opacity="0.62"/>
<circle cx="80.5" cy="812.1" r="1.95" fill="#e3b551" stroke="#8a8a8a" stroke-width="0.25" fill-opacity="0.62"/>
<circle cx="166.9" cy="817.2" r="1.95" fill="#7fb2ea" stroke="#8a8a8a" stroke-width="0.25" fill-opacity="0.62"/>
<circle cx="116.1" cy="828.3" r="1.95" fill="#4f9d45" stroke="#8a8a8a" stroke-width="0.25" fill-opacity="0.62"/>
<circle cx="145.2" cy="812.9" r="1.95" fill="#a070b8" stroke="#8a8a8a" stroke-width="0.25" fill-opacity="0.62"/>
<circle cx="175.9" cy="823" r="1.95" fill="#7fb2ea" stroke="#8a8a8a" stroke-width="0.25" fill-opacity="0.62"/>
<circle cx="186.2" cy="821.1" r="1.95" fill="#a070b8" stroke="#8a8a8a" stroke-width="0.25" fill-opacity="0.62"/>
<circle cx="90.4" cy="765" r="1.95" fill="#e3b551" stroke="#8a8a8a" stroke-width="0.25" fill-opacity="0.62"/>
<circle cx="152.5" cy="812.6" r="1.95" fill="#a070b8" stroke="#8a8a8a" stroke-width="0.25" fill-opacity="0.62"/>
<circle cx="154.4" cy="787.9" r="1.95" fill="#a070b8" stroke="#8a8a8a" stroke-width="0.25" fill-opacity="0.62"/>
<circle cx="116.6" cy="811.6" r="1.95" fill="#7fb2ea" stroke="#8a8a8a" stroke-width="0.25" fill-opacity="0.62"/>
<circle cx="160.7" cy="808.4" r="1.95" fill="#a070b8" stroke="#8a8a8a" stroke-width="0.25" fill-opacity="0.62"/>
<circle cx="120" cy="805.4" r="1.95" fill="#e3b551" stroke="#8a8a8a" stroke-width="0.25" fill-opacity="0.62"/>
<circle cx="168.7" cy="820.3" r="1.95" fill="#4f9d45" stroke="#8a8a8a" stroke-width="0.25" fill-opacity="0.62"/>
<circle cx="112" cy="790.8" r="1.95" fill="#e3b551" stroke="#8a8a8a" stroke-width="0.25" fill-opacity="0.62"/>
<circle cx="143.3" cy="790" r="1.95" fill="#a070b8" stroke="#8a8a8a" stroke-width="0.25" fill-opacity="0.62"/>
<circle cx="140.6" cy="815.5" r="1.95" fill="#e3b551" stroke="#8a8a8a" stroke-width="0.25" fill-opacity="0.62"/>
<circle cx="124.8" cy="823.2" r="1.95" fill="#a070b8" stroke="#8a8a8a" stroke-width="0.25" fill-opacity="0.62"/>
<circle cx="93.7" cy="810.5" r="1.95" fill="#e3b551" stroke="#8a8a8a" stroke-width="0.25" fill-opacity="0.62"/>
<circle cx="143.5" cy="796" r="1.95" fill="#e3b551" stroke="#8a8a8a" stroke-width="0.25" fill-opacity="0.62"/>
<circle cx="119.8" cy="794.8" r="1.95" fill="#a070b8" stroke="#8a8a8a" stroke-width="0.25" fill-opacity="0.62"/>
<circle cx="80.1" cy="819.5" r="1.95" fill="#4f9d45" stroke="#8a8a8a" stroke-width="0.25" fill-opacity="0.62"/>
<circle cx="105.5" cy="800.7" r="1.95" fill="#e3b551" stroke="#8a8a8a" stroke-width="0.25" fill-opacity="0.62"/>
<circle cx="177.9" cy="806.5" r="1.95" fill="#7fb2ea" stroke="#8a8a8a" stroke-width="0.25" fill-opacity="0.62"/>
<circle cx="169.5" cy="817.5" r="1.95" fill="#a070b8" stroke="#8a8a8a" stroke-width="0.25" fill-opacity="0.62"/>
<circle cx="193.9" cy="816.4" r="1.95" fill="#a070b8" stroke="#8a8a8a" stroke-width="0.25" fill-opacity="0.62"/>
<circle cx="167.2" cy="813.5" r="1.95" fill="#7fb2ea" stroke="#8a8a8a" stroke-width="0.25" fill-opacity="0.62"/>
<circle cx="112" cy="810.5" r="1.95" fill="#a070b8" stroke="#8a8a8a" stroke-width="0.25" fill-opacity="0.62"/>
<circle cx="130.9" cy="808.2" r="1.95" fill="#e3b551" stroke="#8a8a8a" stroke-width="0.25" fill-opacity="0.62"/>
<circle cx="152.5" cy="804.9" r="1.95" fill="#a070b8" stroke="#8a8a8a" stroke-width="0.25" fill-opacity="0.62"/>
<circle cx="126.7" cy="826.7" r="1.95" fill="#7fb2ea" stroke="#8a8a8a" stroke-width="0.25" fill-opacity="0.62"/>
<circle cx="124.6" cy="798.5" r="1.95" fill="#e3b551" stroke="#8a8a8a" stroke-width="0.25" fill-opacity="0.62"/>
<circle cx="126.3" cy="807.8" r="1.95" fill="#a070b8" stroke="#8a8a8a" stroke-width="0.25" fill-opacity="0.62"/>
<circle cx="94.3" cy="786" r="1.95" fill="#e3b551" stroke="#8a8a8a" stroke-width="0.25" fill-opacity="0.62"/>
<circle cx="133.5" cy="819.2" r="1.95" fill="#7fb2ea" stroke="#8a8a8a" stroke-width="0.25" fill-opacity="0.62"/>
<circle cx="159.1" cy="830.4" r="1.95" fill="#7fb2ea" stroke="#8a8a8a" stroke-width="0.25" fill-opacity="0.62"/>
<circle cx="107.5" cy="774.7" r="1.95" fill="#e3b551" stroke="#8a8a8a" stroke-width="0.25" fill-opacity="0.62"/>
<circle cx="102.4" cy="786.7" r="1.95" fill="#e3b551" stroke="#8a8a8a" stroke-width="0.25" fill-opacity="0.62"/>
<circle cx="193.7" cy="790.9" r="1.95" fill="#a070b8" stroke="#8a8a8a" stroke-width="0.25" fill-opacity="0.62"/>
<circle cx="146.3" cy="814.1" r="1.95" fill="#7fb2ea" stroke="#8a8a8a" stroke-width="0.25" fill-opacity="0.62"/>
<circle cx="85.1" cy="817.4" r="1.95" fill="#4f9d45" stroke="#8a8a8a" stroke-width="0.25" fill-opacity="0.62"/>
<circle cx="109.5" cy="824.5" r="1.95" fill="#7fb2ea" stroke="#8a8a8a" stroke-width="0.25" fill-opacity="0.62"/>
<circle cx="127.2" cy="821.8" r="1.95" fill="#7fb2ea" stroke="#8a8a8a" stroke-width="0.25" fill-opacity="0.62"/>
<circle cx="168.1" cy="813.1" r="1.95" fill="#7fb2ea" stroke="#8a8a8a" stroke-width="0.25" fill-opacity="0.62"/>
<circle cx="156.8" cy="801.9" r="1.95" fill="#7fb2ea" stroke="#8a8a8a" stroke-width="0.25" fill-opacity="0.62"/>
<circle cx="134.1" cy="821.7" r="1.95" fill="#a070b8" stroke="#8a8a8a" stroke-width="0.25" fill-opacity="0.62"/>
<circle cx="188" cy="801.3" r="1.95" fill="#7fb2ea" stroke="#8a8a8a" stroke-width="0.25" fill-opacity="0.62"/>
<circle cx="149.6" cy="818.3" r="1.95" fill="#e3b551" stroke="#8a8a8a" stroke-width="0.25" fill-opacity="0.62"/>
<circle cx="108.4" cy="786.6" r="1.95" fill="#e3b551" stroke="#8a8a8a" stroke-width="0.25" fill-opacity="0.62"/>
<circle cx="199.9" cy="823.4" r="1.95" fill="#7fb2ea" stroke="#8a8a8a" stroke-width="0.25" fill-opacity="0.62"/>
<circle cx="167.7" cy="798.3" r="1.95" fill="#7fb2ea" stroke="#8a8a8a" stroke-width="0.25" fill-opacity="0.62"/>
<circle cx="92.7" cy="802.4" r="1.95" fill="#e3b551" stroke="#8a8a8a" stroke-width="0.25" fill-opacity="0.62"/>
<circle cx="143.2" cy="815.8" r="1.95" fill="#a070b8" stroke="#8a8a8a" stroke-width="0.25" fill-opacity="0.62"/>
<circle cx="134.2" cy="817.6" r="1.95" fill="#e3b551" stroke="#8a8a8a" stroke-width="0.25" fill-opacity="0.62"/>
<circle cx="152.5" cy="792.9" r="1.95" fill="#a070b8" stroke="#8a8a8a" stroke-width="0.25" fill-opacity="0.62"/>
<circle cx="124.9" cy="824.2" r="1.95" fill="#7fb2ea" stroke="#8a8a8a" stroke-width="0.25" fill-opacity="0.62"/>
<circle cx="74.9" cy="806.7" r="1.95" fill="#e3b551" stroke="#8a8a8a" stroke-width="0.25" fill-opacity="0.62"/>
<circle cx="75.3" cy="788.9" r="1.95" fill="#e3b551" stroke="#8a8a8a" stroke-width="0.25" fill-opacity="0.62"/>
<circle cx="138.9" cy="823.7" r="1.95" fill="#7fb2ea" stroke="#8a8a8a" stroke-width="0.25" fill-opacity="0.62"/>
<circle cx="178.9" cy="812.2" r="1.95" fill="#7fb2ea" stroke="#8a8a8a" stroke-width="0.25" fill-opacity="0.62"/>
<circle cx="186.6" cy="805.7" r="1.95" fill="#a070b8" stroke="#8a8a8a" stroke-width="0.25" fill-opacity="0.62"/>
<circle cx="109.8" cy="820.8" r="1.95" fill="#7fb2ea" stroke="#8a8a8a" stroke-width="0.25" fill-opacity="0.62"/>
<circle cx="109.6" cy="795.1" r="1.95" fill="#e3b551" stroke="#8a8a8a" stroke-width="0.25" fill-opacity="0.62"/>
<circle cx="163.1" cy="804.6" r="1.95" fill="#a070b8" stroke="#8a8a8a" stroke-width="0.25" fill-opacity="0.62"/>
<circle cx="87.2" cy="793.6" r="1.95" fill="#e3b551" stroke="#8a8a8a" stroke-width="0.25" fill-opacity="0.62"/>
<circle cx="149.9" cy="810.4" r="1.95" fill="#7fb2ea" stroke="#8a8a8a" stroke-width="0.25" fill-opacity="0.62"/>
<circle cx="96.1" cy="799.1" r="1.95" fill="#e3b551" stroke="#8a8a8a" stroke-width="0.25" fill-opacity="0.62"/>
<circle cx="116" cy="819.5" r="1.95" fill="#a070b8" stroke="#8a8a8a" stroke-width="0.25" fill-opacity="0.62"/>
<circle cx="155" cy="815.8" r="1.95" fill="#7fb2ea" stroke="#8a8a8a" stroke-width="0.25" fill-opacity="0.62"/>
<circle cx="153.6" cy="820.6" r="1.95" fill="#e3b551" stroke="#8a8a8a" stroke-width="0.25" fill-opacity="0.62"/>
<circle cx="187.9" cy="821.6" r="1.95" fill="#4f9d45" stroke="#8a8a8a" stroke-width="0.25" fill-opacity="0.62"/>
<circle cx="93.8" cy="804.4" r="1.95" fill="#e3b551" stroke="#8a8a8a" stroke-width="0.25" fill-opacity="0.62"/>
<circle cx="105.2" cy="816.3" r="1.95" fill="#a070b8" stroke="#8a8a8a" stroke-width="0.25" fill-opacity="0.62"/>
<circle cx="169" cy="829.4" r="1.95" fill="#7fb2ea" stroke="#8a8a8a" stroke-width="0.25" fill-opacity="0.62"/>
<circle cx="178.4" cy="820.2" r="1.95" fill="#a070b8" stroke="#8a8a8a" stroke-width="0.25" fill-opacity="0.62"/>
<circle cx="169.5" cy="823.5" r="1.95" fill="#7fb2ea" stroke="#8a8a8a" stroke-width="0.25" fill-opacity="0.62"/>
<circle cx="109.7" cy="806.8" r="1.95" fill="#7fb2ea" stroke="#8a8a8a" stroke-width="0.25" fill-opacity="0.62"/>
<circle cx="119.7" cy="817.1" r="1.95" fill="#7fb2ea" stroke="#8a8a8a" stroke-width="0.25" fill-opacity="0.62"/>
<circle cx="133.4" cy="822" r="1.95" fill="#4f9d45" stroke="#8a8a8a" stroke-width="0.25" fill-opacity="0.62"/>
<circle cx="78.5" cy="766.1" r="1.95" fill="#e3b551" stroke="#8a8a8a" stroke-width="0.25" fill-opacity="0.62"/>
<circle cx="88.6" cy="791.6" r="1.95" fill="#e3b551" stroke="#8a8a8a" stroke-width="0.25" fill-opacity="0.62"/>
<circle cx="178.9" cy="813.3" r="1.95" fill="#7fb2ea" stroke="#8a8a8a" stroke-width="0.25" fill-opacity="0.62"/>
<circle cx="118.2" cy="801.4" r="1.95" fill="#a070b8" stroke="#8a8a8a" stroke-width="0.25" fill-opacity="0.62"/>
<circle cx="172.1" cy="813.5" r="1.95" fill="#7fb2ea" stroke="#8a8a8a" stroke-width="0.25" fill-opacity="0.62"/>
<circle cx="191.4" cy="807.1" r="1.95" fill="#a070b8" stroke="#8a8a8a" stroke-width="0.25" fill-opacity="0.62"/>
<circle cx="144.6" cy="808" r="1.95" fill="#7fb2ea" stroke="#8a8a8a" stroke-width="0.25" fill-opacity="0.62"/>
<circle cx="105.7" cy="795.7" r="1.95" fill="#a070b8" stroke="#8a8a8a" stroke-width="0.25" fill-opacity="0.62"/>
<circle cx="138" cy="828.9" r="1.95" fill="#7fb2ea" stroke="#8a8a8a" stroke-width="0.25" fill-opacity="0.62"/>
<circle cx="129.5" cy="806.6" r="1.95" fill="#a070b8" stroke="#8a8a8a" stroke-width="0.25" fill-opacity="0.62"/>
<circle cx="81.6" cy="796.5" r="1.95" fill="#e3b551" stroke="#8a8a8a" stroke-width="0.25" fill-opacity="0.62"/>
<circle cx="168.7" cy="826.8" r="1.95" fill="#a070b8" stroke="#8a8a8a" stroke-width="0.25" fill-opacity="0.62"/>
<circle cx="97.5" cy="798.3" r="1.95" fill="#e3b551" stroke="#8a8a8a" stroke-width="0.25" fill-opacity="0.62"/>
<circle cx="180.5" cy="811.8" r="1.95" fill="#a070b8" stroke="#8a8a8a" stroke-width="0.25" fill-opacity="0.62"/>
<circle cx="100.1" cy="784" r="1.95" fill="#e3b551" stroke="#8a8a8a" stroke-width="0.25" fill-opacity="0.62"/>
<circle cx="141.4" cy="796.6" r="1.95" fill="#e3b551" stroke="#8a8a8a" stroke-width="0.25" fill-opacity="0.62"/>
<circle cx="186.4" cy="807.5" r="1.95" fill="#7fb2ea" stroke="#8a8a8a" stroke-width="0.25" fill-opacity="0.62"/>
<circle cx="110.7" cy="783.5" r="1.95" fill="#e3b551" stroke="#8a8a8a" stroke-width="0.25" fill-opacity="0.62"/>
<circle cx="155.7" cy="832.1" r="1.95" fill="#e3b551" stroke="#8a8a8a" stroke-width="0.25" fill-opacity="0.62"/>
<circle cx="80.1" cy="777.9" r="1.95" fill="#e3b551" stroke="#8a8a8a" stroke-width="0.25" fill-opacity="0.62"/>
<circle cx="117.6" cy="809.8" r="1.95" fill="#a070b8" stroke="#8a8a8a" stroke-width="0.25" fill-opacity="0.62"/>
<circle cx="98.3" cy="823.3" r="1.95" fill="#7fb2ea" stroke="#8a8a8a" stroke-width="0.25" fill-opacity="0.62"/>
<circle cx="119.3" cy="816.6" r="1.95" fill="#7fb2ea" stroke="#8a8a8a" stroke-width="0.25" fill-opacity="0.62"/>
<circle cx="136.1" cy="824.3" r="1.95" fill="#7fb2ea" stroke="#8a8a8a" stroke-width="0.25" fill-opacity="0.62"/>
<circle cx="112" cy="805.4" r="1.95" fill="#7fb2ea" stroke="#8a8a8a" stroke-width="0.25" fill-opacity="0.62"/>
<circle cx="128.8" cy="818.4" r="1.95" fill="#7fb2ea" stroke="#8a8a8a" stroke-width="0.25" fill-opacity="0.62"/>
<circle cx="188.5" cy="801.7" r="1.95" fill="#7fb2ea" stroke="#8a8a8a" stroke-width="0.25" fill-opacity="0.62"/>
<circle cx="158" cy="818.7" r="1.95" fill="#7fb2ea" stroke="#8a8a8a" stroke-width="0.25" fill-opacity="0.62"/>
<circle cx="97.3" cy="818.2" r="1.95" fill="#a070b8" stroke="#8a8a8a" stroke-width="0.25" fill-opacity="0.62"/>
<circle cx="171.6" cy="826.7" r="1.95" fill="#7fb2ea" stroke="#8a8a8a" stroke-width="0.25" fill-opacity="0.62"/>
<circle cx="119.9" cy="827.1" r="1.95" fill="#a070b8" stroke="#8a8a8a" stroke-width="0.25" fill-opacity="0.62"/>
<circle cx="54.9" cy="813.2" r="1.95" fill="#e3b551" stroke="#8a8a8a" stroke-width="0.25" fill-opacity="0.62"/>
<circle cx="144" cy="826.4" r="1.95" fill="#7fb2ea" stroke="#8a8a8a" stroke-width="0.25" fill-opacity="0.62"/>
<circle cx="130.9" cy="824" r="1.95" fill="#e3b551" stroke="#8a8a8a" stroke-width="0.25" fill-opacity="0.62"/>
<circle cx="172.1" cy="820.9" r="1.95" fill="#7fb2ea" stroke="#8a8a8a" stroke-width="0.25" fill-opacity="0.62"/>
<circle cx="184.7" cy="829.4" r="1.95" fill="#a070b8" stroke="#8a8a8a" stroke-width="0.25" fill-opacity="0.62"/>
<circle cx="141.6" cy="819" r="1.95" fill="#e3b551" stroke="#8a8a8a" stroke-width="0.25" fill-opacity="0.62"/>
<circle cx="174.1" cy="818.1" r="1.95" fill="#7fb2ea" stroke="#8a8a8a" stroke-width="0.25" fill-opacity="0.62"/>
<circle cx="118.5" cy="776.2" r="1.95" fill="#e3b551" stroke="#8a8a8a" stroke-width="0.25" fill-opacity="0.62"/>
<circle cx="149.4" cy="806.1" r="1.95" fill="#e3b551" stroke="#8a8a8a" stroke-width="0.25" fill-opacity="0.62"/>
<circle cx="143.9" cy="802.6" r="1.95" fill="#e3b551" stroke="#8a8a8a" stroke-width="0.25" fill-opacity="0.62"/>
<circle cx="152.2" cy="798.2" r="1.95" fill="#7fb2ea" stroke="#8a8a8a" stroke-width="0.25" fill-opacity="0.62"/>
<circle cx="151.2" cy="810.3" r="1.95" fill="#a070b8" stroke="#8a8a8a" stroke-width="0.25" fill-opacity="0.62"/>
<circle cx="159" cy="822.2" r="1.95" fill="#7fb2ea" stroke="#8a8a8a" stroke-width="0.25" fill-opacity="0.62"/>
<circle cx="146" cy="804.7" r="1.95" fill="#a070b8" stroke="#8a8a8a" stroke-width="0.25" fill-opacity="0.62"/>
<circle cx="86" cy="807.2" r="1.95" fill="#a070b8" stroke="#8a8a8a" stroke-width="0.25" fill-opacity="0.62"/>
<circle cx="153.4" cy="798.9" r="1.95" fill="#a070b8" stroke="#8a8a8a" stroke-width="0.25" fill-opacity="0.62"/>
<circle cx="176.7" cy="819.3" r="1.95" fill="#4f9d45" stroke="#8a8a8a" stroke-width="0.25" fill-opacity="0.62"/>
<circle cx="202.4" cy="803.8" r="1.95" fill="#a070b8" stroke="#8a8a8a" stroke-width="0.25" fill-opacity="0.62"/>
<circle cx="173.5" cy="817.6" r="1.95" fill="#7fb2ea" stroke="#8a8a8a" stroke-width="0.25" fill-opacity="0.62"/>
<circle cx="165.4" cy="821.5" r="1.95" fill="#7fb2ea" stroke="#8a8a8a" stroke-width="0.25" fill-opacity="0.62"/>
<circle cx="114.9" cy="797.2" r="1.95" fill="#e3b551" stroke="#8a8a8a" stroke-width="0.25" fill-opacity="0.62"/>
<circle cx="178.7" cy="827.6" r="1.95" fill="#a070b8" stroke="#8a8a8a" stroke-width="0.25" fill-opacity="0.62"/>
<circle cx="127.5" cy="832.8" r="1.95" fill="#e3b551" stroke="#8a8a8a" stroke-width="0.25" fill-opacity="0.62"/>
<circle cx="141.1" cy="812.3" r="1.95" fill="#a070b8" stroke="#8a8a8a" stroke-width="0.25" fill-opacity="0.62"/>
<circle cx="115" cy="780.3" r="1.95" fill="#e3b551" stroke="#8a8a8a" stroke-width="0.25" fill-opacity="0.62"/>
<circle cx="122.7" cy="838.6" r="1.95" fill="#a070b8" stroke="#8a8a8a" stroke-width="0.25" fill-opacity="0.62"/>
<circle cx="166.9" cy="814.2" r="1.95" fill="#e3b551" stroke="#8a8a8a" stroke-width="0.25" fill-opacity="0.62"/>
<circle cx="108.5" cy="819.9" r="1.95" fill="#7fb2ea" stroke="#8a8a8a" stroke-width="0.25" fill-opacity="0.62"/>
<circle cx="105.3" cy="824.7" r="1.95" fill="#a070b8" stroke="#8a8a8a" stroke-width="0.25" fill-opacity="0.62"/>
<circle cx="180.7" cy="816.6" r="1.95" fill="#7fb2ea" stroke="#8a8a8a" stroke-width="0.25" fill-opacity="0.62"/>
<circle cx="74.7" cy="772" r="1.95" fill="#e3b551" stroke="#8a8a8a" stroke-width="0.25" fill-opacity="0.62"/>
<circle cx="135.7" cy="783.1" r="1.95" fill="#e3b551" stroke="#8a8a8a" stroke-width="0.25" fill-opacity="0.62"/>
<circle cx="135.8" cy="829.8" r="1.95" fill="#a070b8" stroke="#8a8a8a" stroke-width="0.25" fill-opacity="0.62"/>
<circle cx="128.5" cy="787.1" r="1.95" fill="#a070b8" stroke="#8a8a8a" stroke-width="0.25" fill-opacity="0.62"/>
<circle cx="179.3" cy="821.7" r="1.95" fill="#7fb2ea" stroke="#8a8a8a" stroke-width="0.25" fill-opacity="0.62"/>
<circle cx="85.5" cy="780.3" r="1.95" fill="#e3b551" stroke="#8a8a8a" stroke-width="0.25" fill-opacity="0.62"/>
<circle cx="108.2" cy="818.7" r="1.95" fill="#a070b8" stroke="#8a8a8a" stroke-width="0.25" fill-opacity="0.62"/>
<circle cx="94.7" cy="793.7" r="1.95" fill="#a070b8" stroke="#8a8a8a" stroke-width="0.25" fill-opacity="0.62"/>
<circle cx="133.5" cy="787.4" r="1.95" fill="#e3b551" stroke="#8a8a8a" stroke-width="0.25" fill-opacity="0.62"/>
<circle cx="155.5" cy="802.1" r="1.95" fill="#a070b8" stroke="#8a8a8a" stroke-width="0.25" fill-opacity="0.62"/>
<circle cx="109.9" cy="780.7" r="1.95" fill="#e3b551" stroke="#8a8a8a" stroke-width="0.25" fill-opacity="0.62"/>
<circle cx="58.5" cy="817.7" r="1.95" fill="#4f9d45" stroke="#8a8a8a" stroke-width="0.25" fill-opacity="0.62"/>
<circle cx="182" cy="812.4" r="1.95" fill="#7fb2ea" stroke="#8a8a8a" stroke-width="0.25" fill-opacity="0.62"/>
<circle cx="87.5" cy="799" r="1.95" fill="#e3b551" stroke="#8a8a8a" stroke-width="0.25" fill-opacity="0.62"/>
<circle cx="133.9" cy="831.1" r="1.95" fill="#a070b8" stroke="#8a8a8a" stroke-width="0.25" fill-opacity="0.62"/>
<circle cx="137.1" cy="800.9" r="1.95" fill="#e3b551" stroke="#8a8a8a" stroke-width="0.25" fill-opacity="0.62"/>
<circle cx="77" cy="804.7" r="1.95" fill="#e3b551" stroke="#8a8a8a" stroke-width="0.25" fill-opacity="0.62"/>
<circle cx="185.9" cy="798.4" r="1.95" fill="#7fb2ea" stroke="#8a8a8a" stroke-width="0.25" fill-opacity="0.62"/>
<circle cx="175.4" cy="820.5" r="1.95" fill="#7fb2ea" stroke="#8a8a8a" stroke-width="0.25" fill-opacity="0.62"/>
<circle cx="138.3" cy="802.1" r="1.95" fill="#a070b8" stroke="#8a8a8a" stroke-width="0.25" fill-opacity="0.62"/>
<circle cx="83.6" cy="757.1" r="1.95" fill="#e3b551" stroke="#8a8a8a" stroke-width="0.25" fill-opacity="0.62"/>
<circle cx="195.1" cy="808" r="1.95" fill="#a070b8" stroke="#8a8a8a" stroke-width="0.25" fill-opacity="0.62"/>
<circle cx="156.5" cy="817.1" r="1.95" fill="#7fb2ea" stroke="#8a8a8a" stroke-width="0.25" fill-opacity="0.62"/>
<circle cx="201.4" cy="832.8" r="1.95" fill="#7fb2ea" stroke="#8a8a8a" stroke-width="0.25" fill-opacity="0.62"/>
<circle cx="137.3" cy="824.1" r="1.95" fill="#a070b8" stroke="#8a8a8a" stroke-width="0.25" fill-opacity="0.62"/>
<circle cx="129.8" cy="795.1" r="1.95" fill="#e3b551" stroke="#8a8a8a" stroke-width="0.25" fill-opacity="0.62"/>
<circle cx="138.5" cy="832.8" r="1.95" fill="#e3b551" stroke="#8a8a8a" stroke-width="0.25" fill-opacity="0.62"/>
<circle cx="119.5" cy="806.3" r="1.95" fill="#e3b551" stroke="#8a8a8a" stroke-width="0.25" fill-opacity="0.62"/>
<circle cx="170" cy="807.6" r="1.95" fill="#7fb2ea" stroke="#8a8a8a" stroke-width="0.25" fill-opacity="0.62"/>
<circle cx="151.4" cy="828.6" r="1.95" fill="#e3b551" stroke="#8a8a8a" stroke-width="0.25" fill-opacity="0.62"/>
<circle cx="134.1" cy="817" r="1.95" fill="#7fb2ea" stroke="#8a8a8a" stroke-width="0.25" fill-opacity="0.62"/>
<circle cx="189.8" cy="816.1" r="1.95" fill="#7fb2ea" stroke="#8a8a8a" stroke-width="0.25" fill-opacity="0.62"/>
<circle cx="87" cy="804.8" r="1.95" fill="#e3b551" stroke="#8a8a8a" stroke-width="0.25" fill-opacity="0.62"/>
<circle cx="143.9" cy="802" r="1.95" fill="#a070b8" stroke="#8a8a8a" stroke-width="0.25" fill-opacity="0.62"/>
<circle cx="89.2" cy="821.9" r="1.95" fill="#4f9d45" stroke="#8a8a8a" stroke-width="0.25" fill-opacity="0.62"/>
<circle cx="101.7" cy="798.5" r="1.95" fill="#e3b551" stroke="#8a8a8a" stroke-width="0.25" fill-opacity="0.62"/>
<circle cx="153.6" cy="824.2" r="1.95" fill="#7fb2ea" stroke="#8a8a8a" stroke-width="0.25" fill-opacity="0.62"/>
<circle cx="66" cy="787.6" r="1.95" fill="#e3b551" stroke="#8a8a8a" stroke-width="0.25" fill-opacity="0.62"/>
<circle cx="201.3" cy="820.3" r="1.95" fill="#4f9d45" stroke="#8a8a8a" stroke-width="0.25" fill-opacity="0.62"/>
<circle cx="126.5" cy="832.8" r="1.95" fill="#e3b551" stroke="#8a8a8a" stroke-width="0.25" fill-opacity="0.62"/>
<circle cx="158" cy="809.6" r="1.95" fill="#7fb2ea" stroke="#8a8a8a" stroke-width="0.25" fill-opacity="0.62"/>
<circle cx="110" cy="799.9" r="1.95" fill="#e3b551" stroke="#8a8a8a" stroke-width="0.25" fill-opacity="0.62"/>
<circle cx="78.5" cy="778" r="1.95" fill="#e3b551" stroke="#8a8a8a" stroke-width="0.25" fill-opacity="0.62"/>
<circle cx="88.4" cy="805.7" r="1.95" fill="#a070b8" stroke="#8a8a8a" stroke-width="0.25" fill-opacity="0.62"/>
<circle cx="160.8" cy="820.3" r="1.95" fill="#e3b551" stroke="#8a8a8a" stroke-width="0.25" fill-opacity="0.62"/>
<circle cx="164.5" cy="828.3" r="1.95" fill="#7fb2ea" stroke="#8a8a8a" stroke-width="0.25" fill-opacity="0.62"/>
<circle cx="108.6" cy="814.3" r="1.95" fill="#7fb2ea" stroke="#8a8a8a" stroke-width="0.25" fill-opacity="0.62"/>
<circle cx="174.9" cy="819.7" r="1.95" fill="#7fb2ea" stroke="#8a8a8a" stroke-width="0.25" fill-opacity="0.62"/>
<circle cx="140.8" cy="829.5" r="1.95" fill="#e3b551" stroke="#8a8a8a" stroke-width="0.25" fill-opacity="0.62"/>
<circle cx="88.1" cy="803.3" r="1.95" fill="#e3b551" stroke="#8a8a8a" stroke-width="0.25" fill-opacity="0.62"/>
<circle cx="81.8" cy="784.6" r="1.95" fill="#e3b551" stroke="#8a8a8a" stroke-width="0.25" fill-opacity="0.62"/>
<circle cx="180.5" cy="823.8" r="1.95" fill="#a070b8" stroke="#8a8a8a" stroke-width="0.25" fill-opacity="0.62"/>
<circle cx="107.6" cy="788" r="1.95" fill="#e3b551" stroke="#8a8a8a" stroke-width="0.25" fill-opacity="0.62"/>
<circle cx="113.1" cy="809.4" r="1.95" fill="#4f9d45" stroke="#8a8a8a" stroke-width="0.25" fill-opacity="0.62"/>
<circle cx="114.6" cy="815.3" r="1.95" fill="#7fb2ea" stroke="#8a8a8a" stroke-width="0.25" fill-opacity="0.62"/>
<circle cx="170.2" cy="823.8" r="1.95" fill="#7fb2ea" stroke="#8a8a8a" stroke-width="0.25" fill-opacity="0.62"/>
<circle cx="124.1" cy="818.2" r="1.95" fill="#7fb2ea" stroke="#8a8a8a" stroke-width="0.25" fill-opacity="0.62"/>
<circle cx="91.6" cy="776.3" r="1.95" fill="#e3b551" stroke="#8a8a8a" stroke-width="0.25" fill-opacity="0.62"/>
<circle cx="75.3" cy="785.7" r="1.95" fill="#e3b551" stroke="#8a8a8a" stroke-width="0.25" fill-opacity="0.62"/>
<circle cx="158" cy="799.7" r="1.95" fill="#e3b551" stroke="#8a8a8a" stroke-width="0.25" fill-opacity="0.62"/>
<circle cx="66" cy="766.6" r="1.95" fill="#e3b551" stroke="#8a8a8a" stroke-width="0.25" fill-opacity="0.62"/>
<circle cx="175.1" cy="825.7" r="1.95" fill="#7fb2ea" stroke="#8a8a8a" stroke-width="0.25" fill-opacity="0.62"/>
<circle cx="197.6" cy="821.6" r="1.95" fill="#7fb2ea" stroke="#8a8a8a" stroke-width="0.25" fill-opacity="0.62"/>
<circle cx="103.1" cy="812.1" r="1.95" fill="#e3b551" stroke="#8a8a8a" stroke-width="0.25" fill-opacity="0.62"/>
<circle cx="140.2" cy="814.6" r="1.95" fill="#e3b551" stroke="#8a8a8a" stroke-width="0.25" fill-opacity="0.62"/>
<circle cx="115.2" cy="790.8" r="1.95" fill="#e3b551" stroke="#8a8a8a" stroke-width="0.25" fill-opacity="0.62"/>
<circle cx="151" cy="805.8" r="1.95" fill="#7fb2ea" stroke="#8a8a8a" stroke-width="0.25" fill-opacity="0.62"/>
<circle cx="64.5" cy="822.9" r="1.95" fill="#4f9d45" stroke="#8a8a8a" stroke-width="0.25" fill-opacity="0.62"/>
<circle cx="157.6" cy="819.8" r="1.95" fill="#4f9d45" stroke="#8a8a8a" stroke-width="0.25" fill-opacity="0.62"/>
<circle cx="197.6" cy="822.4" r="1.95" fill="#7fb2ea" stroke="#8a8a8a" stroke-width="0.25" fill-opacity="0.62"/>
<circle cx="110" cy="806.9" r="1.95" fill="#7fb2ea" stroke="#8a8a8a" stroke-width="0.25" fill-opacity="0.62"/>
<circle cx="173.6" cy="811.6" r="1.95" fill="#a070b8" stroke="#8a8a8a" stroke-width="0.25" fill-opacity="0.62"/>
<circle cx="156.4" cy="807.4" r="1.95" fill="#7fb2ea" stroke="#8a8a8a" stroke-width="0.25" fill-opacity="0.62"/>
<circle cx="156" cy="811.2" r="1.95" fill="#e3b551" stroke="#8a8a8a" stroke-width="0.25" fill-opacity="0.62"/>
<circle cx="110.7" cy="832.3" r="1.95" fill="#7fb2ea" stroke="#8a8a8a" stroke-width="0.25" fill-opacity="0.62"/>
<circle cx="159.6" cy="819" r="1.95" fill="#7fb2ea" stroke="#8a8a8a" stroke-width="0.25" fill-opacity="0.62"/>
<circle cx="129.4" cy="825.7" r="1.95" fill="#a070b8" stroke="#8a8a8a" stroke-width="0.25" fill-opacity="0.62"/>
<circle cx="140.9" cy="802" r="1.95" fill="#7fb2ea" stroke="#8a8a8a" stroke-width="0.25" fill-opacity="0.62"/>
<circle cx="140.7" cy="830.8" r="1.95" fill="#7fb2ea" stroke="#8a8a8a" stroke-width="0.25" fill-opacity="0.62"/>
<circle cx="153.9" cy="815.7" r="1.95" fill="#a070b8" stroke="#8a8a8a" stroke-width="0.25" fill-opacity="0.62"/>
<circle cx="56.3" cy="819.9" r="1.95" fill="#4f9d45" stroke="#8a8a8a" stroke-width="0.25" fill-opacity="0.62"/>
<circle cx="162.1" cy="796.1" r="1.95" fill="#e3b551" stroke="#8a8a8a" stroke-width="0.25" fill-opacity="0.62"/>
<circle cx="70" cy="787.2" r="1.95" fill="#e3b551" stroke="#8a8a8a" stroke-width="0.25" fill-opacity="0.62"/>
<circle cx="74.4" cy="823.1" r="1.95" fill="#4f9d45" stroke="#8a8a8a" stroke-width="0.25" fill-opacity="0.62"/>
<circle cx="201.2" cy="829.3" r="1.95" fill="#4f9d45" stroke="#8a8a8a" stroke-width="0.25" fill-opacity="0.62"/>
<circle cx="181.6" cy="819.7" r="1.95" fill="#7fb2ea" stroke="#8a8a8a" stroke-width="0.25" fill-opacity="0.62"/>
<circle cx="164" cy="807.2" r="1.95" fill="#7fb2ea" stroke="#8a8a8a" stroke-width="0.25" fill-opacity="0.62"/>
<circle cx="107.7" cy="790.3" r="1.95" fill="#e3b551" stroke="#8a8a8a" stroke-width="0.25" fill-opacity="0.62"/>
<circle cx="144.7" cy="798.8" r="1.95" fill="#7fb2ea" stroke="#8a8a8a" stroke-width="0.25" fill-opacity="0.62"/>
<circle cx="184.2" cy="832.8" r="1.95" fill="#e3b551" stroke="#8a8a8a" stroke-width="0.25" fill-opacity="0.62"/>
<circle cx="148.5" cy="828.5" r="1.95" fill="#7fb2ea" stroke="#8a8a8a" stroke-width="0.25" fill-opacity="0.62"/>
<circle cx="159.8" cy="807.2" r="1.95" fill="#7fb2ea" stroke="#8a8a8a" stroke-width="0.25" fill-opacity="0.62"/>
<circle cx="82.5" cy="818.6" r="1.95" fill="#4f9d45" stroke="#8a8a8a" stroke-width="0.25" fill-opacity="0.62"/>
<circle cx="154.6" cy="816.8" r="1.95" fill="#a070b8" stroke="#8a8a8a" stroke-width="0.25" fill-opacity="0.62"/>
<circle cx="93.9" cy="806.9" r="1.95" fill="#a070b8" stroke="#8a8a8a" stroke-width="0.25" fill-opacity="0.62"/>
<circle cx="165.6" cy="816" r="1.95" fill="#7fb2ea" stroke="#8a8a8a" stroke-width="0.25" fill-opacity="0.62"/>
<circle cx="143.6" cy="803.3" r="1.95" fill="#7fb2ea" stroke="#8a8a8a" stroke-width="0.25" fill-opacity="0.62"/>
<circle cx="189.7" cy="823" r="1.95" fill="#7fb2ea" stroke="#8a8a8a" stroke-width="0.25" fill-opacity="0.62"/>
<circle cx="97.9" cy="754" r="1.95" fill="#e3b551" stroke="#8a8a8a" stroke-width="0.25" fill-opacity="0.62"/>
<circle cx="178.5" cy="825.9" r="1.95" fill="#7fb2ea" stroke="#8a8a8a" stroke-width="0.25" fill-opacity="0.62"/>
<circle cx="157" cy="799.8" r="1.95" fill="#7fb2ea" stroke="#8a8a8a" stroke-width="0.25" fill-opacity="0.62"/>
<circle cx="174.9" cy="814.9" r="1.95" fill="#7fb2ea" stroke="#8a8a8a" stroke-width="0.25" fill-opacity="0.62"/>
<circle cx="145.6" cy="753" r="1.95" fill="#e3b551" stroke="#8a8a8a" stroke-width="0.25" fill-opacity="0.62"/>
<circle cx="156.1" cy="806.8" r="1.95" fill="#7fb2ea" stroke="#8a8a8a" stroke-width="0.25" fill-opacity="0.62"/>
<circle cx="104.1" cy="801.5" r="1.95" fill="#e3b551" stroke="#8a8a8a" stroke-width="0.25" fill-opacity="0.62"/>
<circle cx="170.1" cy="793.5" r="1.95" fill="#a070b8" stroke="#8a8a8a" stroke-width="0.25" fill-opacity="0.62"/>
<circle cx="105.5" cy="831" r="1.95" fill="#a070b8" stroke="#8a8a8a" stroke-width="0.25" fill-opacity="0.62"/>
<circle cx="172.7" cy="817.7" r="1.95" fill="#4f9d45" stroke="#8a8a8a" stroke-width="0.25" fill-opacity="0.62"/>
<circle cx="141.4" cy="825.7" r="1.95" fill="#7fb2ea" stroke="#8a8a8a" stroke-width="0.25" fill-opacity="0.62"/>
<circle cx="155.1" cy="820.7" r="1.95" fill="#7fb2ea" stroke="#8a8a8a" stroke-width="0.25" fill-opacity="0.62"/>
<circle cx="130.5" cy="816" r="1.95" fill="#7fb2ea" stroke="#8a8a8a" stroke-width="0.25" fill-opacity="0.62"/>
<circle cx="182.8" cy="810.9" r="1.95" fill="#a070b8" stroke="#8a8a8a" stroke-width="0.25" fill-opacity="0.62"/>
<circle cx="188.9" cy="812.9" r="1.95" fill="#a070b8" stroke="#8a8a8a" stroke-width="0.25" fill-opacity="0.62"/>
<circle cx="91.6" cy="804.5" r="1.95" fill="#e3b551" stroke="#8a8a8a" stroke-width="0.25" fill-opacity="0.62"/>
<circle cx="106.9" cy="813.5" r="1.95" fill="#4f9d45" stroke="#8a8a8a" stroke-width="0.25" fill-opacity="0.62"/>
<circle cx="164.6" cy="818.7" r="1.95" fill="#7fb2ea" stroke="#8a8a8a" stroke-width="0.25" fill-opacity="0.62"/>
<circle cx="107.1" cy="782.6" r="1.95" fill="#e3b551" stroke="#8a8a8a" stroke-width="0.25" fill-opacity="0.62"/>
<circle cx="153.2" cy="794.8" r="1.95" fill="#a070b8" stroke="#8a8a8a" stroke-width="0.25" fill-opacity="0.62"/>
<circle cx="126.3" cy="809.6" r="1.95" fill="#e3b551" stroke="#8a8a8a" stroke-width="0.25" fill-opacity="0.62"/>
<circle cx="169.2" cy="825.7" r="1.95" fill="#e3b551" stroke="#8a8a8a" stroke-width="0.25" fill-opacity="0.62"/>
<circle cx="193.8" cy="820.9" r="1.95" fill="#7fb2ea" stroke="#8a8a8a" stroke-width="0.25" fill-opacity="0.62"/>
<circle cx="192.7" cy="811.7" r="1.95" fill="#a070b8" stroke="#8a8a8a" stroke-width="0.25" fill-opacity="0.62"/>
<circle cx="99" cy="797.4" r="1.95" fill="#e3b551" stroke="#8a8a8a" stroke-width="0.25" fill-opacity="0.62"/>
<circle cx="164.4" cy="832.8" r="1.95" fill="#7fb2ea" stroke="#8a8a8a" stroke-width="0.25" fill-opacity="0.62"/>
<circle cx="179.1" cy="812.2" r="1.95" fill="#7fb2ea" stroke="#8a8a8a" stroke-width="0.25" fill-opacity="0.62"/>
<circle cx="135.5" cy="803.1" r="1.95" fill="#a070b8" stroke="#8a8a8a" stroke-width="0.25" fill-opacity="0.62"/>
<circle cx="70.2" cy="801.9" r="1.95" fill="#e3b551" stroke="#8a8a8a" stroke-width="0.25" fill-opacity="0.62"/>
<circle cx="97.3" cy="811.4" r="1.95" fill="#e3b551" stroke="#8a8a8a" stroke-width="0.25" fill-opacity="0.62"/>
<circle cx="159.1" cy="813.8" r="1.95" fill="#7fb2ea" stroke="#8a8a8a" stroke-width="0.25" fill-opacity="0.62"/>
<circle cx="196.4" cy="822.8" r="1.95" fill="#4f9d45" stroke="#8a8a8a" stroke-width="0.25" fill-opacity="0.62"/>
<circle cx="150.7" cy="820.1" r="1.95" fill="#e3b551" stroke="#8a8a8a" stroke-width="0.25" fill-opacity="0.62"/>
<circle cx="72.8" cy="792.5" r="1.95" fill="#e3b551" stroke="#8a8a8a" stroke-width="0.25" fill-opacity="0.62"/>
<circle cx="115.6" cy="813.5" r="1.95" fill="#7fb2ea" stroke="#8a8a8a" stroke-width="0.25" fill-opacity="0.62"/>
<circle cx="136.6" cy="805.8" r="1.95" fill="#7fb2ea" stroke="#8a8a8a" stroke-width="0.25" fill-opacity="0.62"/>
<circle cx="147" cy="807.5" r="1.95" fill="#7fb2ea" stroke="#8a8a8a" stroke-width="0.25" fill-opacity="0.62"/>
<circle cx="148.4" cy="817.2" r="1.95" fill="#7fb2ea" stroke="#8a8a8a" stroke-width="0.25" fill-opacity="0.62"/>
<circle cx="88.3" cy="788.5" r="1.95" fill="#e3b551" stroke="#8a8a8a" stroke-width="0.25" fill-opacity="0.62"/>
<circle cx="78.4" cy="799.7" r="1.95" fill="#e3b551" stroke="#8a8a8a" stroke-width="0.25" fill-opacity="0.62"/>
<circle cx="172.5" cy="798.5" r="1.95" fill="#7fb2ea" stroke="#8a8a8a" stroke-width="0.25" fill-opacity="0.62"/>
<circle cx="150.9" cy="817.5" r="1.95" fill="#7fb2ea" stroke="#8a8a8a" stroke-width="0.25" fill-opacity="0.62"/>
<circle cx="172.4" cy="798.6" r="1.95" fill="#a070b8" stroke="#8a8a8a" stroke-width="0.25" fill-opacity="0.62"/>
<circle cx="160.8" cy="827.8" r="1.95" fill="#7fb2ea" stroke="#8a8a8a" stroke-width="0.25" fill-opacity="0.62"/>
<circle cx="120.7" cy="807.1" r="1.95" fill="#a070b8" stroke="#8a8a8a" stroke-width="0.25" fill-opacity="0.62"/>
<circle cx="49.6" cy="813.2" r="1.95" fill="#4f9d45" stroke="#8a8a8a" stroke-width="0.25" fill-opacity="0.62"/>
<circle cx="126.6" cy="796.9" r="1.95" fill="#e3b551" stroke="#8a8a8a" stroke-width="0.25" fill-opacity="0.62"/>
<circle cx="172.3" cy="810.4" r="1.95" fill="#7fb2ea" stroke="#8a8a8a" stroke-width="0.25" fill-opacity="0.62"/>
<circle cx="157.3" cy="819.3" r="1.95" fill="#7fb2ea" stroke="#8a8a8a" stroke-width="0.25" fill-opacity="0.62"/>
<circle cx="168" cy="820.1" r="1.95" fill="#7fb2ea" stroke="#8a8a8a" stroke-width="0.25" fill-opacity="0.62"/>
<circle cx="107.5" cy="804" r="1.95" fill="#a070b8" stroke="#8a8a8a" stroke-width="0.25" fill-opacity="0.62"/>
<circle cx="197.1" cy="810.2" r="1.95" fill="#7fb2ea" stroke="#8a8a8a" stroke-width="0.25" fill-opacity="0.62"/>
<circle cx="149.2" cy="794.6" r="1.95" fill="#e3b551" stroke="#8a8a8a" stroke-width="0.25" fill-opacity="0.62"/>
<circle cx="191.4" cy="815.8" r="1.95" fill="#7fb2ea" stroke="#8a8a8a" stroke-width="0.25" fill-opacity="0.62"/>
<circle cx="127.9" cy="806.5" r="1.95" fill="#a070b8" stroke="#8a8a8a" stroke-width="0.25" fill-opacity="0.62"/>
<circle cx="158.3" cy="817.9" r="1.95" fill="#7fb2ea" stroke="#8a8a8a" stroke-width="0.25" fill-opacity="0.62"/>
<circle cx="164.4" cy="830.8" r="1.95" fill="#a070b8" stroke="#8a8a8a" stroke-width="0.25" fill-opacity="0.62"/>
<circle cx="92.9" cy="786.3" r="1.95" fill="#e3b551" stroke="#8a8a8a" stroke-width="0.25" fill-opacity="0.62"/>
<circle cx="52.3" cy="814.8" r="1.95" fill="#4f9d45" stroke="#8a8a8a" stroke-width="0.25" fill-opacity="0.62"/>
<circle cx="179" cy="794.7" r="1.95" fill="#e3b551" stroke="#8a8a8a" stroke-width="0.25" fill-opacity="0.62"/>
<circle cx="77.9" cy="816.5" r="1.95" fill="#e3b551" stroke="#8a8a8a" stroke-width="0.25" fill-opacity="0.62"/>
<circle cx="117.8" cy="823.6" r="1.95" fill="#a070b8" stroke="#8a8a8a" stroke-width="0.25" fill-opacity="0.62"/>
<circle cx="90.2" cy="792.4" r="1.95" fill="#e3b551" stroke="#8a8a8a" stroke-width="0.25" fill-opacity="0.62"/>
<circle cx="144" cy="823.1" r="1.95" fill="#e3b551" stroke="#8a8a8a" stroke-width="0.25" fill-opacity="0.62"/>
<circle cx="197" cy="799.9" r="1.95" fill="#a070b8" stroke="#8a8a8a" stroke-width="0.25" fill-opacity="0.62"/>
<circle cx="118.7" cy="821.2" r="1.95" fill="#a070b8" stroke="#8a8a8a" stroke-width="0.25" fill-opacity="0.62"/>
<circle cx="83.3" cy="796.6" r="1.95" fill="#e3b551" stroke="#8a8a8a" stroke-width="0.25" fill-opacity="0.62"/>
<circle cx="135.7" cy="825.6" r="1.95" fill="#a070b8" stroke="#8a8a8a" stroke-width="0.25" fill-opacity="0.62"/>
<circle cx="65.6" cy="780.8" r="1.95" fill="#e3b551" stroke="#8a8a8a" stroke-width="0.25" fill-opacity="0.62"/>
<circle cx="136.1" cy="829.1" r="1.95" fill="#a070b8" stroke="#8a8a8a" stroke-width="0.25" fill-opacity="0.62"/>
<circle cx="121.7" cy="817.9" r="1.95" fill="#a070b8" stroke="#8a8a8a" stroke-width="0.25" fill-opacity="0.62"/>
<circle cx="131.3" cy="821.7" r="1.95" fill="#a070b8" stroke="#8a8a8a" stroke-width="0.25" fill-opacity="0.62"/>
<circle cx="158.4" cy="817.1" r="1.95" fill="#7fb2ea" stroke="#8a8a8a" stroke-width="0.25" fill-opacity="0.62"/>
<circle cx="136.9" cy="807" r="1.95" fill="#7fb2ea" stroke="#8a8a8a" stroke-width="0.25" fill-opacity="0.62"/>
<circle cx="184.8" cy="804.3" r="1.95" fill="#7fb2ea" stroke="#8a8a8a" stroke-width="0.25" fill-opacity="0.62"/>
<circle cx="74.2" cy="801.4" r="1.95" fill="#e3b551" stroke="#8a8a8a" stroke-width="0.25" fill-opacity="0.62"/>
<circle cx="135.6" cy="797.5" r="1.95" fill="#e3b551" stroke="#8a8a8a" stroke-width="0.25" fill-opacity="0.62"/>
<circle cx="113.4" cy="817.4" r="1.95" fill="#7fb2ea" stroke="#8a8a8a" stroke-width="0.25" fill-opacity="0.62"/>
<circle cx="72.2" cy="766.6" r="1.95" fill="#e3b551" stroke="#8a8a8a" stroke-width="0.25" fill-opacity="0.62"/>
<circle cx="62.3" cy="779.5" r="1.95" fill="#e3b551" stroke="#8a8a8a" stroke-width="0.25" fill-opacity="0.62"/>
<circle cx="88.7" cy="791" r="1.95" fill="#e3b551" stroke="#8a8a8a" stroke-width="0.25" fill-opacity="0.62"/>
<circle cx="196.4" cy="807.3" r="1.95" fill="#a070b8" stroke="#8a8a8a" stroke-width="0.25" fill-opacity="0.62"/>
<circle cx="168.8" cy="813.5" r="1.95" fill="#e3b551" stroke="#8a8a8a" stroke-width="0.25" fill-opacity="0.62"/>
<circle cx="75.8" cy="793.9" r="1.95" fill="#e3b551" stroke="#8a8a8a" stroke-width="0.25" fill-opacity="0.62"/>
<circle cx="124.6" cy="821.2" r="1.95" fill="#7fb2ea" stroke="#8a8a8a" stroke-width="0.25" fill-opacity="0.62"/>
<circle cx="137.8" cy="819.6" r="1.95" fill="#7fb2ea" stroke="#8a8a8a" stroke-width="0.25" fill-opacity="0.62"/>
<circle cx="76.5" cy="784.1" r="1.95" fill="#e3b551" stroke="#8a8a8a" stroke-width="0.25" fill-opacity="0.62"/>
<circle cx="122.5" cy="790.5" r="1.95" fill="#e3b551" stroke="#8a8a8a" stroke-width="0.25" fill-opacity="0.62"/>
<circle cx="73.4" cy="745" r="1.95" fill="#e3b551" stroke="#8a8a8a" stroke-width="0.25" fill-opacity="0.62"/>
<circle cx="121.9" cy="808.2" r="1.95" fill="#7fb2ea" stroke="#8a8a8a" stroke-width="0.25" fill-opacity="0.62"/>
<circle cx="100.9" cy="766.1" r="1.95" fill="#e3b551" stroke="#8a8a8a" stroke-width="0.25" fill-opacity="0.62"/>
<circle cx="177.4" cy="812.1" r="1.95" fill="#a070b8" stroke="#8a8a8a" stroke-width="0.25" fill-opacity="0.62"/>
<circle cx="161.2" cy="830.6" r="1.95" fill="#7fb2ea" stroke="#8a8a8a" stroke-width="0.25" fill-opacity="0.62"/>
<circle cx="167.7" cy="811.3" r="1.95" fill="#a070b8" stroke="#8a8a8a" stroke-width="0.25" fill-opacity="0.62"/>
<circle cx="142.2" cy="806.7" r="1.95" fill="#e3b551" stroke="#8a8a8a" stroke-width="0.25" fill-opacity="0.62"/>
<circle cx="162.3" cy="827.7" r="1.95" fill="#7fb2ea" stroke="#8a8a8a" stroke-width="0.25" fill-opacity="0.62"/>
<circle cx="131.9" cy="790.9" r="1.95" fill="#a070b8" stroke="#8a8a8a" stroke-width="0.25" fill-opacity="0.62"/>
<circle cx="185.3" cy="804.3" r="1.95" fill="#7fb2ea" stroke="#8a8a8a" stroke-width="0.25" fill-opacity="0.62"/>
<circle cx="136.5" cy="829" r="1.95" fill="#7fb2ea" stroke="#8a8a8a" stroke-width="0.25" fill-opacity="0.62"/>
<circle cx="178" cy="806.8" r="1.95" fill="#7fb2ea" stroke="#8a8a8a" stroke-width="0.25" fill-opacity="0.62"/>
<circle cx="117.9" cy="832.1" r="1.95" fill="#e3b551" stroke="#8a8a8a" stroke-width="0.25" fill-opacity="0.62"/>
<circle cx="143.2" cy="812.9" r="1.95" fill="#a070b8" stroke="#8a8a8a" stroke-width="0.25" fill-opacity="0.62"/>
<circle cx="171.8" cy="816.3" r="1.95" fill="#7fb2ea" stroke="#8a8a8a" stroke-width="0.25" fill-opacity="0.62"/>
<circle cx="87.5" cy="811.2" r="1.95" fill="#e3b551" stroke="#8a8a8a" stroke-width="0.25" fill-opacity="0.62"/>
<circle cx="101.9" cy="819" r="1.95" fill="#e3b551" stroke="#8a8a8a" stroke-width="0.25" fill-opacity="0.62"/>
<circle cx="148.9" cy="809.9" r="1.95" fill="#a070b8" stroke="#8a8a8a" stroke-width="0.25" fill-opacity="0.62"/>
<circle cx="138" cy="803.8" r="1.95" fill="#a070b8" stroke="#8a8a8a" stroke-width="0.25" fill-opacity="0.62"/>
<circle cx="125.2" cy="807.2" r="1.95" fill="#e3b551" stroke="#8a8a8a" stroke-width="0.25" fill-opacity="0.62"/>
<circle cx="188.1" cy="819.9" r="1.95" fill="#4f9d45" stroke="#8a8a8a" stroke-width="0.25" fill-opacity="0.62"/>
<circle cx="192" cy="822.5" r="1.95" fill="#a070b8" stroke="#8a8a8a" stroke-width="0.25" fill-opacity="0.62"/>
<circle cx="122.9" cy="796" r="1.95" fill="#a070b8" stroke="#8a8a8a" stroke-width="0.25" fill-opacity="0.62"/>
<circle cx="75.2" cy="776.1" r="1.95" fill="#e3b551" stroke="#8a8a8a" stroke-width="0.25" fill-opacity="0.62"/>
<circle cx="117.2" cy="806" r="1.95" fill="#e3b551" stroke="#8a8a8a" stroke-width="0.25" fill-opacity="0.62"/>
<circle cx="127.5" cy="812.6" r="1.95" fill="#4f9d45" stroke="#8a8a8a" stroke-width="0.25" fill-opacity="0.62"/>
<circle cx="134" cy="813.5" r="1.95" fill="#e3b551" stroke="#8a8a8a" stroke-width="0.25" fill-opacity="0.62"/>
<circle cx="110.1" cy="745.9" r="1.95" fill="#a070b8" stroke="#8a8a8a" stroke-width="0.25" fill-opacity="0.62"/>
<circle cx="155.6" cy="818.5" r="1.95" fill="#a070b8" stroke="#8a8a8a" stroke-width="0.25" fill-opacity="0.62"/>
<circle cx="144.7" cy="792.3" r="1.95" fill="#e3b551" stroke="#8a8a8a" stroke-width="0.25" fill-opacity="0.62"/>
<circle cx="145.1" cy="822.2" r="1.95" fill="#7fb2ea" stroke="#8a8a8a" stroke-width="0.25" fill-opacity="0.62"/>
<circle cx="197" cy="826.7" r="1.95" fill="#e3b551" stroke="#8a8a8a" stroke-width="0.25" fill-opacity="0.62"/>
<circle cx="179.5" cy="812.5" r="1.95" fill="#7fb2ea" stroke="#8a8a8a" stroke-width="0.25" fill-opacity="0.62"/>
<circle cx="142.1" cy="804.4" r="1.95" fill="#e3b551" stroke="#8a8a8a" stroke-width="0.25" fill-opacity="0.62"/>
<circle cx="165.4" cy="821.6" r="1.95" fill="#7fb2ea" stroke="#8a8a8a" stroke-width="0.25" fill-opacity="0.62"/>
<circle cx="121.3" cy="809.1" r="1.95" fill="#7fb2ea" stroke="#8a8a8a" stroke-width="0.25" fill-opacity="0.62"/>
<circle cx="82.1" cy="776.8" r="1.95" fill="#e3b551" stroke="#8a8a8a" stroke-width="0.25" fill-opacity="0.62"/>
<circle cx="151.5" cy="817.9" r="1.95" fill="#7fb2ea" stroke="#8a8a8a" stroke-width="0.25" fill-opacity="0.62"/>
<circle cx="149.7" cy="815" r="1.95" fill="#7fb2ea" stroke="#8a8a8a" stroke-width="0.25" fill-opacity="0.62"/>
<circle cx="129" cy="823.9" r="1.95" fill="#7fb2ea" stroke="#8a8a8a" stroke-width="0.25" fill-opacity="0.62"/>
<circle cx="138.7" cy="803.5" r="1.95" fill="#a070b8" stroke="#8a8a8a" stroke-width="0.25" fill-opacity="0.62"/>
<circle cx="130.8" cy="805.7" r="1.95" fill="#7fb2ea" stroke="#8a8a8a" stroke-width="0.25" fill-opacity="0.62"/>
<circle cx="135.9" cy="800.4" r="1.95" fill="#a070b8" stroke="#8a8a8a" stroke-width="0.25" fill-opacity="0.62"/>
<line x1="45.2" y1="805.9" x2="212.5" y2="805.9" stroke="#222" stroke-width="0.9" stroke-dasharray="2.5,2"/>
<line x1="45.2" y1="833.6" x2="212.5" y2="833.6" stroke="#222" stroke-width="0.9" stroke-dasharray="2.5,2"/>
<line x1="45.2" y1="816.1" x2="212.5" y2="816.1" stroke="#3a8a2a" stroke-width="0.8" stroke-dasharray="2.5,2"/>
<line x1="45.2" y1="822.8" x2="212.5" y2="822.8" stroke="#3a8a2a" stroke-width="0.8" stroke-dasharray="2.5,2"/>
<line x1="45.2" y1="818.5" x2="212.5" y2="820.8" stroke="#3a8a2a" stroke-width="1.6"/>
<path d="M45.2 783.4 L212.5 826.9 L212.5 830.5 L45.2 786.4 Z" fill="#cccccc" opacity="0.5"/>
<line x1="45.2" y1="784.9" x2="212.5" y2="828.7" stroke="#2a2a9a" stroke-width="1.6"/>
<text x="45.2" y="710.4" font-size="9.6" textLength="136.5" lengthAdjust="spacingAndGlyphs" fill="#2a2aa0"><tspan font-style="italic">R</tspan> = − 0.52 <tspan font-style="italic">R</tspan><tspan font-size="6.5" dy="-4">2</tspan><tspan dy="4"> = 0.27 </tspan><tspan font-style="italic">p</tspan> &lt; 2.2e-16</text>
<rect x="185.3" y="697.3" width="36.5" height="43.8" fill="#fff" stroke="#333" stroke-width="0.8"/>
<circle cx="192" cy="703.1" r="1.9" fill="#4f9d45"/>
<text x="197" y="705.8" font-size="7.6" fill="#333">HC</text>
<circle cx="192" cy="713.9" r="1.9" fill="#e3b551"/>
<text x="197" y="716.6" font-size="7.6" fill="#333">RRMS</text>
<circle cx="192" cy="724.5" r="1.9" fill="#a070b8"/>
<text x="197" y="727.2" font-size="7.6" fill="#333">SPMS</text>
<circle cx="192" cy="734.7" r="1.9" fill="#7fb2ea"/>
<text x="197" y="737.4" font-size="7.6" fill="#333">PPMS</text>
<text x="222.7" y="850" font-size="8.6" fill="#111" text-anchor="end">n=1040</text>
<text x="231.4" y="495.3" font-size="14.8" font-weight="bold">i</text>
<text x="245" y="494.3" font-size="12.3">CSF NEFL residuals of CSF-predicted CEL#</text>
<rect x="248.3" y="502" width="235.7" height="348.7" fill="#fff"/>
<rect x="248.3" y="502" width="235.7" height="200" fill="url(#igreen)"/>
<rect x="248.3" y="690" width="235.7" height="160.7" fill="url(#ipurp)"/>
<line x1="248.3" y1="502" x2="248.3" y2="851" stroke="#777" stroke-width="1.2"/>
<line x1="248" y1="850.7" x2="484" y2="850.7" stroke="#777" stroke-width="1.2"/>
<text x="252.3" y="517.2" font-size="12.3" fill="#3b7d2c" textLength="220.8" lengthAdjust="spacingAndGlyphs">perivascular infiltrates <tspan font-size="16" dy="0.6">&lt;</tspan><tspan dy="-0.6"> axonal damage</tspan></text>
<text x="253.1" y="844.5" font-size="12.4" fill="#7a3ab8" textLength="222.8" lengthAdjust="spacingAndGlyphs">axonal damage <tspan font-size="16" dy="0.6">&lt;</tspan><tspan dy="-0.6"> perivascular infiltrates</tspan></text>
<text x="241" y="678.3" font-size="9.8" fill="#111" text-anchor="middle" transform="rotate(-90 241 678.3)">CSF NEFL (HC age-adjusted)</text>
<text x="360.7" y="872.8" font-size="9.8" fill="#111" text-anchor="middle">CSF biomarker-predicted Ln(CEL#)</text>
<ellipse cx="280.8" cy="553.7" rx="10" ry="6" transform="rotate(40 280.8 553.7)" fill="#a9a9f0" opacity="0.9"/>
<circle cx="279.5" cy="555" r="7" fill="#fff" stroke="#e07a88" stroke-width="0.8"/>
<circle cx="282.1" cy="552.8" r="2.3" fill="#f6e6a0"/>
<circle cx="282.1" cy="552.8" r="0.8" fill="#e0b040"/>
<circle cx="277.6" cy="557.7" r="2" fill="#f0b4bc"/>
<circle cx="283.9" cy="548.9" r="20.1" fill="none" stroke="#74bc64" stroke-width="1.5"/>
<circle cx="303.1" cy="554.8" r="1.1" fill="#74bc64"/>
<circle cx="293.3" cy="566.7" r="1.1" fill="#74bc64"/>
<circle cx="278" cy="568.1" r="1.1" fill="#74bc64"/>
<circle cx="266.1" cy="558.3" r="1.1" fill="#74bc64"/>
<circle cx="264.7" cy="543" r="1.1" fill="#74bc64"/>
<circle cx="274.5" cy="531.1" r="1.1" fill="#74bc64"/>
<circle cx="289.8" cy="529.7" r="1.1" fill="#74bc64"/>
<circle cx="301.7" cy="539.5" r="1.1" fill="#74bc64"/>
<path d="M350.0 547.9 L354.8 545.5 L365.5 554.1 L362.5 555.1 L371.5 561.6 L368.5 562.5 L375.0 569.5 L363.0 564.5 L366.0 563.5 L357.5 558.0 L360.5 557.0 Z" fill="#ee2020"/>
<path d="M412.0 588.1 L416.6 586.0 L426.9 593.7 L424.0 594.6 L432.6 600.4 L429.8 601.3 L436.0 607.5 L424.5 603.0 L427.4 602.1 L419.2 597.2 L422.1 596.3 Z" fill="#ee2020"/>
<path d="M310.8 601 L451 563.5" fill="none" stroke="#b3b68c" stroke-width="4.8" stroke-linecap="round"/>
<path d="M310.8 601 L451 563.5" fill="none" stroke="#d6d8b2" stroke-width="4.0" stroke-linecap="round"/>
<circle cx="326.4" cy="596.8" r="1.12" fill="#6fae5f"/>
<circle cx="342" cy="592.7" r="1.12" fill="#6fae5f"/>
<circle cx="357.5" cy="588.5" r="1.12" fill="#6fae5f"/>
<circle cx="373.1" cy="584.3" r="1.12" fill="#6fae5f"/>
<circle cx="388.7" cy="580.2" r="1.12" fill="#6fae5f"/>
<circle cx="404.3" cy="576" r="1.12" fill="#6fae5f"/>
<circle cx="419.8" cy="571.8" r="1.12" fill="#6fae5f"/>
<circle cx="435.4" cy="567.7" r="1.12" fill="#6fae5f"/>
<path d="M420 559.5 Q385 563 350 568.5" fill="none" stroke="#c05566" stroke-width="1.7" stroke-dasharray="5,2.2" stroke-linecap="round"/>
<path d="M405 563 Q370 569 336 576" fill="none" stroke="#c05566" stroke-width="1.3" stroke-dasharray="3.5,2.5" stroke-linecap="round"/>
<line x1="335.9" y1="576.8" x2="338.3" y2="574.7" stroke="#c05566" stroke-width="0.9" stroke-linecap="round"/>
<line x1="332.1" y1="580.2" x2="334.3" y2="579.9" stroke="#c05566" stroke-width="1.3" stroke-linecap="round"/>
<line x1="343" y1="589.9" x2="345.6" y2="587.8" stroke="#c05566" stroke-width="1.3" stroke-linecap="round"/>
<line x1="334.7" y1="569.2" x2="335.9" y2="567.9" stroke="#c05566" stroke-width="1.3" stroke-linecap="round"/>
<line x1="323.9" y1="588.5" x2="327.1" y2="588.9" stroke="#c05566" stroke-width="1.1" stroke-linecap="round"/>
<line x1="328.1" y1="571.3" x2="331.4" y2="571.7" stroke="#c05566" stroke-width="1.1" stroke-linecap="round"/>
<line x1="349.3" y1="577.7" x2="350.8" y2="577" stroke="#c05566" stroke-width="1.3" stroke-linecap="round"/>
<line x1="348.6" y1="595.5" x2="350.1" y2="593.9" stroke="#c05566" stroke-width="1.1" stroke-linecap="round"/>
<line x1="326.2" y1="571.8" x2="329.4" y2="571.9" stroke="#c05566" stroke-width="1.3" stroke-linecap="round"/>
<line x1="327.9" y1="594.5" x2="330.9" y2="593" stroke="#c05566" stroke-width="0.9" stroke-linecap="round"/>
<line x1="338.2" y1="563.6" x2="339.9" y2="561.9" stroke="#c05566" stroke-width="0.9" stroke-linecap="round"/>
<line x1="334.6" y1="577.7" x2="336.3" y2="577.6" stroke="#c05566" stroke-width="1.3" stroke-linecap="round"/>
<line x1="326.4" y1="597.8" x2="327.9" y2="597.8" stroke="#c05566" stroke-width="1.1" stroke-linecap="round"/>
<line x1="338.7" y1="585.4" x2="340.2" y2="584.1" stroke="#c05566" stroke-width="1.3" stroke-linecap="round"/>
<line x1="351.9" y1="567.5" x2="355.3" y2="567.5" stroke="#c05566" stroke-width="0.9" stroke-linecap="round"/>
<line x1="326.9" y1="581.7" x2="330" y2="581.9" stroke="#c05566" stroke-width="1.3" stroke-linecap="round"/>
<line x1="339.7" y1="591.7" x2="341.3" y2="590.1" stroke="#c05566" stroke-width="1.3" stroke-linecap="round"/>
<line x1="333" y1="570.8" x2="335.7" y2="568.7" stroke="#c05566" stroke-width="1.3" stroke-linecap="round"/>
<line x1="331.9" y1="579" x2="333.8" y2="577.6" stroke="#c05566" stroke-width="1.1" stroke-linecap="round"/>
<line x1="346.4" y1="574.4" x2="348.6" y2="573.1" stroke="#c05566" stroke-width="0.9" stroke-linecap="round"/>
<line x1="346.2" y1="581.4" x2="348.2" y2="581.4" stroke="#c05566" stroke-width="1.3" stroke-linecap="round"/>
<line x1="324" y1="587" x2="326.1" y2="584.9" stroke="#c05566" stroke-width="1.3" stroke-linecap="round"/>
<line x1="333.2" y1="594.8" x2="335.8" y2="593.7" stroke="#c05566" stroke-width="0.9" stroke-linecap="round"/>
<line x1="342.8" y1="595.4" x2="345" y2="592.8" stroke="#c05566" stroke-width="0.9" stroke-linecap="round"/>
<line x1="329.9" y1="569.1" x2="331.2" y2="567.9" stroke="#c05566" stroke-width="0.9" stroke-linecap="round"/>
<line x1="323.8" y1="570.7" x2="326.3" y2="569.7" stroke="#c05566" stroke-width="1.1" stroke-linecap="round"/>
<line x1="330.6" y1="580.8" x2="333.5" y2="579" stroke="#c05566" stroke-width="1.3" stroke-linecap="round"/>
<line x1="338.7" y1="588.8" x2="340.3" y2="587" stroke="#c05566" stroke-width="1.3" stroke-linecap="round"/>
<line x1="338.9" y1="592.4" x2="341.9" y2="592" stroke="#c05566" stroke-width="1.3" stroke-linecap="round"/>
<line x1="343.5" y1="591.6" x2="345.9" y2="592.2" stroke="#c05566" stroke-width="0.9" stroke-linecap="round"/>
<line x1="349.7" y1="573.2" x2="352" y2="571.2" stroke="#c05566" stroke-width="0.9" stroke-linecap="round"/>
<path d="M440 578 L381 596" fill="none" stroke="#c05566" stroke-width="1.4"/>
<path d="M345 604 L362 599.3" fill="none" stroke="#b0485a" stroke-width="6.6" stroke-linecap="round"/>
<path d="M345 604 L362 599.3" fill="none" stroke="#dc9aa2" stroke-width="5.0" stroke-linecap="round"/>
<path d="M363 598.8 L380 594.2" fill="none" stroke="#b0485a" stroke-width="6.6" stroke-linecap="round"/>
<path d="M363 598.8 L380 594.2" fill="none" stroke="#dc9aa2" stroke-width="5.0" stroke-linecap="round"/>
<path d="M461.5 560.5 L468.3 559.2 L473.9 558.2" fill="none" stroke="#74bc64" stroke-width="1.0" stroke-linecap="round"/>
<path d="M468.3 559.2 L471.9 554.9" fill="none" stroke="#74bc64" stroke-width="0.6" stroke-linecap="round"/>
<path d="M468.3 559.2 L472.9 561.3" fill="none" stroke="#74bc64" stroke-width="0.6" stroke-linecap="round"/>
<path d="M473.9 558.2 L476.8 555.8" fill="none" stroke="#74bc64" stroke-width="0.45" stroke-linecap="round"/>
<path d="M473.9 558.2 L477.5 559.4" fill="none" stroke="#74bc64" stroke-width="0.45" stroke-linecap="round"/>
<path d="M461.5 560.5 L466.4 565.6 L470.4 569.8" fill="none" stroke="#74bc64" stroke-width="1.0" stroke-linecap="round"/>
<path d="M466.4 565.6 L472.2 566.2" fill="none" stroke="#74bc64" stroke-width="0.6" stroke-linecap="round"/>
<path d="M466.4 565.6 L467.2 570.7" fill="none" stroke="#74bc64" stroke-width="0.6" stroke-linecap="round"/>
<path d="M470.4 569.8 L474.1 571.0" fill="none" stroke="#74bc64" stroke-width="0.45" stroke-linecap="round"/>
<path d="M470.4 569.8 L471.4 573.5" fill="none" stroke="#74bc64" stroke-width="0.45" stroke-linecap="round"/>
<path d="M461.5 560.5 L459.8 565.8 L458.4 570.1" fill="none" stroke="#74bc64" stroke-width="1.0" stroke-linecap="round"/>
<path d="M459.8 565.8 L461.5 570.0" fill="none" stroke="#74bc64" stroke-width="0.6" stroke-linecap="round"/>
<path d="M459.8 565.8 L456.6 568.3" fill="none" stroke="#74bc64" stroke-width="0.6" stroke-linecap="round"/>
<path d="M458.4 570.1 L459.0 573.1" fill="none" stroke="#74bc64" stroke-width="0.45" stroke-linecap="round"/>
<path d="M458.4 570.1 L456.2 572.2" fill="none" stroke="#74bc64" stroke-width="0.45" stroke-linecap="round"/>
<path d="M461.5 560.5 L456.0 566.0 L451.6 570.5" fill="none" stroke="#74bc64" stroke-width="1.0" stroke-linecap="round"/>
<path d="M456.0 566.0 L455.5 572.3" fill="none" stroke="#74bc64" stroke-width="0.6" stroke-linecap="round"/>
<path d="M456.0 566.0 L450.5 567.1" fill="none" stroke="#74bc64" stroke-width="0.6" stroke-linecap="round"/>
<path d="M451.6 570.5 L450.4 574.6" fill="none" stroke="#74bc64" stroke-width="0.45" stroke-linecap="round"/>
<path d="M451.6 570.5 L447.5 571.7" fill="none" stroke="#74bc64" stroke-width="0.45" stroke-linecap="round"/>
<path d="M461.5 560.5 L455.7 558.8 L451.0 557.5" fill="none" stroke="#74bc64" stroke-width="1.0" stroke-linecap="round"/>
<path d="M455.7 558.8 L451.2 560.8" fill="none" stroke="#74bc64" stroke-width="0.6" stroke-linecap="round"/>
<path d="M455.7 558.8 L452.9 555.4" fill="none" stroke="#74bc64" stroke-width="0.6" stroke-linecap="round"/>
<path d="M451.0 557.5 L447.7 558.2" fill="none" stroke="#74bc64" stroke-width="0.45" stroke-linecap="round"/>
<path d="M451.0 557.5 L448.6 555.2" fill="none" stroke="#74bc64" stroke-width="0.45" stroke-linecap="round"/>
<path d="M461.5 560.5 L462.3 553.8 L463.0 548.4" fill="none" stroke="#74bc64" stroke-width="1.0" stroke-linecap="round"/>
<path d="M462.3 553.8 L459.3 549.2" fill="none" stroke="#74bc64" stroke-width="0.6" stroke-linecap="round"/>
<path d="M462.3 553.8 L465.5 550.2" fill="none" stroke="#74bc64" stroke-width="0.6" stroke-linecap="round"/>
<path d="M463.0 548.4 L461.6 545.0" fill="none" stroke="#74bc64" stroke-width="0.45" stroke-linecap="round"/>
<path d="M463.0 548.4 L465.1 545.4" fill="none" stroke="#74bc64" stroke-width="0.45" stroke-linecap="round"/>
<path d="M461.5 560.5 L466.8 556.4 L471.1 553.0" fill="none" stroke="#74bc64" stroke-width="1.0" stroke-linecap="round"/>
<path d="M466.8 556.4 L467.9 551.0" fill="none" stroke="#74bc64" stroke-width="0.6" stroke-linecap="round"/>
<path d="M466.8 556.4 L471.7 556.1" fill="none" stroke="#74bc64" stroke-width="0.6" stroke-linecap="round"/>
<path d="M471.1 553.0 L472.6 549.6" fill="none" stroke="#74bc64" stroke-width="0.45" stroke-linecap="round"/>
<path d="M471.1 553.0 L474.8 552.4" fill="none" stroke="#74bc64" stroke-width="0.45" stroke-linecap="round"/>
<circle cx="461.5" cy="560.5" r="4.2" fill="#7cc16c"/>
<circle cx="461.5" cy="560.5" r="1.47" fill="#3a8a3a"/>
<path d="M429.1 557.8 L438.4 555.4 L446.0 553.4" fill="none" stroke="#b85a64" stroke-width="1.5" stroke-linecap="round"/>
<path d="M438.4 555.4 L442.9 549.0" fill="none" stroke="#b85a64" stroke-width="0.8999999999999999" stroke-linecap="round"/>
<path d="M438.4 555.4 L444.9 557.7" fill="none" stroke="#b85a64" stroke-width="0.8999999999999999" stroke-linecap="round"/>
<path d="M446.0 553.4 L449.8 549.8" fill="none" stroke="#b85a64" stroke-width="0.675" stroke-linecap="round"/>
<path d="M446.0 553.4 L451.0 554.7" fill="none" stroke="#b85a64" stroke-width="0.675" stroke-linecap="round"/>
<path d="M429.1 557.8 L432.6 564.4 L435.5 569.8" fill="none" stroke="#b85a64" stroke-width="1.5" stroke-linecap="round"/>
<path d="M432.6 564.4 L438.3 566.7" fill="none" stroke="#b85a64" stroke-width="0.8999999999999999" stroke-linecap="round"/>
<path d="M432.6 564.4 L432.0 569.8" fill="none" stroke="#b85a64" stroke-width="0.8999999999999999" stroke-linecap="round"/>
<path d="M435.5 569.8 L438.9 572.1" fill="none" stroke="#b85a64" stroke-width="0.675" stroke-linecap="round"/>
<path d="M435.5 569.8 L435.5 573.9" fill="none" stroke="#b85a64" stroke-width="0.675" stroke-linecap="round"/>
<path d="M429.1 557.8 L427.3 565.8 L425.8 572.3" fill="none" stroke="#b85a64" stroke-width="1.5" stroke-linecap="round"/>
<path d="M427.3 565.8 L430.4 571.7" fill="none" stroke="#b85a64" stroke-width="0.8999999999999999" stroke-linecap="round"/>
<path d="M427.3 565.8 L422.9 569.8" fill="none" stroke="#b85a64" stroke-width="0.8999999999999999" stroke-linecap="round"/>
<path d="M425.8 572.3 L427.1 576.6" fill="none" stroke="#b85a64" stroke-width="0.675" stroke-linecap="round"/>
<path d="M425.8 572.3 L422.9 575.7" fill="none" stroke="#b85a64" stroke-width="0.675" stroke-linecap="round"/>
<path d="M429.1 557.8 L420.3 561.0 L413.0 563.5" fill="none" stroke="#b85a64" stroke-width="1.5" stroke-linecap="round"/>
<path d="M420.3 561.0 L416.4 567.6" fill="none" stroke="#b85a64" stroke-width="0.8999999999999999" stroke-linecap="round"/>
<path d="M420.3 561.0 L413.7 559.2" fill="none" stroke="#b85a64" stroke-width="0.8999999999999999" stroke-linecap="round"/>
<path d="M413.0 563.5 L409.6 567.3" fill="none" stroke="#b85a64" stroke-width="0.675" stroke-linecap="round"/>
<path d="M413.0 563.5 L408.0 562.7" fill="none" stroke="#b85a64" stroke-width="0.675" stroke-linecap="round"/>
<path d="M429.1 557.8 L422.5 556.7 L417.1 555.8" fill="none" stroke="#b85a64" stroke-width="1.5" stroke-linecap="round"/>
<path d="M422.5 556.7 L417.8 559.5" fill="none" stroke="#b85a64" stroke-width="0.8999999999999999" stroke-linecap="round"/>
<path d="M422.5 556.7 L419.0 553.3" fill="none" stroke="#b85a64" stroke-width="0.8999999999999999" stroke-linecap="round"/>
<path d="M417.1 555.8 L413.6 557.0" fill="none" stroke="#b85a64" stroke-width="0.675" stroke-linecap="round"/>
<path d="M417.1 555.8 L414.2 553.6" fill="none" stroke="#b85a64" stroke-width="0.675" stroke-linecap="round"/>
<path d="M429.1 557.8 L429.2 549.7 L429.3 543.0" fill="none" stroke="#b85a64" stroke-width="1.5" stroke-linecap="round"/>
<path d="M429.2 549.7 L425.0 544.5" fill="none" stroke="#b85a64" stroke-width="0.8999999999999999" stroke-linecap="round"/>
<path d="M429.2 549.7 L432.6 544.8" fill="none" stroke="#b85a64" stroke-width="0.8999999999999999" stroke-linecap="round"/>
<path d="M429.3 543.0 L427.2 539.1" fill="none" stroke="#b85a64" stroke-width="0.675" stroke-linecap="round"/>
<path d="M429.3 543.0 L431.4 539.2" fill="none" stroke="#b85a64" stroke-width="0.675" stroke-linecap="round"/>
<path d="M429.1 557.8 L434.1 553.5 L438.2 549.9" fill="none" stroke="#b85a64" stroke-width="1.5" stroke-linecap="round"/>
<path d="M434.1 553.5 L434.9 548.1" fill="none" stroke="#b85a64" stroke-width="0.8999999999999999" stroke-linecap="round"/>
<path d="M434.1 553.5 L438.9 552.9" fill="none" stroke="#b85a64" stroke-width="0.8999999999999999" stroke-linecap="round"/>
<path d="M438.2 549.9 L439.4 546.6" fill="none" stroke="#b85a64" stroke-width="0.675" stroke-linecap="round"/>
<path d="M438.2 549.9 L441.7 549.2" fill="none" stroke="#b85a64" stroke-width="0.675" stroke-linecap="round"/>
<circle cx="429.1" cy="557.8" r="6" fill="#b85a64"/>
<circle cx="429.1" cy="557.8" r="2.0999999999999996" fill="#8a2a3a"/>
<path d="M442.6 575.4 L452.0 578.5 L459.8 581.1" fill="none" stroke="#b85a64" stroke-width="1.5" stroke-linecap="round"/>
<path d="M452.0 578.5 L459.6 575.5" fill="none" stroke="#b85a64" stroke-width="0.8999999999999999" stroke-linecap="round"/>
<path d="M452.0 578.5 L456.4 584.3" fill="none" stroke="#b85a64" stroke-width="0.8999999999999999" stroke-linecap="round"/>
<path d="M459.8 581.1 L465.1 580.1" fill="none" stroke="#b85a64" stroke-width="0.675" stroke-linecap="round"/>
<path d="M459.8 581.1 L463.5 585.0" fill="none" stroke="#b85a64" stroke-width="0.675" stroke-linecap="round"/>
<path d="M442.6 575.4 L448.3 579.2 L453.0 582.3" fill="none" stroke="#b85a64" stroke-width="1.5" stroke-linecap="round"/>
<path d="M448.3 579.2 L454.0 578.6" fill="none" stroke="#b85a64" stroke-width="0.8999999999999999" stroke-linecap="round"/>
<path d="M448.3 579.2 L450.2 583.9" fill="none" stroke="#b85a64" stroke-width="0.8999999999999999" stroke-linecap="round"/>
<path d="M453.0 582.3 L456.8 582.7" fill="none" stroke="#b85a64" stroke-width="0.675" stroke-linecap="round"/>
<path d="M453.0 582.3 L454.8 585.7" fill="none" stroke="#b85a64" stroke-width="0.675" stroke-linecap="round"/>
<path d="M442.6 575.4 L438.5 583.6 L435.2 590.4" fill="none" stroke="#b85a64" stroke-width="1.5" stroke-linecap="round"/>
<path d="M438.5 583.6 L440.3 590.9" fill="none" stroke="#b85a64" stroke-width="0.8999999999999999" stroke-linecap="round"/>
<path d="M438.5 583.6 L432.7 586.9" fill="none" stroke="#b85a64" stroke-width="0.8999999999999999" stroke-linecap="round"/>
<path d="M435.2 590.4 L435.4 595.4" fill="none" stroke="#b85a64" stroke-width="0.675" stroke-linecap="round"/>
<path d="M435.2 590.4 L431.1 593.3" fill="none" stroke="#b85a64" stroke-width="0.675" stroke-linecap="round"/>
<path d="M442.6 575.4 L435.3 577.9 L429.4 579.9" fill="none" stroke="#b85a64" stroke-width="1.5" stroke-linecap="round"/>
<path d="M435.3 577.9 L432.1 583.3" fill="none" stroke="#b85a64" stroke-width="0.8999999999999999" stroke-linecap="round"/>
<path d="M435.3 577.9 L429.9 576.4" fill="none" stroke="#b85a64" stroke-width="0.8999999999999999" stroke-linecap="round"/>
<path d="M429.4 579.9 L426.6 583.0" fill="none" stroke="#b85a64" stroke-width="0.675" stroke-linecap="round"/>
<path d="M429.4 579.9 L425.3 579.2" fill="none" stroke="#b85a64" stroke-width="0.675" stroke-linecap="round"/>
<path d="M442.6 575.4 L435.0 571.0 L428.8 567.5" fill="none" stroke="#b85a64" stroke-width="1.5" stroke-linecap="round"/>
<path d="M435.0 571.0 L428.0 572.3" fill="none" stroke="#b85a64" stroke-width="0.8999999999999999" stroke-linecap="round"/>
<path d="M435.0 571.0 L432.3 565.3" fill="none" stroke="#b85a64" stroke-width="0.8999999999999999" stroke-linecap="round"/>
<path d="M428.8 567.5 L424.1 567.4" fill="none" stroke="#b85a64" stroke-width="0.675" stroke-linecap="round"/>
<path d="M428.8 567.5 L426.4 563.4" fill="none" stroke="#b85a64" stroke-width="0.675" stroke-linecap="round"/>
<path d="M442.6 575.4 L441.4 568.3 L440.4 562.6" fill="none" stroke="#b85a64" stroke-width="1.5" stroke-linecap="round"/>
<path d="M441.4 568.3 L436.9 564.6" fill="none" stroke="#b85a64" stroke-width="0.8999999999999999" stroke-linecap="round"/>
<path d="M441.4 568.3 L443.6 563.6" fill="none" stroke="#b85a64" stroke-width="0.8999999999999999" stroke-linecap="round"/>
<path d="M440.4 562.6 L438.0 559.5" fill="none" stroke="#b85a64" stroke-width="0.675" stroke-linecap="round"/>
<path d="M440.4 562.6 L441.7 558.9" fill="none" stroke="#b85a64" stroke-width="0.675" stroke-linecap="round"/>
<path d="M442.6 575.4 L447.3 568.9 L451.1 563.6" fill="none" stroke="#b85a64" stroke-width="1.5" stroke-linecap="round"/>
<path d="M447.3 568.9 L446.8 562.4" fill="none" stroke="#b85a64" stroke-width="0.8999999999999999" stroke-linecap="round"/>
<path d="M447.3 568.9 L452.7 567.0" fill="none" stroke="#b85a64" stroke-width="0.8999999999999999" stroke-linecap="round"/>
<path d="M451.1 563.6 L451.6 559.3" fill="none" stroke="#b85a64" stroke-width="0.675" stroke-linecap="round"/>
<path d="M451.1 563.6 L455.0 561.7" fill="none" stroke="#b85a64" stroke-width="0.675" stroke-linecap="round"/>
<circle cx="442.6" cy="575.4" r="6" fill="#b85a64"/>
<circle cx="442.6" cy="575.4" r="2.0999999999999996" fill="#8a2a3a"/>
<path d="M259 753 L473.5 620.5 L473.5 652 L259 757.5 Z" fill="#e4e4e4" opacity="0.85"/>
<circle cx="303.2" cy="720.8" r="2.6" fill="#e6f0e1" stroke="#9fbf95" stroke-width="0.45"/>
<circle cx="305.4" cy="751.4" r="2.6" fill="#eed3f5" stroke="#c39ccd" stroke-width="0.45"/>
<circle cx="287.2" cy="723.9" r="2.6" fill="#e6f0e1" stroke="#9fbf95" stroke-width="0.45"/>
<circle cx="290.9" cy="720.3" r="2.6" fill="#e6f0e1" stroke="#9fbf95" stroke-width="0.45"/>
<circle cx="317.4" cy="742.4" r="2.6" fill="#f5e9f7" stroke="#b896c0" stroke-width="0.45"/>
<circle cx="309.2" cy="686.3" r="2.6" fill="#c8dfc0" stroke="#7faa74" stroke-width="0.45"/>
<circle cx="273.3" cy="742.3" r="2.6" fill="#f8f8f8" stroke="#8a8a8a" stroke-width="0.45"/>
<circle cx="275" cy="731.6" r="2.6" fill="#e6f0e1" stroke="#9fbf95" stroke-width="0.45"/>
<circle cx="293.1" cy="721.6" r="2.6" fill="#e6f0e1" stroke="#9fbf95" stroke-width="0.45"/>
<circle cx="261.6" cy="756.4" r="2.6" fill="#f8f8f8" stroke="#8a8a8a" stroke-width="0.45"/>
<circle cx="296.1" cy="735.2" r="2.6" fill="#f8f8f8" stroke="#8a8a8a" stroke-width="0.45"/>
<circle cx="263.7" cy="755.5" r="2.6" fill="#f8f8f8" stroke="#8a8a8a" stroke-width="0.45"/>
<circle cx="272.2" cy="722.2" r="2.6" fill="#c8dfc0" stroke="#7faa74" stroke-width="0.45"/>
<circle cx="294.3" cy="736.1" r="2.6" fill="#f8f8f8" stroke="#8a8a8a" stroke-width="0.45"/>
<circle cx="264.7" cy="723.2" r="2.6" fill="#c8dfc0" stroke="#7faa74" stroke-width="0.45"/>
<circle cx="294.6" cy="753.1" r="2.6" fill="#f5e9f7" stroke="#b896c0" stroke-width="0.45"/>
<circle cx="364.7" cy="702.3" r="2.6" fill="#f8f8f8" stroke="#8a8a8a" stroke-width="0.45"/>
<circle cx="300" cy="746.3" r="2.6" fill="#f5e9f7" stroke="#b896c0" stroke-width="0.45"/>
<circle cx="285.7" cy="732.8" r="2.6" fill="#e6f0e1" stroke="#9fbf95" stroke-width="0.45"/>
<circle cx="392.3" cy="725.1" r="2.6" fill="#eed3f5" stroke="#c39ccd" stroke-width="0.45"/>
<circle cx="284.1" cy="732.2" r="2.6" fill="#e6f0e1" stroke="#9fbf95" stroke-width="0.45"/>
<circle cx="313.5" cy="727.7" r="2.6" fill="#f8f8f8" stroke="#8a8a8a" stroke-width="0.45"/>
<circle cx="302.3" cy="761" r="2.6" fill="#eed3f5" stroke="#c39ccd" stroke-width="0.45"/>
<circle cx="333.2" cy="701" r="2.6" fill="#e6f0e1" stroke="#9fbf95" stroke-width="0.45"/>
<circle cx="320" cy="679.1" r="2.6" fill="#c8dfc0" stroke="#7faa74" stroke-width="0.45"/>
<circle cx="314.9" cy="716.2" r="2.6" fill="#e6f0e1" stroke="#9fbf95" stroke-width="0.45"/>
<circle cx="276.5" cy="729.2" r="2.6" fill="#e6f0e1" stroke="#9fbf95" stroke-width="0.45"/>
<circle cx="297.3" cy="723.2" r="2.6" fill="#e6f0e1" stroke="#9fbf95" stroke-width="0.45"/>
<circle cx="258.4" cy="714.5" r="2.6" fill="#c8dfc0" stroke="#7faa74" stroke-width="0.45"/>
<circle cx="260.4" cy="771.6" r="2.6" fill="#f5e9f7" stroke="#b896c0" stroke-width="0.45"/>
<circle cx="274.2" cy="719.1" r="2.6" fill="#c8dfc0" stroke="#7faa74" stroke-width="0.45"/>
<circle cx="353.3" cy="722.6" r="2.6" fill="#eed3f5" stroke="#c39ccd" stroke-width="0.45"/>
<circle cx="258.3" cy="738.4" r="2.6" fill="#e6f0e1" stroke="#9fbf95" stroke-width="0.45"/>
<circle cx="280.1" cy="727" r="2.6" fill="#e6f0e1" stroke="#9fbf95" stroke-width="0.45"/>
<circle cx="287.6" cy="745.4" r="2.6" fill="#f8f8f8" stroke="#8a8a8a" stroke-width="0.45"/>
<circle cx="266.7" cy="752.4" r="2.6" fill="#f8f8f8" stroke="#8a8a8a" stroke-width="0.45"/>
<circle cx="330.7" cy="683.7" r="2.6" fill="#c8dfc0" stroke="#7faa74" stroke-width="0.45"/>
<circle cx="280.4" cy="745.1" r="2.6" fill="#f8f8f8" stroke="#8a8a8a" stroke-width="0.45"/>
<circle cx="278.6" cy="760.1" r="2.6" fill="#f5e9f7" stroke="#b896c0" stroke-width="0.45"/>
<circle cx="277.2" cy="741.3" r="2.6" fill="#f8f8f8" stroke="#8a8a8a" stroke-width="0.45"/>
<circle cx="262.5" cy="765.8" r="2.6" fill="#f5e9f7" stroke="#b896c0" stroke-width="0.45"/>
<circle cx="274.7" cy="739.2" r="2.6" fill="#e6f0e1" stroke="#9fbf95" stroke-width="0.45"/>
<circle cx="328.1" cy="716.9" r="2.6" fill="#f8f8f8" stroke="#8a8a8a" stroke-width="0.45"/>
<circle cx="272" cy="737.7" r="2.6" fill="#e6f0e1" stroke="#9fbf95" stroke-width="0.45"/>
<circle cx="286.2" cy="728.5" r="2.6" fill="#e6f0e1" stroke="#9fbf95" stroke-width="0.45"/>
<circle cx="302.6" cy="755.9" r="2.6" fill="#eed3f5" stroke="#c39ccd" stroke-width="0.45"/>
<circle cx="287.2" cy="761" r="2.6" fill="#eed3f5" stroke="#c39ccd" stroke-width="0.45"/>
<circle cx="270.6" cy="762.8" r="2.6" fill="#f5e9f7" stroke="#b896c0" stroke-width="0.45"/>
<circle cx="271.2" cy="744" r="2.6" fill="#f8f8f8" stroke="#8a8a8a" stroke-width="0.45"/>
<circle cx="293" cy="722.7" r="2.6" fill="#e6f0e1" stroke="#9fbf95" stroke-width="0.45"/>
<circle cx="296.9" cy="770.8" r="2.6" fill="#eed3f5" stroke="#c39ccd" stroke-width="0.45"/>
<circle cx="293.6" cy="688.4" r="2.6" fill="#8cba82" stroke="#5f8f55" stroke-width="0.45"/>
<circle cx="328.3" cy="688.8" r="2.6" fill="#c8dfc0" stroke="#7faa74" stroke-width="0.45"/>
<circle cx="294.4" cy="731.4" r="2.6" fill="#f8f8f8" stroke="#8a8a8a" stroke-width="0.45"/>
<circle cx="288.1" cy="735.3" r="2.6" fill="#f8f8f8" stroke="#8a8a8a" stroke-width="0.45"/>
<circle cx="338.2" cy="720.2" r="2.6" fill="#f5e9f7" stroke="#b896c0" stroke-width="0.45"/>
<circle cx="287.6" cy="735" r="2.6" fill="#f8f8f8" stroke="#8a8a8a" stroke-width="0.45"/>
<circle cx="279.2" cy="764.8" r="2.6" fill="#eed3f5" stroke="#c39ccd" stroke-width="0.45"/>
<circle cx="337.3" cy="680.5" r="2.6" fill="#c8dfc0" stroke="#7faa74" stroke-width="0.45"/>
<circle cx="305.2" cy="699.8" r="2.6" fill="#c8dfc0" stroke="#7faa74" stroke-width="0.45"/>
<circle cx="267.6" cy="749.4" r="2.6" fill="#f8f8f8" stroke="#8a8a8a" stroke-width="0.45"/>
<circle cx="264.1" cy="744.7" r="2.6" fill="#e6f0e1" stroke="#9fbf95" stroke-width="0.45"/>
<circle cx="292" cy="731.4" r="2.6" fill="#f8f8f8" stroke="#8a8a8a" stroke-width="0.45"/>
<circle cx="259.6" cy="764.3" r="2.6" fill="#f5e9f7" stroke="#b896c0" stroke-width="0.45"/>
<circle cx="307.7" cy="730.6" r="2.6" fill="#f8f8f8" stroke="#8a8a8a" stroke-width="0.45"/>
<circle cx="280.2" cy="737.9" r="2.6" fill="#f8f8f8" stroke="#8a8a8a" stroke-width="0.45"/>
<circle cx="427.3" cy="673" r="2.6" fill="#f5e9f7" stroke="#b896c0" stroke-width="0.45"/>
<circle cx="282.5" cy="745.9" r="2.6" fill="#f8f8f8" stroke="#8a8a8a" stroke-width="0.45"/>
<circle cx="279.7" cy="729.1" r="2.6" fill="#e6f0e1" stroke="#9fbf95" stroke-width="0.45"/>
<circle cx="294" cy="754.2" r="2.6" fill="#f5e9f7" stroke="#b896c0" stroke-width="0.45"/>
<circle cx="353.5" cy="686.3" r="2.6" fill="#e6f0e1" stroke="#9fbf95" stroke-width="0.45"/>
<circle cx="302.5" cy="709.6" r="2.6" fill="#c8dfc0" stroke="#7faa74" stroke-width="0.45"/>
<circle cx="293.8" cy="710.2" r="2.6" fill="#c8dfc0" stroke="#7faa74" stroke-width="0.45"/>
<circle cx="303.3" cy="700.8" r="2.6" fill="#c8dfc0" stroke="#7faa74" stroke-width="0.45"/>
<circle cx="315.3" cy="706.2" r="2.6" fill="#e6f0e1" stroke="#9fbf95" stroke-width="0.45"/>
<circle cx="307" cy="752.6" r="2.6" fill="#eed3f5" stroke="#c39ccd" stroke-width="0.45"/>
<circle cx="318.6" cy="719.1" r="2.6" fill="#f8f8f8" stroke="#8a8a8a" stroke-width="0.45"/>
<circle cx="303" cy="701.7" r="2.6" fill="#c8dfc0" stroke="#7faa74" stroke-width="0.45"/>
<circle cx="313.8" cy="743.9" r="2.6" fill="#f5e9f7" stroke="#b896c0" stroke-width="0.45"/>
<circle cx="318.1" cy="706.9" r="2.6" fill="#e6f0e1" stroke="#9fbf95" stroke-width="0.45"/>
<circle cx="282.1" cy="766.7" r="2.6" fill="#eed3f5" stroke="#c39ccd" stroke-width="0.45"/>
<circle cx="310.7" cy="693.4" r="2.6" fill="#c8dfc0" stroke="#7faa74" stroke-width="0.45"/>
<circle cx="304" cy="716.8" r="2.6" fill="#e6f0e1" stroke="#9fbf95" stroke-width="0.45"/>
<circle cx="269.1" cy="754.8" r="2.6" fill="#f8f8f8" stroke="#8a8a8a" stroke-width="0.45"/>
<circle cx="273.1" cy="743.6" r="2.6" fill="#f8f8f8" stroke="#8a8a8a" stroke-width="0.45"/>
<circle cx="281.7" cy="715.4" r="2.6" fill="#c8dfc0" stroke="#7faa74" stroke-width="0.45"/>
<circle cx="281.2" cy="742.5" r="2.6" fill="#f8f8f8" stroke="#8a8a8a" stroke-width="0.45"/>
<circle cx="417.6" cy="684.1" r="2.6" fill="#f5e9f7" stroke="#b896c0" stroke-width="0.45"/>
<circle cx="326.6" cy="722.2" r="2.6" fill="#f8f8f8" stroke="#8a8a8a" stroke-width="0.45"/>
<circle cx="266.5" cy="724" r="2.6" fill="#c8dfc0" stroke="#7faa74" stroke-width="0.45"/>
<circle cx="275.7" cy="751.1" r="2.6" fill="#f8f8f8" stroke="#8a8a8a" stroke-width="0.45"/>
<circle cx="280.3" cy="729.6" r="2.6" fill="#e6f0e1" stroke="#9fbf95" stroke-width="0.45"/>
<circle cx="261" cy="759.3" r="2.6" fill="#f8f8f8" stroke="#8a8a8a" stroke-width="0.45"/>
<circle cx="326.5" cy="731.8" r="2.6" fill="#f5e9f7" stroke="#b896c0" stroke-width="0.45"/>
<circle cx="284.3" cy="741.4" r="2.6" fill="#f8f8f8" stroke="#8a8a8a" stroke-width="0.45"/>
<circle cx="377.1" cy="661.3" r="2.6" fill="#c8dfc0" stroke="#7faa74" stroke-width="0.45"/>
<circle cx="335.6" cy="733.7" r="2.6" fill="#eed3f5" stroke="#c39ccd" stroke-width="0.45"/>
<circle cx="282.9" cy="708.9" r="2.6" fill="#c8dfc0" stroke="#7faa74" stroke-width="0.45"/>
<circle cx="278.7" cy="742.6" r="2.6" fill="#f8f8f8" stroke="#8a8a8a" stroke-width="0.45"/>
<circle cx="278.8" cy="750.9" r="2.6" fill="#f8f8f8" stroke="#8a8a8a" stroke-width="0.45"/>
<circle cx="309.6" cy="723.9" r="2.6" fill="#f8f8f8" stroke="#8a8a8a" stroke-width="0.45"/>
<circle cx="296" cy="740.7" r="2.6" fill="#f8f8f8" stroke="#8a8a8a" stroke-width="0.45"/>
<circle cx="320.9" cy="703.8" r="2.6" fill="#e6f0e1" stroke="#9fbf95" stroke-width="0.45"/>
<circle cx="348.8" cy="693" r="2.6" fill="#e6f0e1" stroke="#9fbf95" stroke-width="0.45"/>
<circle cx="284.4" cy="698.1" r="2.6" fill="#c8dfc0" stroke="#7faa74" stroke-width="0.45"/>
<circle cx="287.3" cy="753.3" r="2.6" fill="#f5e9f7" stroke="#b896c0" stroke-width="0.45"/>
<circle cx="272.9" cy="727" r="2.6" fill="#c8dfc0" stroke="#7faa74" stroke-width="0.45"/>
<circle cx="322.7" cy="729.9" r="2.6" fill="#f5e9f7" stroke="#b896c0" stroke-width="0.45"/>
<circle cx="361" cy="704.5" r="2.6" fill="#f8f8f8" stroke="#8a8a8a" stroke-width="0.45"/>
<circle cx="286.2" cy="725.3" r="2.6" fill="#e6f0e1" stroke="#9fbf95" stroke-width="0.45"/>
<circle cx="324.6" cy="710.6" r="2.6" fill="#e6f0e1" stroke="#9fbf95" stroke-width="0.45"/>
<circle cx="268.7" cy="802.4" r="2.6" fill="#eed3f5" stroke="#c39ccd" stroke-width="0.45"/>
<circle cx="289.7" cy="738.5" r="2.6" fill="#f8f8f8" stroke="#8a8a8a" stroke-width="0.45"/>
<circle cx="265.3" cy="722.2" r="2.6" fill="#c8dfc0" stroke="#7faa74" stroke-width="0.45"/>
<circle cx="316.1" cy="708.2" r="2.6" fill="#e6f0e1" stroke="#9fbf95" stroke-width="0.45"/>
<circle cx="257.1" cy="769.8" r="2.6" fill="#f5e9f7" stroke="#b896c0" stroke-width="0.45"/>
<circle cx="370.3" cy="698.2" r="2.6" fill="#f8f8f8" stroke="#8a8a8a" stroke-width="0.45"/>
<circle cx="324.4" cy="708.9" r="2.6" fill="#e6f0e1" stroke="#9fbf95" stroke-width="0.45"/>
<circle cx="287" cy="732.8" r="2.6" fill="#f8f8f8" stroke="#8a8a8a" stroke-width="0.45"/>
<circle cx="284.1" cy="718.1" r="2.6" fill="#c8dfc0" stroke="#7faa74" stroke-width="0.45"/>
<circle cx="288.4" cy="717.5" r="2.6" fill="#c8dfc0" stroke="#7faa74" stroke-width="0.45"/>
<circle cx="283.2" cy="699.2" r="2.6" fill="#c8dfc0" stroke="#7faa74" stroke-width="0.45"/>
<circle cx="280.5" cy="747.9" r="2.6" fill="#f8f8f8" stroke="#8a8a8a" stroke-width="0.45"/>
<circle cx="277" cy="724.5" r="2.6" fill="#c8dfc0" stroke="#7faa74" stroke-width="0.45"/>
<circle cx="448.8" cy="661.5" r="2.6" fill="#f5e9f7" stroke="#b896c0" stroke-width="0.45"/>
<circle cx="311" cy="717.5" r="2.6" fill="#e6f0e1" stroke="#9fbf95" stroke-width="0.45"/>
<circle cx="266.2" cy="735.9" r="2.6" fill="#e6f0e1" stroke="#9fbf95" stroke-width="0.45"/>
<circle cx="345.4" cy="738.2" r="2.6" fill="#eed3f5" stroke="#c39ccd" stroke-width="0.45"/>
<circle cx="299.3" cy="769.9" r="2.6" fill="#eed3f5" stroke="#c39ccd" stroke-width="0.45"/>
<circle cx="317.8" cy="715.1" r="2.6" fill="#e6f0e1" stroke="#9fbf95" stroke-width="0.45"/>
<circle cx="261.5" cy="726.7" r="2.6" fill="#c8dfc0" stroke="#7faa74" stroke-width="0.45"/>
<circle cx="414.5" cy="639.7" r="2.6" fill="#c8dfc0" stroke="#7faa74" stroke-width="0.45"/>
<circle cx="327.2" cy="696.3" r="2.6" fill="#c8dfc0" stroke="#7faa74" stroke-width="0.45"/>
<circle cx="326" cy="719.8" r="2.6" fill="#f8f8f8" stroke="#8a8a8a" stroke-width="0.45"/>
<circle cx="299.2" cy="714.9" r="2.6" fill="#e6f0e1" stroke="#9fbf95" stroke-width="0.45"/>
<circle cx="282" cy="746.1" r="2.6" fill="#f8f8f8" stroke="#8a8a8a" stroke-width="0.45"/>
<circle cx="275.1" cy="743.9" r="2.6" fill="#f8f8f8" stroke="#8a8a8a" stroke-width="0.45"/>
<circle cx="271.6" cy="757.9" r="2.6" fill="#f5e9f7" stroke="#b896c0" stroke-width="0.45"/>
<circle cx="268" cy="753.6" r="2.6" fill="#f8f8f8" stroke="#8a8a8a" stroke-width="0.45"/>
<circle cx="302.9" cy="751.3" r="2.6" fill="#eed3f5" stroke="#c39ccd" stroke-width="0.45"/>
<circle cx="278.8" cy="719.1" r="2.6" fill="#c8dfc0" stroke="#7faa74" stroke-width="0.45"/>
<circle cx="257.5" cy="739.7" r="2.6" fill="#e6f0e1" stroke="#9fbf95" stroke-width="0.45"/>
<circle cx="320.3" cy="741.8" r="2.6" fill="#eed3f5" stroke="#c39ccd" stroke-width="0.45"/>
<circle cx="266.7" cy="738.4" r="2.6" fill="#e6f0e1" stroke="#9fbf95" stroke-width="0.45"/>
<circle cx="262.5" cy="751.3" r="2.6" fill="#f8f8f8" stroke="#8a8a8a" stroke-width="0.45"/>
<circle cx="286.8" cy="762.2" r="2.6" fill="#eed3f5" stroke="#c39ccd" stroke-width="0.45"/>
<circle cx="308.7" cy="706.6" r="2.6" fill="#c8dfc0" stroke="#7faa74" stroke-width="0.45"/>
<circle cx="308.5" cy="688.8" r="2.6" fill="#c8dfc0" stroke="#7faa74" stroke-width="0.45"/>
<circle cx="315.9" cy="731.8" r="2.6" fill="#f5e9f7" stroke="#b896c0" stroke-width="0.45"/>
<circle cx="288.5" cy="732.7" r="2.6" fill="#f8f8f8" stroke="#8a8a8a" stroke-width="0.45"/>
<circle cx="347.2" cy="700.7" r="2.6" fill="#f8f8f8" stroke="#8a8a8a" stroke-width="0.45"/>
<circle cx="401.2" cy="665.2" r="2.6" fill="#e6f0e1" stroke="#9fbf95" stroke-width="0.45"/>
<circle cx="318.5" cy="719.2" r="2.6" fill="#f8f8f8" stroke="#8a8a8a" stroke-width="0.45"/>
<circle cx="279.9" cy="722.3" r="2.6" fill="#c8dfc0" stroke="#7faa74" stroke-width="0.45"/>
<circle cx="269.7" cy="745.1" r="2.6" fill="#f8f8f8" stroke="#8a8a8a" stroke-width="0.45"/>
<circle cx="313.7" cy="723.3" r="2.6" fill="#f8f8f8" stroke="#8a8a8a" stroke-width="0.45"/>
<circle cx="297.3" cy="748" r="2.6" fill="#f5e9f7" stroke="#b896c0" stroke-width="0.45"/>
<circle cx="294.1" cy="766.7" r="2.6" fill="#eed3f5" stroke="#c39ccd" stroke-width="0.45"/>
<circle cx="263.7" cy="731.8" r="2.6" fill="#c8dfc0" stroke="#7faa74" stroke-width="0.45"/>
<circle cx="294.5" cy="727.9" r="2.6" fill="#e6f0e1" stroke="#9fbf95" stroke-width="0.45"/>
<circle cx="284.8" cy="768.1" r="2.6" fill="#eed3f5" stroke="#c39ccd" stroke-width="0.45"/>
<circle cx="275.1" cy="731.5" r="2.6" fill="#e6f0e1" stroke="#9fbf95" stroke-width="0.45"/>
<circle cx="302.5" cy="733.5" r="2.6" fill="#f8f8f8" stroke="#8a8a8a" stroke-width="0.45"/>
<circle cx="287.9" cy="714.3" r="2.6" fill="#c8dfc0" stroke="#7faa74" stroke-width="0.45"/>
<circle cx="267.2" cy="736.3" r="2.6" fill="#e6f0e1" stroke="#9fbf95" stroke-width="0.45"/>
<circle cx="276.3" cy="747.3" r="2.6" fill="#f8f8f8" stroke="#8a8a8a" stroke-width="0.45"/>
<circle cx="294.8" cy="721.1" r="2.6" fill="#e6f0e1" stroke="#9fbf95" stroke-width="0.45"/>
<circle cx="306.8" cy="749.5" r="2.6" fill="#eed3f5" stroke="#c39ccd" stroke-width="0.45"/>
<circle cx="275.8" cy="738.3" r="2.6" fill="#e6f0e1" stroke="#9fbf95" stroke-width="0.45"/>
<circle cx="270.8" cy="740.1" r="2.6" fill="#e6f0e1" stroke="#9fbf95" stroke-width="0.45"/>
<circle cx="278" cy="730.9" r="2.6" fill="#e6f0e1" stroke="#9fbf95" stroke-width="0.45"/>
<circle cx="284.5" cy="716.8" r="2.6" fill="#c8dfc0" stroke="#7faa74" stroke-width="0.45"/>
<circle cx="275.3" cy="757.2" r="2.6" fill="#f5e9f7" stroke="#b896c0" stroke-width="0.45"/>
<circle cx="268.5" cy="715" r="2.6" fill="#c8dfc0" stroke="#7faa74" stroke-width="0.45"/>
<circle cx="280.6" cy="718.4" r="2.6" fill="#c8dfc0" stroke="#7faa74" stroke-width="0.45"/>
<circle cx="303.3" cy="719.6" r="2.6" fill="#e6f0e1" stroke="#9fbf95" stroke-width="0.45"/>
<circle cx="307.7" cy="701.1" r="2.6" fill="#c8dfc0" stroke="#7faa74" stroke-width="0.45"/>
<circle cx="306.4" cy="714.4" r="2.6" fill="#e6f0e1" stroke="#9fbf95" stroke-width="0.45"/>
<circle cx="272.1" cy="752.6" r="2.6" fill="#f8f8f8" stroke="#8a8a8a" stroke-width="0.45"/>
<circle cx="260.1" cy="731.2" r="2.6" fill="#c8dfc0" stroke="#7faa74" stroke-width="0.45"/>
<circle cx="277.1" cy="741.3" r="2.6" fill="#f8f8f8" stroke="#8a8a8a" stroke-width="0.45"/>
<circle cx="297.5" cy="736.6" r="2.6" fill="#f8f8f8" stroke="#8a8a8a" stroke-width="0.45"/>
<circle cx="309.3" cy="713.9" r="2.6" fill="#e6f0e1" stroke="#9fbf95" stroke-width="0.45"/>
<circle cx="289" cy="747.4" r="2.6" fill="#f5e9f7" stroke="#b896c0" stroke-width="0.45"/>
<circle cx="296.7" cy="729.1" r="2.6" fill="#f8f8f8" stroke="#8a8a8a" stroke-width="0.45"/>
<circle cx="303" cy="723.7" r="2.6" fill="#f8f8f8" stroke="#8a8a8a" stroke-width="0.45"/>
<circle cx="438" cy="636" r="2.6" fill="#c8dfc0" stroke="#7faa74" stroke-width="0.45"/>
<circle cx="284" cy="728" r="2.6" fill="#e6f0e1" stroke="#9fbf95" stroke-width="0.45"/>
<circle cx="280.9" cy="762.4" r="2.6" fill="#f5e9f7" stroke="#b896c0" stroke-width="0.45"/>
<circle cx="276.3" cy="750.1" r="2.6" fill="#f8f8f8" stroke="#8a8a8a" stroke-width="0.45"/>
<circle cx="287.9" cy="708.9" r="2.6" fill="#c8dfc0" stroke="#7faa74" stroke-width="0.45"/>
<circle cx="275.9" cy="739.1" r="2.6" fill="#f8f8f8" stroke="#8a8a8a" stroke-width="0.45"/>
<circle cx="270" cy="724" r="2.6" fill="#c8dfc0" stroke="#7faa74" stroke-width="0.45"/>
<circle cx="274" cy="769" r="2.6" fill="#eed3f5" stroke="#c39ccd" stroke-width="0.45"/>
<circle cx="302.8" cy="681.5" r="2.6" fill="#8cba82" stroke="#5f8f55" stroke-width="0.45"/>
<circle cx="273.7" cy="774.3" r="2.6" fill="#eed3f5" stroke="#c39ccd" stroke-width="0.45"/>
<circle cx="274" cy="733.9" r="2.6" fill="#e6f0e1" stroke="#9fbf95" stroke-width="0.45"/>
<circle cx="284.8" cy="751.3" r="2.6" fill="#f5e9f7" stroke="#b896c0" stroke-width="0.45"/>
<circle cx="310.6" cy="724.7" r="2.6" fill="#f8f8f8" stroke="#8a8a8a" stroke-width="0.45"/>
<circle cx="292.5" cy="735.3" r="2.6" fill="#f8f8f8" stroke="#8a8a8a" stroke-width="0.45"/>
<circle cx="275.9" cy="745" r="2.6" fill="#f8f8f8" stroke="#8a8a8a" stroke-width="0.45"/>
<circle cx="260.7" cy="751.3" r="2.6" fill="#f8f8f8" stroke="#8a8a8a" stroke-width="0.45"/>
<circle cx="286.9" cy="737.1" r="2.6" fill="#f8f8f8" stroke="#8a8a8a" stroke-width="0.45"/>
<circle cx="309" cy="710.5" r="2.6" fill="#e6f0e1" stroke="#9fbf95" stroke-width="0.45"/>
<circle cx="308.7" cy="718.2" r="2.6" fill="#e6f0e1" stroke="#9fbf95" stroke-width="0.45"/>
<circle cx="272.1" cy="750.1" r="2.6" fill="#f8f8f8" stroke="#8a8a8a" stroke-width="0.45"/>
<circle cx="300.2" cy="722.8" r="2.6" fill="#e6f0e1" stroke="#9fbf95" stroke-width="0.45"/>
<circle cx="313" cy="747.8" r="2.6" fill="#eed3f5" stroke="#c39ccd" stroke-width="0.45"/>
<circle cx="316.3" cy="731.2" r="2.6" fill="#f5e9f7" stroke="#b896c0" stroke-width="0.45"/>
<circle cx="310.5" cy="722.6" r="2.6" fill="#f8f8f8" stroke="#8a8a8a" stroke-width="0.45"/>
<circle cx="286.2" cy="727.4" r="2.6" fill="#e6f0e1" stroke="#9fbf95" stroke-width="0.45"/>
<circle cx="277.8" cy="776.6" r="2.6" fill="#eed3f5" stroke="#c39ccd" stroke-width="0.45"/>
<circle cx="268.1" cy="740.7" r="2.6" fill="#e6f0e1" stroke="#9fbf95" stroke-width="0.45"/>
<circle cx="260.8" cy="748.6" r="2.6" fill="#f8f8f8" stroke="#8a8a8a" stroke-width="0.45"/>
<circle cx="306.1" cy="724.5" r="2.6" fill="#f8f8f8" stroke="#8a8a8a" stroke-width="0.45"/>
<circle cx="334.4" cy="740.2" r="2.6" fill="#eed3f5" stroke="#c39ccd" stroke-width="0.45"/>
<circle cx="300.4" cy="714" r="2.6" fill="#c8dfc0" stroke="#7faa74" stroke-width="0.45"/>
<circle cx="286.6" cy="690.5" r="2.6" fill="#8cba82" stroke="#5f8f55" stroke-width="0.45"/>
<circle cx="287.5" cy="741.8" r="2.6" fill="#f8f8f8" stroke="#8a8a8a" stroke-width="0.45"/>
<circle cx="277.8" cy="714.4" r="2.6" fill="#c8dfc0" stroke="#7faa74" stroke-width="0.45"/>
<circle cx="292.3" cy="768.2" r="2.6" fill="#eed3f5" stroke="#c39ccd" stroke-width="0.45"/>
<circle cx="257.7" cy="775" r="2.6" fill="#f5e9f7" stroke="#b896c0" stroke-width="0.45"/>
<circle cx="283.7" cy="759.2" r="2.6" fill="#f5e9f7" stroke="#b896c0" stroke-width="0.45"/>
<circle cx="289.9" cy="745.6" r="2.6" fill="#f8f8f8" stroke="#8a8a8a" stroke-width="0.45"/>
<circle cx="312.6" cy="724.4" r="2.6" fill="#f8f8f8" stroke="#8a8a8a" stroke-width="0.45"/>
<circle cx="331.2" cy="682.7" r="2.6" fill="#c8dfc0" stroke="#7faa74" stroke-width="0.45"/>
<circle cx="264.9" cy="722" r="2.6" fill="#c8dfc0" stroke="#7faa74" stroke-width="0.45"/>
<circle cx="285.5" cy="722.8" r="2.6" fill="#e6f0e1" stroke="#9fbf95" stroke-width="0.45"/>
<circle cx="276.7" cy="710.8" r="2.6" fill="#c8dfc0" stroke="#7faa74" stroke-width="0.45"/>
<circle cx="342.8" cy="721.3" r="2.6" fill="#f5e9f7" stroke="#b896c0" stroke-width="0.45"/>
<circle cx="288.2" cy="692.5" r="2.6" fill="#8cba82" stroke="#5f8f55" stroke-width="0.45"/>
<circle cx="276.4" cy="770.2" r="2.6" fill="#eed3f5" stroke="#c39ccd" stroke-width="0.45"/>
<circle cx="288.2" cy="719.3" r="2.6" fill="#c8dfc0" stroke="#7faa74" stroke-width="0.45"/>
<circle cx="280.7" cy="721.4" r="2.6" fill="#c8dfc0" stroke="#7faa74" stroke-width="0.45"/>
<circle cx="332.7" cy="735.3" r="2.6" fill="#eed3f5" stroke="#c39ccd" stroke-width="0.45"/>
<circle cx="303.1" cy="731.2" r="2.6" fill="#f8f8f8" stroke="#8a8a8a" stroke-width="0.45"/>
<circle cx="270.7" cy="780.8" r="2.6" fill="#eed3f5" stroke="#c39ccd" stroke-width="0.45"/>
<circle cx="306.7" cy="729.2" r="2.6" fill="#f8f8f8" stroke="#8a8a8a" stroke-width="0.45"/>
<circle cx="282.8" cy="777.7" r="2.6" fill="#eed3f5" stroke="#c39ccd" stroke-width="0.45"/>
<circle cx="288.7" cy="690.9" r="2.6" fill="#8cba82" stroke="#5f8f55" stroke-width="0.45"/>
<circle cx="287" cy="646.8" r="2.6" fill="#8cba82" stroke="#5f8f55" stroke-width="0.45"/>
<circle cx="304.3" cy="637.3" r="2.6" fill="#8cba82" stroke="#5f8f55" stroke-width="0.45"/>
<circle cx="331.5" cy="628.3" r="2.6" fill="#8cba82" stroke="#5f8f55" stroke-width="0.45"/>
<circle cx="335.8" cy="627.5" r="2.6" fill="#8cba82" stroke="#5f8f55" stroke-width="0.45"/>
<circle cx="372" cy="614.5" r="2.6" fill="#8cba82" stroke="#5f8f55" stroke-width="0.45"/>
<circle cx="348.4" cy="624.7" r="2.6" fill="#8cba82" stroke="#5f8f55" stroke-width="0.45"/>
<circle cx="380.6" cy="631" r="2.6" fill="#c8dfc0" stroke="#7faa74" stroke-width="0.45"/>
<circle cx="439.1" cy="629.6" r="2.6" fill="#f7f7f7" stroke="#999" stroke-width="0.45"/>
<circle cx="417.8" cy="653.7" r="2.6" fill="#f7f7f7" stroke="#999" stroke-width="0.45"/>
<circle cx="420.5" cy="662" r="2.6" fill="#f7f7f7" stroke="#999" stroke-width="0.45"/>
<circle cx="473.5" cy="672" r="2.6" fill="#ecd0f3" stroke="#c39ccd" stroke-width="0.45"/>
<circle cx="440.8" cy="682.6" r="2.6" fill="#ecd0f3" stroke="#c39ccd" stroke-width="0.45"/>
<circle cx="409" cy="689" r="2.6" fill="#ecd0f3" stroke="#c39ccd" stroke-width="0.45"/>
<circle cx="389" cy="702" r="2.6" fill="#ecd0f3" stroke="#c39ccd" stroke-width="0.45"/>
<circle cx="408" cy="715" r="2.6" fill="#ecd0f3" stroke="#c39ccd" stroke-width="0.45"/>
<circle cx="378" cy="718" r="2.6" fill="#ecd0f3" stroke="#c39ccd" stroke-width="0.45"/>
<circle cx="364.1" cy="723.9" r="2.6" fill="#ecd0f3" stroke="#c39ccd" stroke-width="0.45"/>
<circle cx="336.8" cy="774" r="2.6" fill="#ecd0f3" stroke="#c39ccd" stroke-width="0.45"/>
<circle cx="350" cy="732" r="2.6" fill="#ecd0f3" stroke="#c39ccd" stroke-width="0.45"/>
<circle cx="342" cy="755" r="2.6" fill="#ecd0f3" stroke="#c39ccd" stroke-width="0.45"/>
<circle cx="325" cy="775" r="2.6" fill="#ecd0f3" stroke="#c39ccd" stroke-width="0.45"/>
<circle cx="310" cy="781" r="2.6" fill="#ecd0f3" stroke="#c39ccd" stroke-width="0.45"/>
<circle cx="300" cy="790" r="2.6" fill="#ecd0f3" stroke="#c39ccd" stroke-width="0.45"/>
<circle cx="268" cy="800" r="2.6" fill="#ecd0f3" stroke="#c39ccd" stroke-width="0.45"/>
<circle cx="276" cy="803" r="2.6" fill="#ecd0f3" stroke="#c39ccd" stroke-width="0.45"/>
<circle cx="330" cy="653" r="2.6" fill="#8cba82" stroke="#5f8f55" stroke-width="0.45"/>
<circle cx="297" cy="640" r="2.6" fill="#8cba82" stroke="#5f8f55" stroke-width="0.45"/>
<circle cx="287" cy="700" r="2.6" fill="#c8dfc0" stroke="#7faa74" stroke-width="0.45"/>
<circle cx="266" cy="695" r="2.6" fill="#8cba82" stroke="#5f8f55" stroke-width="0.45"/>
<circle cx="263" cy="704" r="2.6" fill="#8cba82" stroke="#5f8f55" stroke-width="0.45"/>
<circle cx="273" cy="706" r="2.6" fill="#c8dfc0" stroke="#7faa74" stroke-width="0.45"/>
<line x1="259" y1="755.4" x2="473.5" y2="634.5" stroke="#111" stroke-width="1.2"/>
<line x1="348.4" y1="624.7" x2="348.4" y2="703.9" stroke="#d42020" stroke-width="1.3"/>
<line x1="380.6" y1="631" x2="380.6" y2="685.3" stroke="#d42020" stroke-width="1.3"/>
<line x1="364.1" y1="699.3" x2="364.1" y2="723.9" stroke="#d42020" stroke-width="1.3"/>
<line x1="336.8" y1="714.4" x2="336.8" y2="774" stroke="#d42020" stroke-width="1.3"/>
<circle cx="348.4" cy="624.7" r="2.6" fill="#8cba82" stroke="#5f8f55" stroke-width="0.45"/>
<circle cx="380.6" cy="631" r="2.6" fill="#c8dfc0" stroke="#7faa74" stroke-width="0.45"/>
<circle cx="364.1" cy="723.9" r="2.6" fill="#ecd0f3" stroke="#c39ccd" stroke-width="0.45"/>
<circle cx="336.8" cy="774" r="2.6" fill="#ecd0f3" stroke="#c39ccd" stroke-width="0.45"/>
<text x="385.2" y="648.5" font-size="9.9" fill="#d42020">residuals</text>
<text x="480.5" y="737.9" font-size="8.6" text-anchor="end" fill="#111">R=0.65, R<tspan font-size="5.5" dy="-3">2</tspan><tspan dy="3">=0.42, p&lt;2x10</tspan><tspan font-size="5.5" dy="-3">-16</tspan></text>
<text x="480.5" y="747.7" font-size="8.6" fill="#111" text-anchor="end">n=282</text>
<path d="M265.1 808.8 L352 799.5" fill="none" stroke="#b3b68c" stroke-width="4.0" stroke-linecap="round"/>
<path d="M265.1 808.8 L352 799.5" fill="none" stroke="#d6d8b2" stroke-width="3.2" stroke-linecap="round"/>
<circle cx="273.8" cy="807.9" r="0.8960000000000001" fill="#6fae5f"/>
<circle cx="282.5" cy="806.9" r="0.8960000000000001" fill="#6fae5f"/>
<circle cx="291.2" cy="806" r="0.8960000000000001" fill="#6fae5f"/>
<circle cx="299.9" cy="805.1" r="0.8960000000000001" fill="#6fae5f"/>
<circle cx="308.6" cy="804.1" r="0.8960000000000001" fill="#6fae5f"/>
<circle cx="317.2" cy="803.2" r="0.8960000000000001" fill="#6fae5f"/>
<circle cx="325.9" cy="802.3" r="0.8960000000000001" fill="#6fae5f"/>
<circle cx="334.6" cy="801.4" r="0.8960000000000001" fill="#6fae5f"/>
<circle cx="343.3" cy="800.4" r="0.8960000000000001" fill="#6fae5f"/>
<path d="M263.4 815.5 L357 803.3" fill="none" stroke="#b3b68c" stroke-width="4.0" stroke-linecap="round"/>
<path d="M263.4 815.5 L357 803.3" fill="none" stroke="#d6d8b2" stroke-width="3.2" stroke-linecap="round"/>
<circle cx="272.8" cy="814.3" r="0.8960000000000001" fill="#6fae5f"/>
<circle cx="282.1" cy="813.1" r="0.8960000000000001" fill="#6fae5f"/>
<circle cx="291.5" cy="811.8" r="0.8960000000000001" fill="#6fae5f"/>
<circle cx="300.8" cy="810.6" r="0.8960000000000001" fill="#6fae5f"/>
<circle cx="310.2" cy="809.4" r="0.8960000000000001" fill="#6fae5f"/>
<circle cx="319.6" cy="808.2" r="0.8960000000000001" fill="#6fae5f"/>
<circle cx="328.9" cy="807" r="0.8960000000000001" fill="#6fae5f"/>
<circle cx="338.3" cy="805.7" r="0.8960000000000001" fill="#6fae5f"/>
<circle cx="347.6" cy="804.5" r="0.8960000000000001" fill="#6fae5f"/>
<path d="M268.4 823.9 L359 813" fill="none" stroke="#b3b68c" stroke-width="4.0" stroke-linecap="round"/>
<path d="M268.4 823.9 L359 813" fill="none" stroke="#d6d8b2" stroke-width="3.2" stroke-linecap="round"/>
<circle cx="277.5" cy="822.8" r="0.8960000000000001" fill="#6fae5f"/>
<circle cx="286.5" cy="821.7" r="0.8960000000000001" fill="#6fae5f"/>
<circle cx="295.6" cy="820.6" r="0.8960000000000001" fill="#6fae5f"/>
<circle cx="304.6" cy="819.5" r="0.8960000000000001" fill="#6fae5f"/>
<circle cx="313.7" cy="818.5" r="0.8960000000000001" fill="#6fae5f"/>
<circle cx="322.8" cy="817.4" r="0.8960000000000001" fill="#6fae5f"/>
<circle cx="331.8" cy="816.3" r="0.8960000000000001" fill="#6fae5f"/>
<circle cx="340.9" cy="815.2" r="0.8960000000000001" fill="#6fae5f"/>
<circle cx="349.9" cy="814.1" r="0.8960000000000001" fill="#6fae5f"/>
<path d="M359.1 798.7 L363.8 797.8 L367.7 797.1" fill="none" stroke="#72bb62" stroke-width="0.9" stroke-linecap="round"/>
<path d="M363.8 797.8 L366.3 794.8" fill="none" stroke="#72bb62" stroke-width="0.54" stroke-linecap="round"/>
<path d="M363.8 797.8 L367.0 799.2" fill="none" stroke="#72bb62" stroke-width="0.54" stroke-linecap="round"/>
<path d="M367.7 797.1 L369.7 795.4" fill="none" stroke="#72bb62" stroke-width="0.405" stroke-linecap="round"/>
<path d="M367.7 797.1 L370.1 797.9" fill="none" stroke="#72bb62" stroke-width="0.405" stroke-linecap="round"/>
<path d="M359.1 798.7 L362.4 802.3 L365.2 805.3" fill="none" stroke="#72bb62" stroke-width="0.9" stroke-linecap="round"/>
<path d="M362.4 802.3 L366.4 802.8" fill="none" stroke="#72bb62" stroke-width="0.54" stroke-linecap="round"/>
<path d="M362.4 802.3 L363.0 805.8" fill="none" stroke="#72bb62" stroke-width="0.54" stroke-linecap="round"/>
<path d="M365.2 805.3 L367.7 806.1" fill="none" stroke="#72bb62" stroke-width="0.405" stroke-linecap="round"/>
<path d="M365.2 805.3 L365.8 807.9" fill="none" stroke="#72bb62" stroke-width="0.405" stroke-linecap="round"/>
<path d="M359.1 798.7 L359.5 804.2 L359.9 808.7" fill="none" stroke="#72bb62" stroke-width="0.9" stroke-linecap="round"/>
<path d="M359.5 804.2 L362.7 807.4" fill="none" stroke="#72bb62" stroke-width="0.54" stroke-linecap="round"/>
<path d="M359.5 804.2 L357.5 807.7" fill="none" stroke="#72bb62" stroke-width="0.54" stroke-linecap="round"/>
<path d="M359.9 808.7 L361.5 811.2" fill="none" stroke="#72bb62" stroke-width="0.405" stroke-linecap="round"/>
<path d="M359.9 808.7 L358.7 811.4" fill="none" stroke="#72bb62" stroke-width="0.405" stroke-linecap="round"/>
<path d="M359.1 798.7 L352.7 799.7 L347.5 800.5" fill="none" stroke="#72bb62" stroke-width="0.9" stroke-linecap="round"/>
<path d="M352.7 799.7 L349.2 803.7" fill="none" stroke="#72bb62" stroke-width="0.54" stroke-linecap="round"/>
<path d="M352.7 799.7 L348.5 797.7" fill="none" stroke="#72bb62" stroke-width="0.54" stroke-linecap="round"/>
<path d="M347.5 800.5 L344.7 802.7" fill="none" stroke="#72bb62" stroke-width="0.405" stroke-linecap="round"/>
<path d="M347.5 800.5 L344.1 799.3" fill="none" stroke="#72bb62" stroke-width="0.405" stroke-linecap="round"/>
<path d="M359.1 798.7 L355.0 795.7 L351.7 793.2" fill="none" stroke="#72bb62" stroke-width="0.9" stroke-linecap="round"/>
<path d="M355.0 795.7 L350.9 796.0" fill="none" stroke="#72bb62" stroke-width="0.54" stroke-linecap="round"/>
<path d="M355.0 795.7 L353.8 792.2" fill="none" stroke="#72bb62" stroke-width="0.54" stroke-linecap="round"/>
<path d="M351.7 793.2 L348.9 792.9" fill="none" stroke="#72bb62" stroke-width="0.405" stroke-linecap="round"/>
<path d="M351.7 793.2 L350.5 790.7" fill="none" stroke="#72bb62" stroke-width="0.405" stroke-linecap="round"/>
<path d="M359.1 798.7 L358.1 793.6 L357.2 789.4" fill="none" stroke="#72bb62" stroke-width="0.9" stroke-linecap="round"/>
<path d="M358.1 793.6 L354.7 790.9" fill="none" stroke="#72bb62" stroke-width="0.54" stroke-linecap="round"/>
<path d="M358.1 793.6 L359.6 790.1" fill="none" stroke="#72bb62" stroke-width="0.54" stroke-linecap="round"/>
<path d="M357.2 789.4 L355.4 787.2" fill="none" stroke="#72bb62" stroke-width="0.405" stroke-linecap="round"/>
<path d="M357.2 789.4 L358.1 786.7" fill="none" stroke="#72bb62" stroke-width="0.405" stroke-linecap="round"/>
<path d="M359.1 798.7 L361.2 794.4 L362.8 790.8" fill="none" stroke="#72bb62" stroke-width="0.9" stroke-linecap="round"/>
<path d="M361.2 794.4 L360.2 790.6" fill="none" stroke="#72bb62" stroke-width="0.54" stroke-linecap="round"/>
<path d="M361.2 794.4 L364.2 792.6" fill="none" stroke="#72bb62" stroke-width="0.54" stroke-linecap="round"/>
<path d="M362.8 790.8 L362.7 788.2" fill="none" stroke="#72bb62" stroke-width="0.405" stroke-linecap="round"/>
<path d="M362.8 790.8 L365.0 789.3" fill="none" stroke="#72bb62" stroke-width="0.405" stroke-linecap="round"/>
<circle cx="359.1" cy="798.7" r="3.4" fill="#72bb62"/>
<circle cx="359.1" cy="798.7" r="1.19" fill="#3a8a3a"/>
<path d="M375.9 802.0 L382.2 802.5 L387.4 803.0" fill="none" stroke="#72bb62" stroke-width="0.9" stroke-linecap="round"/>
<path d="M382.2 802.5 L386.4 799.6" fill="none" stroke="#72bb62" stroke-width="0.54" stroke-linecap="round"/>
<path d="M382.2 802.5 L385.8 805.5" fill="none" stroke="#72bb62" stroke-width="0.54" stroke-linecap="round"/>
<path d="M387.4 803.0 L390.5 801.6" fill="none" stroke="#72bb62" stroke-width="0.405" stroke-linecap="round"/>
<path d="M387.4 803.0 L390.2 804.9" fill="none" stroke="#72bb62" stroke-width="0.405" stroke-linecap="round"/>
<path d="M375.9 802.0 L379.0 808.1 L381.5 813.1" fill="none" stroke="#72bb62" stroke-width="0.9" stroke-linecap="round"/>
<path d="M379.0 808.1 L384.1 810.3" fill="none" stroke="#72bb62" stroke-width="0.54" stroke-linecap="round"/>
<path d="M379.0 808.1 L378.3 813.0" fill="none" stroke="#72bb62" stroke-width="0.54" stroke-linecap="round"/>
<path d="M381.5 813.1 L384.5 815.2" fill="none" stroke="#72bb62" stroke-width="0.405" stroke-linecap="round"/>
<path d="M381.5 813.1 L381.4 816.8" fill="none" stroke="#72bb62" stroke-width="0.405" stroke-linecap="round"/>
<path d="M375.9 802.0 L373.3 808.3 L371.2 813.4" fill="none" stroke="#72bb62" stroke-width="0.9" stroke-linecap="round"/>
<path d="M373.3 808.3 L375.0 813.5" fill="none" stroke="#72bb62" stroke-width="0.54" stroke-linecap="round"/>
<path d="M373.3 808.3 L369.2 810.9" fill="none" stroke="#72bb62" stroke-width="0.54" stroke-linecap="round"/>
<path d="M371.2 813.4 L371.6 817.0" fill="none" stroke="#72bb62" stroke-width="0.405" stroke-linecap="round"/>
<path d="M371.2 813.4 L368.3 815.7" fill="none" stroke="#72bb62" stroke-width="0.405" stroke-linecap="round"/>
<path d="M375.9 802.0 L371.9 806.0 L368.6 809.2" fill="none" stroke="#72bb62" stroke-width="0.9" stroke-linecap="round"/>
<path d="M371.9 806.0 L371.4 810.6" fill="none" stroke="#72bb62" stroke-width="0.54" stroke-linecap="round"/>
<path d="M371.9 806.0 L367.8 806.7" fill="none" stroke="#72bb62" stroke-width="0.54" stroke-linecap="round"/>
<path d="M368.6 809.2 L367.7 812.2" fill="none" stroke="#72bb62" stroke-width="0.405" stroke-linecap="round"/>
<path d="M368.6 809.2 L365.6 810.1" fill="none" stroke="#72bb62" stroke-width="0.405" stroke-linecap="round"/>
<path d="M375.9 802.0 L371.5 797.8 L367.8 794.4" fill="none" stroke="#72bb62" stroke-width="0.9" stroke-linecap="round"/>
<path d="M371.5 797.8 L366.5 797.5" fill="none" stroke="#72bb62" stroke-width="0.54" stroke-linecap="round"/>
<path d="M371.5 797.8 L370.5 793.5" fill="none" stroke="#72bb62" stroke-width="0.54" stroke-linecap="round"/>
<path d="M367.8 794.4 L364.6 793.5" fill="none" stroke="#72bb62" stroke-width="0.405" stroke-linecap="round"/>
<path d="M367.8 794.4 L366.8 791.2" fill="none" stroke="#72bb62" stroke-width="0.405" stroke-linecap="round"/>
<path d="M375.9 802.0 L376.2 797.2 L376.4 793.3" fill="none" stroke="#72bb62" stroke-width="0.9" stroke-linecap="round"/>
<path d="M376.2 797.2 L373.8 794.0" fill="none" stroke="#72bb62" stroke-width="0.54" stroke-linecap="round"/>
<path d="M376.2 797.2 L378.3 794.4" fill="none" stroke="#72bb62" stroke-width="0.54" stroke-linecap="round"/>
<path d="M376.4 793.3 L375.3 790.9" fill="none" stroke="#72bb62" stroke-width="0.405" stroke-linecap="round"/>
<path d="M376.4 793.3 L377.8 791.0" fill="none" stroke="#72bb62" stroke-width="0.405" stroke-linecap="round"/>
<path d="M375.9 802.0 L379.0 797.9 L381.6 794.6" fill="none" stroke="#72bb62" stroke-width="0.9" stroke-linecap="round"/>
<path d="M379.0 797.9 L378.8 793.7" fill="none" stroke="#72bb62" stroke-width="0.54" stroke-linecap="round"/>
<path d="M379.0 797.9 L382.6 796.7" fill="none" stroke="#72bb62" stroke-width="0.54" stroke-linecap="round"/>
<path d="M381.6 794.6 L382.0 791.8" fill="none" stroke="#72bb62" stroke-width="0.405" stroke-linecap="round"/>
<path d="M381.6 794.6 L384.1 793.4" fill="none" stroke="#72bb62" stroke-width="0.405" stroke-linecap="round"/>
<circle cx="375.9" cy="802" r="3.4" fill="#72bb62"/>
<circle cx="375.9" cy="802" r="1.19" fill="#3a8a3a"/>
<path d="M362.5 812.1 L368.9 813.4 L374.1 814.5" fill="none" stroke="#72bb62" stroke-width="0.9" stroke-linecap="round"/>
<path d="M368.9 813.4 L373.6 810.9" fill="none" stroke="#72bb62" stroke-width="0.54" stroke-linecap="round"/>
<path d="M368.9 813.4 L372.2 816.9" fill="none" stroke="#72bb62" stroke-width="0.54" stroke-linecap="round"/>
<path d="M374.1 814.5 L377.5 813.5" fill="none" stroke="#72bb62" stroke-width="0.405" stroke-linecap="round"/>
<path d="M374.1 814.5 L376.8 816.8" fill="none" stroke="#72bb62" stroke-width="0.405" stroke-linecap="round"/>
<path d="M362.5 812.1 L365.8 816.1 L368.4 819.4" fill="none" stroke="#72bb62" stroke-width="0.9" stroke-linecap="round"/>
<path d="M365.8 816.1 L369.9 816.9" fill="none" stroke="#72bb62" stroke-width="0.54" stroke-linecap="round"/>
<path d="M365.8 816.1 L366.1 819.9" fill="none" stroke="#72bb62" stroke-width="0.54" stroke-linecap="round"/>
<path d="M368.4 819.4 L371.0 820.5" fill="none" stroke="#72bb62" stroke-width="0.405" stroke-linecap="round"/>
<path d="M368.4 819.4 L369.0 822.2" fill="none" stroke="#72bb62" stroke-width="0.405" stroke-linecap="round"/>
<path d="M362.5 812.1 L363.3 818.2 L363.9 823.2" fill="none" stroke="#72bb62" stroke-width="0.9" stroke-linecap="round"/>
<path d="M363.3 818.2 L367.0 821.6" fill="none" stroke="#72bb62" stroke-width="0.54" stroke-linecap="round"/>
<path d="M363.3 818.2 L361.2 822.2" fill="none" stroke="#72bb62" stroke-width="0.54" stroke-linecap="round"/>
<path d="M363.9 823.2 L365.9 825.9" fill="none" stroke="#72bb62" stroke-width="0.405" stroke-linecap="round"/>
<path d="M363.9 823.2 L362.7 826.3" fill="none" stroke="#72bb62" stroke-width="0.405" stroke-linecap="round"/>
<path d="M362.5 812.1 L356.8 815.0 L352.2 817.3" fill="none" stroke="#72bb62" stroke-width="0.9" stroke-linecap="round"/>
<path d="M356.8 815.0 L354.8 819.8" fill="none" stroke="#72bb62" stroke-width="0.54" stroke-linecap="round"/>
<path d="M356.8 815.0 L352.2 814.4" fill="none" stroke="#72bb62" stroke-width="0.54" stroke-linecap="round"/>
<path d="M352.2 817.3 L350.2 820.2" fill="none" stroke="#72bb62" stroke-width="0.405" stroke-linecap="round"/>
<path d="M352.2 817.3 L348.7 817.2" fill="none" stroke="#72bb62" stroke-width="0.405" stroke-linecap="round"/>
<path d="M362.5 812.1 L356.5 809.8 L351.6 808.0" fill="none" stroke="#72bb62" stroke-width="0.9" stroke-linecap="round"/>
<path d="M356.5 809.8 L351.6 811.6" fill="none" stroke="#72bb62" stroke-width="0.54" stroke-linecap="round"/>
<path d="M356.5 809.8 L353.8 806.0" fill="none" stroke="#72bb62" stroke-width="0.54" stroke-linecap="round"/>
<path d="M351.6 808.0 L348.2 808.5" fill="none" stroke="#72bb62" stroke-width="0.405" stroke-linecap="round"/>
<path d="M351.6 808.0 L349.3 805.4" fill="none" stroke="#72bb62" stroke-width="0.405" stroke-linecap="round"/>
<path d="M362.5 812.1 L360.1 806.1 L358.1 801.2" fill="none" stroke="#72bb62" stroke-width="0.9" stroke-linecap="round"/>
<path d="M360.1 806.1 L355.4 803.6" fill="none" stroke="#72bb62" stroke-width="0.54" stroke-linecap="round"/>
<path d="M360.1 806.1 L361.1 801.5" fill="none" stroke="#72bb62" stroke-width="0.54" stroke-linecap="round"/>
<path d="M358.1 801.2 L355.4 798.9" fill="none" stroke="#72bb62" stroke-width="0.405" stroke-linecap="round"/>
<path d="M358.1 801.2 L358.5 797.7" fill="none" stroke="#72bb62" stroke-width="0.405" stroke-linecap="round"/>
<path d="M362.5 812.1 L366.6 808.4 L370.0 805.3" fill="none" stroke="#72bb62" stroke-width="0.9" stroke-linecap="round"/>
<path d="M366.6 808.4 L367.2 803.9" fill="none" stroke="#72bb62" stroke-width="0.54" stroke-linecap="round"/>
<path d="M366.6 808.4 L370.6 807.8" fill="none" stroke="#72bb62" stroke-width="0.54" stroke-linecap="round"/>
<path d="M370.0 805.3 L371.0 802.5" fill="none" stroke="#72bb62" stroke-width="0.405" stroke-linecap="round"/>
<path d="M370.0 805.3 L372.9 804.6" fill="none" stroke="#72bb62" stroke-width="0.405" stroke-linecap="round"/>
<circle cx="362.5" cy="812.1" r="3.4" fill="#72bb62"/>
<circle cx="362.5" cy="812.1" r="1.19" fill="#3a8a3a"/>
<circle cx="439.1" cy="788.2" r="34.4" fill="#fdfafd"/>
<circle cx="438" cy="762.8" r="4.3" fill="#f3bcc4"/>
<circle cx="439.4" cy="784.6" r="4.3" fill="#f3bcc4"/>
<circle cx="463.3" cy="789" r="4.3" fill="#f4c6b8"/>
<circle cx="452.4" cy="764.1" r="4.3" fill="#b0609a"/>
<circle cx="451.6" cy="763.5" r="1.0" fill="#9a4a86"/>
<circle cx="430.1" cy="774.6" r="4.3" fill="#b0609a"/>
<circle cx="429.3" cy="774" r="1.0" fill="#9a4a86"/>
<circle cx="461.2" cy="778.5" r="4.3" fill="#b0609a"/>
<circle cx="460.4" cy="777.9" r="1.0" fill="#9a4a86"/>
<circle cx="457.4" cy="801.2" r="4.3" fill="#b0609a"/>
<circle cx="456.6" cy="800.6" r="1.0" fill="#9a4a86"/>
<circle cx="419.2" cy="774.6" r="4.3" fill="#f7f0b4"/>
<circle cx="419.2" cy="774.6" r="1.6" fill="#d9b362"/>
<circle cx="447.4" cy="775" r="4.3" fill="#f7f0b4"/>
<circle cx="447.4" cy="775" r="1.6" fill="#d9b362"/>
<circle cx="451.4" cy="788" r="4.3" fill="#f7f0b4"/>
<circle cx="451.4" cy="788" r="1.6" fill="#d9b362"/>
<path d="M416 793 Q420 785 430 788 Q440 791 444 800 Q448 810 441 817 Q434 820 428 816 Q433 812 437 806 Q438 799 430 796 Q422 794 418 800 Q414 797 416 793 Z" fill="#a9b0ef" opacity="0.95"/>
<path d="M415 797 Q413 806 418 812 Q420 806 420 800 Z" fill="#a9b0ef" opacity="0.9"/>
<circle cx="429.8" cy="803.7" r="12.3" fill="#fdf4f5" stroke="#df7a8a" stroke-width="0.9"/>
<circle cx="441.1" cy="808.5" r="1.0" fill="#e86a7a"/>
<circle cx="431.3" cy="815.9" r="1.0" fill="#e86a7a"/>
<circle cx="420" cy="811.1" r="1.0" fill="#e86a7a"/>
<circle cx="418.5" cy="798.9" r="1.0" fill="#e86a7a"/>
<circle cx="428.3" cy="791.5" r="1.0" fill="#e86a7a"/>
<circle cx="439.6" cy="796.3" r="1.0" fill="#e86a7a"/>
<circle cx="433.8" cy="800.3" r="4.2" fill="#f7f0b4"/>
<circle cx="433.8" cy="800.3" r="1.6" fill="#d9b362"/>
<circle cx="425.2" cy="808.3" r="4.2" fill="#f3bcc4"/>
<circle cx="439.1" cy="788.2" r="34.4" fill="none" stroke="#7cc06c" stroke-width="2.8"/>
<circle cx="439.1" cy="752.6" r="1.7" fill="#7cc06c"/>
<circle cx="462" cy="760.9" r="1.7" fill="#7cc06c"/>
<circle cx="474.2" cy="782" r="1.7" fill="#7cc06c"/>
<circle cx="469.9" cy="806" r="1.7" fill="#7cc06c"/>
<circle cx="451.2" cy="821.7" r="1.7" fill="#7cc06c"/>
<circle cx="426.9" cy="821.6" r="1.7" fill="#7cc06c"/>
<circle cx="408.3" cy="806" r="1.7" fill="#7cc06c"/>
<circle cx="404" cy="782" r="1.7" fill="#7cc06c"/>
<circle cx="416.2" cy="760.9" r="1.7" fill="#7cc06c"/>
<text x="501" y="495.5" font-size="14.8" font-weight="bold">j</text>
<rect x="507.1" y="502" width="11.4" height="156.6" fill="url(#cbarJy)"/>
<rect x="518.5" y="658.6" width="166.5" height="14.2" fill="url(#cbarJx)"/>
<line x1="518.5" y1="502" x2="518.5" y2="658.6" stroke="#333" stroke-width="1"/>
<line x1="518.5" y1="658.6" x2="685" y2="658.6" stroke="#333" stroke-width="1"/>
<line x1="526.4" y1="502" x2="526.4" y2="658.6" stroke="#cfcfcf" stroke-width="0.9"/>
<line x1="518.5" y1="651.5" x2="685" y2="651.5" stroke="#cfcfcf" stroke-width="0.9"/>
<line x1="515.5" y1="651.5" x2="518.5" y2="651.5" stroke="#333" stroke-width="0.8"/>
<text x="513.3" y="654.9" font-size="9.7" fill="#222" text-anchor="end">0</text>
<line x1="515.5" y1="618" x2="518.5" y2="618" stroke="#333" stroke-width="0.8"/>
<text x="513.3" y="621.4" font-size="9.7" fill="#222" text-anchor="end">2</text>
<line x1="515.5" y1="584.5" x2="518.5" y2="584.5" stroke="#333" stroke-width="0.8"/>
<text x="513.3" y="587.9" font-size="9.7" fill="#222" text-anchor="end">4</text>
<line x1="515.5" y1="551" x2="518.5" y2="551" stroke="#333" stroke-width="0.8"/>
<text x="513.3" y="554.4" font-size="9.7" fill="#222" text-anchor="end">6</text>
<line x1="515.5" y1="517.5" x2="518.5" y2="517.5" stroke="#333" stroke-width="0.8"/>
<text x="513.3" y="520.9" font-size="9.7" fill="#222" text-anchor="end">8</text>
<line x1="526.4" y1="658.6" x2="526.4" y2="661.5" stroke="#333" stroke-width="0.8"/>
<text x="526.4" y="670.8" font-size="9.7" fill="#222" text-anchor="middle">0.0</text>
<line x1="570.5" y1="658.6" x2="570.5" y2="661.5" stroke="#333" stroke-width="0.8"/>
<text x="570.5" y="670.8" font-size="9.7" fill="#222" text-anchor="middle">0.5</text>
<line x1="614.6" y1="658.6" x2="614.6" y2="661.5" stroke="#333" stroke-width="0.8"/>
<text x="614.6" y="670.8" font-size="9.7" fill="#222" text-anchor="middle">1.0</text>
<line x1="658.7" y1="658.6" x2="658.7" y2="661.5" stroke="#333" stroke-width="0.8"/>
<text x="658.7" y="670.8" font-size="9.7" fill="#222" text-anchor="middle">1.5</text>
<text x="601" y="680" font-size="9.7" fill="#111" text-anchor="middle">CEL coefficient</text>
<text x="503.8" y="580" font-size="9.7" fill="#111" text-anchor="middle" transform="rotate(-90 503.8 580)">CEL-NEFL residuals coefficient</text>
<rect x="533.3" y="503.5" width="44.1" height="13.3" fill="#fff" stroke="#5a9a4a" stroke-width="0.8" rx="2.5"/>
<text x="555.4" y="513.4" font-size="8.7" fill="#4a8a3a" text-anchor="middle">Neurons</text>
<rect x="583.1" y="503.5" width="50.7" height="13.3" fill="#fff" stroke="#e58a80" stroke-width="0.8" rx="2.5"/>
<text x="608.5" y="513.4" font-size="8.6" fill="#e06a60" text-anchor="middle">Monocytes</text>
<text x="683" y="649.2" font-size="8.6" fill="#111" text-anchor="end">n=24</text>
<line x1="621.5" y1="541" x2="616.4" y2="557.8" stroke="#bbb" stroke-width="0.5"/>
<line x1="657.4" y1="591.7" x2="641.4" y2="576.9" stroke="#bbb" stroke-width="0.5"/>
<line x1="546.1" y1="623.6" x2="562.4" y2="606" stroke="#bbb" stroke-width="0.5"/>
<line x1="589.3" y1="634.4" x2="571" y2="606" stroke="#bbb" stroke-width="0.5"/>
<line x1="543.5" y1="588" x2="562" y2="600" stroke="#bbb" stroke-width="0.5"/>
<line x1="592.5" y1="604.5" x2="571" y2="604" stroke="#bbb" stroke-width="0.5"/>
<circle cx="669.9" cy="522.8" r="2.4" fill="#fff" stroke="#999" stroke-width="0.6"/>
<circle cx="623.2" cy="530.2" r="2.4" fill="#fff" stroke="#999" stroke-width="0.6"/>
<circle cx="670.5" cy="559.5" r="2.4" fill="#fff" stroke="#999" stroke-width="0.6"/>
<circle cx="605.9" cy="567.8" r="2.4" fill="#fff" stroke="#999" stroke-width="0.6"/>
<circle cx="606.7" cy="575.5" r="2.4" fill="#fff" stroke="#999" stroke-width="0.6"/>
<circle cx="598.2" cy="579.2" r="2.4" fill="#fff" stroke="#999" stroke-width="0.6"/>
<circle cx="563.4" cy="591.1" r="2.4" fill="#fff" stroke="#999" stroke-width="0.6"/>
<circle cx="563.2" cy="596.8" r="2.4" fill="#fff" stroke="#999" stroke-width="0.6"/>
<circle cx="571.1" cy="595.7" r="2.4" fill="#fff" stroke="#999" stroke-width="0.6"/>
<circle cx="569.7" cy="600.2" r="2.4" fill="#fff" stroke="#999" stroke-width="0.6"/>
<circle cx="606.7" cy="603.1" r="2.4" fill="#fff" stroke="#999" stroke-width="0.6"/>
<circle cx="538.4" cy="637.3" r="2.4" fill="#fff" stroke="#999" stroke-width="0.6"/>
<circle cx="616.4" cy="557.8" r="2.5" fill="#e0867c" stroke="#a05a50" stroke-width="0.5"/>
<circle cx="641.4" cy="576.9" r="2.5" fill="#e0867c" stroke="#a05a50" stroke-width="0.5"/>
<circle cx="571.1" cy="588.3" r="2.5" fill="#e0867c" stroke="#a05a50" stroke-width="0.5"/>
<circle cx="562.3" cy="603.1" r="2.5" fill="#e0867c" stroke="#a05a50" stroke-width="0.5"/>
<circle cx="562.6" cy="607.9" r="2.5" fill="#e0867c" stroke="#a05a50" stroke-width="0.5"/>
<circle cx="571.1" cy="604.2" r="2.5" fill="#e0867c" stroke="#a05a50" stroke-width="0.5"/>
<circle cx="569.1" cy="607.9" r="2.5" fill="#e0867c" stroke="#a05a50" stroke-width="0.5"/>
<circle cx="675.6" cy="526.8" r="2.5" fill="#6a9a5a" stroke="#3a6a2a" stroke-width="0.5"/>
<circle cx="571.1" cy="586" r="2.5" fill="#8ac07a" stroke="#5a8a4a" stroke-width="0.5"/>
<rect x="648" y="522" width="24" height="9.6" fill="#fff" stroke="#8ab87a" stroke-width="0.6" rx="2" fill-opacity="0.9"/>
<text x="660" y="529.4" font-size="7.2" fill="#4a8a3a" text-anchor="middle">NEFH</text>
<rect x="600.7" y="536.2" width="41.6" height="9.6" fill="#fff" stroke="#f0b0a8" stroke-width="0.6" rx="2" fill-opacity="0.9"/>
<text x="621.5" y="543.6" font-size="7.2" fill="#e07068" text-anchor="middle">TNFRSF1B</text>
<rect x="569.6" y="564.1" width="25.7" height="9.6" fill="#fff" stroke="#f0b0a8" stroke-width="0.6" rx="2" fill-opacity="0.9"/>
<text x="582.5" y="571.5" font-size="7.2" fill="#e07068" text-anchor="middle">WARS</text>
<rect x="567.7" y="574.7" width="22.8" height="9.6" fill="#fff" stroke="#8ab87a" stroke-width="0.6" rx="2" fill-opacity="0.9"/>
<text x="579.1" y="582.1" font-size="7.2" fill="#4a8a3a" text-anchor="middle">NEFL</text>
<rect x="527.5" y="583.2" width="32" height="9.6" fill="#fff" stroke="#f0b0a8" stroke-width="0.6" rx="2" fill-opacity="0.9"/>
<text x="543.5" y="590.6" font-size="7.2" fill="#e07068" text-anchor="middle">CD300C</text>
<rect x="643" y="586.9" width="28.8" height="9.6" fill="#fff" stroke="#f0b0a8" stroke-width="0.6" rx="2" fill-opacity="0.9"/>
<text x="657.4" y="594.3" font-size="7.2" fill="#e07068" text-anchor="middle">TREM1</text>
<rect x="578.3" y="599.7" width="28.4" height="9.6" fill="#fff" stroke="#f0b0a8" stroke-width="0.6" rx="2" fill-opacity="0.9"/>
<text x="592.5" y="607.1" font-size="7.2" fill="#e07068" text-anchor="middle">LILRA5</text>
<rect x="530.3" y="618.8" width="31.6" height="9.6" fill="#fff" stroke="#f0b0a8" stroke-width="0.6" rx="2" fill-opacity="0.9"/>
<text x="546.1" y="626.2" font-size="7.2" fill="#e07068" text-anchor="middle">LGALS9</text>
<rect x="577.7" y="629.6" width="23.2" height="9.6" fill="#fff" stroke="#f0b0a8" stroke-width="0.6" rx="2" fill-opacity="0.9"/>
<text x="589.3" y="637" font-size="7.2" fill="#e07068" text-anchor="middle">OLR1</text>
<text x="498.4" y="688.7" font-size="14.8" font-weight="bold">k</text>
<rect x="507.1" y="692.2" width="11.4" height="156.6" fill="url(#cbarKy)"/>
<rect x="518.5" y="848.8" width="166.5" height="14.2" fill="url(#cbarKx)"/>
<line x1="518.5" y1="692.2" x2="518.5" y2="848.8" stroke="#333" stroke-width="1"/>
<line x1="518.5" y1="848.8" x2="685" y2="848.8" stroke="#333" stroke-width="1"/>
<line x1="676.5" y1="692.2" x2="676.5" y2="848.8" stroke="#cfcfcf" stroke-width="0.9"/>
<line x1="518.5" y1="841.6" x2="685" y2="841.6" stroke="#cfcfcf" stroke-width="0.9"/>
<line x1="515.5" y1="841.6" x2="518.5" y2="841.6" stroke="#333" stroke-width="0.8"/>
<text x="513.3" y="845" font-size="9.7" fill="#222" text-anchor="end">0</text>
<line x1="515.5" y1="807.8" x2="518.5" y2="807.8" stroke="#333" stroke-width="0.8"/>
<text x="513.3" y="811.2" font-size="9.7" fill="#222" text-anchor="end">1</text>
<line x1="515.5" y1="774" x2="518.5" y2="774" stroke="#333" stroke-width="0.8"/>
<text x="513.3" y="777.4" font-size="9.7" fill="#222" text-anchor="end">2</text>
<line x1="515.5" y1="740.2" x2="518.5" y2="740.2" stroke="#333" stroke-width="0.8"/>
<text x="513.3" y="743.6" font-size="9.7" fill="#222" text-anchor="end">3</text>
<line x1="515.5" y1="706.4" x2="518.5" y2="706.4" stroke="#333" stroke-width="0.8"/>
<text x="513.3" y="709.8" font-size="9.7" fill="#222" text-anchor="end">4</text>
<line x1="538.1" y1="848.8" x2="538.1" y2="851.7" stroke="#333" stroke-width="0.8"/>
<text x="538.1" y="860.7" font-size="9.7" fill="#222" text-anchor="middle">-0.6</text>
<line x1="584.3" y1="848.8" x2="584.3" y2="851.7" stroke="#333" stroke-width="0.8"/>
<text x="584.3" y="860.7" font-size="9.7" fill="#222" text-anchor="middle">-0.4</text>
<line x1="630.4" y1="848.8" x2="630.4" y2="851.7" stroke="#333" stroke-width="0.8"/>
<text x="630.4" y="860.7" font-size="9.7" fill="#222" text-anchor="middle">-0.2</text>
<line x1="676.5" y1="848.8" x2="676.5" y2="851.7" stroke="#333" stroke-width="0.8"/>
<text x="676.5" y="860.7" font-size="9.7" fill="#222" text-anchor="middle">0.0</text>
<text x="601" y="869.3" font-size="9.7" fill="#111" text-anchor="middle">CEL coefficient</text>
<text x="503.8" y="770.5" font-size="9.7" fill="#111" text-anchor="middle" transform="rotate(-90 503.8 770.5)">CEL-NEFL residuals coefficient</text>
<rect x="523.6" y="692.2" width="49" height="13.4" fill="#fff" stroke="#666" stroke-width="0.8" rx="2.5"/>
<text x="548.1" y="702.2" font-size="8.6" fill="#555" text-anchor="middle">Fibroblasts</text>
<rect x="578.8" y="692.2" width="102.5" height="13.4" fill="#fff" stroke="#c8b078" stroke-width="0.8" rx="2.5"/>
<text x="630.1" y="702.2" font-size="8.6" fill="#b8a068" text-anchor="middle">Vascular/Endothelial cells</text>
<text x="527.6" y="840.2" font-size="8.6" fill="#111">n=59</text>
<line x1="549.2" y1="725.5" x2="574" y2="769" stroke="#ccc" stroke-width="0.5"/>
<line x1="599" y1="726.1" x2="597" y2="766" stroke="#ccc" stroke-width="0.5"/>
<line x1="630.3" y1="754.8" x2="615" y2="769" stroke="#ccc" stroke-width="0.5"/>
<line x1="656.5" y1="782.4" x2="616" y2="785" stroke="#ccc" stroke-width="0.5"/>
<line x1="571.1" y1="821.7" x2="595" y2="781" stroke="#ccc" stroke-width="0.5"/>
<line x1="605.3" y1="826.3" x2="600" y2="798" stroke="#ccc" stroke-width="0.5"/>
<line x1="645.1" y1="826.3" x2="605" y2="779" stroke="#ccc" stroke-width="0.5"/>
<line x1="584.8" y1="803.8" x2="596.7" y2="797.5" stroke="#ccc" stroke-width="0.5"/>
<circle cx="546.9" cy="750.6" r="2.4" fill="#fff" stroke="#999" stroke-width="0.6"/>
<circle cx="579.1" cy="754" r="2.4" fill="#fff" stroke="#999" stroke-width="0.6"/>
<circle cx="599.6" cy="751.7" r="2.4" fill="#fff" stroke="#999" stroke-width="0.6"/>
<circle cx="605.3" cy="756.8" r="2.4" fill="#fff" stroke="#999" stroke-width="0.6"/>
<circle cx="615.2" cy="751.1" r="2.4" fill="#fff" stroke="#999" stroke-width="0.6"/>
<circle cx="580" cy="774" r="2.4" fill="#fff" stroke="#999" stroke-width="0.6"/>
<circle cx="583" cy="776" r="2.4" fill="#fff" stroke="#999" stroke-width="0.6"/>
<circle cx="587.5" cy="778.5" r="2.4" fill="#fff" stroke="#999" stroke-width="0.6"/>
<circle cx="597" cy="768" r="2.4" fill="#fff" stroke="#999" stroke-width="0.6"/>
<circle cx="604" cy="771" r="2.4" fill="#fff" stroke="#999" stroke-width="0.6"/>
<circle cx="610" cy="775" r="2.4" fill="#fff" stroke="#999" stroke-width="0.6"/>
<circle cx="620" cy="770" r="2.4" fill="#fff" stroke="#999" stroke-width="0.6"/>
<circle cx="622" cy="773" r="2.4" fill="#fff" stroke="#999" stroke-width="0.6"/>
<circle cx="596" cy="783" r="2.4" fill="#fff" stroke="#999" stroke-width="0.6"/>
<circle cx="607" cy="787" r="2.4" fill="#fff" stroke="#999" stroke-width="0.6"/>
<circle cx="612" cy="790" r="2.4" fill="#fff" stroke="#999" stroke-width="0.6"/>
<circle cx="618" cy="789" r="2.4" fill="#fff" stroke="#999" stroke-width="0.6"/>
<circle cx="624" cy="784" r="2.4" fill="#fff" stroke="#999" stroke-width="0.6"/>
<circle cx="630" cy="785" r="2.4" fill="#fff" stroke="#999" stroke-width="0.6"/>
<circle cx="627" cy="791" r="2.4" fill="#fff" stroke="#999" stroke-width="0.6"/>
<circle cx="633" cy="793" r="2.4" fill="#fff" stroke="#999" stroke-width="0.6"/>
<circle cx="605" cy="795" r="2.4" fill="#fff" stroke="#999" stroke-width="0.6"/>
<circle cx="612" cy="797" r="2.4" fill="#fff" stroke="#999" stroke-width="0.6"/>
<circle cx="600" cy="794" r="2.4" fill="#fff" stroke="#999" stroke-width="0.6"/>
<circle cx="595" cy="775" r="2.4" fill="#fff" stroke="#999" stroke-width="0.6"/>
<circle cx="590" cy="781" r="2.4" fill="#fff" stroke="#999" stroke-width="0.6"/>
<circle cx="603" cy="780" r="2.4" fill="#fff" stroke="#999" stroke-width="0.6"/>
<circle cx="617" cy="779" r="2.4" fill="#fff" stroke="#999" stroke-width="0.6"/>
<circle cx="545.5" cy="762.5" r="2.5" fill="#7a7a7a" stroke="#444" stroke-width="0.5"/>
<circle cx="595.9" cy="766.8" r="2.5" fill="#7a7a7a" stroke="#444" stroke-width="0.5"/>
<circle cx="614.4" cy="769.6" r="2.5" fill="#7a7a7a" stroke="#444" stroke-width="0.5"/>
<circle cx="551.2" cy="786.7" r="2.5" fill="#7a7a7a" stroke="#444" stroke-width="0.5"/>
<circle cx="615.5" cy="785.9" r="2.5" fill="#7a7a7a" stroke="#444" stroke-width="0.5"/>
<circle cx="596.7" cy="797.5" r="2.5" fill="#7a7a7a" stroke="#444" stroke-width="0.5"/>
<circle cx="573.4" cy="769.6" r="2.5" fill="#c8b07a" stroke="#8a7040" stroke-width="0.5"/>
<circle cx="576.8" cy="769.6" r="2.5" fill="#c8b07a" stroke="#8a7040" stroke-width="0.5"/>
<circle cx="595.3" cy="780.4" r="2.5" fill="#c8b07a" stroke="#8a7040" stroke-width="0.5"/>
<circle cx="603.9" cy="778.2" r="2.5" fill="#c8b07a" stroke="#8a7040" stroke-width="0.5"/>
<circle cx="598" cy="777.5" r="2.5" fill="#c8b07a" stroke="#8a7040" stroke-width="0.5"/>
<circle cx="603.3" cy="791.5" r="2.5" fill="#c8b07a" stroke="#8a7040" stroke-width="0.5"/>
<circle cx="599.6" cy="798.1" r="2.5" fill="#c8b07a" stroke="#8a7040" stroke-width="0.5"/>
<rect x="535.2" y="720.7" width="28" height="9.6" fill="#fff" stroke="#dccb98" stroke-width="0.6" rx="2" fill-opacity="0.9"/>
<text x="549.2" y="728.1" font-size="7.2" fill="#c0a060" text-anchor="middle">PEAR1</text>
<rect x="587.6" y="721.3" width="22.8" height="9.6" fill="#fff" stroke="#dccb98" stroke-width="0.6" rx="2" fill-opacity="0.9"/>
<text x="599" y="728.7" font-size="7.2" fill="#c0a060" text-anchor="middle">JAM2</text>
<rect x="618.5" y="750" width="23.6" height="9.6" fill="#fff" stroke="#dccb98" stroke-width="0.6" rx="2" fill-opacity="0.9"/>
<text x="630.3" y="757.4" font-size="7.2" fill="#c0a060" text-anchor="middle">NRP2</text>
<rect x="536.8" y="750.6" width="32.8" height="9.6" fill="#fff" stroke="#888" stroke-width="0.6" rx="2" fill-opacity="0.9"/>
<text x="553.2" y="758" font-size="7.2" fill="#555" text-anchor="middle">SCARF2</text>
<rect x="576" y="754.3" width="24.4" height="9.6" fill="#fff" stroke="#888" stroke-width="0.6" rx="2" fill-opacity="0.9"/>
<text x="588.2" y="761.7" font-size="7.2" fill="#555" text-anchor="middle">ECM1</text>
<rect x="604.9" y="772.5" width="29.2" height="9.6" fill="#fff" stroke="#888" stroke-width="0.6" rx="2" fill-opacity="0.9"/>
<text x="619.5" y="779.9" font-size="7.2" fill="#555" text-anchor="middle">MXRA8</text>
<rect x="646.7" y="777.6" width="19.6" height="9.6" fill="#fff" stroke="#dccb98" stroke-width="0.6" rx="2" fill-opacity="0.9"/>
<text x="656.5" y="785" font-size="7.2" fill="#c0a060" text-anchor="middle">KDR</text>
<rect x="546.8" y="774.8" width="24.8" height="9.6" fill="#fff" stroke="#888" stroke-width="0.6" rx="2" fill-opacity="0.9"/>
<text x="559.2" y="782.2" font-size="7.2" fill="#555" text-anchor="middle">APOD</text>
<rect x="535.8" y="788.5" width="29.6" height="9.6" fill="#fff" stroke="#dccb98" stroke-width="0.6" rx="2" fill-opacity="0.9"/>
<text x="550.6" y="795.9" font-size="7.2" fill="#c0a060" text-anchor="middle">ROBO4</text>
<rect x="611.7" y="788.5" width="22.4" height="9.6" fill="#fff" stroke="#888" stroke-width="0.6" rx="2" fill-opacity="0.9"/>
<text x="622.9" y="795.9" font-size="7.2" fill="#555" text-anchor="middle">NBL1</text>
<rect x="570.8" y="799" width="28" height="9.6" fill="#fff" stroke="#888" stroke-width="0.6" rx="2" fill-opacity="0.9"/>
<text x="584.8" y="806.4" font-size="7.2" fill="#555" text-anchor="middle">PRSS8</text>
<rect x="561.3" y="816.9" width="19.6" height="9.6" fill="#fff" stroke="#dccb98" stroke-width="0.6" rx="2" fill-opacity="0.9"/>
<text x="571.1" y="824.3" font-size="7.2" fill="#c0a060" text-anchor="middle">TIE1</text>
<rect x="594.5" y="821.5" width="21.6" height="9.6" fill="#fff" stroke="#dccb98" stroke-width="0.6" rx="2" fill-opacity="0.9"/>
<text x="605.3" y="828.9" font-size="7.2" fill="#c0a060" text-anchor="middle">DLL1</text>
<rect x="623.5" y="821.5" width="43.2" height="9.6" fill="#fff" stroke="#dccb98" stroke-width="0.6" rx="2" fill-opacity="0.9"/>
<text x="645.1" y="828.9" font-size="7.2" fill="#c0a060" text-anchor="middle">PCDHGA12</text>
</svg>
</body></html>
